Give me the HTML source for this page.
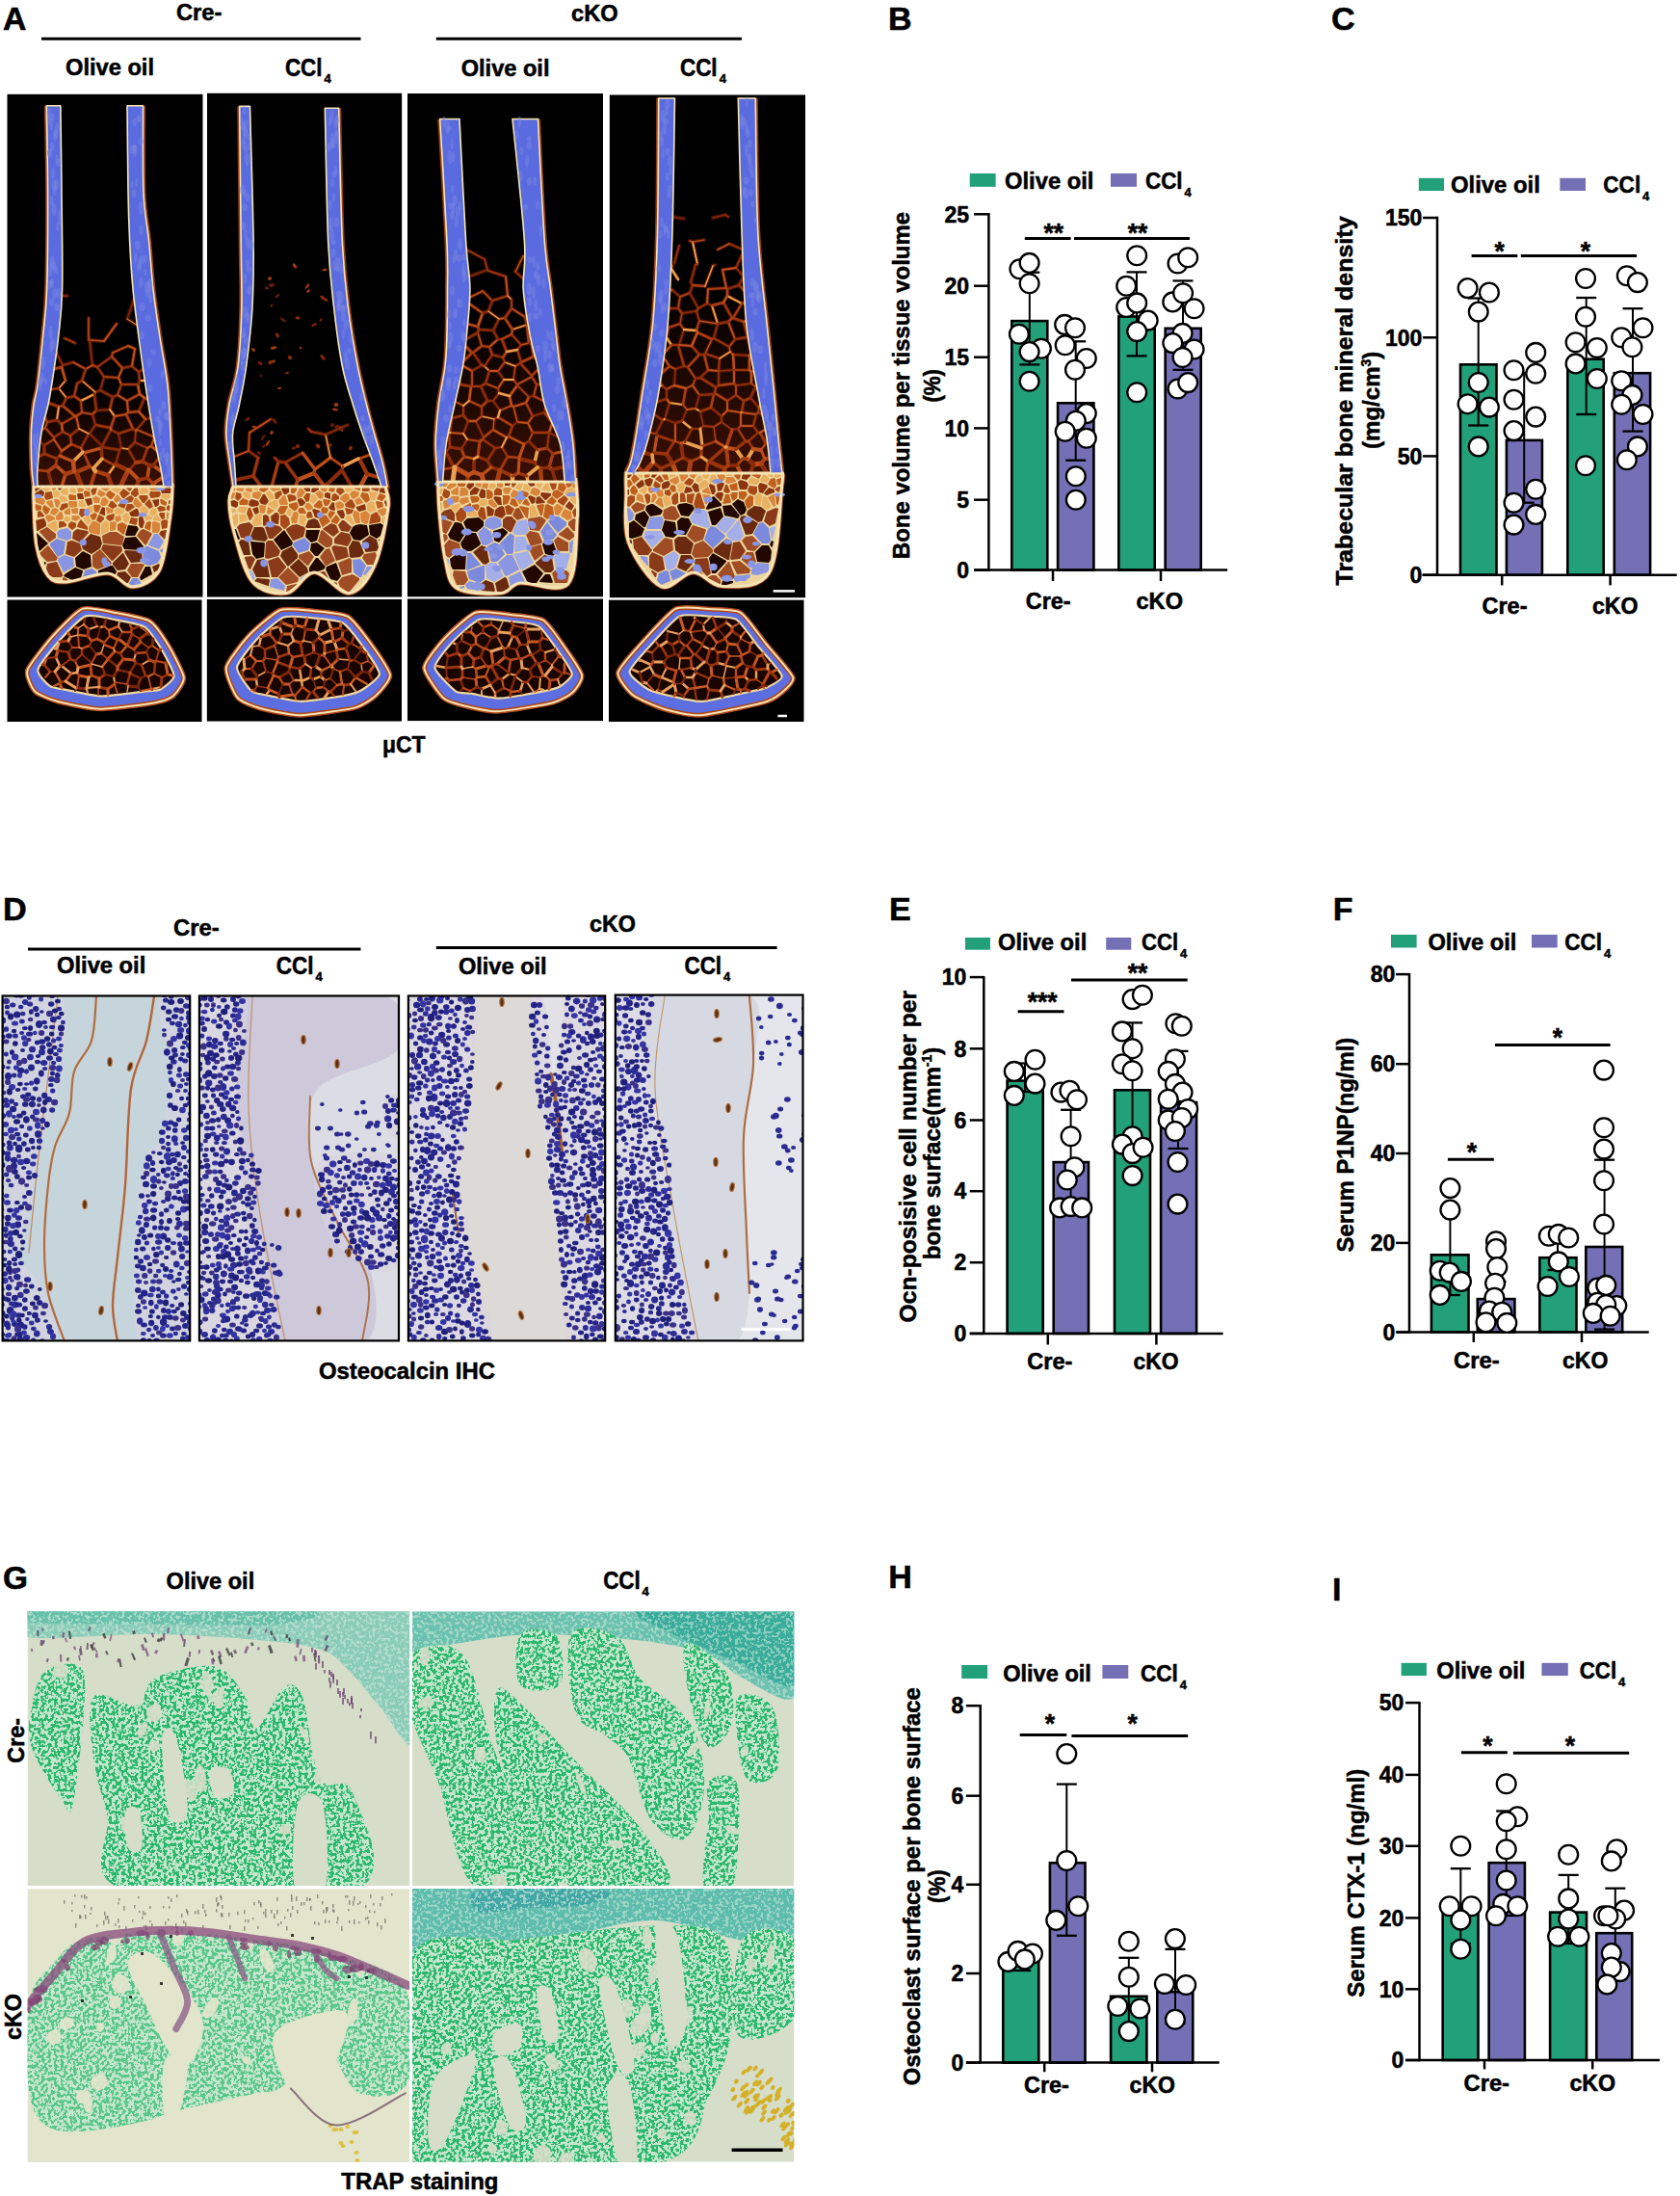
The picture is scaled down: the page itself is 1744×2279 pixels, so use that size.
<!DOCTYPE html><html><head><meta charset="utf-8"><style>html,body{margin:0;padding:0;background:#fff;width:1744px;height:2279px;overflow:hidden;position:relative} text{stroke:#000;stroke-width:0.55px;paint-order:stroke}</style></head><body><svg width="1744" height="2279" viewBox="0 0 1744 2279" style="position:absolute;left:0;top:0;font-family:'Liberation Sans',sans-serif;font-weight:bold">
<rect width="100%" height="100%" fill="#fff"/>
<clipPath id="mclip0"><rect x="7.3" y="97.6" width="203.4" height="522.1"/></clipPath>
<g clip-path="url(#mclip0)">
<rect x="7.3" y="97.6" width="203.4" height="522.1" fill="#000"/>
<path d="M48.3,109.7 C48.5,124.8 49.5,168.3 49.6,200.0 C49.7,231.7 49.5,275.0 48.6,300.0 C47.8,325.0 46.1,333.3 44.5,350.0 C42.9,366.7 40.6,388.3 39.0,400.0 C37.4,411.7 36.1,411.8 35.0,420.0 C33.9,428.2 32.7,438.0 32.4,449.0 C32.1,460.0 32.6,476.7 33.0,486.0 C33.4,495.3 34.7,499.3 35.0,505.0 C35.3,510.7 34.5,509.7 35.0,520.0 C35.5,530.3 35.5,553.8 38.0,566.7 C40.5,579.7 44.8,591.5 50.0,597.7 C55.2,603.9 58.7,604.5 69.0,604.0 C79.3,603.5 100.5,594.2 112.0,595.0 C123.5,595.8 129.1,609.6 138.0,609.0 C146.9,608.4 159.1,603.7 165.5,591.5 C171.9,579.3 174.4,550.2 176.7,535.8 C178.9,521.4 178.6,510.1 179.0,505.0 C179.4,499.9 179.1,508.2 179.0,505.0 C178.9,501.8 178.8,495.3 178.5,486.0 C178.2,476.7 177.8,463.3 177.0,449.0 C176.2,434.7 175.8,416.5 174.0,400.0 C172.2,383.5 168.5,366.7 166.0,350.0 C163.5,333.3 160.9,316.7 159.0,300.0 C157.1,283.3 156.3,266.7 154.6,250.0 C152.9,233.3 150.0,223.4 149.0,200.0 C148.0,176.6 148.6,124.8 148.5,109.7" fill="none" stroke="#b0461a" stroke-width="5" stroke-linejoin="round" opacity="0.85"/>
<linearGradient id="mgb0" x1="0" y1="97.6" x2="0" y2="619.7" gradientUnits="userSpaceOnUse"><stop offset="0" stop-color="#000"/><stop offset="0.579" stop-color="#000"/><stop offset="0.780" stop-color="#3c1004"/><stop offset="1" stop-color="#3c1004"/></linearGradient>
<path d="M62.9,109.7 L64.0,200.0 L64.6,300.0 L60.6,350.0 L53.6,400.0 L50.0,420.0 L43.0,449.0 L39.0,486.0 L39.0,505.0 L170.0,505.0 L166.8,486.0 L159.0,449.0 L151.0,400.0 L144.0,350.0 L138.0,300.0 L134.6,250.0 L133.0,200.0 L132.0,109.7Z" fill="url(#mgb0)"/>
<path d="M39,488L50,489M78,432L65,421M85,428L79,432M119,483L120,482M115,444L119,432M138,445L131,430M87,470L93,484M119,483L106,476M96,430L100,426M160,455L159,453M150,413L153,414M133,428L144,427M132,416L145,409M84,416L77,411M127,382L116,370M56,454L56,456M58,483L59,476M56,383L64,381M54,505L50,489M106,476L105,465M64,307L70,307M92,450L93,450M93,450L106,463M123,450L126,465M100,426L114,425M156,434L151,435M76,376L65,379M58,365L65,379M93,353L96,379M108,391L104,405M99,407L104,405M42,459L46,462M47,434L49,438M50,418L61,422M99,441L115,444M159,453L160,452M133,428L131,430M84,465L74,461M101,381L96,379M114,425L117,412M46,471L59,476M148,479L153,465M159,483L165,475M61,422L59,436M84,416L98,409M119,432L114,425M145,395L150,395M49,438L59,436M59,436L64,440M115,446L106,463M106,464L124,467M92,450L84,465M100,426L98,409M141,447L138,445M82,445L73,452M134,488L141,480M141,480L133,466M140,459L133,466M98,409L99,407M64,468L62,473M59,476L62,473M78,432L64,440M85,428L84,416M157,434L156,434M47,444L56,454M74,461L73,452M80,398L77,411M116,370L117,366M123,392L108,391M46,462L56,456M65,421L61,422M96,430L85,428M49,438L47,444M44,446L47,444M92,330L92,353M142,446L159,453M93,353L108,354M133,359L117,366M76,376L89,383M99,441L93,450M123,450L115,446M120,482L124,467M144,427L150,413M145,395L143,399M122,410L117,412M117,412L104,405M149,383L144,386M127,382L137,380M99,441L96,430M142,446L151,435M141,447L140,459M92,353L93,353M101,381L108,391M140,459L153,465M82,445L79,432M119,432L131,430M160,455L160,455M132,416L133,428M79,432L78,432M121,336L108,354M89,383L96,379M123,392L126,399M132,416L122,410M127,382L123,392M56,456L64,468M157,463L153,465M160,455L157,463M140,362L137,380M133,359L140,362M82,445L92,450M126,465L133,466M99,407L85,395M68,395L61,403M69,413L61,403M115,444L115,446M84,465L86,469M144,427L151,435M141,447L142,446M145,409L150,413M145,409L143,399M64,440L65,448M74,461L64,468M163,468L157,463M64,381L68,395M159,505L159,502M159,502L168,496M64,505L68,492M68,492L58,483M153,496L155,483M167,489L159,483M119,483L112,493M116,505L112,493M133,488L120,482M142,505L144,498M125,505L133,488M106,464L106,463M78,356L67,351M157,435L156,434M73,452L65,448M116,370L101,381M122,410L126,399M144,386L137,380M65,379L64,381M124,467L126,465M123,450L138,445M56,454L65,448M65,421L69,413M69,413L77,411M80,398L85,395M143,399L126,399M85,395L89,383M145,395L144,386M61,403L53,404M112,493L99,489M99,489L94,505M50,489L58,483M141,480L148,479M87,470L105,465M76,479L62,473M93,484L97,486M86,469L87,470M106,464L105,465M79,490L77,489M46,462L46,471M97,486L106,476M86,469L76,479M99,489L97,486M79,490L93,484M68,492L77,489M85,505L79,490M76,479L77,489M133,488L134,488M134,488L144,498M159,502L153,496M144,498L153,496M148,479L155,483M139,311L132,331M143,338L132,331M40,474L46,471M159,483L155,483" stroke="#4a1204" stroke-width="4" fill="none" stroke-linecap="round" stroke-linejoin="round"/>
<path d="M39,488L50,489M78,432L65,421M85,428L79,432M119,483L120,482M115,444L119,432M138,445L131,430M87,470L93,484M119,483L106,476M96,430L100,426M160,455L159,453M150,413L153,414M133,428L144,427M132,416L145,409M84,416L77,411M127,382L116,370M56,454L56,456M58,483L59,476M56,383L64,381" stroke="#a83e14" stroke-width="2.5" fill="none" stroke-linecap="round"/>
<path d="M54,505L50,489M106,476L105,465" stroke="#8a2c0a" stroke-width="3.5" fill="none" stroke-linecap="round"/>
<path d="M64,307L70,307M92,450L93,450M93,450L106,463M123,450L126,465M100,426L114,425M156,434L151,435M76,376L65,379M58,365L65,379M93,353L96,379M108,391L104,405M99,407L104,405M42,459L46,462" stroke="#8a2c0a" stroke-width="1.5" fill="none" stroke-linecap="round"/>
<path d="M47,434L49,438M50,418L61,422M99,441L115,444M159,453L160,452M133,428L131,430M84,465L74,461M101,381L96,379M114,425L117,412M46,471L59,476M148,479L153,465M159,483L165,475" stroke="#9a340c" stroke-width="2.5" fill="none" stroke-linecap="round"/>
<path d="M61,422L59,436M84,416L98,409M119,432L114,425M145,395L150,395" stroke="#e8a050" stroke-width="2.0" fill="none" stroke-linecap="round"/>
<path d="M49,438L59,436M59,436L64,440M115,446L106,463M106,464L124,467M92,450L84,465M100,426L98,409M141,447L138,445M82,445L73,452M134,488L141,480M141,480L133,466M140,459L133,466M98,409L99,407M64,468L62,473M59,476L62,473" stroke="#8a2c0a" stroke-width="2.5" fill="none" stroke-linecap="round"/>
<path d="M78,432L64,440M85,428L84,416M157,434L156,434M47,444L56,454M74,461L73,452M80,398L77,411M116,370L117,366M123,392L108,391M46,462L56,456" stroke="#a83e14" stroke-width="2.0" fill="none" stroke-linecap="round"/>
<path d="M65,421L61,422M96,430L85,428M49,438L47,444M44,446L47,444M92,330L92,353M142,446L159,453M93,353L108,354M133,359L117,366M76,376L89,383" stroke="#bc501c" stroke-width="1.5" fill="none" stroke-linecap="round"/>
<path d="M99,441L93,450M123,450L115,446M120,482L124,467M144,427L150,413M145,395L143,399M122,410L117,412M117,412L104,405M149,383L144,386M127,382L137,380" stroke="#8a2c0a" stroke-width="2.0" fill="none" stroke-linecap="round"/>
<path d="M99,441L96,430M142,446L151,435M141,447L140,459M92,353L93,353M101,381L108,391M140,459L153,465" stroke="#9a340c" stroke-width="1.5" fill="none" stroke-linecap="round"/>
<path d="M82,445L79,432M119,432L131,430M160,455L160,455M132,416L133,428M79,432L78,432M121,336L108,354M89,383L96,379M123,392L126,399M132,416L122,410M127,382L123,392M56,456L64,468M157,463L153,465M160,455L157,463M140,362L137,380M133,359L140,362" stroke="#bc501c" stroke-width="2.0" fill="none" stroke-linecap="round"/>
<path d="M82,445L92,450M126,465L133,466M99,407L85,395M68,395L61,403M69,413L61,403" stroke="#e8a050" stroke-width="1.5" fill="none" stroke-linecap="round"/>
<path d="M115,444L115,446M84,465L86,469M144,427L151,435M141,447L142,446M145,409L150,413M145,409L143,399M64,440L65,448M74,461L64,468M163,468L157,463M64,381L68,395" stroke="#bc501c" stroke-width="2.5" fill="none" stroke-linecap="round"/>
<path d="M159,505L159,502" stroke="#bc501c" stroke-width="5.0" fill="none" stroke-linecap="round"/>
<path d="M159,502L168,496M64,505L68,492M68,492L58,483M153,496L155,483M167,489L159,483" stroke="#bc501c" stroke-width="3.5" fill="none" stroke-linecap="round"/>
<path d="M119,483L112,493" stroke="#e8a050" stroke-width="2.5" fill="none" stroke-linecap="round"/>
<path d="M116,505L112,493M133,488L120,482M142,505L144,498" stroke="#9a340c" stroke-width="4.5" fill="none" stroke-linecap="round"/>
<path d="M125,505L133,488" stroke="#a83e14" stroke-width="5.0" fill="none" stroke-linecap="round"/>
<path d="M106,464L106,463M78,356L67,351M157,435L156,434M73,452L65,448M116,370L101,381M122,410L126,399M144,386L137,380M65,379L64,381" stroke="#a83e14" stroke-width="1.5" fill="none" stroke-linecap="round"/>
<path d="M124,467L126,465M123,450L138,445M56,454L65,448M65,421L69,413M69,413L77,411M80,398L85,395M143,399L126,399M85,395L89,383M145,395L144,386M61,403L53,404" stroke="#9a340c" stroke-width="2.0" fill="none" stroke-linecap="round"/>
<path d="M112,493L99,489M99,489L94,505M50,489L58,483M141,480L148,479" stroke="#a83e14" stroke-width="4.0" fill="none" stroke-linecap="round"/>
<path d="M87,470L105,465M76,479L62,473" stroke="#bc501c" stroke-width="3.0" fill="none" stroke-linecap="round"/>
<path d="M93,484L97,486M86,469L87,470M106,464L105,465M79,490L77,489M46,462L46,471" stroke="#8a2c0a" stroke-width="3.0" fill="none" stroke-linecap="round"/>
<path d="M97,486L106,476M86,469L76,479" stroke="#e8a050" stroke-width="3.5" fill="none" stroke-linecap="round"/>
<path d="M99,489L97,486" stroke="#e8a050" stroke-width="4.5" fill="none" stroke-linecap="round"/>
<path d="M79,490L93,484M68,492L77,489" stroke="#a83e14" stroke-width="4.5" fill="none" stroke-linecap="round"/>
<path d="M85,505L79,490" stroke="#9a340c" stroke-width="5.0" fill="none" stroke-linecap="round"/>
<path d="M76,479L77,489" stroke="#bc501c" stroke-width="4.5" fill="none" stroke-linecap="round"/>
<path d="M133,488L134,488M134,488L144,498" stroke="#bc501c" stroke-width="4.0" fill="none" stroke-linecap="round"/>
<path d="M159,502L153,496" stroke="#a83e14" stroke-width="3.5" fill="none" stroke-linecap="round"/>
<path d="M144,498L153,496M148,479L155,483" stroke="#9a340c" stroke-width="3.5" fill="none" stroke-linecap="round"/>
<path d="M139,311L132,331" stroke="#8a2c0a" stroke-width="1.0" fill="none" stroke-linecap="round"/>
<path d="M143,338L132,331" stroke="#e8a050" stroke-width="1.0" fill="none" stroke-linecap="round"/>
<path d="M40,474L46,471" stroke="#9a340c" stroke-width="3.0" fill="none" stroke-linecap="round"/>
<path d="M159,483L155,483" stroke="#8a2c0a" stroke-width="4.5" fill="none" stroke-linecap="round"/>
<path d="M35.0,505.0 C35.0,507.5 34.5,509.7 35.0,520.0 C35.5,530.3 35.5,553.8 38.0,566.7 C40.5,579.7 44.8,591.5 50.0,597.7 C55.2,603.9 58.7,604.5 69.0,604.0 C79.3,603.5 100.5,594.2 112.0,595.0 C123.5,595.8 129.1,609.6 138.0,609.0 C146.9,608.4 159.1,603.7 165.5,591.5 C171.9,579.3 174.4,550.2 176.7,535.8 C178.9,521.4 178.6,510.1 179.0,505.0 C179.4,499.9 179.0,505.0 179.0,505.0Z" fill="#ecd49c"/>
<path d="M109,525L111,524L113,520L109,516L106,517L104,523L106,525ZM66,536L64,531L62,531L58,536L58,539L60,540L65,539ZM111,533L112,533L117,532L118,529L111,526L110,527ZM160,541L158,542L158,552L159,553L164,553L166,550L166,543ZM73,534L73,528L72,527L66,531L68,534ZM80,521L79,520L72,520L71,521L72,526L74,527L80,526ZM121,542L126,540L125,535L120,536L119,539ZM88,507L93,509L94,506L89,506ZM105,516L109,514L110,512L103,508L101,513ZM79,541L83,538L83,537L81,535L75,535L74,539ZM47,520L45,517L36,517L36,518L36,521L44,524L46,523ZM173,538L174,539L175,539L176,532L173,532ZM106,506L105,507L110,510L114,507L113,506ZM81,510L81,511L86,510L87,508L86,506L80,506ZM81,527L74,528L75,533L81,533ZM155,506L156,509L165,509L166,506L165,506L156,506ZM47,537L50,542L57,539L57,537L51,534L48,535ZM57,518L56,519L58,526L60,527L63,521L60,518ZM99,541L96,541L92,547L92,551L94,553L103,555L104,554L104,544ZM61,529L57,527L54,528L52,533L57,535L61,530ZM114,550L115,551L120,550L121,543L119,541L114,542ZM141,526L144,527L148,524L142,517L140,517L138,522ZM97,516L96,517L98,522L103,522L104,517L100,515ZM118,518L118,519L121,522L126,518L122,513ZM53,527L56,526L54,519L49,520L48,522ZM54,508L55,509L58,508L58,506L54,506Z" fill="#d8843a"/>
<path d="M151,567L148,572L149,584L151,586L156,587L164,584L167,578L165,572L153,567ZM52,564L52,566L60,578L66,575L68,562L59,559ZM100,593L95,590L88,592L86,599L87,600L100,597L101,596ZM134,605L134,606L138,608L145,603L143,600L138,600Z" fill="#7c8ade"/>
<path d="M106,556L106,557L107,564L126,566L127,565L129,557L121,552L114,552ZM136,585L132,592L137,599L143,599L150,586L148,585ZM49,547L41,551L41,552L51,563L58,558L58,554ZM96,588L101,591L115,586L116,584L104,570L96,576ZM149,549L146,550L142,556L151,566L152,565L158,554L157,553ZM49,583L58,582L60,579L50,566L41,574L43,577ZM66,599L65,600L65,602L69,603L70,603L70,601Z" fill="#a04c24"/>
<path d="M115,507L122,512L123,512L126,507L125,506L116,506ZM92,535L90,535L86,538L91,545L95,541ZM105,554L106,555L113,551L113,542L110,540L105,544ZM63,510L64,513L70,514L71,512L70,506L68,506ZM131,543L133,542L135,537L133,533L131,532L127,535L128,540ZM162,528L160,527L156,529L155,533L158,536L163,533L163,532ZM91,526L90,528L91,533L92,534L97,530L96,525ZM73,540L72,536L68,536L66,540L70,542ZM78,512L79,511L78,506L72,506L73,511ZM150,525L148,525L145,528L147,535L148,535L154,532L154,529ZM145,512L146,513L153,512L154,509L153,506L145,506ZM89,525L86,519L82,520L82,526L89,526ZM62,511L59,509L55,510L56,516L60,516L62,514ZM45,506L44,507L47,510L52,508L52,506ZM58,540L50,544L49,546L58,552L60,549L59,542ZM169,513L168,514L167,516L173,519L178,515L177,513ZM164,535L163,534L159,537L159,540L166,541L167,540ZM122,527L119,529L119,532L120,534L126,534L129,531L129,529ZM70,520L69,516L63,514L61,517L64,521ZM154,534L149,536L152,540L158,539L158,537Z" fill="#e8b060"/>
<path d="M78,579L79,588L87,591L95,588L94,576L86,572ZM48,585L47,583L46,583L46,586ZM117,587L115,587L102,592L102,596L103,596L112,594L119,598L121,593ZM86,593L86,592L78,589L67,596L66,598L75,602L84,600ZM130,555L131,556L140,556L144,549L142,546L133,545ZM141,557L130,558L127,566L129,570L147,571L149,567ZM145,599L146,602L147,602L158,596L156,588L151,588ZM50,564L38,553L38,554L39,566L40,571L41,572Z" fill="#220700"/>
<path d="M114,518L116,518L120,513L114,509L111,511L110,514ZM50,533L52,528L46,524L45,525L44,529L47,534ZM98,524L97,525L98,531L102,532L105,525L103,524ZM157,542L156,541L152,542L150,548L156,551ZM168,518L166,518L167,523L172,525L173,523L173,521ZM37,523L36,523L36,529L39,530L43,529L43,525ZM71,515L72,519L79,519L79,514L72,513ZM93,515L94,514L93,510L88,509L87,511L88,516ZM98,532L93,535L96,540L99,539L101,534L100,533ZM127,542L122,544L122,550L128,555L129,554L132,545Z" fill="#c0601e"/>
<path d="M70,562L68,575L77,578L85,571L83,564L75,561ZM59,583L58,583L49,585L48,590L51,597L55,599L63,599L65,598L65,596ZM116,582L117,582L127,572L126,567L107,565L105,570ZM80,549L76,552L75,559L83,563L92,553L91,551ZM167,551L165,554L170,559L171,560L173,550L172,550Z" fill="#8a3a18"/>
<path d="M103,534L102,535L100,540L104,543L108,539L108,537ZM156,519L155,518L150,523L155,528L159,526ZM64,530L71,526L70,522L64,523L62,528L62,529ZM128,519L127,519L122,525L129,528L131,523ZM156,516L157,517L165,516L167,513L166,510L156,510L155,513ZM127,517L129,517L135,512L134,511L128,507L124,512ZM54,511L53,510L47,511L46,516L48,519L55,517ZM148,522L150,522L154,517L153,514L145,514L144,516ZM175,520L175,523L177,523L177,519L176,519ZM171,530L172,529L171,526L166,525L163,527L165,531ZM46,535L42,530L39,531L39,537L46,536ZM82,534L85,537L89,534L88,528L83,528ZM130,529L131,530L133,531L139,527L140,526L137,523L132,523ZM141,545L142,544L143,538L136,537L134,543ZM136,511L136,513L140,516L142,515L144,513L143,506L140,506ZM137,521L139,517L136,514L129,518L132,522ZM94,509L96,514L99,513L101,506L97,506ZM172,539L168,540L167,542L168,549L174,548L175,541ZM132,506L131,507L135,510L137,507L137,506ZM117,528L121,526L121,524L117,520L115,520L112,525ZM85,540L84,539L81,543L80,547L91,550L91,547ZM175,530L177,530L177,525L175,524L173,526L173,529ZM110,538L114,541L118,539L119,534L118,533L111,535ZM166,532L165,534L168,539L171,538L171,532ZM62,541L61,542L61,548L69,546L69,544L66,541ZM71,544L71,547L75,550L79,547L79,543L74,541Z" fill="#a84a18"/>
<path d="M94,554L84,564L86,570L95,575L104,569L106,564L104,557ZM133,605L136,599L130,593L122,594L121,599L131,605ZM128,574L127,574L117,584L117,586L122,592L130,591L134,585ZM130,571L129,573L136,584L148,583L147,572ZM165,585L158,588L160,594L165,591L166,587Z" fill="#6a2a10"/>
<path d="M60,507L62,509L65,506L64,506L61,506ZM95,517L94,517L88,518L91,525L96,523ZM167,509L168,512L177,512L178,511L178,506L177,506L168,506ZM81,512L80,513L81,518L87,518L87,517L86,512ZM143,536L145,534L143,528L141,528L134,532L136,536ZM37,510L43,506L42,506L36,506L36,510ZM46,538L45,538L37,540L38,551L39,551L48,546L48,543ZM109,535L109,527L106,526L103,533L108,535ZM150,542L148,536L146,536L144,537L144,545L146,548L148,548ZM46,511L44,509L43,508L36,512L36,515L45,515ZM165,524L165,518L158,519L161,526L162,526Z" fill="#8a3410"/>
<path d="M167,573L169,573L169,569L166,571ZM61,550L59,553L60,558L69,561L74,559L74,552L70,548ZM61,579L60,582L66,594L77,588L76,579L67,576ZM154,565L154,566L165,570L170,562L164,554L160,554Z" fill="#8a96e2"/>
<ellipse cx="90.1" cy="531.7" rx="3.1" ry="3.8" fill="#8a96e4"/>
<ellipse cx="39.8" cy="514.9" rx="3.9" ry="2.1" fill="#8a96e4"/>
<ellipse cx="110.7" cy="585.5" rx="3.9" ry="3.0" fill="#8a96e4"/>
<ellipse cx="150.3" cy="581.4" rx="5.3" ry="2.8" fill="#8a96e4"/>
<ellipse cx="128.7" cy="520.5" rx="4.8" ry="2.6" fill="#8a96e4"/>
<ellipse cx="108.4" cy="581.9" rx="3.0" ry="3.6" fill="#8a96e4"/>
<ellipse cx="143.0" cy="605.2" rx="3.2" ry="2.6" fill="#8a96e4"/>
<ellipse cx="148.1" cy="534.2" rx="4.2" ry="2.2" fill="#8a96e4"/>
<ellipse cx="146.9" cy="571.1" rx="5.6" ry="3.4" fill="#8a96e4"/>
<ellipse cx="86.3" cy="563.0" rx="3.6" ry="3.2" fill="#8a96e4"/>
<ellipse cx="166.8" cy="507.0" rx="4.9" ry="2.0" fill="#8a96e4"/>
<path d="M35.0,505.0 C35.0,507.5 34.5,509.7 35.0,520.0 C35.5,530.3 35.5,553.8 38.0,566.7 C40.5,579.7 44.8,591.5 50.0,597.7 C55.2,603.9 58.7,604.5 69.0,604.0 C79.3,603.5 100.5,594.2 112.0,595.0 C123.5,595.8 129.1,609.6 138.0,609.0 C146.9,608.4 159.1,603.7 165.5,591.5 C171.9,579.3 174.4,550.2 176.7,535.8 C178.9,521.4 178.6,510.1 179.0,505.0 C179.4,499.9 179.0,505.0 179.0,505.0Z" fill="none" stroke="#f5e4b4" stroke-width="3"/>
<path d="M48.3,109.7 C48.5,124.8 49.5,168.3 49.6,200.0 C49.7,231.7 49.5,275.0 48.6,300.0 C47.8,325.0 46.1,333.3 44.5,350.0 C42.9,366.7 40.6,388.3 39.0,400.0 C37.4,411.7 36.1,411.8 35.0,420.0 C33.9,428.2 32.7,438.0 32.4,449.0 C32.1,460.0 32.6,476.7 33.0,486.0 C33.4,495.3 34.7,501.8 35.0,505.0 L39.0,505.0 C39.0,501.8 38.3,495.3 39.0,486.0 C39.7,476.7 41.2,460.0 43.0,449.0 C44.8,438.0 48.2,428.2 50.0,420.0 C51.8,411.8 51.8,411.7 53.6,400.0 C55.4,388.3 58.8,366.7 60.6,350.0 C62.4,333.3 64.0,325.0 64.6,300.0 C65.2,275.0 64.3,231.7 64.0,200.0 C63.7,168.3 63.1,124.8 62.9,109.7Z" fill="#5a6be0" stroke="#f6e6b0" stroke-width="1.6" stroke-linejoin="round"/>
<path d="M132.0,109.7 C132.2,124.8 132.6,176.6 133.0,200.0 C133.4,223.4 133.8,233.3 134.6,250.0 C135.4,266.7 136.4,283.3 138.0,300.0 C139.6,316.7 141.8,333.3 144.0,350.0 C146.2,366.7 148.5,383.5 151.0,400.0 C153.5,416.5 156.4,434.7 159.0,449.0 C161.6,463.3 165.0,476.7 166.8,486.0 C168.6,495.3 169.5,501.8 170.0,505.0 L179.0,505.0 C178.9,501.8 178.8,495.3 178.5,486.0 C178.2,476.7 177.8,463.3 177.0,449.0 C176.2,434.7 175.8,416.5 174.0,400.0 C172.2,383.5 168.5,366.7 166.0,350.0 C163.5,333.3 160.9,316.7 159.0,300.0 C157.1,283.3 156.3,266.7 154.6,250.0 C152.9,233.3 150.0,223.4 149.0,200.0 C148.0,176.6 148.6,124.8 148.5,109.7Z" fill="#5a6be0" stroke="#f6e6b0" stroke-width="1.6" stroke-linejoin="round"/>
<ellipse cx="37.4" cy="468.3" rx="1.9" ry="5.7" fill="#7c88e0" opacity="0.45"/>
<ellipse cx="41.4" cy="399.4" rx="2.0" ry="6.1" fill="#7c88e0" opacity="0.45"/>
<ellipse cx="51.0" cy="124.5" rx="1.8" ry="4.8" fill="#7c88e0" opacity="0.45"/>
<ellipse cx="52.7" cy="345.4" rx="2.1" ry="6.9" fill="#7c88e0" opacity="0.45"/>
<ellipse cx="56.0" cy="217.6" rx="2.6" ry="6.9" fill="#7c88e0" opacity="0.45"/>
<ellipse cx="59.9" cy="235.4" rx="1.6" ry="4.9" fill="#7c88e0" opacity="0.45"/>
<ellipse cx="37.3" cy="479.5" rx="2.2" ry="5.2" fill="#7c88e0" opacity="0.45"/>
<ellipse cx="61.6" cy="222.9" rx="1.7" ry="4.4" fill="#7c88e0" opacity="0.45"/>
<ellipse cx="59.1" cy="165.3" rx="1.7" ry="5.1" fill="#7c88e0" opacity="0.45"/>
<ellipse cx="35.5" cy="456.6" rx="2.3" ry="6.5" fill="#7c88e0" opacity="0.45"/>
<ellipse cx="57.9" cy="140.1" rx="2.0" ry="3.7" fill="#7c88e0" opacity="0.45"/>
<ellipse cx="54.9" cy="356.8" rx="2.9" ry="5.6" fill="#7c88e0" opacity="0.45"/>
<ellipse cx="56.9" cy="197.7" rx="1.8" ry="5.6" fill="#7c88e0" opacity="0.45"/>
<ellipse cx="38.0" cy="465.7" rx="1.7" ry="5.9" fill="#7c88e0" opacity="0.45"/>
<ellipse cx="55.6" cy="275.4" rx="2.7" ry="4.5" fill="#7c88e0" opacity="0.45"/>
<ellipse cx="54.1" cy="121.2" rx="2.6" ry="3.7" fill="#7c88e0" opacity="0.45"/>
<ellipse cx="57.3" cy="140.4" rx="2.4" ry="6.8" fill="#7c88e0" opacity="0.45"/>
<ellipse cx="54.1" cy="152.2" rx="2.3" ry="4.6" fill="#7c88e0" opacity="0.45"/>
<ellipse cx="60.5" cy="319.2" rx="1.6" ry="4.1" fill="#7c88e0" opacity="0.45"/>
<ellipse cx="51.3" cy="295.8" rx="2.0" ry="4.5" fill="#7c88e0" opacity="0.45"/>
<ellipse cx="59.5" cy="133.0" rx="2.1" ry="5.8" fill="#7c88e0" opacity="0.45"/>
<ellipse cx="47.1" cy="395.2" rx="1.7" ry="3.5" fill="#7c88e0" opacity="0.45"/>
<ellipse cx="51.9" cy="159.0" rx="2.9" ry="4.7" fill="#7c88e0" opacity="0.45"/>
<ellipse cx="53.6" cy="294.2" rx="2.5" ry="5.1" fill="#7c88e0" opacity="0.45"/>
<ellipse cx="51.1" cy="158.2" rx="2.0" ry="3.7" fill="#7c88e0" opacity="0.45"/>
<ellipse cx="56.2" cy="192.5" rx="2.3" ry="6.6" fill="#7c88e0" opacity="0.45"/>
<ellipse cx="60.7" cy="168.9" rx="2.3" ry="4.5" fill="#7c88e0" opacity="0.45"/>
<ellipse cx="51.0" cy="116.7" rx="2.4" ry="4.7" fill="#7c88e0" opacity="0.45"/>
<ellipse cx="53.5" cy="313.2" rx="2.7" ry="4.1" fill="#7c88e0" opacity="0.45"/>
<ellipse cx="52.0" cy="280.1" rx="2.0" ry="6.9" fill="#7c88e0" opacity="0.45"/>
<ellipse cx="61.7" cy="229.3" rx="1.6" ry="4.4" fill="#7c88e0" opacity="0.45"/>
<ellipse cx="53.2" cy="293.5" rx="1.8" ry="3.1" fill="#7c88e0" opacity="0.45"/>
<ellipse cx="43.6" cy="391.4" rx="2.6" ry="5.5" fill="#7c88e0" opacity="0.45"/>
<ellipse cx="41.9" cy="395.5" rx="2.3" ry="4.9" fill="#7c88e0" opacity="0.45"/>
<ellipse cx="56.5" cy="304.5" rx="2.6" ry="5.5" fill="#7c88e0" opacity="0.45"/>
<ellipse cx="44.6" cy="376.9" rx="2.8" ry="6.8" fill="#7c88e0" opacity="0.45"/>
<ellipse cx="60.6" cy="304.8" rx="2.4" ry="5.8" fill="#7c88e0" opacity="0.45"/>
<ellipse cx="54.3" cy="271.8" rx="2.7" ry="6.2" fill="#7c88e0" opacity="0.45"/>
<ellipse cx="57.3" cy="280.3" rx="2.8" ry="4.2" fill="#7c88e0" opacity="0.45"/>
<ellipse cx="53.3" cy="128.6" rx="2.0" ry="7.0" fill="#7c88e0" opacity="0.45"/>
<ellipse cx="59.0" cy="318.7" rx="2.8" ry="4.5" fill="#7c88e0" opacity="0.45"/>
<ellipse cx="53.6" cy="208.1" rx="1.9" ry="5.3" fill="#7c88e0" opacity="0.45"/>
<ellipse cx="55.0" cy="180.2" rx="2.2" ry="6.2" fill="#7c88e0" opacity="0.45"/>
<ellipse cx="39.1" cy="454.6" rx="1.7" ry="6.7" fill="#7c88e0" opacity="0.45"/>
<ellipse cx="53.3" cy="360.0" rx="1.8" ry="5.0" fill="#7c88e0" opacity="0.45"/>
<ellipse cx="58.7" cy="191.7" rx="2.4" ry="5.6" fill="#7c88e0" opacity="0.45"/>
<ellipse cx="173.8" cy="474.1" rx="1.9" ry="5.9" fill="#7c88e0" opacity="0.45"/>
<ellipse cx="141.6" cy="189.2" rx="1.7" ry="3.9" fill="#7c88e0" opacity="0.45"/>
<ellipse cx="156.2" cy="310.4" rx="2.0" ry="3.9" fill="#7c88e0" opacity="0.45"/>
<ellipse cx="147.2" cy="269.7" rx="2.9" ry="4.7" fill="#7c88e0" opacity="0.45"/>
<ellipse cx="155.8" cy="296.5" rx="2.7" ry="6.7" fill="#7c88e0" opacity="0.45"/>
<ellipse cx="147.0" cy="348.0" rx="2.8" ry="4.3" fill="#7c88e0" opacity="0.45"/>
<ellipse cx="166.6" cy="459.1" rx="1.6" ry="4.0" fill="#7c88e0" opacity="0.45"/>
<ellipse cx="139.2" cy="200.8" rx="2.5" ry="4.3" fill="#7c88e0" opacity="0.45"/>
<ellipse cx="171.9" cy="495.1" rx="1.9" ry="3.9" fill="#7c88e0" opacity="0.45"/>
<ellipse cx="155.7" cy="402.6" rx="2.7" ry="4.3" fill="#7c88e0" opacity="0.45"/>
<ellipse cx="159.1" cy="365.6" rx="2.9" ry="3.3" fill="#7c88e0" opacity="0.45"/>
<ellipse cx="153.7" cy="330.1" rx="2.7" ry="3.9" fill="#7c88e0" opacity="0.45"/>
<ellipse cx="150.7" cy="282.4" rx="1.7" ry="3.6" fill="#7c88e0" opacity="0.45"/>
<ellipse cx="137.2" cy="191.5" rx="1.6" ry="3.7" fill="#7c88e0" opacity="0.45"/>
<ellipse cx="172.8" cy="474.4" rx="2.8" ry="4.1" fill="#7c88e0" opacity="0.45"/>
<ellipse cx="175.8" cy="488.7" rx="2.1" ry="6.4" fill="#7c88e0" opacity="0.45"/>
<ellipse cx="153.7" cy="303.9" rx="2.9" ry="4.5" fill="#7c88e0" opacity="0.45"/>
<ellipse cx="163.6" cy="435.0" rx="2.6" ry="3.5" fill="#7c88e0" opacity="0.45"/>
<ellipse cx="154.8" cy="294.7" rx="2.2" ry="4.8" fill="#7c88e0" opacity="0.45"/>
<ellipse cx="146.7" cy="216.2" rx="2.8" ry="6.9" fill="#7c88e0" opacity="0.45"/>
<ellipse cx="173.3" cy="432.1" rx="2.9" ry="4.7" fill="#7c88e0" opacity="0.45"/>
<ellipse cx="146.2" cy="146.4" rx="2.7" ry="4.0" fill="#7c88e0" opacity="0.45"/>
<ellipse cx="144.8" cy="124.0" rx="1.9" ry="3.0" fill="#7c88e0" opacity="0.45"/>
<ellipse cx="175.0" cy="502.4" rx="2.3" ry="3.6" fill="#7c88e0" opacity="0.45"/>
<ellipse cx="139.3" cy="152.9" rx="2.9" ry="3.2" fill="#7c88e0" opacity="0.45"/>
<ellipse cx="166.1" cy="427.5" rx="1.9" ry="4.0" fill="#7c88e0" opacity="0.45"/>
<ellipse cx="168.8" cy="388.5" rx="1.9" ry="4.0" fill="#7c88e0" opacity="0.45"/>
<ellipse cx="170.0" cy="420.7" rx="2.5" ry="4.7" fill="#7c88e0" opacity="0.45"/>
<ellipse cx="145.0" cy="273.6" rx="1.9" ry="5.4" fill="#7c88e0" opacity="0.45"/>
<ellipse cx="147.7" cy="318.8" rx="2.9" ry="4.4" fill="#7c88e0" opacity="0.45"/>
<ellipse cx="140.9" cy="267.7" rx="1.6" ry="6.0" fill="#7c88e0" opacity="0.45"/>
<ellipse cx="146.5" cy="238.6" rx="2.0" ry="5.4" fill="#7c88e0" opacity="0.45"/>
<ellipse cx="137.1" cy="155.1" rx="2.6" ry="4.9" fill="#7c88e0" opacity="0.45"/>
<ellipse cx="144.0" cy="122.8" rx="2.5" ry="3.7" fill="#7c88e0" opacity="0.45"/>
<ellipse cx="154.8" cy="376.5" rx="2.6" ry="5.6" fill="#7c88e0" opacity="0.45"/>
<ellipse cx="140.2" cy="154.7" rx="2.0" ry="4.6" fill="#7c88e0" opacity="0.45"/>
<ellipse cx="152.4" cy="298.2" rx="2.6" ry="6.1" fill="#7c88e0" opacity="0.45"/>
<ellipse cx="146.4" cy="293.2" rx="2.2" ry="6.1" fill="#7c88e0" opacity="0.45"/>
<ellipse cx="165.8" cy="439.9" rx="1.8" ry="4.7" fill="#7c88e0" opacity="0.45"/>
<ellipse cx="165.8" cy="447.9" rx="1.8" ry="4.2" fill="#7c88e0" opacity="0.45"/>
<ellipse cx="139.7" cy="156.9" rx="1.9" ry="6.1" fill="#7c88e0" opacity="0.45"/>
<ellipse cx="169.4" cy="469.8" rx="1.6" ry="5.8" fill="#7c88e0" opacity="0.45"/>
<ellipse cx="173.2" cy="431.5" rx="2.9" ry="4.1" fill="#7c88e0" opacity="0.45"/>
<ellipse cx="166.3" cy="442.2" rx="2.6" ry="6.0" fill="#7c88e0" opacity="0.45"/>
<ellipse cx="142.9" cy="254.5" rx="2.8" ry="5.1" fill="#7c88e0" opacity="0.45"/>
<ellipse cx="151.0" cy="268.9" rx="1.8" ry="4.7" fill="#7c88e0" opacity="0.45"/>
<ellipse cx="139.8" cy="126.9" rx="2.5" ry="4.1" fill="#7c88e0" opacity="0.45"/>
<ellipse cx="173.4" cy="480.2" rx="2.6" ry="3.5" fill="#7c88e0" opacity="0.45"/>
<ellipse cx="144.4" cy="277.5" rx="2.9" ry="3.5" fill="#7c88e0" opacity="0.45"/>
<ellipse cx="166.7" cy="474.7" rx="1.5" ry="5.9" fill="#7c88e0" opacity="0.45"/>
</g>
<clipPath id="mclip1"><rect x="215" y="96.5" width="202.4" height="523.2"/></clipPath>
<g clip-path="url(#mclip1)">
<rect x="215" y="96.5" width="202.4" height="523.2" fill="#000"/>
<path d="M248.7,110.4 C248.9,133.7 249.8,215.1 250.2,250.0 C250.5,284.9 251.3,298.3 250.8,320.0 C250.3,341.7 249.2,363.3 247.1,380.0 C244.9,396.7 239.9,408.3 237.9,420.0 C235.9,431.7 234.7,440.0 234.8,450.0 C234.9,460.0 237.3,470.8 238.5,480.0 C239.7,489.2 242.1,498.3 242.0,505.0 C241.9,511.7 237.9,512.3 238.0,520.0 C238.1,527.7 238.7,537.0 242.7,551.0 C246.7,565.0 252.8,592.9 262.0,603.7 C271.2,614.5 287.1,617.2 297.8,615.6 C308.6,614.0 315.7,594.0 326.5,594.0 C337.3,594.0 352.1,616.8 362.5,615.6 C372.9,614.4 382.1,601.8 388.8,587.0 C395.6,572.2 401.1,540.7 403.0,527.0 C404.9,513.3 400.2,508.7 400.0,505.0 C399.8,501.3 402.5,509.2 402.0,505.0 C401.5,500.8 399.4,489.2 397.1,480.0 C394.9,470.8 391.3,460.0 388.5,450.0 C385.7,440.0 383.4,431.7 380.5,420.0 C377.6,408.3 374.5,396.7 371.3,380.0 C368.1,363.3 364.2,341.7 361.5,320.0 C358.8,298.3 356.9,284.6 355.3,250.0 C353.7,215.4 352.3,135.2 351.7,112.3" fill="none" stroke="#b0461a" stroke-width="5" stroke-linejoin="round" opacity="0.85"/>
<linearGradient id="mgb1" x1="0" y1="96.5" x2="0" y2="619.7" gradientUnits="userSpaceOnUse"><stop offset="0" stop-color="#000"/><stop offset="0.771" stop-color="#000"/><stop offset="0.781" stop-color="#3c1004"/><stop offset="1" stop-color="#3c1004"/></linearGradient>
<path d="M259.5,110.4 L263.1,250.0 L261.9,320.0 L255.7,380.0 L248.4,420.0 L241.6,450.0 L243.4,480.0 L245.0,505.0 L396.0,505.0 L387.3,480.0 L376.2,450.0 L366.4,420.0 L355.3,380.0 L346.7,320.0 L340.6,250.0 L337.3,112.3Z" fill="url(#mgb1)"/>
<path d="M392,495L381,492M307,505L309,498M381,492L374,505M326,491L309,498M384,472L373,476M356,484L343,475M373,476L372,476M285,475L289,479M314,470L296,480M381,492L373,476M365,505L355,488M245,498L263,494M372,476L356,484M355,488L356,484M355,488L337,505M258,468L268,475M258,468L259,449M259,449L281,435M243,474L258,468M263,494L268,475M309,498L296,480M327,487L343,475M327,487L314,470M326,491L327,487M343,475L338,451M338,451L323,448M337,505L326,491M361,441L338,451M320,445L323,448M282,505L289,479M289,479L296,480M263,494L271,505" stroke="#4a1204" stroke-width="4" fill="none" stroke-linecap="round" stroke-linejoin="round"/>
<path d="M392,495L381,492M307,505L309,498" stroke="#a83e14" stroke-width="3.5" fill="none" stroke-linecap="round"/>
<path d="M381,492L374,505M326,491L309,498" stroke="#bc501c" stroke-width="4.5" fill="none" stroke-linecap="round"/>
<path d="M384,472L373,476M356,484L343,475" stroke="#bc501c" stroke-width="2.0" fill="none" stroke-linecap="round"/>
<path d="M373,476L372,476M285,475L289,479M314,470L296,480" stroke="#9a340c" stroke-width="2.0" fill="none" stroke-linecap="round"/>
<path d="M381,492L373,476" stroke="#9a340c" stroke-width="4.0" fill="none" stroke-linecap="round"/>
<path d="M365,505L355,488M245,498L263,494" stroke="#8a2c0a" stroke-width="3.5" fill="none" stroke-linecap="round"/>
<path d="M372,476L356,484" stroke="#e8a050" stroke-width="3.5" fill="none" stroke-linecap="round"/>
<path d="M355,488L356,484" stroke="#a83e14" stroke-width="2.5" fill="none" stroke-linecap="round"/>
<path d="M355,488L337,505" stroke="#8a2c0a" stroke-width="4.0" fill="none" stroke-linecap="round"/>
<path d="M258,468L268,475" stroke="#8a2c0a" stroke-width="2.0" fill="none" stroke-linecap="round"/>
<path d="M258,468L259,449" stroke="#a83e14" stroke-width="2.0" fill="none" stroke-linecap="round"/>
<path d="M259,449L281,435M243,474L258,468" stroke="#bc501c" stroke-width="1.5" fill="none" stroke-linecap="round"/>
<path d="M263,494L268,475M309,498L296,480" stroke="#9a340c" stroke-width="3.0" fill="none" stroke-linecap="round"/>
<path d="M327,487L343,475M327,487L314,470M326,491L327,487" stroke="#bc501c" stroke-width="3.0" fill="none" stroke-linecap="round"/>
<path d="M343,475L338,451" stroke="#e8a050" stroke-width="1.5" fill="none" stroke-linecap="round"/>
<path d="M338,451L323,448" stroke="#9a340c" stroke-width="1.5" fill="none" stroke-linecap="round"/>
<path d="M337,505L326,491" stroke="#a83e14" stroke-width="4.0" fill="none" stroke-linecap="round"/>
<path d="M361,441L338,451" stroke="#a83e14" stroke-width="1.0" fill="none" stroke-linecap="round"/>
<path d="M320,445L323,448" stroke="#a83e14" stroke-width="1.5" fill="none" stroke-linecap="round"/>
<path d="M282,505L289,479" stroke="#a83e14" stroke-width="3.0" fill="none" stroke-linecap="round"/>
<path d="M289,479L296,480" stroke="#8a2c0a" stroke-width="3.0" fill="none" stroke-linecap="round"/>
<path d="M263,494L271,505" stroke="#9a340c" stroke-width="3.5" fill="none" stroke-linecap="round"/>
<ellipse cx="294" cy="332" rx="3.5" ry="1.2" transform="rotate(35 294 332)" fill="#6a1c04"/>
<ellipse cx="285" cy="437" rx="3.3" ry="1.7" transform="rotate(58 285 437)" fill="#6a1c04"/>
<ellipse cx="288" cy="348" rx="2.6" ry="1.7" transform="rotate(56 288 348)" fill="#8a2a08"/>
<ellipse cx="350" cy="443" rx="2.8" ry="2.0" transform="rotate(7 350 443)" fill="#6a1c04"/>
<ellipse cx="335" cy="309" rx="3.1" ry="1.6" transform="rotate(41 335 309)" fill="#8a2a08"/>
<ellipse cx="354" cy="445" rx="3.3" ry="1.5" transform="rotate(59 354 445)" fill="#8a2a08"/>
<ellipse cx="271" cy="390" rx="1.8" ry="1.0" transform="rotate(53 271 390)" fill="#6a1c04"/>
<ellipse cx="298" cy="387" rx="2.1" ry="1.1" transform="rotate(-13 298 387)" fill="#8a2a08"/>
<ellipse cx="364" cy="465" rx="2.4" ry="1.8" transform="rotate(-39 364 465)" fill="#8a2a08"/>
<ellipse cx="301" cy="371" rx="2.4" ry="2.0" transform="rotate(45 301 371)" fill="#8a2a08"/>
<ellipse cx="345" cy="441" rx="2.1" ry="1.9" transform="rotate(-38 345 441)" fill="#6a1c04"/>
<ellipse cx="284" cy="375" rx="1.9" ry="1.5" transform="rotate(-42 284 375)" fill="#a03a10"/>
<ellipse cx="270" cy="377" rx="2.6" ry="1.9" transform="rotate(33 270 377)" fill="#6a1c04"/>
<ellipse cx="335" cy="371" rx="3.5" ry="1.4" transform="rotate(49 335 371)" fill="#8a2a08"/>
<ellipse cx="282" cy="449" rx="1.7" ry="2.0" transform="rotate(34 282 449)" fill="#a03a10"/>
<ellipse cx="269" cy="470" rx="2.3" ry="1.5" transform="rotate(30 269 470)" fill="#6a1c04"/>
<ellipse cx="290" cy="403" rx="2.2" ry="1.1" transform="rotate(-9 290 403)" fill="#a03a10"/>
<ellipse cx="343" cy="462" rx="1.5" ry="1.7" transform="rotate(-44 343 462)" fill="#8a2a08"/>
<ellipse cx="309" cy="330" rx="2.7" ry="1.5" transform="rotate(10 309 330)" fill="#8a2a08"/>
<ellipse cx="326" cy="337" rx="3.1" ry="1.2" transform="rotate(-30 326 337)" fill="#8a2a08"/>
<ellipse cx="337" cy="280" rx="2.6" ry="1.3" transform="rotate(-2 337 280)" fill="#a03a10"/>
<ellipse cx="330" cy="463" rx="2.6" ry="2.0" transform="rotate(51 330 463)" fill="#8a2a08"/>
<ellipse cx="319" cy="297" rx="3.4" ry="1.2" transform="rotate(-53 319 297)" fill="#a03a10"/>
<ellipse cx="264" cy="443" rx="2.5" ry="1.3" transform="rotate(20 264 443)" fill="#a03a10"/>
<ellipse cx="333" cy="332" rx="2.3" ry="1.1" transform="rotate(-55 333 332)" fill="#6a1c04"/>
<ellipse cx="282" cy="296" rx="3.2" ry="1.8" transform="rotate(-11 282 296)" fill="#6a1c04"/>
<ellipse cx="349" cy="420" rx="2.3" ry="2.0" transform="rotate(-7 349 420)" fill="#a03a10"/>
<ellipse cx="306" cy="276" rx="3.0" ry="1.5" transform="rotate(54 306 276)" fill="#a03a10"/>
<ellipse cx="348" cy="425" rx="3.0" ry="1.4" transform="rotate(12 348 425)" fill="#a03a10"/>
<ellipse cx="280" cy="289" rx="2.1" ry="1.8" transform="rotate(-47 280 289)" fill="#a03a10"/>
<ellipse cx="281" cy="376" rx="2.9" ry="1.8" transform="rotate(-24 281 376)" fill="#8a2a08"/>
<ellipse cx="338" cy="311" rx="2.4" ry="1.4" transform="rotate(35 338 311)" fill="#8a2a08"/>
<ellipse cx="282" cy="317" rx="1.9" ry="1.3" transform="rotate(-57 282 317)" fill="#6a1c04"/>
<ellipse cx="320" cy="302" rx="2.2" ry="1.2" transform="rotate(-41 320 302)" fill="#a03a10"/>
<ellipse cx="274" cy="463" rx="2.2" ry="1.2" transform="rotate(-49 274 463)" fill="#6a1c04"/>
<ellipse cx="305" cy="465" rx="2.5" ry="1.5" transform="rotate(-9 305 465)" fill="#6a1c04"/>
<ellipse cx="284" cy="361" rx="3.3" ry="1.5" transform="rotate(-11 284 361)" fill="#a03a10"/>
<ellipse cx="273" cy="454" rx="3.4" ry="1.1" transform="rotate(-55 273 454)" fill="#6a1c04"/>
<ellipse cx="309" cy="463" rx="2.0" ry="2.0" transform="rotate(38 309 463)" fill="#8a2a08"/>
<ellipse cx="312" cy="361" rx="1.9" ry="1.2" transform="rotate(40 312 361)" fill="#8a2a08"/>
<ellipse cx="277" cy="299" rx="2.1" ry="1.5" transform="rotate(0 277 299)" fill="#6a1c04"/>
<ellipse cx="257" cy="435" rx="3.1" ry="1.4" transform="rotate(-33 257 435)" fill="#6a1c04"/>
<ellipse cx="278" cy="460" rx="3.4" ry="1.2" transform="rotate(-58 278 460)" fill="#a03a10"/>
<ellipse cx="263" cy="363" rx="2.4" ry="1.3" transform="rotate(42 263 363)" fill="#a03a10"/>
<ellipse cx="288" cy="307" rx="2.8" ry="1.3" transform="rotate(-36 288 307)" fill="#6a1c04"/>
<path d="M242.0,505.0 C241.3,507.5 237.9,512.3 238.0,520.0 C238.1,527.7 238.7,537.0 242.7,551.0 C246.7,565.0 252.8,592.9 262.0,603.7 C271.2,614.5 287.1,617.2 297.8,615.6 C308.6,614.0 315.7,594.0 326.5,594.0 C337.3,594.0 352.1,616.8 362.5,615.6 C372.9,614.4 382.1,601.8 388.8,587.0 C395.6,572.2 401.1,540.7 403.0,527.0 C404.9,513.3 400.2,508.7 400.0,505.0 C399.8,501.3 401.7,505.0 402.0,505.0Z" fill="#ecd49c"/>
<path d="M315,527L311,527L309,530L311,533L317,533L318,532ZM334,534L331,539L334,546L335,547L343,541L339,535ZM288,530L291,534L295,533L299,526L298,525L291,525ZM376,511L375,512L374,515L379,521L380,522L384,519L382,512ZM400,516L400,514L394,512L391,518L397,520ZM307,530L310,526L308,521L300,523L300,526L305,530ZM334,520L331,519L326,524L326,526L332,528L335,525ZM258,520L257,519L252,517L248,521L249,524L257,524ZM279,507L278,506L270,506L269,509L274,511ZM343,530L340,534L343,539L348,532L347,531ZM341,509L345,511L347,510L348,506L347,506L342,506ZM340,527L335,526L333,529L334,533L339,533L341,530ZM343,521L343,519L336,518L335,519L337,525L340,525ZM302,511L302,512L306,512L309,506L302,506ZM391,520L390,521L392,528L398,526L397,521ZM367,507L373,509L374,509L374,506L368,506ZM344,540L344,542L350,544L353,539L349,534Z" fill="#c0601e"/>
<path d="M379,572L380,573L391,572L393,568L391,560L384,556L376,562ZM330,540L326,538L320,540L317,547L319,548L332,548L333,547ZM301,588L301,589L311,599L320,594L319,589L310,580ZM277,582L274,580L267,581L262,591L266,599L280,599ZM280,602L279,601L267,600L264,603L278,608L279,608ZM259,559L260,560L275,562L278,559L274,548L272,547L264,547ZM298,587L299,588L309,579L309,575L303,567L293,572L291,577ZM362,568L363,578L365,579L374,578L378,574L373,562L366,561ZM260,576L260,575L258,561L250,560L248,563L253,576Z" fill="#6a2a10"/>
<path d="M297,589L297,588L289,578L278,582L282,599L288,599ZM357,540L355,540L351,545L354,551L362,552L365,547ZM249,544L246,547L250,558L258,559L263,546L259,542ZM344,568L349,582L362,578L360,568L347,566ZM354,552L347,559L347,564L361,567L365,560L363,554ZM304,561L305,561L315,557L317,549L316,547L308,544L303,545L297,549L297,550ZM260,591L265,580L261,577L254,578L254,579L258,590ZM289,577L291,572L283,561L278,561L276,563L275,579L278,580ZM290,546L281,544L275,547L279,559L283,559L293,550L293,549ZM336,548L335,549L346,557L352,552L349,545L344,543ZM330,596L340,601L341,600L337,593L330,594Z" fill="#8a3a18"/>
<path d="M343,601L350,603L354,598L349,584L339,588L338,591ZM295,550L284,560L292,571L303,566L304,563ZM383,545L383,546L384,555L391,559L395,556L398,545L395,543ZM393,560L393,561L394,561L394,560ZM245,549L243,549L243,551L247,560L248,560L249,559ZM275,564L274,563L261,562L260,562L262,575L266,580L274,578ZM366,547L363,553L367,560L374,561L383,555L381,545L374,544L369,545ZM321,593L324,595L336,591L338,588L330,579L328,579L321,589ZM319,550L318,550L317,557L323,563L329,561L332,550ZM330,577L337,569L329,563L323,564L322,571L327,577Z" fill="#220700"/>
<path d="M299,523L296,514L294,514L289,520L291,524L298,524ZM272,533L275,532L276,526L276,525L271,524L269,525L270,532ZM380,544L382,543L384,534L380,530L375,532L374,533L375,542ZM242,511L241,511L239,517L240,518L243,517L244,512ZM291,507L290,506L281,506L280,507L284,510L291,508ZM313,506L311,506L308,513L309,517L313,516L317,511ZM302,538L303,543L308,543L310,534L308,531L305,531ZM267,518L269,518L272,512L269,510L263,511L262,512L262,516ZM260,511L262,510L261,506L255,506L255,509ZM336,513L332,509L327,512L331,517L333,518L335,517ZM393,529L392,531L397,536L401,533L402,529L399,527ZM243,510L244,509L244,506L243,506L242,508ZM363,518L362,513L359,512L354,515L353,518L358,522ZM353,520L348,522L350,529L356,527L357,526L357,523ZM377,522L377,521L373,516L368,519L370,524ZM372,515L373,511L367,509L363,512L365,517L367,518ZM370,530L368,530L366,534L369,543L370,543L373,543L374,542L373,532ZM324,525L321,522L318,522L316,526L320,530L323,529L325,527ZM332,507L336,511L340,509L339,506L333,506ZM245,508L246,509L251,510L253,509L253,506L252,506L246,506ZM279,534L285,530L278,526L277,532Z" fill="#d8843a"/>
<path d="M335,550L333,551L330,562L338,568L342,568L345,565L345,559ZM319,587L320,587L326,578L321,572L310,576L310,579ZM297,607L309,604L310,600L299,589L289,599ZM350,605L347,604L347,605L350,607ZM308,607L308,606L307,606L298,608L297,614L298,615ZM373,602L373,600L366,596L355,599L351,604L353,609L362,615ZM338,587L339,587L348,582L342,569L338,570L332,578ZM363,579L351,584L355,597L365,594L365,581ZM390,574L389,573L378,575L376,579L381,586L388,586L391,577Z" fill="#a04c24"/>
<path d="M367,594L373,599L375,599L380,587L374,580L366,581ZM320,571L322,564L316,558L305,563L304,566L310,574Z" fill="#7c8ade"/>
<path d="M347,520L352,518L352,515L348,512L345,513L344,518L345,520ZM322,513L322,512L318,512L315,516L318,521L321,520ZM367,528L368,527L369,525L366,519L364,518L358,523L359,526ZM394,542L395,541L395,537L391,531L385,534L383,544ZM307,519L308,517L306,514L301,513L298,514L300,521ZM384,509L383,506L377,506L376,506L376,510L382,510ZM292,510L291,509L285,512L286,518L288,518L293,513ZM256,533L259,540L260,540L263,535L260,527L258,527ZM365,533L367,530L367,529L358,527L360,534ZM394,507L393,506L386,506L385,507L386,508L392,510ZM301,544L300,538L296,534L291,535L291,545L295,549L296,549ZM349,510L353,514L358,510L355,506L350,506ZM320,531L318,534L319,538L325,537L323,531ZM244,517L247,520L248,519L251,516L250,512L245,511Z" fill="#a84a18"/>
<path d="M245,527L247,525L247,521L243,519L239,520L240,525ZM323,510L324,511L326,511L331,508L331,506L324,506ZM275,513L273,513L269,520L271,523L276,524L279,520ZM350,530L350,532L354,538L357,538L358,534L356,529ZM288,532L286,532L281,536L282,543L288,544L289,544L290,535ZM258,524L261,526L268,525L269,523L268,520L261,518L259,520ZM292,508L295,513L297,513L300,511L300,506L293,506ZM318,510L322,510L322,506L316,506L315,507ZM314,525L317,522L317,521L313,517L309,518L309,520L311,525ZM373,531L380,529L379,523L370,526L370,528ZM268,527L267,526L262,528L265,534L269,532ZM332,530L326,528L324,529L327,537L331,538L333,534ZM401,526L402,525L401,520L400,519L399,521ZM273,545L274,546L280,543L279,536L276,534L273,535ZM394,509L394,511L399,512L400,512L399,506L395,506ZM343,518L343,512L340,511L337,512L337,516ZM347,530L348,529L347,522L345,521L341,527L343,529Z" fill="#8a3410"/>
<path d="M359,510L362,511L366,508L366,506L358,506L358,507ZM257,527L256,526L249,526L247,528L247,531L254,533ZM245,531L245,529L240,528L241,533ZM390,530L390,529L388,521L385,520L381,523L381,529L384,532ZM368,543L364,535L360,535L358,538L366,545ZM326,513L323,513L322,521L325,523L330,518ZM278,523L279,525L286,529L289,524L288,520L285,519L280,521ZM255,534L248,534L249,542L257,540ZM397,543L399,542L400,537L399,536L397,538L396,542ZM260,517L260,512L254,510L252,511L253,516L258,518ZM283,512L279,509L276,512L280,519L284,518L285,517ZM301,528L299,528L297,533L301,536L304,531ZM392,512L392,511L384,510L383,511L385,519L389,519ZM247,534L245,533L241,536L242,545L244,546L247,543ZM265,535L262,542L264,546L271,545L272,534L269,533ZM263,508L264,509L268,509L268,506L263,506ZM312,534L311,535L310,543L316,546L318,539L317,535Z" fill="#e8b060"/>
<path d="M312,600L311,604L312,604L322,597L322,596L320,595ZM262,602L263,602L265,599L261,592L259,592L259,593Z" fill="#a4aee8"/>
<path d="M282,601L281,601L280,609L295,613L296,608L288,600ZM377,596L378,597L379,597L386,589L386,588L381,588Z" fill="#8a96e2"/>
<ellipse cx="274.0" cy="584.6" rx="3.8" ry="3.8" fill="#8a96e4"/>
<ellipse cx="280.6" cy="544.3" rx="4.3" ry="3.2" fill="#8a96e4"/>
<ellipse cx="379.3" cy="565.9" rx="4.0" ry="3.7" fill="#8a96e4"/>
<ellipse cx="332.4" cy="534.5" rx="3.5" ry="3.0" fill="#8a96e4"/>
<ellipse cx="258.0" cy="559.3" rx="4.1" ry="3.3" fill="#8a96e4"/>
<path d="M242.0,505.0 C241.3,507.5 237.9,512.3 238.0,520.0 C238.1,527.7 238.7,537.0 242.7,551.0 C246.7,565.0 252.8,592.9 262.0,603.7 C271.2,614.5 287.1,617.2 297.8,615.6 C308.6,614.0 315.7,594.0 326.5,594.0 C337.3,594.0 352.1,616.8 362.5,615.6 C372.9,614.4 382.1,601.8 388.8,587.0 C395.6,572.2 401.1,540.7 403.0,527.0 C404.9,513.3 400.2,508.7 400.0,505.0 C399.8,501.3 401.7,505.0 402.0,505.0Z" fill="none" stroke="#f5e4b4" stroke-width="3"/>
<path d="M248.7,110.4 C248.9,133.7 249.8,215.1 250.2,250.0 C250.5,284.9 251.3,298.3 250.8,320.0 C250.3,341.7 249.2,363.3 247.1,380.0 C244.9,396.7 239.9,408.3 237.9,420.0 C235.9,431.7 234.7,440.0 234.8,450.0 C234.9,460.0 237.3,470.8 238.5,480.0 C239.7,489.2 241.4,500.8 242.0,505.0 L245.0,505.0 C244.7,500.8 244.0,489.2 243.4,480.0 C242.8,470.8 240.8,460.0 241.6,450.0 C242.4,440.0 246.1,431.7 248.4,420.0 C250.8,408.3 253.4,396.7 255.7,380.0 C257.9,363.3 260.7,341.7 261.9,320.0 C263.1,298.3 263.5,284.9 263.1,250.0 C262.7,215.1 260.1,133.7 259.5,110.4Z" fill="#5a6be0" stroke="#f6e6b0" stroke-width="1.6" stroke-linejoin="round"/>
<path d="M337.3,112.3 C337.9,135.2 339.0,215.4 340.6,250.0 C342.2,284.6 344.2,298.3 346.7,320.0 C349.1,341.7 352.0,363.3 355.3,380.0 C358.6,396.7 362.9,408.3 366.4,420.0 C369.9,431.7 372.7,440.0 376.2,450.0 C379.7,460.0 384.0,470.8 387.3,480.0 C390.6,489.2 394.6,500.8 396.0,505.0 L402.0,505.0 C401.2,500.8 399.4,489.2 397.1,480.0 C394.9,470.8 391.3,460.0 388.5,450.0 C385.7,440.0 383.4,431.7 380.5,420.0 C377.6,408.3 374.5,396.7 371.3,380.0 C368.1,363.3 364.2,341.7 361.5,320.0 C358.8,298.3 356.9,284.6 355.3,250.0 C353.7,215.4 352.3,135.2 351.7,112.3Z" fill="#5a6be0" stroke="#f6e6b0" stroke-width="1.6" stroke-linejoin="round"/>
<ellipse cx="255.6" cy="354.1" rx="2.8" ry="3.5" fill="#7c88e0" opacity="0.45"/>
<ellipse cx="252.1" cy="380.0" rx="2.6" ry="4.7" fill="#7c88e0" opacity="0.45"/>
<ellipse cx="255.0" cy="155.3" rx="2.0" ry="3.8" fill="#7c88e0" opacity="0.45"/>
<ellipse cx="256.9" cy="273.3" rx="2.4" ry="4.1" fill="#7c88e0" opacity="0.45"/>
<ellipse cx="253.5" cy="367.0" rx="1.8" ry="6.1" fill="#7c88e0" opacity="0.45"/>
<ellipse cx="252.9" cy="149.0" rx="2.6" ry="5.7" fill="#7c88e0" opacity="0.45"/>
<ellipse cx="244.9" cy="403.9" rx="2.6" ry="4.3" fill="#7c88e0" opacity="0.45"/>
<ellipse cx="261.0" cy="254.7" rx="2.9" ry="5.5" fill="#7c88e0" opacity="0.45"/>
<ellipse cx="252.5" cy="131.1" rx="2.1" ry="4.6" fill="#7c88e0" opacity="0.45"/>
<ellipse cx="254.5" cy="324.1" rx="2.6" ry="6.0" fill="#7c88e0" opacity="0.45"/>
<ellipse cx="255.0" cy="243.7" rx="1.5" ry="5.5" fill="#7c88e0" opacity="0.45"/>
<ellipse cx="257.0" cy="204.7" rx="2.6" ry="3.9" fill="#7c88e0" opacity="0.45"/>
<ellipse cx="254.1" cy="137.6" rx="2.6" ry="6.9" fill="#7c88e0" opacity="0.45"/>
<ellipse cx="241.9" cy="432.1" rx="1.8" ry="4.7" fill="#7c88e0" opacity="0.45"/>
<ellipse cx="251.2" cy="374.6" rx="1.9" ry="4.1" fill="#7c88e0" opacity="0.45"/>
<ellipse cx="259.8" cy="300.5" rx="2.1" ry="4.8" fill="#7c88e0" opacity="0.45"/>
<ellipse cx="251.2" cy="367.2" rx="1.5" ry="4.1" fill="#7c88e0" opacity="0.45"/>
<ellipse cx="252.9" cy="132.8" rx="2.1" ry="3.2" fill="#7c88e0" opacity="0.45"/>
<ellipse cx="253.8" cy="114.8" rx="2.1" ry="4.6" fill="#7c88e0" opacity="0.45"/>
<ellipse cx="255.2" cy="127.6" rx="2.4" ry="3.7" fill="#7c88e0" opacity="0.45"/>
<ellipse cx="258.3" cy="151.9" rx="1.9" ry="4.3" fill="#7c88e0" opacity="0.45"/>
<ellipse cx="253.6" cy="200.4" rx="1.7" ry="4.4" fill="#7c88e0" opacity="0.45"/>
<ellipse cx="257.6" cy="142.2" rx="1.6" ry="3.8" fill="#7c88e0" opacity="0.45"/>
<ellipse cx="253.0" cy="234.9" rx="2.2" ry="4.9" fill="#7c88e0" opacity="0.45"/>
<ellipse cx="251.0" cy="127.4" rx="1.5" ry="6.3" fill="#7c88e0" opacity="0.45"/>
<ellipse cx="255.2" cy="136.2" rx="1.8" ry="5.6" fill="#7c88e0" opacity="0.45"/>
<ellipse cx="252.9" cy="344.8" rx="2.0" ry="5.4" fill="#7c88e0" opacity="0.45"/>
<ellipse cx="256.3" cy="164.6" rx="2.7" ry="6.0" fill="#7c88e0" opacity="0.45"/>
<ellipse cx="256.8" cy="169.7" rx="1.5" ry="3.2" fill="#7c88e0" opacity="0.45"/>
<ellipse cx="254.3" cy="289.5" rx="1.7" ry="6.1" fill="#7c88e0" opacity="0.45"/>
<ellipse cx="253.9" cy="215.4" rx="2.9" ry="3.8" fill="#7c88e0" opacity="0.45"/>
<ellipse cx="243.2" cy="409.3" rx="2.6" ry="4.0" fill="#7c88e0" opacity="0.45"/>
<ellipse cx="258.2" cy="301.9" rx="2.1" ry="4.3" fill="#7c88e0" opacity="0.45"/>
<ellipse cx="257.1" cy="252.1" rx="2.3" ry="6.2" fill="#7c88e0" opacity="0.45"/>
<ellipse cx="252.8" cy="348.2" rx="2.9" ry="3.2" fill="#7c88e0" opacity="0.45"/>
<ellipse cx="245.8" cy="394.7" rx="2.2" ry="6.1" fill="#7c88e0" opacity="0.45"/>
<ellipse cx="252.8" cy="366.1" rx="1.8" ry="6.6" fill="#7c88e0" opacity="0.45"/>
<ellipse cx="242.3" cy="415.0" rx="2.9" ry="3.2" fill="#7c88e0" opacity="0.45"/>
<ellipse cx="244.7" cy="402.0" rx="2.6" ry="5.3" fill="#7c88e0" opacity="0.45"/>
<ellipse cx="239.1" cy="461.9" rx="2.5" ry="4.6" fill="#7c88e0" opacity="0.45"/>
<ellipse cx="240.7" cy="436.8" rx="2.0" ry="5.2" fill="#7c88e0" opacity="0.45"/>
<ellipse cx="251.7" cy="196.9" rx="2.8" ry="5.4" fill="#7c88e0" opacity="0.45"/>
<ellipse cx="258.1" cy="279.6" rx="2.9" ry="3.1" fill="#7c88e0" opacity="0.45"/>
<ellipse cx="256.5" cy="328.6" rx="2.8" ry="3.9" fill="#7c88e0" opacity="0.45"/>
<ellipse cx="257.2" cy="330.3" rx="1.9" ry="6.2" fill="#7c88e0" opacity="0.45"/>
<ellipse cx="254.7" cy="364.8" rx="2.2" ry="3.9" fill="#7c88e0" opacity="0.45"/>
<ellipse cx="340.7" cy="153.2" rx="2.3" ry="4.5" fill="#7c88e0" opacity="0.45"/>
<ellipse cx="352.0" cy="318.9" rx="2.4" ry="3.8" fill="#7c88e0" opacity="0.45"/>
<ellipse cx="356.0" cy="321.7" rx="2.5" ry="5.1" fill="#7c88e0" opacity="0.45"/>
<ellipse cx="375.7" cy="411.8" rx="2.8" ry="3.9" fill="#7c88e0" opacity="0.45"/>
<ellipse cx="380.5" cy="454.6" rx="2.5" ry="3.1" fill="#7c88e0" opacity="0.45"/>
<ellipse cx="350.9" cy="271.2" rx="2.7" ry="4.5" fill="#7c88e0" opacity="0.45"/>
<ellipse cx="347.1" cy="276.2" rx="1.9" ry="6.0" fill="#7c88e0" opacity="0.45"/>
<ellipse cx="346.9" cy="180.8" rx="2.3" ry="3.5" fill="#7c88e0" opacity="0.45"/>
<ellipse cx="351.8" cy="313.8" rx="1.8" ry="5.6" fill="#7c88e0" opacity="0.45"/>
<ellipse cx="343.4" cy="151.0" rx="3.0" ry="4.0" fill="#7c88e0" opacity="0.45"/>
<ellipse cx="364.5" cy="351.7" rx="1.5" ry="5.2" fill="#7c88e0" opacity="0.45"/>
<ellipse cx="383.8" cy="441.1" rx="1.5" ry="4.0" fill="#7c88e0" opacity="0.45"/>
<ellipse cx="356.5" cy="329.4" rx="2.8" ry="4.4" fill="#7c88e0" opacity="0.45"/>
<ellipse cx="356.4" cy="346.5" rx="1.5" ry="5.4" fill="#7c88e0" opacity="0.45"/>
<ellipse cx="350.5" cy="278.7" rx="2.1" ry="3.2" fill="#7c88e0" opacity="0.45"/>
<ellipse cx="349.8" cy="139.1" rx="2.0" ry="4.0" fill="#7c88e0" opacity="0.45"/>
<ellipse cx="356.9" cy="319.5" rx="2.8" ry="3.1" fill="#7c88e0" opacity="0.45"/>
<ellipse cx="383.0" cy="445.1" rx="2.8" ry="4.1" fill="#7c88e0" opacity="0.45"/>
<ellipse cx="349.7" cy="230.4" rx="3.0" ry="4.8" fill="#7c88e0" opacity="0.45"/>
<ellipse cx="349.8" cy="124.3" rx="2.4" ry="4.5" fill="#7c88e0" opacity="0.45"/>
<ellipse cx="378.6" cy="446.9" rx="2.1" ry="6.6" fill="#7c88e0" opacity="0.45"/>
<ellipse cx="348.5" cy="128.4" rx="2.0" ry="5.2" fill="#7c88e0" opacity="0.45"/>
<ellipse cx="353.9" cy="308.4" rx="2.9" ry="6.5" fill="#7c88e0" opacity="0.45"/>
<ellipse cx="354.3" cy="278.6" rx="1.8" ry="5.3" fill="#7c88e0" opacity="0.45"/>
<ellipse cx="346.0" cy="251.3" rx="2.5" ry="3.0" fill="#7c88e0" opacity="0.45"/>
<ellipse cx="392.4" cy="488.2" rx="1.7" ry="6.7" fill="#7c88e0" opacity="0.45"/>
<ellipse cx="376.5" cy="434.2" rx="2.1" ry="3.3" fill="#7c88e0" opacity="0.45"/>
<ellipse cx="349.0" cy="142.7" rx="2.2" ry="6.8" fill="#7c88e0" opacity="0.45"/>
<ellipse cx="348.8" cy="177.6" rx="1.6" ry="5.0" fill="#7c88e0" opacity="0.45"/>
<ellipse cx="362.4" cy="364.4" rx="2.4" ry="3.2" fill="#7c88e0" opacity="0.45"/>
<ellipse cx="359.2" cy="337.1" rx="2.6" ry="5.8" fill="#7c88e0" opacity="0.45"/>
<ellipse cx="385.9" cy="455.9" rx="2.3" ry="5.7" fill="#7c88e0" opacity="0.45"/>
<ellipse cx="342.5" cy="236.4" rx="1.8" ry="3.3" fill="#7c88e0" opacity="0.45"/>
<ellipse cx="396.7" cy="493.5" rx="1.5" ry="6.1" fill="#7c88e0" opacity="0.45"/>
<ellipse cx="345.0" cy="144.6" rx="2.2" ry="6.7" fill="#7c88e0" opacity="0.45"/>
<ellipse cx="351.8" cy="316.0" rx="2.6" ry="6.8" fill="#7c88e0" opacity="0.45"/>
<ellipse cx="346.1" cy="148.2" rx="2.5" ry="6.1" fill="#7c88e0" opacity="0.45"/>
<ellipse cx="358.8" cy="370.6" rx="1.9" ry="5.9" fill="#7c88e0" opacity="0.45"/>
<ellipse cx="344.9" cy="190.0" rx="1.9" ry="4.6" fill="#7c88e0" opacity="0.45"/>
<ellipse cx="394.7" cy="484.8" rx="1.7" ry="7.0" fill="#7c88e0" opacity="0.45"/>
<ellipse cx="360.7" cy="378.0" rx="2.9" ry="6.4" fill="#7c88e0" opacity="0.45"/>
<ellipse cx="346.4" cy="204.9" rx="1.8" ry="4.6" fill="#7c88e0" opacity="0.45"/>
<ellipse cx="342.6" cy="212.2" rx="2.0" ry="4.6" fill="#7c88e0" opacity="0.45"/>
<ellipse cx="350.3" cy="277.5" rx="1.8" ry="4.5" fill="#7c88e0" opacity="0.45"/>
<ellipse cx="351.5" cy="305.6" rx="2.6" ry="4.0" fill="#7c88e0" opacity="0.45"/>
<ellipse cx="344.3" cy="120.0" rx="2.2" ry="6.5" fill="#7c88e0" opacity="0.45"/>
<ellipse cx="346.0" cy="262.3" rx="2.7" ry="4.5" fill="#7c88e0" opacity="0.45"/>
<ellipse cx="344.6" cy="243.3" rx="2.6" ry="5.5" fill="#7c88e0" opacity="0.45"/>
<ellipse cx="342.7" cy="126.0" rx="1.8" ry="4.8" fill="#7c88e0" opacity="0.45"/>
<ellipse cx="343.3" cy="232.4" rx="2.6" ry="6.8" fill="#7c88e0" opacity="0.45"/>
</g>
<clipPath id="mclip2"><rect x="423" y="97" width="203.0" height="522.6"/></clipPath>
<g clip-path="url(#mclip2)">
<rect x="423" y="97" width="203.0" height="522.6" fill="#000"/>
<path d="M456.7,123.5 C457.9,144.6 462.6,220.6 463.9,250.0 C465.2,279.4 464.5,283.3 464.5,300.0 C464.5,316.7 464.3,336.7 463.9,350.0 C463.5,363.3 463.4,368.3 462.0,380.0 C460.6,391.7 456.9,406.7 455.3,420.0 C453.7,433.3 452.3,446.7 452.2,460.0 C452.1,473.3 454.1,488.3 454.7,500.0 C455.3,511.7 454.8,516.7 456.0,530.0 C457.2,543.3 458.9,566.5 462.0,580.0 C465.1,593.5 465.0,604.9 474.7,610.8 C484.4,616.7 509.1,616.6 520.0,615.6 C530.9,614.6 528.4,606.6 540.0,605.0 C551.6,603.4 579.7,617.0 589.6,606.0 C599.5,595.0 597.8,556.7 599.2,539.0 C600.6,521.3 598.3,506.5 598.0,500.0 C597.7,493.5 597.8,506.7 597.3,500.0 C596.8,493.3 596.2,473.3 594.8,460.0 C593.4,446.7 591.0,433.3 588.7,420.0 C586.5,406.7 583.1,391.7 581.3,380.0 C579.4,368.3 579.2,363.3 577.6,350.0 C576.0,336.7 573.5,316.7 571.5,300.0 C569.5,283.3 567.5,279.4 565.3,250.0 C563.1,220.6 559.6,144.6 558.5,123.5" fill="none" stroke="#b0461a" stroke-width="5" stroke-linejoin="round" opacity="0.85"/>
<linearGradient id="mgb2" x1="0" y1="97" x2="0" y2="619.6" gradientUnits="userSpaceOnUse"><stop offset="0" stop-color="#000"/><stop offset="0.446" stop-color="#000"/><stop offset="0.771" stop-color="#3c1004"/><stop offset="1" stop-color="#3c1004"/></linearGradient>
<path d="M477.0,123.5 L483.6,250.0 L487.9,300.0 L484.2,350.0 L480.5,380.0 L471.9,420.0 L463.3,460.0 L459.6,500.0 L586.2,500.0 L581.3,460.0 L565.3,420.0 L558.0,380.0 L550.6,350.0 L543.2,300.0 L544.4,250.0 L532.0,123.5Z" fill="url(#mgb2)"/>
<path d="M484,259L503,269M487,287L506,280M503,269L506,280M535,282L543,289M517,352L521,352M511,368L522,371M511,368L503,380M535,380L540,377M522,371L524,376M518,408L512,416M512,416L506,416M481,450L486,437M494,437L502,454M479,466L485,456M527,307L525,287M496,339L485,336M501,325L487,315M518,331L524,330M517,352L508,360M546,418L533,422M533,422L531,421M553,432L548,439M537,438L548,439M548,439L553,449M532,342L531,347M523,394L517,403M517,385L508,385M554,370L552,358M467,449L481,450M500,432L494,437M527,307L511,312M525,287L507,281M544,266L543,266M506,280L507,281M537,400L549,412M531,347L541,358M533,394L535,380M490,401L489,401M481,431L481,421M501,302L511,312M543,266L535,282M501,302L487,309M496,345L500,359M549,458L553,449M531,421L519,426M533,422L537,438M531,320L545,329M537,399L552,391M481,421L473,417M517,403L504,398M541,358L549,356M557,399L554,411M513,435L512,446M496,339L501,325M574,471L582,469M537,400L529,411M546,418L549,412M529,411L531,421M570,449L573,440M490,385L481,380M544,461L528,453M487,416L489,401M469,434L469,434M547,337L547,337M526,454L512,446M472,485L482,474M482,474L492,476M498,458L501,456M486,437L494,437M507,323L501,325M511,312L507,323M570,449L570,449M512,343L517,352M512,343L497,342M518,331L512,343M500,379L491,366M545,329L547,326M500,379L490,385M554,370L556,372M523,394L517,385M549,337L547,337M517,433L513,435M573,487L570,485M573,487L584,485M577,500L573,487M463,469L471,485M519,488L510,485M510,485L506,478M492,490L492,476M506,478L496,474M570,485L574,471M568,465L558,467M479,466L482,474M496,474L498,458M570,485L561,486M558,485L555,480M514,465L506,478M479,466L467,464M562,500L561,486M527,307L531,311M507,323L518,331M535,380L524,376M532,342L547,337M503,380L508,385M500,432L513,435M501,456L502,454M461,487L471,485M496,339L497,342M483,359L490,366M491,366L500,359M526,365L522,371M517,433L532,442M572,437L565,428M490,366L481,375M524,330L532,342M554,370L541,376M527,474L539,475M500,422L506,416M547,337L549,356M554,411L564,416M512,446L502,454M463,469L463,469M531,320L524,330M574,471L568,465M521,352L526,365M570,449L553,449M545,329L547,337M540,377L552,390M532,442L528,453M478,399L489,401M467,464L466,449M537,399L537,400M499,401L504,398M481,431L486,437M531,311L531,320M568,465L570,449M540,377L541,376M541,376L537,363M537,363L541,358M552,391L552,390M527,474L521,464M528,453L526,454M549,458L544,461M499,401L490,401M481,431L469,434M514,465L521,464M463,469L467,464M508,385L504,398M518,408L517,403M500,422L500,432M514,465L501,456M548,500L547,494M555,480L558,467M561,486L558,485M532,494L519,488M485,500L486,493M547,494L558,485M570,449L578,453M537,438L532,442M553,432L565,428M519,426L512,416M552,358L552,358M552,358L549,356M549,412L554,411M565,428L566,423M497,342L496,345M484,352L496,345M558,467L549,458M539,476L539,475M476,400L478,399M499,401L506,416M477,396L478,399M561,399L557,399M500,359L508,360M491,366L490,366M508,360L511,368M500,379L503,380M553,432L546,418M521,352L531,347M559,383L552,390M537,399L533,394M500,422L487,416M490,385L490,401M466,449L466,449M469,434L467,449M524,376L517,385M552,391L557,399M485,456L498,458M537,363L526,365M517,433L519,426M529,411L518,408M466,449L467,449M532,500L532,494M547,494L538,491M519,488L527,474M471,485L472,485M532,494L538,491M555,480L539,476M538,491L539,476M519,488L519,488M539,475L544,461M510,485L500,493M516,500L519,488M521,464L526,454M487,416L481,421M533,394L523,394M485,456L481,450M502,500L500,493M486,493L472,485M486,493L492,490M500,493L492,490M472,485L472,485M496,474L492,476M470,500L472,485" stroke="#4a1204" stroke-width="4" fill="none" stroke-linecap="round" stroke-linejoin="round"/>
<path d="M484,259L503,269" stroke="#bc501c" stroke-width="1.0" fill="none" stroke-linecap="round"/>
<path d="M487,287L506,280" stroke="#9a340c" stroke-width="1.0" fill="none" stroke-linecap="round"/>
<path d="M503,269L506,280M535,282L543,289M517,352L521,352M511,368L522,371M511,368L503,380M535,380L540,377M522,371L524,376M518,408L512,416M512,416L506,416M481,450L486,437M494,437L502,454M479,466L485,456" stroke="#9a340c" stroke-width="1.5" fill="none" stroke-linecap="round"/>
<path d="M527,307L525,287M496,339L485,336M501,325L487,315M518,331L524,330M517,352L508,360M546,418L533,422M533,422L531,421M553,432L548,439M537,438L548,439M548,439L553,449M532,342L531,347M523,394L517,403M517,385L508,385M554,370L552,358M467,449L481,450M500,432L494,437" stroke="#bc501c" stroke-width="2.0" fill="none" stroke-linecap="round"/>
<path d="M527,307L511,312M525,287L507,281M544,266L543,266M506,280L507,281M537,400L549,412M531,347L541,358M533,394L535,380M490,401L489,401M481,431L481,421" stroke="#a83e14" stroke-width="1.5" fill="none" stroke-linecap="round"/>
<path d="M501,302L511,312M543,266L535,282M501,302L487,309M496,345L500,359M549,458L553,449M531,421L519,426M533,422L537,438M531,320L545,329M537,399L552,391M481,421L473,417M517,403L504,398M541,358L549,356M557,399L554,411M513,435L512,446" stroke="#bc501c" stroke-width="1.5" fill="none" stroke-linecap="round"/>
<path d="M496,339L501,325M574,471L582,469M537,400L529,411M546,418L549,412M529,411L531,421M570,449L573,440M490,385L481,380M544,461L528,453M487,416L489,401M469,434L469,434M547,337L547,337M526,454L512,446M472,485L482,474M482,474L492,476M498,458L501,456M486,437L494,437" stroke="#bc501c" stroke-width="2.5" fill="none" stroke-linecap="round"/>
<path d="M507,323L501,325M511,312L507,323M570,449L570,449M512,343L517,352M512,343L497,342M518,331L512,343M500,379L491,366M545,329L547,326M500,379L490,385M554,370L556,372M523,394L517,385M549,337L547,337M517,433L513,435" stroke="#8a2c0a" stroke-width="2.0" fill="none" stroke-linecap="round"/>
<path d="M573,487L570,485" stroke="#bc501c" stroke-width="4.0" fill="none" stroke-linecap="round"/>
<path d="M573,487L584,485M577,500L573,487M463,469L471,485M519,488L510,485M510,485L506,478M492,490L492,476M506,478L496,474" stroke="#8a2c0a" stroke-width="3.5" fill="none" stroke-linecap="round"/>
<path d="M570,485L574,471M568,465L558,467M479,466L482,474M496,474L498,458" stroke="#a83e14" stroke-width="3.0" fill="none" stroke-linecap="round"/>
<path d="M570,485L561,486M558,485L555,480M514,465L506,478M479,466L467,464" stroke="#8a2c0a" stroke-width="3.0" fill="none" stroke-linecap="round"/>
<path d="M562,500L561,486" stroke="#a83e14" stroke-width="4.5" fill="none" stroke-linecap="round"/>
<path d="M527,307L531,311M507,323L518,331M535,380L524,376M532,342L547,337M503,380L508,385M500,432L513,435M501,456L502,454" stroke="#e8a050" stroke-width="1.5" fill="none" stroke-linecap="round"/>
<path d="M461,487L471,485M496,339L497,342M483,359L490,366M491,366L500,359M526,365L522,371M517,433L532,442M572,437L565,428M490,366L481,375M524,330L532,342M554,370L541,376M527,474L539,475M500,422L506,416M547,337L549,356M554,411L564,416M512,446L502,454" stroke="#a83e14" stroke-width="2.5" fill="none" stroke-linecap="round"/>
<path d="M463,469L463,469M531,320L524,330M574,471L568,465M521,352L526,365M570,449L553,449M545,329L547,337M540,377L552,390M532,442L528,453M478,399L489,401M467,464L466,449M537,399L537,400M499,401L504,398M481,431L486,437" stroke="#9a340c" stroke-width="2.5" fill="none" stroke-linecap="round"/>
<path d="M531,311L531,320M568,465L570,449M540,377L541,376M541,376L537,363M537,363L541,358M552,391L552,390M527,474L521,464M528,453L526,454M549,458L544,461M499,401L490,401M481,431L469,434M514,465L521,464M463,469L467,464M508,385L504,398M518,408L517,403M500,422L500,432M514,465L501,456" stroke="#9a340c" stroke-width="2.0" fill="none" stroke-linecap="round"/>
<path d="M548,500L547,494M555,480L558,467" stroke="#e8a050" stroke-width="3.5" fill="none" stroke-linecap="round"/>
<path d="M561,486L558,485M532,494L519,488M485,500L486,493" stroke="#9a340c" stroke-width="4.0" fill="none" stroke-linecap="round"/>
<path d="M547,494L558,485" stroke="#e8a050" stroke-width="4.0" fill="none" stroke-linecap="round"/>
<path d="M570,449L578,453M537,438L532,442M553,432L565,428M519,426L512,416M552,358L552,358M552,358L549,356M549,412L554,411M565,428L566,423" stroke="#8a2c0a" stroke-width="1.5" fill="none" stroke-linecap="round"/>
<path d="M497,342L496,345M484,352L496,345M558,467L549,458M539,476L539,475M476,400L478,399M499,401L506,416M477,396L478,399M561,399L557,399" stroke="#8a2c0a" stroke-width="2.5" fill="none" stroke-linecap="round"/>
<path d="M500,359L508,360M491,366L490,366M508,360L511,368M500,379L503,380M553,432L546,418M521,352L531,347M559,383L552,390M537,399L533,394M500,422L487,416M490,385L490,401M466,449L466,449M469,434L467,449M524,376L517,385M552,391L557,399M485,456L498,458" stroke="#a83e14" stroke-width="2.0" fill="none" stroke-linecap="round"/>
<path d="M537,363L526,365M517,433L519,426M529,411L518,408M466,449L467,449" stroke="#e8a050" stroke-width="2.5" fill="none" stroke-linecap="round"/>
<path d="M532,500L532,494" stroke="#e8a050" stroke-width="4.5" fill="none" stroke-linecap="round"/>
<path d="M547,494L538,491M519,488L527,474M471,485L472,485" stroke="#9a340c" stroke-width="3.0" fill="none" stroke-linecap="round"/>
<path d="M532,494L538,491" stroke="#a83e14" stroke-width="3.5" fill="none" stroke-linecap="round"/>
<path d="M555,480L539,476" stroke="#8a2c0a" stroke-width="4.0" fill="none" stroke-linecap="round"/>
<path d="M538,491L539,476M519,488L519,488M539,475L544,461M510,485L500,493" stroke="#bc501c" stroke-width="3.0" fill="none" stroke-linecap="round"/>
<path d="M516,500L519,488" stroke="#a83e14" stroke-width="5.0" fill="none" stroke-linecap="round"/>
<path d="M521,464L526,454M487,416L481,421M533,394L523,394M485,456L481,450" stroke="#e8a050" stroke-width="2.0" fill="none" stroke-linecap="round"/>
<path d="M502,500L500,493M486,493L472,485" stroke="#bc501c" stroke-width="5.0" fill="none" stroke-linecap="round"/>
<path d="M486,493L492,490M500,493L492,490" stroke="#bc501c" stroke-width="4.5" fill="none" stroke-linecap="round"/>
<path d="M472,485L472,485M496,474L492,476" stroke="#e8a050" stroke-width="3.0" fill="none" stroke-linecap="round"/>
<path d="M470,500L472,485" stroke="#e8a050" stroke-width="5.0" fill="none" stroke-linecap="round"/>
<path d="M454.7,500.0 C454.9,505.0 454.8,516.7 456.0,530.0 C457.2,543.3 458.9,566.5 462.0,580.0 C465.1,593.5 465.0,604.9 474.7,610.8 C484.4,616.7 509.1,616.6 520.0,615.6 C530.9,614.6 528.4,606.6 540.0,605.0 C551.6,603.4 579.7,617.0 589.6,606.0 C599.5,595.0 597.8,556.7 599.2,539.0 C600.6,521.3 598.3,506.5 598.0,500.0 C597.7,493.5 597.4,500.0 597.3,500.0Z" fill="#ecd49c"/>
<path d="M511,517L512,514L511,510L507,508L505,508L505,517L507,518ZM568,520L568,522L574,524L577,521L578,520L573,515ZM489,515L488,516L490,522L496,521L498,518L496,515ZM562,535L563,535L565,524L564,523L558,524L557,525L561,535ZM574,510L573,514L578,518L585,513L585,512L578,508ZM580,501L579,508L585,511L588,506L585,501L581,501ZM482,505L484,502L483,501L475,501L475,504L477,505ZM538,525L538,524L535,518L531,517L529,523L535,526ZM540,525L539,526L546,537L548,538L549,527ZM489,527L489,523L488,522L481,526L484,531ZM594,502L593,501L588,501L587,502L589,506L593,505ZM496,523L490,524L490,527L495,530L496,530L498,525ZM522,514L522,524L523,524L527,523L530,516L528,514ZM568,523L566,524L564,536L568,539L575,534L574,526ZM549,513L548,511L542,509L540,511L540,513L545,516L547,516ZM545,518L542,523L549,525L550,523L547,518ZM459,515L456,515L457,520L459,520L460,518Z" fill="#c0601e"/>
<path d="M465,517L467,514L467,510L461,507L459,514L462,517ZM528,524L525,525L524,526L526,534L531,534L534,528ZM573,508L574,509L577,507L578,501L570,501ZM579,519L579,521L585,525L590,518L586,514ZM458,505L459,505L459,501L456,501L456,505ZM516,506L513,509L513,514L521,514L521,513L521,508ZM480,527L478,527L473,533L474,540L479,542L484,537L484,532ZM598,528L597,527L594,531L596,537L598,536ZM531,504L533,506L536,502L536,501L531,501ZM505,538L503,527L499,526L496,532L497,536L502,540Z" fill="#a84a18"/>
<path d="M540,591L541,592L554,584L548,572L533,575ZM575,578L577,591L588,590L592,575L590,574L579,574ZM546,539L537,541L532,552L535,555L545,555L549,551L547,540ZM505,600L513,604L523,598L515,584L509,584L504,587ZM466,581L463,579L463,580L464,584L465,585L466,584ZM534,572L535,573L548,570L549,567L545,557L535,557Z" fill="#a4aee8"/>
<path d="M501,585L504,586L508,583L505,568L500,566L491,573ZM556,584L556,585L566,594L572,594L575,591L573,578L565,576ZM499,612L500,613L513,614L514,613L512,605L504,602L499,606ZM526,600L524,599L514,605L516,614L520,615L529,610Z" fill="#6a2a10"/>
<path d="M550,605L557,605L564,595L555,586L542,593L547,603ZM497,537L485,538L481,542L485,551L495,552L502,546L502,541ZM498,566L499,564L494,553L485,553L478,564L480,569L485,572L489,572ZM472,542L465,555L467,559L477,563L484,552L479,543L474,542ZM484,574L479,571L467,580L468,587L470,591L483,591ZM574,604L571,596L566,596L560,603L560,604L573,605ZM574,562L573,561L564,563L563,565L566,575L574,577L578,573ZM513,561L518,563L527,553L527,552L522,548L512,551Z" fill="#220700"/>
<path d="M561,552L565,561L574,560L578,555L568,542ZM531,554L529,554L519,564L526,575L532,575L533,573L534,556ZM570,540L569,541L579,553L588,545L588,542L580,536L576,536ZM487,601L498,605L503,601L503,587L501,587L485,593ZM518,565L513,563L506,567L510,583L516,583L524,575ZM478,609L477,609L478,611L482,610L482,608ZM484,591L485,592L499,586L489,574L485,574Z" fill="#7c8ade"/>
<path d="M461,530L457,534L458,536L471,541L472,541L472,533L468,528ZM536,541L531,536L526,536L522,539L522,547L529,552L531,552Z" fill="#8a3a18"/>
<path d="M477,523L469,524L468,527L472,531L473,531L478,525ZM592,517L592,519L596,523L598,523L598,515L596,515ZM594,506L589,507L586,512L587,513L591,516L598,512L598,510ZM555,525L552,524L550,526L550,537L559,535ZM570,510L571,509L569,501L567,501L562,508ZM543,502L542,501L539,501L535,506L535,507L540,509L541,508ZM460,508L459,507L456,507L456,513L458,513ZM459,530L459,522L457,521L456,522L457,530L458,531ZM545,502L544,502L543,508L549,510L551,506ZM556,504L561,507L564,501L557,501ZM506,520L504,518L499,518L497,522L499,525L503,525L506,523ZM507,506L508,507L512,508L515,505L514,501L509,501ZM485,535L486,536L495,536L496,535L495,532L490,528L485,532Z" fill="#e8b060"/>
<path d="M546,555L551,567L562,564L563,562L559,553L550,551ZM539,527L538,527L535,528L532,535L537,540L544,537ZM580,554L580,555L591,561L596,557L596,554L589,547ZM573,595L576,605L589,605L591,595L588,592L576,592ZM477,564L466,560L461,566L462,576L466,579L478,569ZM589,572L590,572L590,563L579,557L575,561L579,572ZM463,554L464,553L470,542L458,538L458,539L459,552ZM482,607L486,602L483,593L471,592L470,597L474,607ZM550,550L551,550L560,551L567,540L563,537L561,536L549,538L548,539ZM590,545L595,551L597,551L598,539L595,538L590,542ZM562,566L561,565L551,568L549,570L555,582L564,575ZM464,555L461,554L460,555L461,563L465,559Z" fill="#a04c24"/>
<path d="M483,607L485,611L497,613L498,612L497,606L487,603ZM513,536L506,538L503,542L503,546L511,550L521,546L520,539ZM526,576L517,584L524,597L526,598L539,591L532,576ZM502,547L496,553L500,565L505,566L512,562L510,552L503,547ZM592,574L594,573L595,561L595,560L591,563L591,573ZM530,608L531,609L540,604L545,604L540,593L528,599Z" fill="#8a96e2"/>
<path d="M522,507L523,512L528,513L531,507L530,506L524,506ZM477,514L478,515L486,514L486,509L483,506L478,506ZM585,527L584,526L579,523L578,523L575,526L576,534L580,535ZM594,538L593,531L586,528L582,535L589,540ZM464,505L464,507L467,508L474,504L473,501L468,501ZM539,523L540,523L544,518L540,514L536,518ZM561,510L560,508L555,506L552,507L550,512L557,515L560,513ZM467,517L469,522L470,522L476,521L477,516L476,515L469,515ZM475,514L476,513L476,506L475,505L468,510L469,513ZM522,502L521,501L516,501L516,505L521,506L522,505ZM486,516L478,517L477,521L479,524L487,521ZM516,526L516,524L511,518L507,519L507,523L513,527ZM507,502L507,501L501,501L500,506L504,507L506,507ZM530,513L531,516L535,517L539,513L539,511L533,508ZM460,521L461,528L467,526L468,523L465,519L462,519ZM594,505L596,507L597,506L597,501L595,501ZM494,504L499,506L500,501L494,501L493,502ZM460,505L463,505L465,502L465,501L460,501Z" fill="#d8843a"/>
<path d="M514,515L512,517L517,524L521,524L520,516ZM500,507L499,508L497,514L499,517L503,517L504,516L504,509ZM556,517L555,516L550,514L548,516L552,523L555,522ZM518,526L514,529L513,535L521,538L525,534L523,526L521,525ZM495,513L498,508L497,507L493,505L488,510L488,514ZM587,525L587,526L593,530L596,525L591,520ZM556,521L557,523L565,522L566,521L560,515L557,516ZM513,529L507,525L505,526L506,536L512,535ZM572,512L562,511L561,514L566,519L567,519L572,514ZM551,505L555,504L555,501L548,501L548,502ZM492,501L486,501L484,505L487,508L488,508L492,504ZM524,504L529,504L530,501L524,501Z" fill="#8a3410"/>
<ellipse cx="455.8" cy="502.3" rx="4.6" ry="2.8" fill="#8a96e4"/>
<ellipse cx="566.7" cy="580.3" rx="4.2" ry="2.7" fill="#8a96e4"/>
<ellipse cx="569.0" cy="562.8" rx="5.1" ry="2.9" fill="#8a96e4"/>
<ellipse cx="515.5" cy="555.3" rx="4.7" ry="3.2" fill="#8a96e4"/>
<ellipse cx="515.3" cy="589.4" rx="4.0" ry="2.6" fill="#8a96e4"/>
<ellipse cx="459.4" cy="537.2" rx="4.6" ry="2.4" fill="#8a96e4"/>
<ellipse cx="571.0" cy="578.2" rx="3.7" ry="2.1" fill="#8a96e4"/>
<ellipse cx="507.0" cy="570.1" rx="4.7" ry="2.1" fill="#8a96e4"/>
<ellipse cx="570.4" cy="552.5" rx="4.4" ry="3.0" fill="#8a96e4"/>
<ellipse cx="551.2" cy="543.6" rx="3.4" ry="3.2" fill="#8a96e4"/>
<ellipse cx="495.5" cy="606.6" rx="3.8" ry="2.8" fill="#8a96e4"/>
<ellipse cx="480.8" cy="573.7" rx="4.2" ry="3.7" fill="#8a96e4"/>
<ellipse cx="474.3" cy="572.9" rx="5.8" ry="3.8" fill="#8a96e4"/>
<ellipse cx="583.1" cy="598.4" rx="4.7" ry="3.3" fill="#8a96e4"/>
<ellipse cx="581.7" cy="592.6" rx="4.7" ry="3.9" fill="#8a96e4"/>
<ellipse cx="516.4" cy="590.0" rx="3.4" ry="3.3" fill="#8a96e4"/>
<ellipse cx="553.3" cy="545.4" rx="3.2" ry="3.7" fill="#8a96e4"/>
<ellipse cx="549.3" cy="568.6" rx="3.1" ry="3.3" fill="#8a96e4"/>
<ellipse cx="519.8" cy="567.8" rx="4.4" ry="2.8" fill="#8a96e4"/>
<ellipse cx="512.9" cy="577.0" rx="4.0" ry="2.7" fill="#8a96e4"/>
<ellipse cx="540.5" cy="512.4" rx="3.2" ry="2.8" fill="#8a96e4"/>
<ellipse cx="486.6" cy="528.2" rx="5.8" ry="3.3" fill="#8a96e4"/>
<ellipse cx="577.5" cy="572.9" rx="3.9" ry="2.5" fill="#8a96e4"/>
<ellipse cx="540.1" cy="516.5" rx="5.9" ry="2.5" fill="#8a96e4"/>
<ellipse cx="573.1" cy="537.0" rx="3.3" ry="3.1" fill="#8a96e4"/>
<ellipse cx="593.1" cy="513.2" rx="5.0" ry="2.2" fill="#8a96e4"/>
<ellipse cx="467.4" cy="520.5" rx="3.7" ry="3.6" fill="#8a96e4"/>
<ellipse cx="499.9" cy="609.0" rx="3.8" ry="3.4" fill="#8a96e4"/>
<ellipse cx="484.4" cy="552.1" rx="5.8" ry="3.5" fill="#8a96e4"/>
<path d="M454.7,500.0 C454.9,505.0 454.8,516.7 456.0,530.0 C457.2,543.3 458.9,566.5 462.0,580.0 C465.1,593.5 465.0,604.9 474.7,610.8 C484.4,616.7 509.1,616.6 520.0,615.6 C530.9,614.6 528.4,606.6 540.0,605.0 C551.6,603.4 579.7,617.0 589.6,606.0 C599.5,595.0 597.8,556.7 599.2,539.0 C600.6,521.3 598.3,506.5 598.0,500.0 C597.7,493.5 597.4,500.0 597.3,500.0Z" fill="none" stroke="#f5e4b4" stroke-width="3"/>
<path d="M456.7,123.5 C457.9,144.6 462.6,220.6 463.9,250.0 C465.2,279.4 464.5,283.3 464.5,300.0 C464.5,316.7 464.3,336.7 463.9,350.0 C463.5,363.3 463.4,368.3 462.0,380.0 C460.6,391.7 456.9,406.7 455.3,420.0 C453.7,433.3 452.3,446.7 452.2,460.0 C452.1,473.3 454.3,493.3 454.7,500.0 L459.6,500.0 C460.2,493.3 461.2,473.3 463.3,460.0 C465.4,446.7 469.0,433.3 471.9,420.0 C474.8,406.7 478.4,391.7 480.5,380.0 C482.6,368.3 483.0,363.3 484.2,350.0 C485.4,336.7 488.0,316.7 487.9,300.0 C487.8,283.3 485.4,279.4 483.6,250.0 C481.8,220.6 478.1,144.6 477.0,123.5Z" fill="#5a6be0" stroke="#f6e6b0" stroke-width="1.6" stroke-linejoin="round"/>
<path d="M532.0,123.5 C534.1,144.6 542.5,220.6 544.4,250.0 C546.3,279.4 542.2,283.3 543.2,300.0 C544.2,316.7 548.1,336.7 550.6,350.0 C553.1,363.3 555.5,368.3 558.0,380.0 C560.5,391.7 561.4,406.7 565.3,420.0 C569.2,433.3 577.8,446.7 581.3,460.0 C584.8,473.3 585.4,493.3 586.2,500.0 L597.3,500.0 C596.9,493.3 596.2,473.3 594.8,460.0 C593.4,446.7 591.0,433.3 588.7,420.0 C586.5,406.7 583.1,391.7 581.3,380.0 C579.4,368.3 579.2,363.3 577.6,350.0 C576.0,336.7 573.5,316.7 571.5,300.0 C569.5,283.3 567.5,279.4 565.3,250.0 C563.1,220.6 559.6,144.6 558.5,123.5Z" fill="#5a6be0" stroke="#f6e6b0" stroke-width="1.6" stroke-linejoin="round"/>
<ellipse cx="482.0" cy="335.0" rx="1.7" ry="4.8" fill="#7c88e0" opacity="0.45"/>
<ellipse cx="467.7" cy="350.9" rx="2.6" ry="6.7" fill="#7c88e0" opacity="0.45"/>
<ellipse cx="475.3" cy="219.3" rx="2.8" ry="5.5" fill="#7c88e0" opacity="0.45"/>
<ellipse cx="482.1" cy="286.8" rx="2.7" ry="6.2" fill="#7c88e0" opacity="0.45"/>
<ellipse cx="458.5" cy="478.8" rx="2.7" ry="6.2" fill="#7c88e0" opacity="0.45"/>
<ellipse cx="469.4" cy="223.3" rx="2.4" ry="4.9" fill="#7c88e0" opacity="0.45"/>
<ellipse cx="467.1" cy="338.0" rx="1.9" ry="4.4" fill="#7c88e0" opacity="0.45"/>
<ellipse cx="467.1" cy="163.1" rx="2.8" ry="7.0" fill="#7c88e0" opacity="0.45"/>
<ellipse cx="482.0" cy="351.3" rx="2.5" ry="4.9" fill="#7c88e0" opacity="0.45"/>
<ellipse cx="469.2" cy="149.6" rx="1.6" ry="6.0" fill="#7c88e0" opacity="0.45"/>
<ellipse cx="466.9" cy="382.3" rx="2.7" ry="4.3" fill="#7c88e0" opacity="0.45"/>
<ellipse cx="470.6" cy="162.6" rx="1.8" ry="5.3" fill="#7c88e0" opacity="0.45"/>
<ellipse cx="476.6" cy="268.0" rx="2.8" ry="3.7" fill="#7c88e0" opacity="0.45"/>
<ellipse cx="471.6" cy="399.7" rx="2.1" ry="4.3" fill="#7c88e0" opacity="0.45"/>
<ellipse cx="456.2" cy="471.4" rx="2.8" ry="5.8" fill="#7c88e0" opacity="0.45"/>
<ellipse cx="467.7" cy="424.8" rx="2.6" ry="3.7" fill="#7c88e0" opacity="0.45"/>
<ellipse cx="466.4" cy="358.6" rx="1.9" ry="3.5" fill="#7c88e0" opacity="0.45"/>
<ellipse cx="478.0" cy="314.9" rx="2.1" ry="4.3" fill="#7c88e0" opacity="0.45"/>
<ellipse cx="473.1" cy="264.4" rx="2.1" ry="6.4" fill="#7c88e0" opacity="0.45"/>
<ellipse cx="476.5" cy="361.2" rx="3.0" ry="3.5" fill="#7c88e0" opacity="0.45"/>
<ellipse cx="473.5" cy="383.9" rx="2.7" ry="3.4" fill="#7c88e0" opacity="0.45"/>
<ellipse cx="469.9" cy="195.8" rx="1.6" ry="4.1" fill="#7c88e0" opacity="0.45"/>
<ellipse cx="464.5" cy="132.0" rx="2.5" ry="7.0" fill="#7c88e0" opacity="0.45"/>
<ellipse cx="477.4" cy="253.6" rx="2.6" ry="5.5" fill="#7c88e0" opacity="0.45"/>
<ellipse cx="471.1" cy="269.4" rx="1.7" ry="4.2" fill="#7c88e0" opacity="0.45"/>
<ellipse cx="459.6" cy="410.6" rx="2.9" ry="6.7" fill="#7c88e0" opacity="0.45"/>
<ellipse cx="461.0" cy="126.7" rx="2.0" ry="6.0" fill="#7c88e0" opacity="0.45"/>
<ellipse cx="481.7" cy="266.9" rx="2.5" ry="3.8" fill="#7c88e0" opacity="0.45"/>
<ellipse cx="467.6" cy="213.7" rx="2.3" ry="3.4" fill="#7c88e0" opacity="0.45"/>
<ellipse cx="466.4" cy="133.3" rx="2.5" ry="3.0" fill="#7c88e0" opacity="0.45"/>
<ellipse cx="472.5" cy="325.2" rx="2.8" ry="5.1" fill="#7c88e0" opacity="0.45"/>
<ellipse cx="465.8" cy="395.9" rx="2.6" ry="5.5" fill="#7c88e0" opacity="0.45"/>
<ellipse cx="460.2" cy="457.2" rx="2.8" ry="4.8" fill="#7c88e0" opacity="0.45"/>
<ellipse cx="465.3" cy="399.7" rx="2.8" ry="6.4" fill="#7c88e0" opacity="0.45"/>
<ellipse cx="457.2" cy="480.7" rx="2.7" ry="5.8" fill="#7c88e0" opacity="0.45"/>
<ellipse cx="455.5" cy="472.4" rx="1.7" ry="4.8" fill="#7c88e0" opacity="0.45"/>
<ellipse cx="458.9" cy="484.9" rx="1.5" ry="6.4" fill="#7c88e0" opacity="0.45"/>
<ellipse cx="472.2" cy="208.3" rx="2.8" ry="6.0" fill="#7c88e0" opacity="0.45"/>
<ellipse cx="458.9" cy="465.8" rx="2.9" ry="5.6" fill="#7c88e0" opacity="0.45"/>
<ellipse cx="473.8" cy="230.1" rx="2.0" ry="6.6" fill="#7c88e0" opacity="0.45"/>
<ellipse cx="457.4" cy="483.8" rx="2.0" ry="5.3" fill="#7c88e0" opacity="0.45"/>
<ellipse cx="473.7" cy="393.9" rx="2.0" ry="3.4" fill="#7c88e0" opacity="0.45"/>
<ellipse cx="477.6" cy="213.9" rx="1.8" ry="4.6" fill="#7c88e0" opacity="0.45"/>
<ellipse cx="469.7" cy="301.6" rx="2.7" ry="5.3" fill="#7c88e0" opacity="0.45"/>
<ellipse cx="475.7" cy="314.4" rx="1.7" ry="5.1" fill="#7c88e0" opacity="0.45"/>
<ellipse cx="466.3" cy="326.2" rx="2.2" ry="4.8" fill="#7c88e0" opacity="0.45"/>
<ellipse cx="480.6" cy="348.2" rx="2.6" ry="4.2" fill="#7c88e0" opacity="0.45"/>
<ellipse cx="470.1" cy="215.9" rx="1.9" ry="5.7" fill="#7c88e0" opacity="0.45"/>
<ellipse cx="463.0" cy="434.1" rx="2.9" ry="4.0" fill="#7c88e0" opacity="0.45"/>
<ellipse cx="481.4" cy="279.8" rx="2.1" ry="6.8" fill="#7c88e0" opacity="0.45"/>
<ellipse cx="558.3" cy="361.5" rx="2.3" ry="3.7" fill="#7c88e0" opacity="0.45"/>
<ellipse cx="558.3" cy="213.1" rx="2.2" ry="4.8" fill="#7c88e0" opacity="0.45"/>
<ellipse cx="585.7" cy="418.0" rx="2.5" ry="6.2" fill="#7c88e0" opacity="0.45"/>
<ellipse cx="573.3" cy="381.7" rx="2.7" ry="4.2" fill="#7c88e0" opacity="0.45"/>
<ellipse cx="554.0" cy="303.4" rx="2.2" ry="6.4" fill="#7c88e0" opacity="0.45"/>
<ellipse cx="550.4" cy="269.6" rx="2.8" ry="3.2" fill="#7c88e0" opacity="0.45"/>
<ellipse cx="570.6" cy="368.0" rx="2.7" ry="3.7" fill="#7c88e0" opacity="0.45"/>
<ellipse cx="590.3" cy="471.3" rx="1.9" ry="4.9" fill="#7c88e0" opacity="0.45"/>
<ellipse cx="568.4" cy="347.3" rx="1.6" ry="5.6" fill="#7c88e0" opacity="0.45"/>
<ellipse cx="580.4" cy="431.2" rx="2.6" ry="5.8" fill="#7c88e0" opacity="0.45"/>
<ellipse cx="556.3" cy="328.2" rx="2.9" ry="3.3" fill="#7c88e0" opacity="0.45"/>
<ellipse cx="560.8" cy="323.4" rx="2.1" ry="3.9" fill="#7c88e0" opacity="0.45"/>
<ellipse cx="549.8" cy="329.2" rx="1.9" ry="5.0" fill="#7c88e0" opacity="0.45"/>
<ellipse cx="572.3" cy="348.5" rx="2.7" ry="5.0" fill="#7c88e0" opacity="0.45"/>
<ellipse cx="555.3" cy="188.3" rx="2.1" ry="4.7" fill="#7c88e0" opacity="0.45"/>
<ellipse cx="566.2" cy="360.1" rx="2.8" ry="6.6" fill="#7c88e0" opacity="0.45"/>
<ellipse cx="573.7" cy="356.8" rx="1.5" ry="6.2" fill="#7c88e0" opacity="0.45"/>
<ellipse cx="561.4" cy="239.7" rx="1.7" ry="6.4" fill="#7c88e0" opacity="0.45"/>
<ellipse cx="570.8" cy="381.5" rx="3.0" ry="5.2" fill="#7c88e0" opacity="0.45"/>
<ellipse cx="591.8" cy="482.0" rx="2.7" ry="5.5" fill="#7c88e0" opacity="0.45"/>
<ellipse cx="550.1" cy="313.0" rx="2.2" ry="4.2" fill="#7c88e0" opacity="0.45"/>
<ellipse cx="575.1" cy="423.6" rx="2.2" ry="4.3" fill="#7c88e0" opacity="0.45"/>
<ellipse cx="583.6" cy="431.2" rx="2.1" ry="5.5" fill="#7c88e0" opacity="0.45"/>
<ellipse cx="541.2" cy="156.6" rx="2.2" ry="4.2" fill="#7c88e0" opacity="0.45"/>
<ellipse cx="579.7" cy="395.6" rx="2.6" ry="4.4" fill="#7c88e0" opacity="0.45"/>
<ellipse cx="556.6" cy="285.5" rx="2.6" ry="4.6" fill="#7c88e0" opacity="0.45"/>
<ellipse cx="539.3" cy="126.2" rx="1.8" ry="5.5" fill="#7c88e0" opacity="0.45"/>
<ellipse cx="588.7" cy="475.6" rx="2.9" ry="3.1" fill="#7c88e0" opacity="0.45"/>
<ellipse cx="594.5" cy="497.8" rx="3.0" ry="5.2" fill="#7c88e0" opacity="0.45"/>
<ellipse cx="540.6" cy="182.6" rx="2.1" ry="5.3" fill="#7c88e0" opacity="0.45"/>
<ellipse cx="549.2" cy="144.1" rx="2.5" ry="3.1" fill="#7c88e0" opacity="0.45"/>
<ellipse cx="556.3" cy="316.9" rx="2.0" ry="6.5" fill="#7c88e0" opacity="0.45"/>
<ellipse cx="565.9" cy="370.0" rx="2.0" ry="6.0" fill="#7c88e0" opacity="0.45"/>
<ellipse cx="588.0" cy="485.1" rx="1.8" ry="6.4" fill="#7c88e0" opacity="0.45"/>
<ellipse cx="547.2" cy="167.2" rx="2.0" ry="6.8" fill="#7c88e0" opacity="0.45"/>
<ellipse cx="549.5" cy="188.3" rx="2.5" ry="4.2" fill="#7c88e0" opacity="0.45"/>
<ellipse cx="574.8" cy="360.8" rx="1.6" ry="4.7" fill="#7c88e0" opacity="0.45"/>
<ellipse cx="545.0" cy="215.2" rx="2.9" ry="3.5" fill="#7c88e0" opacity="0.45"/>
<ellipse cx="564.5" cy="294.3" rx="2.1" ry="5.1" fill="#7c88e0" opacity="0.45"/>
<ellipse cx="578.4" cy="404.0" rx="2.8" ry="4.7" fill="#7c88e0" opacity="0.45"/>
<ellipse cx="549.5" cy="151.2" rx="2.8" ry="4.3" fill="#7c88e0" opacity="0.45"/>
<ellipse cx="590.0" cy="481.6" rx="2.2" ry="3.6" fill="#7c88e0" opacity="0.45"/>
<ellipse cx="584.5" cy="463.6" rx="1.8" ry="6.2" fill="#7c88e0" opacity="0.45"/>
<ellipse cx="549.4" cy="300.0" rx="2.8" ry="6.7" fill="#7c88e0" opacity="0.45"/>
<ellipse cx="573.0" cy="382.4" rx="2.0" ry="3.6" fill="#7c88e0" opacity="0.45"/>
<ellipse cx="559.4" cy="290.6" rx="2.5" ry="6.2" fill="#7c88e0" opacity="0.45"/>
<ellipse cx="554.3" cy="271.5" rx="1.6" ry="6.3" fill="#7c88e0" opacity="0.45"/>
<ellipse cx="578.3" cy="444.3" rx="2.3" ry="3.2" fill="#7c88e0" opacity="0.45"/>
<ellipse cx="558.1" cy="276.9" rx="2.3" ry="3.7" fill="#7c88e0" opacity="0.45"/>
<ellipse cx="536.1" cy="139.8" rx="2.3" ry="4.5" fill="#7c88e0" opacity="0.45"/>
</g>
<clipPath id="mclip3"><rect x="632.6" y="98.3" width="203.4" height="522.1"/></clipPath>
<g clip-path="url(#mclip3)">
<rect x="632.6" y="98.3" width="203.4" height="522.1" fill="#000"/>
<path d="M683.7,102.0 C683.5,125.0 683.5,200.8 682.5,239.7 C681.5,278.6 680.3,307.6 677.7,335.5 C675.1,363.4 670.0,387.5 667.0,407.4 C664.0,427.3 661.7,443.1 659.7,455.0 C657.7,466.9 656.6,473.0 655.0,479.0 C653.4,485.0 650.8,485.8 650.0,491.0 C649.2,496.2 649.6,498.0 650.0,510.0 C650.4,522.0 646.6,546.6 652.6,563.0 C658.6,579.4 674.8,603.4 686.0,608.6 C697.2,613.8 708.8,594.0 719.6,594.0 C730.4,594.0 737.6,608.6 750.8,608.6 C764.0,608.6 788.5,611.6 798.7,594.0 C808.9,576.4 809.6,520.2 811.8,503.0 C814.0,485.8 812.4,499.0 811.8,491.0 C811.2,483.0 809.4,468.9 808.0,455.0 C806.6,441.1 805.5,427.3 803.5,407.4 C801.5,387.5 798.8,363.4 796.0,335.5 C793.2,307.6 788.7,278.6 786.7,239.7 C784.8,200.8 784.7,125.0 784.3,102.0" fill="none" stroke="#b0461a" stroke-width="5" stroke-linejoin="round" opacity="0.85"/>
<linearGradient id="mgb3" x1="0" y1="98.3" x2="0" y2="620.4" gradientUnits="userSpaceOnUse"><stop offset="0" stop-color="#000"/><stop offset="0.386" stop-color="#000"/><stop offset="0.752" stop-color="#3c1004"/><stop offset="1" stop-color="#3c1004"/></linearGradient>
<path d="M700.5,102.0 L698.0,239.7 L693.3,335.5 L683.7,407.4 L673.0,455.0 L665.0,479.0 L658.0,491.0 L800.0,491.0 L796.0,455.0 L786.7,407.4 L774.7,335.5 L770.0,239.7 L766.3,102.0Z" fill="url(#mgb3)"/>
<path d="M696,280L697,279M753,223L756,225M772,287L764,278M717,293L719,296M698,301L706,308M716,304L725,320M723,323L708,325M730,442L727,427M722,424L726,410M734,315L739,317M786,403L784,402M710,342L705,358M713,425L708,437M710,380L701,383M701,439L690,435M762,384L746,385M701,383L700,400M696,275L698,276M716,304L706,308M774,458L766,445M769,442L766,445M706,308L704,320M725,320L723,323M788,423L787,428M741,443L749,438M729,463L743,458M754,299L735,300M770,315L761,330M757,360L763,352M707,460L701,458M701,458L700,458M694,340L706,336M777,349L776,350M726,333L723,343M706,336L710,342M704,358L705,358M681,450L674,449M772,416L764,410M764,410L764,400M780,366L778,369M758,365L761,368M695,380L701,383M742,408L743,402M697,279L698,276M731,249L719,251M741,443L743,458M749,438L760,446M755,300L754,299M706,336L708,325M747,372L732,367M796,491L790,481M686,491L686,486M698,481L692,471M779,491L782,482M709,475L717,479M707,460L709,475M669,470L677,472M782,482L790,481M702,491L698,481M798,476L794,476M790,481L794,476M754,465L756,483M669,470L669,468M700,273L705,255M771,259L757,253M771,263L764,278M722,275L717,293M719,296L716,304M767,296L755,300M772,287L767,296M727,445L718,445M749,432L738,423M766,445L760,446M740,276L742,275M745,336L745,336M741,351L745,336M788,423L779,413M776,350L776,350M776,350L779,362M778,369L761,368M727,392L735,384M741,351L739,352M681,450L688,436M746,385L746,400M743,402L746,400M690,435L695,418M692,414L682,417M772,287L772,287M719,251L724,274M770,315L755,307M722,424L727,427M739,317L745,336M741,409L742,408M780,386L778,384M688,436L690,435M695,418L709,420M753,223L740,226M698,225L710,227M697,279L704,290M691,349L697,358M710,342L723,343M718,445L708,437M797,460L795,460M695,301L698,301M782,466L777,458M789,449L787,449M668,471L669,470M704,320L708,325M738,423L727,427M751,314L760,330M692,471L700,458M700,458L682,452M770,428L772,416M772,416L779,413M761,330L772,334M704,358L710,380M727,392L743,402M718,359L726,368M746,385L746,385M685,396L687,400M794,476L790,467M735,479L736,479M707,460L711,459M743,458L753,464M679,470L682,452M795,460L790,467M782,442L769,442M787,428L785,430M769,428L769,442M785,430L770,428M769,428L755,426M755,426L749,432M754,299L750,280M764,278L750,280M734,315L735,300M763,352L756,334M692,349L694,340M697,358L689,367M722,424L713,425M701,458L701,439M784,402L784,401M755,426L755,416M689,371L695,380M726,410L719,400M705,358L718,359M746,385L735,384M762,384L762,398M782,482L776,476M776,476L782,466M764,466L771,476M790,467L782,466M764,466L754,465M769,491L765,483M716,250L719,251M757,253L745,259M726,333L745,336M784,401L780,398M784,401L786,401M758,365L757,360M719,400L722,393M739,352L732,367M714,381L722,393M713,425L709,420M719,400L712,403M722,275L724,274M777,458L787,449M782,442L787,449M767,296L773,302M770,315L773,314M791,430L787,428M782,442L785,430M730,442L741,443M730,442L727,445M741,351L757,360M695,320L694,319M776,350L772,334M697,358L704,358M755,416L764,410M778,384L762,384M747,372L746,385M688,436L679,430M687,400L692,404M752,486L736,479M662,484L668,491M752,486L752,491M733,491L735,479M771,476L765,483M777,458L774,458M728,474L728,465M728,474L717,479M709,475L698,481M755,300L755,307M773,314L774,312M754,465L754,464M738,423L741,409M719,296L732,297M751,314L739,317M760,330L756,334M761,330L760,330M780,386L783,385M755,416L742,408M739,352L724,345M714,381L726,368M735,384L731,368M762,398L746,400M764,400L762,398M695,380L686,388M709,420L712,403M700,400L692,404M715,491L717,479M668,491L678,480M728,474L735,479M727,445L729,463M668,491L668,491M698,481L698,481M678,480L686,486M765,483L756,483M686,486L698,481M774,458L764,466M729,463L728,465M736,479L753,464M692,471L679,470M795,460L789,449M677,472L679,470M794,446L789,449M789,421L788,423M755,307L751,314M773,314L774,314M772,334L775,333M780,398L780,386M778,369L778,384M761,368L762,384M718,359L724,345M723,343L724,345M700,400L712,403M695,418L692,414M776,476L771,476M752,486L756,483M760,446L754,464M711,459L728,465M678,480L677,472M754,464L753,464M711,459L718,445M749,432L749,438M741,409L726,410M756,334L745,336M694,323L695,320M694,340L693,339M784,402L779,413M776,350L763,352M701,439L708,437M727,392L722,393M732,367L731,368M762,384L762,384M769,428L770,428M732,297L740,276M758,365L747,372M685,401L687,400M725,320L734,315M726,333L723,323M704,320L695,320M780,398L764,400M726,368L731,368M714,381L710,380M692,414L692,404M681,450L682,452" stroke="#4a1204" stroke-width="4" fill="none" stroke-linecap="round" stroke-linejoin="round"/>
<path d="M696,280L697,279M753,223L756,225M772,287L764,278M717,293L719,296M698,301L706,308M716,304L725,320M723,323L708,325M730,442L727,427M722,424L726,410M734,315L739,317M786,403L784,402M710,342L705,358M713,425L708,437M710,380L701,383M701,439L690,435M762,384L746,385M701,383L700,400" stroke="#8a2c0a" stroke-width="1.5" fill="none" stroke-linecap="round"/>
<path d="M696,275L698,276M716,304L706,308M774,458L766,445M769,442L766,445M706,308L704,320M725,320L723,323M788,423L787,428M741,443L749,438M729,463L743,458M754,299L735,300M770,315L761,330M757,360L763,352M707,460L701,458M701,458L700,458M694,340L706,336M777,349L776,350M726,333L723,343M706,336L710,342M704,358L705,358M681,450L674,449M772,416L764,410M764,410L764,400M780,366L778,369M758,365L761,368M695,380L701,383M742,408L743,402" stroke="#a83e14" stroke-width="2.0" fill="none" stroke-linecap="round"/>
<path d="M697,279L698,276M731,249L719,251M741,443L743,458M749,438L760,446M755,300L754,299M706,336L708,325M747,372L732,367" stroke="#a83e14" stroke-width="1.5" fill="none" stroke-linecap="round"/>
<path d="M796,491L790,481M686,491L686,486M698,481L692,471" stroke="#8a2c0a" stroke-width="4.5" fill="none" stroke-linecap="round"/>
<path d="M779,491L782,482M709,475L717,479M707,460L709,475M669,470L677,472" stroke="#8a2c0a" stroke-width="4.0" fill="none" stroke-linecap="round"/>
<path d="M782,482L790,481M702,491L698,481" stroke="#bc501c" stroke-width="5.0" fill="none" stroke-linecap="round"/>
<path d="M798,476L794,476" stroke="#9a340c" stroke-width="4.0" fill="none" stroke-linecap="round"/>
<path d="M790,481L794,476M754,465L756,483M669,470L669,468" stroke="#a83e14" stroke-width="4.0" fill="none" stroke-linecap="round"/>
<path d="M700,273L705,255M771,259L757,253M771,263L764,278M722,275L717,293M719,296L716,304M767,296L755,300M772,287L767,296M727,445L718,445M749,432L738,423M766,445L760,446M740,276L742,275M745,336L745,336M741,351L745,336M788,423L779,413M776,350L776,350M776,350L779,362M778,369L761,368M727,392L735,384M741,351L739,352M681,450L688,436M746,385L746,400M743,402L746,400M690,435L695,418M692,414L682,417" stroke="#8a2c0a" stroke-width="2.0" fill="none" stroke-linecap="round"/>
<path d="M772,287L772,287M719,251L724,274M770,315L755,307M722,424L727,427M739,317L745,336M741,409L742,408M780,386L778,384M688,436L690,435M695,418L709,420" stroke="#e8a050" stroke-width="2.0" fill="none" stroke-linecap="round"/>
<path d="M753,223L740,226" stroke="#9a340c" stroke-width="1.0" fill="none" stroke-linecap="round"/>
<path d="M698,225L710,227" stroke="#8a2c0a" stroke-width="1.0" fill="none" stroke-linecap="round"/>
<path d="M697,279L704,290M691,349L697,358M710,342L723,343M718,445L708,437" stroke="#e8a050" stroke-width="2.5" fill="none" stroke-linecap="round"/>
<path d="M797,460L795,460M695,301L698,301M782,466L777,458M789,449L787,449M668,471L669,470M704,320L708,325M738,423L727,427M751,314L760,330M692,471L700,458M700,458L682,452M770,428L772,416M772,416L779,413M761,330L772,334M704,358L710,380M727,392L743,402M718,359L726,368M746,385L746,385M685,396L687,400" stroke="#9a340c" stroke-width="2.5" fill="none" stroke-linecap="round"/>
<path d="M794,476L790,467M735,479L736,479M707,460L711,459M743,458L753,464M679,470L682,452" stroke="#bc501c" stroke-width="3.0" fill="none" stroke-linecap="round"/>
<path d="M795,460L790,467M782,442L769,442M787,428L785,430M769,428L769,442M785,430L770,428M769,428L755,426M755,426L749,432M754,299L750,280M764,278L750,280M734,315L735,300M763,352L756,334M692,349L694,340M697,358L689,367M722,424L713,425M701,458L701,439M784,402L784,401M755,426L755,416M689,371L695,380M726,410L719,400M705,358L718,359M746,385L735,384M762,384L762,398" stroke="#bc501c" stroke-width="2.0" fill="none" stroke-linecap="round"/>
<path d="M782,482L776,476" stroke="#8a2c0a" stroke-width="5.0" fill="none" stroke-linecap="round"/>
<path d="M776,476L782,466M764,466L771,476" stroke="#e8a050" stroke-width="4.0" fill="none" stroke-linecap="round"/>
<path d="M790,467L782,466M764,466L754,465M769,491L765,483" stroke="#bc501c" stroke-width="4.0" fill="none" stroke-linecap="round"/>
<path d="M716,250L719,251M757,253L745,259M726,333L745,336M784,401L780,398M784,401L786,401M758,365L757,360M719,400L722,393M739,352L732,367M714,381L722,393M713,425L709,420M719,400L712,403" stroke="#bc501c" stroke-width="1.5" fill="none" stroke-linecap="round"/>
<path d="M722,275L724,274M777,458L787,449M782,442L787,449M767,296L773,302M770,315L773,314M791,430L787,428M782,442L785,430M730,442L741,443M730,442L727,445M741,351L757,360M695,320L694,319M776,350L772,334M697,358L704,358M755,416L764,410M778,384L762,384M747,372L746,385M688,436L679,430M687,400L692,404" stroke="#9a340c" stroke-width="2.0" fill="none" stroke-linecap="round"/>
<path d="M752,486L736,479M662,484L668,491" stroke="#9a340c" stroke-width="4.5" fill="none" stroke-linecap="round"/>
<path d="M752,486L752,491" stroke="#9a340c" stroke-width="5.5" fill="none" stroke-linecap="round"/>
<path d="M733,491L735,479M771,476L765,483M777,458L774,458M728,474L728,465" stroke="#a83e14" stroke-width="3.0" fill="none" stroke-linecap="round"/>
<path d="M728,474L717,479M709,475L698,481M755,300L755,307M773,314L774,312M754,465L754,464M738,423L741,409M719,296L732,297M751,314L739,317M760,330L756,334M761,330L760,330M780,386L783,385M755,416L742,408M739,352L724,345M714,381L726,368M735,384L731,368M762,398L746,400M764,400L762,398M695,380L686,388M709,420L712,403M700,400L692,404" stroke="#a83e14" stroke-width="2.5" fill="none" stroke-linecap="round"/>
<path d="M715,491L717,479M668,491L678,480" stroke="#a83e14" stroke-width="5.0" fill="none" stroke-linecap="round"/>
<path d="M728,474L735,479M727,445L729,463" stroke="#e8a050" stroke-width="3.0" fill="none" stroke-linecap="round"/>
<path d="M668,491L668,491M698,481L698,481" stroke="#a83e14" stroke-width="4.5" fill="none" stroke-linecap="round"/>
<path d="M678,480L686,486M765,483L756,483" stroke="#8a2c0a" stroke-width="3.5" fill="none" stroke-linecap="round"/>
<path d="M686,486L698,481M774,458L764,466M729,463L728,465M736,479L753,464M692,471L679,470" stroke="#9a340c" stroke-width="3.5" fill="none" stroke-linecap="round"/>
<path d="M795,460L789,449M677,472L679,470" stroke="#9a340c" stroke-width="3.0" fill="none" stroke-linecap="round"/>
<path d="M794,446L789,449M789,421L788,423M755,307L751,314M773,314L774,314M772,334L775,333M780,398L780,386M778,369L778,384M761,368L762,384M718,359L724,345M723,343L724,345M700,400L712,403M695,418L692,414" stroke="#bc501c" stroke-width="2.5" fill="none" stroke-linecap="round"/>
<path d="M776,476L771,476M752,486L756,483M760,446L754,464" stroke="#a83e14" stroke-width="3.5" fill="none" stroke-linecap="round"/>
<path d="M711,459L728,465M678,480L677,472M754,464L753,464" stroke="#e8a050" stroke-width="3.5" fill="none" stroke-linecap="round"/>
<path d="M711,459L718,445M749,432L749,438M741,409L726,410M756,334L745,336M694,323L695,320M694,340L693,339M784,402L779,413M776,350L763,352M701,439L708,437M727,392L722,393M732,367L731,368M762,384L762,384" stroke="#8a2c0a" stroke-width="2.5" fill="none" stroke-linecap="round"/>
<path d="M769,428L770,428M732,297L740,276M758,365L747,372M685,401L687,400" stroke="#e8a050" stroke-width="1.5" fill="none" stroke-linecap="round"/>
<path d="M725,320L734,315M726,333L723,323M704,320L695,320M780,398L764,400M726,368L731,368M714,381L710,380M692,414L692,404" stroke="#9a340c" stroke-width="1.5" fill="none" stroke-linecap="round"/>
<path d="M681,450L682,452" stroke="#8a2c0a" stroke-width="3.0" fill="none" stroke-linecap="round"/>
<path d="M650.0,491.0 C650.0,494.2 649.6,498.0 650.0,510.0 C650.4,522.0 646.6,546.6 652.6,563.0 C658.6,579.4 674.8,603.4 686.0,608.6 C697.2,613.8 708.8,594.0 719.6,594.0 C730.4,594.0 737.6,608.6 750.8,608.6 C764.0,608.6 788.5,611.6 798.7,594.0 C808.9,576.4 809.6,520.2 811.8,503.0 C814.0,485.8 811.8,493.0 811.8,491.0Z" fill="#ecd49c"/>
<path d="M735,580L734,579L722,580L721,581L721,585L734,598L738,595ZM758,580L759,581L768,580L774,572L768,562L761,563ZM690,591L690,590L688,578L677,573L674,577L674,589L683,594ZM806,527L803,528L796,531L793,541L799,546L805,543L808,528ZM658,569L663,576L673,576L677,571L666,557L657,560ZM677,592L676,592L676,593L680,599L681,599L682,595Z" fill="#8a3a18"/>
<path d="M659,492L658,492L655,497L658,502L664,497ZM659,504L657,504L654,508L655,512L659,514L662,511L662,509ZM768,510L767,510L767,517L772,519L776,513L774,510ZM695,507L698,511L702,510L701,504L697,503ZM669,495L670,496L674,495L675,492L669,492ZM762,494L766,498L768,497L769,492L768,492L763,492ZM760,511L758,513L760,519L761,520L765,517L766,511L765,511ZM652,498L651,499L651,505L653,506L657,502L654,498ZM688,492L687,493L690,498L694,498L693,492ZM807,497L806,498L807,503L811,503L811,496ZM807,512L805,513L806,523L807,524L808,523L810,513ZM780,493L788,497L790,493L789,492L781,492ZM758,503L757,504L759,509L766,509L765,501ZM782,524L782,515L778,514L773,520L775,527L777,528ZM804,507L806,504L805,497L803,496L800,497L797,502L799,504ZM758,522L759,521L757,513L753,513L750,523Z" fill="#c0601e"/>
<path d="M678,504L682,508L685,506L686,503L680,499ZM701,524L704,522L704,513L703,511L699,513L697,516L698,523ZM752,511L756,512L758,510L755,503L753,503L751,509ZM720,500L720,498L715,496L710,501L712,503L717,504ZM653,526L659,520L659,515L655,514L651,516L651,525ZM778,512L783,514L786,511L786,505L778,504L776,509ZM727,512L726,511L723,513L720,523L722,528L731,528L732,527ZM721,512L713,513L713,521L718,523L719,522L721,513ZM808,505L805,507L805,509L809,511L811,505L810,505ZM711,521L712,520L711,513L709,511L706,512L706,521ZM671,522L672,523L675,521L675,514L672,512L669,514ZM695,515L697,512L695,508L690,509L690,513ZM680,497L681,498L686,501L689,499L685,493Z" fill="#a84a18"/>
<path d="M740,570L730,561L721,565L718,575L721,579L735,578L740,573ZM721,587L720,587L713,594L713,595L714,596L720,593L730,598L730,596ZM735,599L735,600L747,606L748,606L748,602L743,597L739,597ZM668,529L670,524L661,521L655,526L659,532ZM770,580L770,581L779,589L785,583L782,573L775,573ZM757,583L756,583L745,596L749,601L761,601L763,598ZM733,550L732,549L719,545L713,556L721,563L730,560ZM678,570L678,572L689,577L699,571L698,560L690,558ZM779,591L768,582L759,583L765,596L778,595ZM701,540L706,536L701,526L697,525L689,529L688,535L690,539ZM781,556L774,557L770,561L776,571L783,572L790,565Z" fill="#a04c24"/>
<path d="M791,541L795,530L790,526L783,525L776,530L775,534L787,542ZM701,571L706,575L717,575L720,564L712,557L704,557L700,560ZM755,581L757,581L760,563L754,559L741,570L741,573ZM774,555L775,555L781,554L787,543L773,535L769,536L768,539ZM719,585L720,580L717,576L707,576L703,589L712,593ZM656,561L654,560L653,561L653,563L655,564L656,564Z" fill="#6a2a10"/>
<path d="M735,504L736,502L734,499L731,498L726,502L727,508L728,508ZM736,498L737,501L743,502L746,500L742,492L739,492ZM729,492L728,493L732,497L734,497L737,493L736,492ZM690,525L691,526L697,523L695,516L690,514L688,517ZM786,503L788,500L788,498L780,495L777,499L778,502ZM701,494L702,492L701,492L695,492L696,496ZM811,494L811,493L810,492L805,492L804,492L804,495L805,496ZM789,525L790,524L791,514L788,512L783,515L784,523ZM664,510L669,513L671,511L672,506L669,505L664,509ZM796,516L793,515L792,515L791,525L796,529L801,526ZM789,498L790,500L796,501L799,497L794,492L793,492ZM703,503L704,510L705,511L709,510L711,504L709,501L707,501ZM800,495L802,495L802,492L797,492L797,493ZM722,498L722,499L726,501L730,497L726,493ZM760,494L761,493L760,492L754,492L754,494ZM666,496L667,496L667,492L662,492L662,493Z" fill="#e8b060"/>
<path d="M717,506L712,505L710,511L712,512L719,510L719,509ZM769,498L766,500L768,508L775,508L777,503L775,500ZM797,505L796,503L789,501L787,504L788,511L792,512ZM749,509L752,502L751,501L747,501L744,503L745,509L745,510ZM668,499L666,498L660,503L663,507L669,504ZM793,512L794,513L796,514L804,511L804,508L798,506ZM688,508L694,506L696,502L694,499L690,500L687,502L687,506ZM682,493L682,492L677,492L676,495L679,496ZM770,496L770,497L775,498L779,494L779,492L771,492ZM739,513L741,513L743,510L742,504L737,502L736,504ZM676,504L678,498L675,496L669,498L670,503L673,505ZM725,503L721,501L718,505L721,510L722,511L726,510ZM748,520L749,520L751,513L750,511L745,511L742,514ZM653,496L656,493L656,492L651,492L651,496ZM653,513L653,508L651,508L651,513L652,514Z" fill="#8a3410"/>
<path d="M761,522L760,523L769,535L773,533L775,529L772,521L766,518ZM803,562L801,561L799,565L801,568L802,567ZM686,534L688,530L687,529L678,523L676,523L671,525L670,529L675,536ZM798,566L791,566L784,573L786,583L798,584L800,581L801,572ZM687,550L691,557L699,558L703,555L701,542L690,540ZM653,543L653,558L656,559L666,556L669,549L658,540ZM741,515L739,516L733,527L733,528L734,529L749,525L749,523ZM751,536L748,527L735,531L739,545L743,545ZM715,536L721,528L719,524L712,522L705,523L703,525L703,526L707,535ZM754,583L754,582L740,574L736,579L739,595L743,595ZM668,547L670,547L674,537L669,530L660,534L659,539ZM704,554L705,555L712,555L718,544L715,538L707,537L703,541ZM766,538L768,535L759,524L750,525L752,535ZM761,603L750,602L749,607L751,608L761,605Z" fill="#220700"/>
<path d="M665,579L672,587L673,587L672,578L665,577ZM779,597L778,596L765,598L762,602L763,603L764,604L778,600ZM780,596L786,597L796,594L798,592L798,585L786,584L780,591ZM657,539L658,533L653,527L652,527L651,528L652,540L653,541ZM671,548L672,549L686,549L689,540L687,536L675,537Z" fill="#8a96e2"/>
<path d="M734,531L731,529L722,529L716,537L719,543L734,548L737,546ZM752,553L754,553L764,540L764,539L752,536L744,545L744,547ZM705,577L700,572L689,578L692,591L695,592L701,589ZM754,554L755,557L761,561L768,561L772,556L767,540L766,540ZM686,551L670,551L668,557L677,569L678,568L689,557ZM802,560L805,547L804,546L799,548L801,559Z" fill="#a4aee8"/>
<path d="M683,515L687,516L689,514L688,509L686,508L682,510L681,511ZM716,494L720,497L724,492L723,492L716,492ZM709,500L714,495L714,492L705,492L707,499ZM753,501L756,502L764,500L764,499L761,495L754,495ZM747,499L751,499L753,495L752,492L744,492ZM661,514L661,519L669,522L667,514L663,512ZM729,509L729,511L737,513L738,512L735,505ZM673,510L676,512L680,510L680,509L676,505L673,506ZM677,513L676,521L678,522L682,516L680,512ZM738,516L737,514L729,513L732,523L734,523ZM804,513L803,513L797,516L803,526L805,525ZM697,501L702,503L705,500L704,494L695,498L695,499ZM684,516L680,522L688,527L689,526L687,517Z" fill="#d8843a"/>
<path d="M798,548L792,542L788,543L782,554L791,564L798,564L800,561ZM694,593L691,592L684,595L682,602L686,607L696,603ZM738,546L735,549L731,560L740,569L753,557L752,555L743,547ZM712,595L702,590L695,593L698,602L699,602L711,597Z" fill="#7c8ade"/>
<ellipse cx="716.2" cy="582.4" rx="5.7" ry="2.5" fill="#8a96e4"/>
<ellipse cx="754.5" cy="600.3" rx="5.7" ry="3.5" fill="#8a96e4"/>
<ellipse cx="724.5" cy="530.2" rx="3.7" ry="2.9" fill="#8a96e4"/>
<ellipse cx="766.5" cy="599.9" rx="4.7" ry="3.0" fill="#8a96e4"/>
<ellipse cx="680.2" cy="508.2" rx="4.7" ry="2.2" fill="#8a96e4"/>
<ellipse cx="740.5" cy="588.5" rx="4.1" ry="3.7" fill="#8a96e4"/>
<ellipse cx="755.7" cy="562.2" rx="4.4" ry="2.7" fill="#8a96e4"/>
<ellipse cx="784.8" cy="564.3" rx="3.8" ry="2.2" fill="#8a96e4"/>
<ellipse cx="735.3" cy="518.5" rx="4.5" ry="2.9" fill="#8a96e4"/>
<ellipse cx="780.1" cy="585.3" rx="4.0" ry="3.9" fill="#8a96e4"/>
<ellipse cx="775.0" cy="578.1" rx="4.9" ry="2.4" fill="#8a96e4"/>
<ellipse cx="775.9" cy="539.5" rx="4.7" ry="3.6" fill="#8a96e4"/>
<ellipse cx="809.4" cy="513.5" rx="5.7" ry="2.1" fill="#8a96e4"/>
<ellipse cx="723.4" cy="589.3" rx="4.0" ry="3.7" fill="#8a96e4"/>
<ellipse cx="772.0" cy="600.8" rx="3.5" ry="2.4" fill="#8a96e4"/>
<ellipse cx="744.7" cy="499.5" rx="5.4" ry="2.4" fill="#8a96e4"/>
<ellipse cx="675.0" cy="557.3" rx="4.7" ry="2.1" fill="#8a96e4"/>
<ellipse cx="705.1" cy="552.5" rx="5.8" ry="2.6" fill="#8a96e4"/>
<ellipse cx="725.0" cy="591.3" rx="3.9" ry="3.0" fill="#8a96e4"/>
<path d="M650.0,491.0 C650.0,494.2 649.6,498.0 650.0,510.0 C650.4,522.0 646.6,546.6 652.6,563.0 C658.6,579.4 674.8,603.4 686.0,608.6 C697.2,613.8 708.8,594.0 719.6,594.0 C730.4,594.0 737.6,608.6 750.8,608.6 C764.0,608.6 788.5,611.6 798.7,594.0 C808.9,576.4 809.6,520.2 811.8,503.0 C814.0,485.8 811.8,493.0 811.8,491.0Z" fill="none" stroke="#f5e4b4" stroke-width="3"/>
<path d="M683.7,102.0 C683.5,125.0 683.5,200.8 682.5,239.7 C681.5,278.6 680.3,307.6 677.7,335.5 C675.1,363.4 670.0,387.5 667.0,407.4 C664.0,427.3 661.7,443.1 659.7,455.0 C657.7,466.9 656.6,473.0 655.0,479.0 C653.4,485.0 650.8,489.0 650.0,491.0 L658.0,491.0 C659.2,489.0 662.5,485.0 665.0,479.0 C667.5,473.0 669.9,466.9 673.0,455.0 C676.1,443.1 680.3,427.3 683.7,407.4 C687.1,387.5 690.9,363.4 693.3,335.5 C695.7,307.6 696.8,278.6 698.0,239.7 C699.2,200.8 700.1,125.0 700.5,102.0Z" fill="#5a6be0" stroke="#f6e6b0" stroke-width="1.6" stroke-linejoin="round"/>
<path d="M766.3,102.0 C766.9,125.0 768.6,200.8 770.0,239.7 C771.4,278.6 771.9,307.6 774.7,335.5 C777.5,363.4 783.2,387.5 786.7,407.4 C790.2,427.3 793.8,441.1 796.0,455.0 C798.2,468.9 799.3,485.0 800.0,491.0 L811.8,491.0 C811.2,485.0 809.4,468.9 808.0,455.0 C806.6,441.1 805.5,427.3 803.5,407.4 C801.5,387.5 798.8,363.4 796.0,335.5 C793.2,307.6 788.7,278.6 786.7,239.7 C784.8,200.8 784.7,125.0 784.3,102.0Z" fill="#5a6be0" stroke="#f6e6b0" stroke-width="1.6" stroke-linejoin="round"/>
<ellipse cx="693.8" cy="243.3" rx="1.8" ry="4.5" fill="#7c88e0" opacity="0.45"/>
<ellipse cx="672.6" cy="415.0" rx="2.1" ry="4.6" fill="#7c88e0" opacity="0.45"/>
<ellipse cx="688.3" cy="120.9" rx="2.7" ry="6.6" fill="#7c88e0" opacity="0.45"/>
<ellipse cx="683.7" cy="360.3" rx="2.6" ry="6.2" fill="#7c88e0" opacity="0.45"/>
<ellipse cx="691.9" cy="115.0" rx="2.2" ry="4.9" fill="#7c88e0" opacity="0.45"/>
<ellipse cx="666.0" cy="436.5" rx="3.0" ry="5.6" fill="#7c88e0" opacity="0.45"/>
<ellipse cx="663.1" cy="473.4" rx="1.6" ry="6.5" fill="#7c88e0" opacity="0.45"/>
<ellipse cx="683.5" cy="278.8" rx="2.9" ry="3.4" fill="#7c88e0" opacity="0.45"/>
<ellipse cx="695.5" cy="167.2" rx="2.6" ry="6.1" fill="#7c88e0" opacity="0.45"/>
<ellipse cx="693.0" cy="183.2" rx="2.3" ry="4.5" fill="#7c88e0" opacity="0.45"/>
<ellipse cx="691.7" cy="238.0" rx="2.7" ry="3.4" fill="#7c88e0" opacity="0.45"/>
<ellipse cx="671.1" cy="428.8" rx="2.2" ry="6.8" fill="#7c88e0" opacity="0.45"/>
<ellipse cx="660.2" cy="473.5" rx="2.4" ry="6.3" fill="#7c88e0" opacity="0.45"/>
<ellipse cx="680.9" cy="360.6" rx="1.8" ry="6.7" fill="#7c88e0" opacity="0.45"/>
<ellipse cx="661.1" cy="474.2" rx="1.6" ry="4.7" fill="#7c88e0" opacity="0.45"/>
<ellipse cx="690.5" cy="318.9" rx="3.0" ry="4.3" fill="#7c88e0" opacity="0.45"/>
<ellipse cx="687.2" cy="346.0" rx="2.6" ry="4.1" fill="#7c88e0" opacity="0.45"/>
<ellipse cx="685.4" cy="372.7" rx="2.4" ry="6.9" fill="#7c88e0" opacity="0.45"/>
<ellipse cx="686.9" cy="230.5" rx="1.7" ry="5.7" fill="#7c88e0" opacity="0.45"/>
<ellipse cx="686.1" cy="141.7" rx="1.7" ry="5.4" fill="#7c88e0" opacity="0.45"/>
<ellipse cx="657.6" cy="487.4" rx="1.6" ry="5.2" fill="#7c88e0" opacity="0.45"/>
<ellipse cx="673.5" cy="434.5" rx="2.1" ry="6.8" fill="#7c88e0" opacity="0.45"/>
<ellipse cx="691.7" cy="125.9" rx="3.0" ry="3.3" fill="#7c88e0" opacity="0.45"/>
<ellipse cx="663.0" cy="462.9" rx="2.6" ry="4.1" fill="#7c88e0" opacity="0.45"/>
<ellipse cx="690.2" cy="237.8" rx="1.8" ry="6.6" fill="#7c88e0" opacity="0.45"/>
<ellipse cx="693.2" cy="107.9" rx="2.5" ry="4.9" fill="#7c88e0" opacity="0.45"/>
<ellipse cx="691.7" cy="293.3" rx="2.4" ry="3.7" fill="#7c88e0" opacity="0.45"/>
<ellipse cx="671.9" cy="399.3" rx="1.7" ry="5.3" fill="#7c88e0" opacity="0.45"/>
<ellipse cx="673.3" cy="431.4" rx="1.9" ry="3.5" fill="#7c88e0" opacity="0.45"/>
<ellipse cx="685.1" cy="243.6" rx="2.5" ry="4.0" fill="#7c88e0" opacity="0.45"/>
<ellipse cx="689.7" cy="133.1" rx="2.3" ry="6.8" fill="#7c88e0" opacity="0.45"/>
<ellipse cx="686.4" cy="146.9" rx="2.7" ry="6.1" fill="#7c88e0" opacity="0.45"/>
<ellipse cx="691.4" cy="301.4" rx="1.8" ry="4.7" fill="#7c88e0" opacity="0.45"/>
<ellipse cx="677.2" cy="357.0" rx="2.6" ry="5.8" fill="#7c88e0" opacity="0.45"/>
<ellipse cx="693.2" cy="157.4" rx="2.3" ry="4.1" fill="#7c88e0" opacity="0.45"/>
<ellipse cx="665.2" cy="442.3" rx="2.8" ry="4.2" fill="#7c88e0" opacity="0.45"/>
<ellipse cx="686.1" cy="312.0" rx="2.1" ry="4.5" fill="#7c88e0" opacity="0.45"/>
<ellipse cx="679.7" cy="376.8" rx="2.7" ry="4.4" fill="#7c88e0" opacity="0.45"/>
<ellipse cx="688.3" cy="159.1" rx="1.5" ry="6.7" fill="#7c88e0" opacity="0.45"/>
<ellipse cx="694.7" cy="202.3" rx="2.4" ry="3.4" fill="#7c88e0" opacity="0.45"/>
<ellipse cx="670.8" cy="451.8" rx="2.3" ry="5.5" fill="#7c88e0" opacity="0.45"/>
<ellipse cx="685.1" cy="308.8" rx="2.3" ry="5.9" fill="#7c88e0" opacity="0.45"/>
<ellipse cx="686.8" cy="304.5" rx="1.9" ry="4.6" fill="#7c88e0" opacity="0.45"/>
<ellipse cx="657.9" cy="487.2" rx="2.2" ry="5.0" fill="#7c88e0" opacity="0.45"/>
<ellipse cx="695.5" cy="196.0" rx="2.7" ry="3.9" fill="#7c88e0" opacity="0.45"/>
<ellipse cx="684.7" cy="367.1" rx="2.0" ry="4.3" fill="#7c88e0" opacity="0.45"/>
<ellipse cx="675.1" cy="407.5" rx="1.6" ry="3.8" fill="#7c88e0" opacity="0.45"/>
<ellipse cx="679.9" cy="339.4" rx="1.6" ry="3.9" fill="#7c88e0" opacity="0.45"/>
<ellipse cx="687.6" cy="320.7" rx="1.8" ry="4.5" fill="#7c88e0" opacity="0.45"/>
<ellipse cx="696.2" cy="177.0" rx="1.5" ry="5.1" fill="#7c88e0" opacity="0.45"/>
<ellipse cx="772.5" cy="197.8" rx="1.5" ry="4.2" fill="#7c88e0" opacity="0.45"/>
<ellipse cx="774.9" cy="105.9" rx="1.7" ry="5.6" fill="#7c88e0" opacity="0.45"/>
<ellipse cx="789.1" cy="362.6" rx="2.7" ry="4.6" fill="#7c88e0" opacity="0.45"/>
<ellipse cx="780.8" cy="181.4" rx="2.3" ry="3.4" fill="#7c88e0" opacity="0.45"/>
<ellipse cx="793.0" cy="408.1" rx="1.7" ry="5.9" fill="#7c88e0" opacity="0.45"/>
<ellipse cx="769.5" cy="122.3" rx="2.4" ry="3.5" fill="#7c88e0" opacity="0.45"/>
<ellipse cx="778.3" cy="165.9" rx="2.5" ry="5.9" fill="#7c88e0" opacity="0.45"/>
<ellipse cx="801.8" cy="480.2" rx="2.7" ry="4.9" fill="#7c88e0" opacity="0.45"/>
<ellipse cx="803.9" cy="447.9" rx="2.9" ry="5.4" fill="#7c88e0" opacity="0.45"/>
<ellipse cx="799.2" cy="454.3" rx="2.1" ry="6.8" fill="#7c88e0" opacity="0.45"/>
<ellipse cx="801.6" cy="486.7" rx="1.8" ry="3.6" fill="#7c88e0" opacity="0.45"/>
<ellipse cx="775.0" cy="156.4" rx="2.0" ry="6.8" fill="#7c88e0" opacity="0.45"/>
<ellipse cx="772.2" cy="126.2" rx="2.9" ry="5.1" fill="#7c88e0" opacity="0.45"/>
<ellipse cx="807.9" cy="480.3" rx="2.7" ry="5.5" fill="#7c88e0" opacity="0.45"/>
<ellipse cx="776.4" cy="138.4" rx="2.1" ry="4.6" fill="#7c88e0" opacity="0.45"/>
<ellipse cx="795.0" cy="394.4" rx="1.9" ry="5.2" fill="#7c88e0" opacity="0.45"/>
<ellipse cx="786.8" cy="308.7" rx="2.1" ry="3.5" fill="#7c88e0" opacity="0.45"/>
<ellipse cx="781.3" cy="211.7" rx="2.0" ry="3.0" fill="#7c88e0" opacity="0.45"/>
<ellipse cx="794.6" cy="381.9" rx="1.6" ry="6.6" fill="#7c88e0" opacity="0.45"/>
<ellipse cx="795.3" cy="390.0" rx="1.7" ry="4.9" fill="#7c88e0" opacity="0.45"/>
<ellipse cx="781.3" cy="292.5" rx="2.7" ry="4.5" fill="#7c88e0" opacity="0.45"/>
<ellipse cx="802.6" cy="433.7" rx="2.0" ry="4.1" fill="#7c88e0" opacity="0.45"/>
<ellipse cx="779.6" cy="174.7" rx="2.3" ry="5.4" fill="#7c88e0" opacity="0.45"/>
<ellipse cx="780.6" cy="347.0" rx="2.2" ry="7.0" fill="#7c88e0" opacity="0.45"/>
<ellipse cx="785.0" cy="299.4" rx="2.7" ry="5.0" fill="#7c88e0" opacity="0.45"/>
<ellipse cx="783.8" cy="360.0" rx="2.7" ry="6.0" fill="#7c88e0" opacity="0.45"/>
<ellipse cx="782.0" cy="306.5" rx="2.4" ry="3.3" fill="#7c88e0" opacity="0.45"/>
<ellipse cx="784.2" cy="228.5" rx="1.7" ry="3.1" fill="#7c88e0" opacity="0.45"/>
<ellipse cx="784.7" cy="296.4" rx="2.7" ry="5.0" fill="#7c88e0" opacity="0.45"/>
<ellipse cx="781.1" cy="314.6" rx="1.5" ry="4.8" fill="#7c88e0" opacity="0.45"/>
<ellipse cx="787.8" cy="307.9" rx="2.8" ry="6.5" fill="#7c88e0" opacity="0.45"/>
<ellipse cx="784.2" cy="323.5" rx="2.8" ry="4.1" fill="#7c88e0" opacity="0.45"/>
<ellipse cx="778.2" cy="149.0" rx="2.7" ry="4.3" fill="#7c88e0" opacity="0.45"/>
<ellipse cx="779.4" cy="199.8" rx="2.4" ry="3.7" fill="#7c88e0" opacity="0.45"/>
<ellipse cx="793.1" cy="424.3" rx="2.9" ry="4.4" fill="#7c88e0" opacity="0.45"/>
<ellipse cx="797.6" cy="441.2" rx="2.0" ry="5.8" fill="#7c88e0" opacity="0.45"/>
<ellipse cx="774.7" cy="187.5" rx="2.9" ry="4.1" fill="#7c88e0" opacity="0.45"/>
<ellipse cx="775.4" cy="134.0" rx="1.8" ry="5.5" fill="#7c88e0" opacity="0.45"/>
<ellipse cx="803.0" cy="432.7" rx="1.6" ry="3.1" fill="#7c88e0" opacity="0.45"/>
<ellipse cx="801.3" cy="468.2" rx="2.2" ry="6.0" fill="#7c88e0" opacity="0.45"/>
<ellipse cx="773.9" cy="200.2" rx="2.9" ry="6.6" fill="#7c88e0" opacity="0.45"/>
<ellipse cx="796.1" cy="433.9" rx="2.2" ry="3.7" fill="#7c88e0" opacity="0.45"/>
<ellipse cx="795.7" cy="430.2" rx="2.2" ry="4.5" fill="#7c88e0" opacity="0.45"/>
<ellipse cx="779.6" cy="306.5" rx="2.4" ry="3.3" fill="#7c88e0" opacity="0.45"/>
<ellipse cx="799.5" cy="442.7" rx="2.8" ry="5.6" fill="#7c88e0" opacity="0.45"/>
<ellipse cx="777.7" cy="164.3" rx="1.6" ry="5.8" fill="#7c88e0" opacity="0.45"/>
<ellipse cx="804.9" cy="448.6" rx="2.2" ry="3.0" fill="#7c88e0" opacity="0.45"/>
<ellipse cx="787.7" cy="307.5" rx="2.6" ry="3.5" fill="#7c88e0" opacity="0.45"/>
<ellipse cx="807.2" cy="466.9" rx="2.0" ry="4.2" fill="#7c88e0" opacity="0.45"/>
<ellipse cx="770.6" cy="127.8" rx="2.5" ry="6.3" fill="#7c88e0" opacity="0.45"/>
</g>
<clipPath id="cclip0"><rect x="7.3" y="622.3" width="202.4" height="126.7"/></clipPath>
<g clip-path="url(#cclip0)">
<rect x="7.3" y="622.3" width="202.4" height="126.7" fill="#000"/>
<path d="M85.6,631.9 C92.1,629.5 113.0,634.7 120.0,636.0 C127.0,637.3 150.2,641.4 155.7,644.8 C161.2,648.2 171.5,664.2 175.0,670.0 C178.5,675.8 190.3,698.0 190.8,703.2 C191.3,708.4 183.0,719.4 180.0,722.0 C177.0,724.6 168.6,727.8 161.0,729.2 C153.4,730.6 113.9,735.8 103.8,735.7 C93.7,735.6 66.8,729.8 60.0,728.0 C53.2,726.2 39.4,720.8 36.3,717.5 C33.1,714.2 26.6,701.2 28.5,695.5 C30.4,689.8 49.3,666.4 55.0,660.0 C60.7,653.6 79.1,634.3 85.6,631.9Z" fill="#5c6ee0" stroke="#b0461a" stroke-width="5"/>
<path d="M85.6,631.9 C92.1,629.5 113.0,634.7 120.0,636.0 C127.0,637.3 150.2,641.4 155.7,644.8 C161.2,648.2 171.5,664.2 175.0,670.0 C178.5,675.8 190.3,698.0 190.8,703.2 C191.3,708.4 183.0,719.4 180.0,722.0 C177.0,724.6 168.6,727.8 161.0,729.2 C153.4,730.6 113.9,735.8 103.8,735.7 C93.7,735.6 66.8,729.8 60.0,728.0 C53.2,726.2 39.4,720.8 36.3,717.5 C33.1,714.2 26.6,701.2 28.5,695.5 C30.4,689.8 49.3,666.4 55.0,660.0 C60.7,653.6 79.1,634.3 85.6,631.9Z" fill="none" stroke="#f4e2b0" stroke-width="2"/>
<path d="M89.1,639.4 C94.8,637.3 112.9,641.8 119.0,643.0 C125.1,644.1 145.3,647.7 150.1,650.6 C154.9,653.6 163.8,667.5 166.9,672.5 C169.9,677.6 180.7,697.1 180.6,701.4 C180.6,705.7 169.5,713.9 166.5,715.5 C163.6,717.1 157.4,716.6 151.3,717.3 C145.2,718.0 113.6,722.6 105.6,722.5 C97.5,722.4 75.9,717.4 70.5,716.3 C65.1,715.2 54.7,714.1 51.6,711.9 C48.5,709.7 38.3,699.5 39.4,694.7 C40.5,689.9 57.5,669.4 62.5,663.8 C67.5,658.3 83.5,641.5 89.1,639.4Z" fill="#1a0400" stroke="#f0d8a0" stroke-width="2.2"/>
<path d="M104,651L108,650M167,713L167,713M81,659L81,659M74,699L64,691M74,699L80,698M62,691L58,682" stroke="#e8a060" stroke-width="2.5" fill="none" stroke-linecap="round"/>
<path d="M104,651L101,650M104,651L101,663M57,697L52,697" stroke="#7a2608" stroke-width="1.5" fill="none" stroke-linecap="round"/>
<path d="M101,650L97,641M88,642L87,648M95,665L93,670M106,692L109,700M153,657L155,659M122,692L112,684M141,688L135,698M135,698L122,695M135,699L146,704M151,701L154,702" stroke="#7a2608" stroke-width="2.5" fill="none" stroke-linecap="round"/>
<path d="M108,650L110,643M80,714L90,715M159,663L158,670M59,673L60,675M118,702L122,695M146,704L143,713M143,713L133,712" stroke="#7a2608" stroke-width="3.0" fill="none" stroke-linecap="round"/>
<path d="M101,650L92,653M158,715L167,713M146,717L146,717M102,713L90,714M95,701L92,703M91,719L90,715M124,645L123,650M95,689L95,688M141,678L139,685M155,685L147,690M119,710L119,708M118,702L119,708M162,686L161,687" stroke="#e8a060" stroke-width="2.0" fill="none" stroke-linecap="round"/>
<path d="M87,648L92,653M95,665L91,660M91,660L81,659M63,708L57,697M68,707L74,699M123,650L113,654M46,690L48,684M106,692L112,684M146,666L145,663M132,670L125,678M123,663L122,664M154,702L160,699" stroke="#c85a24" stroke-width="2.5" fill="none" stroke-linecap="round"/>
<path d="M101,663L95,665M95,701L103,704M135,648L137,653M137,653L136,656M136,656L127,656M93,670L85,673M152,677L141,678M141,688L139,685M133,712L132,710M139,674L132,670M108,669L118,673" stroke="#b8481a" stroke-width="2.5" fill="none" stroke-linecap="round"/>
<path d="M91,660L92,653M158,715L157,715M103,713L112,715M71,665L62,666M95,689L94,690M103,704L109,700M167,674L165,675M71,677L73,684M132,670L137,658M153,657L145,663M167,713L168,703" stroke="#9a340e" stroke-width="3.0" fill="none" stroke-linecap="round"/>
<path d="M56,712L62,709M146,717L157,715M81,652L81,659M79,714L80,714M108,650L113,654M113,654L114,660M165,675L158,670M153,656L146,651M81,693L78,686" stroke="#c85a24" stroke-width="2.0" fill="none" stroke-linecap="round"/>
<path d="M62,709L64,714M112,715L112,721M92,703L82,701M103,713L103,704M81,693L94,690M105,678L100,679M60,675L58,682M122,695L122,692M139,685L128,684M132,670L123,663M172,688L174,700M179,701L174,700" stroke="#c85a24" stroke-width="3.0" fill="none" stroke-linecap="round"/>
<path d="M78,717L79,714M100,679L93,670M153,656L153,656M71,677L75,672M71,665L75,672M95,688L85,679M141,688L147,690M109,700L118,702M151,701L146,704M146,717L143,713M152,677L154,672M141,678L139,674M127,656L123,663M173,688L172,688" stroke="#7a2608" stroke-width="2.0" fill="none" stroke-linecap="round"/>
<path d="M63,708L62,709M102,721L102,713M80,698L82,701M137,653L144,650M78,686L85,679M64,691L73,684M58,682L49,683M71,677L60,675M152,677L155,685M105,678L112,684M137,658L145,663M154,672L158,670M132,670L132,670M174,700L168,703M165,675L162,686" stroke="#9a340e" stroke-width="2.0" fill="none" stroke-linecap="round"/>
<path d="M63,708L68,707M52,697L46,690M46,690L44,690M78,686L73,684M85,679L85,673M112,684L112,684M147,690L151,701M135,699L132,710M125,678L119,676M128,684L125,678M161,687L160,699" stroke="#9a340e" stroke-width="2.5" fill="none" stroke-linecap="round"/>
<path d="M68,707L79,714M103,713L102,713M71,665L73,661M57,697L62,691M92,703L90,714M90,715L90,714M80,698L81,693M59,673L57,673M61,668L59,673" stroke="#e8a060" stroke-width="3.0" fill="none" stroke-linecap="round"/>
<path d="M158,716L158,715M47,703L52,697M82,701L80,714M108,667L114,660M75,672L82,672M81,659L82,672M100,679L95,688M122,664L118,673M162,686L172,688" stroke="#b8481a" stroke-width="2.0" fill="none" stroke-linecap="round"/>
<path d="M78,651L81,652M71,657L73,661M95,701L94,690M101,663L108,667M122,692L128,684M135,698L135,699M112,715L119,710M139,674L146,666M114,660L122,664M112,684L119,676M155,685L161,687" stroke="#b8481a" stroke-width="3.0" fill="none" stroke-linecap="round"/>
<path d="M73,661L81,659M87,648L81,652M105,678L108,669M95,689L106,692M123,650L127,656M82,672L85,673M132,718L133,712M118,673L119,676" stroke="#e8a060" stroke-width="1.5" fill="none" stroke-linecap="round"/>
<path d="M64,691L62,691M108,669L108,667" stroke="#9a340e" stroke-width="1.5" fill="none" stroke-linecap="round"/>
<path d="M153,657L153,656M157,715L154,702M122,720L119,710" stroke="#c85a24" stroke-width="1.5" fill="none" stroke-linecap="round"/>
<path d="M132,710L119,708M154,672L146,666M136,656L137,658M160,699L168,703" stroke="#b8481a" stroke-width="1.5" fill="none" stroke-linecap="round"/>
</g>
<clipPath id="cclip1"><rect x="214.6" y="621.8" width="202.4" height="126.9"/></clipPath>
<g clip-path="url(#cclip1)">
<rect x="214.6" y="621.8" width="202.4" height="126.9" fill="#000"/>
<path d="M290.7,633.2 C297.4,630.6 318.0,633.4 325.0,634.0 C332.0,634.6 354.8,636.3 360.8,639.7 C366.8,643.1 380.6,661.9 385.0,668.0 C389.4,674.1 404.4,695.2 404.9,700.6 C405.4,706.0 393.6,718.6 390.0,722.0 C386.4,725.4 376.4,732.4 368.5,734.4 C360.6,736.4 321.2,742.1 311.4,742.2 C301.5,742.3 276.5,736.8 270.0,735.0 C263.5,733.2 250.1,728.2 246.6,724.0 C243.1,719.8 233.8,699.3 234.9,692.9 C236.0,686.5 252.4,666.0 258.0,660.0 C263.6,654.0 284.0,635.8 290.7,633.2Z" fill="#5c6ee0" stroke="#b0461a" stroke-width="5"/>
<path d="M290.7,633.2 C297.4,630.6 318.0,633.4 325.0,634.0 C332.0,634.6 354.8,636.3 360.8,639.7 C366.8,643.1 380.6,661.9 385.0,668.0 C389.4,674.1 404.4,695.2 404.9,700.6 C405.4,706.0 393.6,718.6 390.0,722.0 C386.4,725.4 376.4,732.4 368.5,734.4 C360.6,736.4 321.2,742.1 311.4,742.2 C301.5,742.3 276.5,736.8 270.0,735.0 C263.5,733.2 250.1,728.2 246.6,724.0 C243.1,719.8 233.8,699.3 234.9,692.9 C236.0,686.5 252.4,666.0 258.0,660.0 C263.6,654.0 284.0,635.8 290.7,633.2Z" fill="none" stroke="#f4e2b0" stroke-width="2"/>
<path d="M294.6,640.6 C300.4,638.4 318.3,640.8 324.4,641.3 C330.5,641.9 350.3,643.3 355.6,646.3 C360.8,649.3 372.8,665.6 376.6,670.9 C380.4,676.2 394.0,694.8 393.9,699.3 C393.9,703.8 379.6,713.5 376.1,715.7 C372.6,717.9 365.2,720.4 358.9,721.6 C352.6,722.8 321.1,727.8 313.2,727.9 C305.3,727.9 285.3,723.2 280.1,722.1 C274.9,721.0 264.8,720.3 261.4,717.3 C258.0,714.3 245.6,697.9 246.0,692.6 C246.5,687.3 261.3,669.2 266.1,664.0 C271.0,658.8 288.7,642.9 294.6,640.6Z" fill="#1a0400" stroke="#f0d8a0" stroke-width="2.2"/>
<path d="M261,716L264,716M350,674L349,675M363,686L367,685M266,686L273,686M254,694L261,694M307,726L306,722" stroke="#c85a24" stroke-width="2.0" fill="none" stroke-linecap="round"/>
<path d="M264,717L264,716M375,671L374,673M312,667L305,665M266,705L255,705M355,662L347,666M337,678L337,667M280,658L271,661M275,683L273,686M313,707L313,706" stroke="#b8481a" stroke-width="3.0" fill="none" stroke-linecap="round"/>
<path d="M277,720L280,716M328,654L332,659M302,658L305,665M267,712L266,705M281,653L290,650M293,658L290,650M271,661L269,670M325,705L333,702M305,706L313,706M313,706L311,694M322,703L313,707M313,707L314,713M304,721L306,722" stroke="#e8a060" stroke-width="2.5" fill="none" stroke-linecap="round"/>
<path d="M264,716L267,712M326,677L316,681M337,678L349,675M260,680L254,684M269,670L275,674M287,667L285,670M273,686L276,697M361,694L353,697M347,722L343,718M381,681L382,686M382,686L387,690M325,705L322,703M305,706L300,697" stroke="#9a340e" stroke-width="2.0" fill="none" stroke-linecap="round"/>
<path d="M267,712L278,714M363,686L361,694M350,711L343,704" stroke="#9a340e" stroke-width="1.5" fill="none" stroke-linecap="round"/>
<path d="M278,714L280,716M317,653L315,665M374,673L365,668M300,678L304,682M300,710L304,721M292,644L292,646M266,686L261,694M266,705L267,702M356,721L357,711M337,706L343,704M336,713L341,718M328,714L325,718M344,691L336,680M322,719L318,726" stroke="#b8481a" stroke-width="2.0" fill="none" stroke-linecap="round"/>
<path d="M319,642L316,651M306,642L307,649M316,651L307,649M325,667L326,677M315,665L312,667M280,716L289,720M293,658L302,658M356,655L355,662M346,665L344,653M354,647L353,652M290,723L304,721M294,710L300,710M305,651L292,646M288,687L288,685M351,684L344,691M383,698L388,691M344,691L344,691M304,682L301,692" stroke="#c85a24" stroke-width="3.0" fill="none" stroke-linecap="round"/>
<path d="M325,667L315,665M305,651L302,658M351,684L363,685M269,670L262,671M276,697L267,702M375,689L376,697" stroke="#e8a060" stroke-width="1.5" fill="none" stroke-linecap="round"/>
<path d="M312,667L314,680M317,653L328,654M289,720L290,723M362,668L355,662M349,675L351,684M287,667L289,667M289,682L288,685M284,701L283,699M364,710L357,711M369,703L369,703M330,724L325,718M375,675L380,678M317,689L316,681" stroke="#9a340e" stroke-width="3.0" fill="none" stroke-linecap="round"/>
<path d="M316,681L314,680M316,651L317,653M331,662L325,667M290,723L290,723M289,667L293,658M292,646L290,650M267,702L261,694M386,705L383,698M376,697L369,703M332,680L328,692M300,697L301,692M290,703L300,697" stroke="#7a2608" stroke-width="3.0" fill="none" stroke-linecap="round"/>
<path d="M331,643L328,654M341,645L344,653M350,674L347,666M337,667L346,665M332,659L344,653M251,697L254,694M254,694L253,684M344,691L346,694M333,702L337,706M337,724L341,718M328,692L334,696M337,678L336,680" stroke="#e8a060" stroke-width="3.0" fill="none" stroke-linecap="round"/>
<path d="M331,662L332,659M275,683L288,685M346,694L353,697" stroke="#b8481a" stroke-width="1.5" fill="none" stroke-linecap="round"/>
<path d="M367,661L365,668M253,703L251,697M347,666L346,665M359,673L363,685M363,686L363,685M275,674L275,683M275,674L285,670M300,678L289,682M350,711L343,718M333,702L334,696M323,693L322,703M311,694L301,692M317,689L311,694M288,687L301,692" stroke="#9a340e" stroke-width="2.5" fill="none" stroke-linecap="round"/>
<path d="M290,703L284,701M290,703L294,710M314,680L304,682M353,652L344,653M287,667L280,658M341,718L343,718M332,680L336,680M322,719L314,713M314,713L306,722" stroke="#b8481a" stroke-width="2.5" fill="none" stroke-linecap="round"/>
<path d="M278,714L284,701M300,678L299,670M359,673L350,674M331,662L337,667M280,658L281,653M260,680L266,686M288,687L283,699M364,710L369,703M357,711L355,710M355,710L353,697M381,710L369,703M355,710L350,711M328,714L336,713M344,691L334,696M301,692L301,692" stroke="#c85a24" stroke-width="2.5" fill="none" stroke-linecap="round"/>
<path d="M294,710L289,720M344,653L344,653M325,705L328,714M323,693L328,692M325,718L322,719" stroke="#7a2608" stroke-width="1.5" fill="none" stroke-linecap="round"/>
<path d="M289,667L299,670M299,670L305,665M262,672L260,680M369,717L364,710M317,689L323,693" stroke="#e8a060" stroke-width="2.0" fill="none" stroke-linecap="round"/>
<path d="M307,649L305,651M362,668L365,668M362,668L359,673M271,661L271,661M369,703L361,694M367,685L375,689M326,677L332,680" stroke="#7a2608" stroke-width="2.5" fill="none" stroke-linecap="round"/>
<path d="M250,697L251,697M353,652L356,655M361,654L356,655M374,673L375,675M367,685L375,675M283,699L276,697M383,698L376,697M337,706L336,713M346,694L343,704" stroke="#7a2608" stroke-width="2.0" fill="none" stroke-linecap="round"/>
<path d="M285,670L289,682M375,689L382,686M300,710L305,706" stroke="#c85a24" stroke-width="1.5" fill="none" stroke-linecap="round"/>
</g>
<clipPath id="cclip2"><rect x="423" y="621.3" width="203.0" height="127.0"/></clipPath>
<g clip-path="url(#cclip2)">
<rect x="423" y="621.3" width="203.0" height="127.0" fill="#000"/>
<path d="M493.6,635.8 C500.4,633.4 523.0,637.2 530.0,638.0 C537.0,638.8 558.2,640.3 563.7,643.5 C569.2,646.7 581.0,664.3 585.0,670.0 C589.0,675.7 603.0,695.8 604.0,700.6 C605.0,705.4 598.0,715.1 595.0,718.0 C592.0,720.9 581.8,727.2 574.0,729.2 C566.2,731.2 526.4,738.0 517.0,738.3 C507.6,738.6 485.7,733.4 480.0,732.0 C474.3,730.6 463.9,727.9 459.9,724.0 C455.9,720.1 440.2,699.1 440.4,692.9 C440.6,686.7 456.7,667.7 462.0,662.0 C467.3,656.3 486.8,638.2 493.6,635.8Z" fill="#5c6ee0" stroke="#b0461a" stroke-width="5"/>
<path d="M493.6,635.8 C500.4,633.4 523.0,637.2 530.0,638.0 C537.0,638.8 558.2,640.3 563.7,643.5 C569.2,646.7 581.0,664.3 585.0,670.0 C589.0,675.7 603.0,695.8 604.0,700.6 C605.0,705.4 598.0,715.1 595.0,718.0 C592.0,720.9 581.8,727.2 574.0,729.2 C566.2,731.2 526.4,738.0 517.0,738.3 C507.6,738.6 485.7,733.4 480.0,732.0 C474.3,730.6 463.9,727.9 459.9,724.0 C455.9,720.1 440.2,699.1 440.4,692.9 C440.6,686.7 456.7,667.7 462.0,662.0 C467.3,656.3 486.8,638.2 493.6,635.8Z" fill="none" stroke="#f4e2b0" stroke-width="2"/>
<path d="M497.7,642.9 C503.6,640.8 523.3,644.1 529.4,644.8 C535.5,645.5 553.9,646.8 558.7,649.6 C563.5,652.4 573.7,667.7 577.2,672.6 C580.8,677.6 593.4,695.3 593.8,699.3 C594.2,703.3 584.0,710.7 581.1,712.5 C578.1,714.3 570.5,716.2 564.3,717.4 C558.0,718.7 526.2,724.5 518.7,724.7 C511.2,724.9 493.6,720.4 489.1,719.7 C484.5,718.9 476.8,720.0 473.0,717.3 C469.2,714.6 451.7,697.7 451.4,692.6 C451.2,687.4 465.6,670.7 470.2,665.7 C474.9,660.7 491.8,645.0 497.7,642.9Z" fill="#1a0400" stroke="#f0d8a0" stroke-width="2.2"/>
<path d="M555,718L560,715M496,645L502,651M523,673L527,672M516,660L522,672M516,660L518,656M510,648L518,654M523,714L521,705M504,702L508,692M508,692L505,691M501,656L494,661M501,656L510,662M510,676L504,673M571,706L566,701M480,659L479,665M573,690L580,681M495,703L494,705" stroke="#c85a24" stroke-width="2.0" fill="none" stroke-linecap="round"/>
<path d="M564,716L560,715M527,672L532,661M547,669L551,679M543,708L540,717M529,699L521,705M453,691L463,693M470,667L474,669M586,698L584,699M514,719L514,723" stroke="#e8a060" stroke-width="2.5" fill="none" stroke-linecap="round"/>
<path d="M483,656L489,656M524,682L530,685M529,657L533,649M518,654L518,656M531,646L533,649M532,661L529,657M563,662L560,666M546,653L549,666M530,717L530,718M517,704L510,691M566,701L564,701M509,710L509,711M465,681L463,678M530,718L530,722M479,681L479,692M492,684L491,692M463,693L479,692M499,682L492,684M480,703L480,694" stroke="#9a340e" stroke-width="3.0" fill="none" stroke-linecap="round"/>
<path d="M490,651L489,656M592,700L586,698" stroke="#c85a24" stroke-width="1.5" fill="none" stroke-linecap="round"/>
<path d="M510,645L510,648M545,652L533,649M494,705L480,703" stroke="#b8481a" stroke-width="1.5" fill="none" stroke-linecap="round"/>
<path d="M510,648L502,651M530,685L539,683M536,674L539,683M530,685L528,698M545,652L546,648M541,684L551,679M509,710L504,702M494,694L495,703M494,668L502,673M571,706L579,705M552,680L557,688M566,677L566,685M576,673L576,674M466,706L464,704M466,706L478,705M494,668L490,670" stroke="#b8481a" stroke-width="2.5" fill="none" stroke-linecap="round"/>
<path d="M536,661L532,661M549,666L547,669M540,717L530,718M504,702L495,703M494,661L494,668M490,670L486,678" stroke="#c85a24" stroke-width="2.5" fill="none" stroke-linecap="round"/>
<path d="M527,672L536,674M540,669L536,674M510,691L512,690M510,662L504,673M561,674L566,677M464,704L463,693M465,681L463,693M478,717L481,714M488,717L488,718" stroke="#7a2608" stroke-width="2.0" fill="none" stroke-linecap="round"/>
<path d="M536,661L540,669M524,682L516,689M545,652L546,653M560,666L549,666M512,690L510,676M505,691L494,694M489,656L494,661M564,701L559,689M494,705L495,713M475,678L479,681" stroke="#c85a24" stroke-width="3.0" fill="none" stroke-linecap="round"/>
<path d="M524,682L523,673M516,689L528,698M563,662L562,655M540,669L547,669M535,701L535,702M505,691L499,682M547,708L552,702M559,689L566,685M490,670L479,665M579,705L584,699M566,685L573,690" stroke="#9a340e" stroke-width="2.0" fill="none" stroke-linecap="round"/>
<path d="M542,693L535,701M517,704L509,710M502,651L501,656M516,660L510,662M499,682L502,673M552,702L550,695M523,714L514,719M474,669L475,678M573,692L584,699" stroke="#7a2608" stroke-width="3.0" fill="none" stroke-linecap="round"/>
<path d="M535,701L529,699M535,702L543,708M554,718L547,708M581,711L579,705M560,715L561,703M542,693L550,695M566,677L576,674M514,719L509,711M573,692L573,690M500,715L500,721" stroke="#e8a060" stroke-width="2.0" fill="none" stroke-linecap="round"/>
<path d="M542,693L541,684M546,653L560,653M529,657L518,656M522,672L510,676M566,701L573,692M509,711L500,715M479,692L480,694" stroke="#e8a060" stroke-width="3.0" fill="none" stroke-linecap="round"/>
<path d="M541,684L539,683M547,708L543,708M516,689L512,690M521,705L517,704M557,688L559,689M463,693L463,693M465,681L475,678M495,713L488,717M479,681L486,678" stroke="#9a340e" stroke-width="2.5" fill="none" stroke-linecap="round"/>
<path d="M528,698L529,699M546,653L546,653M560,666L561,674M561,674L552,680M535,702L530,717M550,695L557,688M481,714L478,705M576,674L580,681M500,715L495,713" stroke="#7a2608" stroke-width="2.5" fill="none" stroke-linecap="round"/>
<path d="M569,664L563,662M523,673L522,672M523,714L530,717M561,703L564,701M481,714L488,717M494,694L491,692" stroke="#b8481a" stroke-width="2.0" fill="none" stroke-linecap="round"/>
<path d="M518,654L522,645M480,694L491,692" stroke="#e8a060" stroke-width="1.5" fill="none" stroke-linecap="round"/>
<path d="M536,661L546,653M542,720L540,717M479,665L474,669" stroke="#7a2608" stroke-width="1.5" fill="none" stroke-linecap="round"/>
<path d="M552,680L551,679M508,692L510,691M502,673L504,673M570,715L571,706M463,704L464,704M586,698L586,689M582,682L580,681M478,705L480,703M486,678L492,684" stroke="#b8481a" stroke-width="3.0" fill="none" stroke-linecap="round"/>
<path d="M552,702L561,703M466,708L466,706" stroke="#9a340e" stroke-width="1.5" fill="none" stroke-linecap="round"/>
</g>
<clipPath id="cclip3"><rect x="631.8" y="622.4" width="202.9" height="126.6"/></clipPath>
<g clip-path="url(#cclip3)">
<rect x="631.8" y="622.4" width="202.9" height="126.6" fill="#000"/>
<path d="M701.3,631.9 C708.0,628.6 728.2,631.6 735.0,632.0 C741.8,632.4 762.8,632.2 768.8,635.8 C774.8,639.4 789.5,661.3 795.0,668.0 C800.5,674.7 821.8,698.0 823.3,703.2 C824.8,708.4 813.1,717.4 810.0,720.0 C806.9,722.6 800.3,727.0 792.0,729.2 C783.7,731.4 737.4,741.5 727.2,742.2 C717.0,742.9 697.0,738.1 690.0,736.0 C683.0,733.9 662.0,725.2 657.2,721.4 C652.4,717.6 640.5,703.6 641.6,698.0 C642.7,692.4 662.0,671.6 668.0,665.0 C674.0,658.4 694.6,635.2 701.3,631.9Z" fill="#5c6ee0" stroke="#b0461a" stroke-width="5"/>
<path d="M701.3,631.9 C708.0,628.6 728.2,631.6 735.0,632.0 C741.8,632.4 762.8,632.2 768.8,635.8 C774.8,639.4 789.5,661.3 795.0,668.0 C800.5,674.7 821.8,698.0 823.3,703.2 C824.8,708.4 813.1,717.4 810.0,720.0 C806.9,722.6 800.3,727.0 792.0,729.2 C783.7,731.4 737.4,741.5 727.2,742.2 C717.0,742.9 697.0,738.1 690.0,736.0 C683.0,733.9 662.0,725.2 657.2,721.4 C652.4,717.6 640.5,703.6 641.6,698.0 C642.7,692.4 662.0,671.6 668.0,665.0 C674.0,658.4 694.6,635.2 701.3,631.9Z" fill="none" stroke="#f4e2b0" stroke-width="2"/>
<path d="M705.6,639.5 C711.4,636.6 729.0,639.2 734.9,639.6 C740.8,639.9 759.1,639.7 764.3,642.9 C769.5,646.0 782.3,665.0 787.1,670.9 C791.8,676.8 810.9,697.2 811.7,701.5 C812.5,705.8 798.0,712.5 794.8,714.0 C791.7,715.6 787.0,716.0 780.4,717.4 C773.8,718.8 736.7,727.3 728.6,727.8 C720.4,728.3 704.4,724.1 698.8,722.8 C693.2,721.6 677.1,717.8 672.6,715.2 C668.1,712.6 653.2,701.7 653.6,697.0 C654.0,692.3 671.4,674.0 676.6,668.3 C681.8,662.5 699.7,642.4 705.6,639.5Z" fill="#1a0400" stroke="#f0d8a0" stroke-width="2.2"/>
<path d="M753,662L745,652M787,681L778,676M676,690L675,692M683,716L686,703M690,719L688,718M708,709L700,710" stroke="#7a2608" stroke-width="1.5" fill="none" stroke-linecap="round"/>
<path d="M753,662L760,655M744,652L737,657M765,669L756,668M791,680L787,681M806,695L801,698M782,692L787,681M679,700L686,703M773,702L776,692M764,693L771,688M766,715L764,703M710,654L706,641M739,701L738,691" stroke="#c85a24" stroke-width="3.0" fill="none" stroke-linecap="round"/>
<path d="M745,652L754,646M745,652L744,652M760,655L769,661M773,715L777,706M692,693L689,687M764,703L764,703M782,692L776,692M769,681L770,680M698,669L692,666M711,670L704,680M686,670L684,670M745,688L745,677M745,677L741,673" stroke="#7a2608" stroke-width="3.0" fill="none" stroke-linecap="round"/>
<path d="M754,646L760,651M657,695L664,698M711,703L719,703M785,705L785,695M679,700L675,692M665,685L676,690M682,717L683,716M687,703L699,708M777,706L773,702M708,709L715,715M722,643L721,641M737,674L741,673M731,687L733,687M729,670L737,674M753,690L745,688" stroke="#e8a060" stroke-width="2.5" fill="none" stroke-linecap="round"/>
<path d="M760,655L760,651M792,678L792,678M667,708L667,708M792,710L799,697M702,696L699,708M764,703L773,702M705,665L698,669M700,722L702,719" stroke="#b8481a" stroke-width="3.0" fill="none" stroke-linecap="round"/>
<path d="M754,646L754,643M671,709L679,700" stroke="#9a340e" stroke-width="1.5" fill="none" stroke-linecap="round"/>
<path d="M760,651L767,647M769,719L769,716M764,716L752,711M719,663L717,656M671,709L678,716M756,668L754,676M710,722L710,724M705,665L711,670M707,695L705,694M699,708L700,710" stroke="#c85a24" stroke-width="2.0" fill="none" stroke-linecap="round"/>
<path d="M740,641L744,652M777,706L785,705M769,716L773,715M744,667L753,663M719,703L722,714M791,680L797,690M687,703L686,703M751,704L751,704M754,691L753,690M686,670L693,682M738,691L745,688" stroke="#9a340e" stroke-width="2.5" fill="none" stroke-linecap="round"/>
<path d="M769,661L773,656M769,716L766,715M665,685L665,685M735,657L731,654M719,663L729,668M793,714L792,711M737,657L744,667M753,662L753,663M722,714L734,712M711,703L707,695M716,655L722,643M792,678L791,680M778,676L770,680M799,697L797,694M752,711L751,704M736,716L734,712M717,683L706,683M754,676L745,677" stroke="#c85a24" stroke-width="2.5" fill="none" stroke-linecap="round"/>
<path d="M766,715L764,716M731,654L717,656M722,698L736,704M718,693L707,695M800,688L797,690M721,714L723,726M736,716L734,726M693,655L693,654M713,670L711,670M722,679L729,670M719,663L713,670M684,670L677,677M683,716L688,718M733,687L738,691" stroke="#9a340e" stroke-width="2.0" fill="none" stroke-linecap="round"/>
<path d="M764,716L761,720M735,657L729,668M787,715L792,711M769,663L765,669M771,688L776,692M751,704L764,703M693,655L692,666M722,679L720,679M701,679L704,680M702,696L705,694M678,687L677,677" stroke="#7a2608" stroke-width="2.0" fill="none" stroke-linecap="round"/>
<path d="M750,723L748,717M773,715L778,717M792,710L792,711M801,698L799,697M806,704L801,698M785,695L797,694M785,695L782,692M757,681L754,676M748,717L736,716M706,683L704,680M729,670L729,668M731,687L722,679M733,687L737,674" stroke="#9a340e" stroke-width="3.0" fill="none" stroke-linecap="round"/>
<path d="M752,711L748,717M737,657L735,657M782,666L779,668M722,698L719,703M722,695L718,693M797,694L797,690M667,708L671,709M689,687L678,687M686,670L692,666M731,687L722,695M688,718L700,710M702,719L700,710" stroke="#e8a060" stroke-width="3.0" fill="none" stroke-linecap="round"/>
<path d="M664,686L665,685M737,641L730,648M730,648L731,654M769,661L769,663M717,656L716,655M664,698L675,692M692,693L687,703M764,693L754,691M705,658L693,655" stroke="#e8a060" stroke-width="2.0" fill="none" stroke-linecap="round"/>
<path d="M792,711L792,711M753,663L756,668M779,668L778,676M765,669L770,680M678,687L676,690M702,696L692,693M764,703L764,693M769,681L771,688M757,681L753,690M715,715L710,722M715,715L721,714M713,670L720,679M718,693L717,683M684,670L681,666M677,677L672,676M700,710L700,710" stroke="#b8481a" stroke-width="2.5" fill="none" stroke-linecap="round"/>
<path d="M792,710L785,705M792,678L792,678M779,668L769,663M739,701L751,704" stroke="#b8481a" stroke-width="1.5" fill="none" stroke-linecap="round"/>
<path d="M796,712L792,711M664,698L667,708M722,695L722,698M730,648L722,643M708,709L711,703M698,669L701,679M693,682L701,679M705,658L705,665M689,687L693,682M710,722L702,719" stroke="#7a2608" stroke-width="2.5" fill="none" stroke-linecap="round"/>
<path d="M736,704L734,712M769,681L757,681M722,714L721,714M744,667L741,673" stroke="#c85a24" stroke-width="1.5" fill="none" stroke-linecap="round"/>
<path d="M736,704L739,701M710,654L716,655M720,679L717,683" stroke="#b8481a" stroke-width="2.0" fill="none" stroke-linecap="round"/>
<path d="M751,704L754,691M705,658L710,654M705,694L706,683" stroke="#e8a060" stroke-width="1.5" fill="none" stroke-linecap="round"/>
</g>
<line x1="802.6" y1="613.4" x2="825" y2="613.4" stroke="#fff" stroke-width="2.5"/>
<line x1="807.4" y1="743" x2="817" y2="743" stroke="#fff" stroke-width="2.5"/>
<clipPath id="iclip0"><rect x="2.6" y="1033.5" width="194.6" height="357.9"/></clipPath>
<g clip-path="url(#iclip0)">
<rect x="2.6" y="1033.5" width="194.6" height="357.9" fill="#c6d4dc"/>
<path d="M0.0,1030.0 C9.7,969.7 46.7,1025.0 58.0,1030.0 C69.3,1035.0 67.0,1047.5 68.0,1060.0 C69.0,1072.5 66.0,1090.0 64.0,1105.0 C62.0,1120.0 59.7,1136.7 56.0,1150.0 C52.3,1163.3 45.5,1171.7 42.0,1185.0 C38.5,1198.3 37.7,1214.2 35.0,1230.0 C32.3,1245.8 28.5,1263.3 26.0,1280.0 C23.5,1296.7 20.3,1311.3 20.0,1330.0 C19.7,1348.7 27.3,1381.7 24.0,1392.0 C20.7,1402.3 4.0,1452.3 0.0,1392.0 C-4.0,1331.7 -9.7,1090.3 0.0,1030.0Z" fill="#d8d4e0" opacity="0.6"/>
<path d="M10.0,1315.0 C15.8,1304.7 32.0,1317.2 40.0,1330.0 C48.0,1342.8 63.8,1381.7 58.0,1392.0 C52.2,1402.3 13.0,1404.8 5.0,1392.0 C-3.0,1379.2 4.2,1325.3 10.0,1315.0Z" fill="#d8d4e0" opacity="0.6"/>
<path d="M170.0,1030.0 C175.7,1025.8 195.0,969.7 200.0,1030.0 C205.0,1090.3 209.2,1331.7 200.0,1392.0 C190.8,1452.3 155.0,1406.5 145.0,1392.0 C135.0,1377.5 139.2,1336.2 140.0,1305.0 C140.8,1273.8 145.3,1226.2 150.0,1205.0 C154.7,1183.8 163.7,1194.7 168.0,1178.0 C172.3,1161.3 176.3,1125.5 176.0,1105.0 C175.7,1084.5 167.0,1067.5 166.0,1055.0 C165.0,1042.5 164.3,1034.2 170.0,1030.0Z" fill="#d8d4e0" opacity="0.6"/>
<path d="M100.0,1034.0 C99.2,1041.7 98.8,1067.0 95.0,1080.0 C91.2,1093.0 80.8,1099.5 77.0,1112.0 C73.2,1124.5 75.3,1142.0 72.0,1155.0 C68.7,1168.0 60.7,1177.5 57.0,1190.0 C53.3,1202.5 51.8,1213.0 50.0,1230.0 C48.2,1247.0 46.0,1273.3 46.0,1292.0 C46.0,1310.7 46.5,1325.3 50.0,1342.0 C53.5,1358.7 64.2,1383.7 67.0,1392.0" fill="none" stroke="#b0602c" stroke-width="2.2" stroke-linecap="round" opacity="0.9"/>
<path d="M160.0,1034.0 C158.7,1041.7 156.0,1064.0 152.0,1080.0 C148.0,1096.0 139.7,1105.0 136.0,1130.0 C132.3,1155.0 132.3,1200.8 130.0,1230.0 C127.7,1259.2 124.2,1284.2 122.0,1305.0 C119.8,1325.8 117.0,1340.5 117.0,1355.0 C117.0,1369.5 121.2,1385.8 122.0,1392.0" fill="none" stroke="#b05a28" stroke-width="2.4" stroke-linecap="round" opacity="0.9"/>
<path d="M60.0,1034.0 C58.7,1045.0 55.3,1072.3 52.0,1100.0 C48.7,1127.7 43.7,1166.7 40.0,1200.0 C36.3,1233.3 31.7,1283.3 30.0,1300.0" fill="none" stroke="#c08050" stroke-width="1.2" stroke-linecap="round" opacity="0.9"/>
<path d="M8,1280a3.0,2.9 0 1,0 6.0,0a3.0,2.9 0 1,0 -6.0,0M10,1043a3.2,2.5 0 1,0 6.4,0a3.2,2.5 0 1,0 -6.4,0M5,1202a3.2,3.2 0 1,0 6.3,0a3.2,3.2 0 1,0 -6.3,0M23,1040a3.2,2.5 0 1,0 6.3,0a3.2,2.5 0 1,0 -6.3,0M38,1141a2.7,2.4 0 1,0 5.3,0a2.7,2.4 0 1,0 -5.3,0M23,1277a2.3,1.8 0 1,0 4.6,0a2.3,1.8 0 1,0 -4.6,0M17,1182a2.8,2.5 0 1,0 5.6,0a2.8,2.5 0 1,0 -5.6,0M38,1184a3.1,2.4 0 1,0 6.1,0a3.1,2.4 0 1,0 -6.1,0M-1,1245a2.9,2.2 0 1,0 5.8,0a2.9,2.2 0 1,0 -5.8,0M19,1045a2.6,2.3 0 1,0 5.3,0a2.6,2.3 0 1,0 -5.3,0M25,1112a2.5,2.2 0 1,0 4.9,0a2.5,2.2 0 1,0 -4.9,0M63,1061a2.4,2.3 0 1,0 4.9,0a2.4,2.3 0 1,0 -4.9,0M3,1142a3.0,2.9 0 1,0 6.0,0a3.0,2.9 0 1,0 -6.0,0M51,1152a3.1,2.8 0 1,0 6.2,0a3.1,2.8 0 1,0 -6.2,0M30,1089a3.5,3.3 0 1,0 7.1,0a3.5,3.3 0 1,0 -7.1,0M44,1109a2.7,2.1 0 1,0 5.4,0a2.7,2.1 0 1,0 -5.4,0M11,1391a2.9,2.8 0 1,0 5.7,0a2.9,2.8 0 1,0 -5.7,0M41,1163a3.1,2.9 0 1,0 6.2,0a3.1,2.9 0 1,0 -6.2,0M20,1072a2.6,1.9 0 1,0 5.2,0a2.6,1.9 0 1,0 -5.2,0M16,1318a2.6,2.4 0 1,0 5.2,0a2.6,2.4 0 1,0 -5.2,0M58,1099a3.1,2.6 0 1,0 6.1,0a3.1,2.6 0 1,0 -6.1,0M0,1299a3.2,2.3 0 1,0 6.4,0a3.2,2.3 0 1,0 -6.4,0M4,1094a2.4,2.1 0 1,0 4.7,0a2.4,2.1 0 1,0 -4.7,0M4,1147a3.2,2.8 0 1,0 6.4,0a3.2,2.8 0 1,0 -6.4,0M4,1219a2.7,2.0 0 1,0 5.3,0a2.7,2.0 0 1,0 -5.3,0M52,1132a2.7,2.6 0 1,0 5.4,0a2.7,2.6 0 1,0 -5.4,0M53,1103a2.6,2.2 0 1,0 5.2,0a2.6,2.2 0 1,0 -5.2,0M7,1191a3.4,3.4 0 1,0 6.9,0a3.4,3.4 0 1,0 -6.9,0M28,1097a3.4,3.3 0 1,0 6.9,0a3.4,3.3 0 1,0 -6.9,0M4,1068a2.6,2.4 0 1,0 5.1,0a2.6,2.4 0 1,0 -5.1,0M8,1291a3.5,2.7 0 1,0 6.9,0a3.5,2.7 0 1,0 -6.9,0M18,1033a3.6,2.7 0 1,0 7.3,0a3.6,2.7 0 1,0 -7.3,0M28,1042a3.1,2.6 0 1,0 6.2,0a3.1,2.6 0 1,0 -6.2,0M2,1322a3.0,2.7 0 1,0 6.1,0a3.0,2.7 0 1,0 -6.1,0M42,1103a3.7,2.6 0 1,0 7.3,0a3.7,2.6 0 1,0 -7.3,0M4,1197a3.6,2.5 0 1,0 7.2,0a3.6,2.5 0 1,0 -7.2,0M16,1264a3.5,2.8 0 1,0 7.0,0a3.5,2.8 0 1,0 -7.0,0M45,1066a2.4,2.0 0 1,0 4.9,0a2.4,2.0 0 1,0 -4.9,0M21,1052a2.7,2.3 0 1,0 5.4,0a2.7,2.3 0 1,0 -5.4,0M12,1354a3.5,3.4 0 1,0 7.0,0a3.5,3.4 0 1,0 -7.0,0M3,1276a2.8,2.7 0 1,0 5.5,0a2.8,2.7 0 1,0 -5.5,0M13,1075a2.9,2.5 0 1,0 5.9,0a2.9,2.5 0 1,0 -5.9,0M12,1116a2.7,2.0 0 1,0 5.3,0a2.7,2.0 0 1,0 -5.3,0M8,1286a2.9,2.7 0 1,0 5.7,0a2.9,2.7 0 1,0 -5.7,0M13,1347a2.7,2.0 0 1,0 5.4,0a2.7,2.0 0 1,0 -5.4,0M-2,1346a3.6,2.8 0 1,0 7.2,0a3.6,2.8 0 1,0 -7.2,0M5,1051a2.5,2.4 0 1,0 5.0,0a2.5,2.4 0 1,0 -5.0,0M40,1092a3.5,3.2 0 1,0 7.0,0a3.5,3.2 0 1,0 -7.0,0M19,1311a2.9,2.2 0 1,0 5.8,0a2.9,2.2 0 1,0 -5.8,0M20,1060a2.9,2.1 0 1,0 5.7,0a2.9,2.1 0 1,0 -5.7,0M9,1143a3.0,2.7 0 1,0 6.1,0a3.0,2.7 0 1,0 -6.1,0M-2,1065a3.1,2.4 0 1,0 6.1,0a3.1,2.4 0 1,0 -6.1,0M50,1120a3.3,2.9 0 1,0 6.7,0a3.3,2.9 0 1,0 -6.7,0M9,1230a2.6,1.8 0 1,0 5.1,0a2.6,1.8 0 1,0 -5.1,0M59,1047a2.5,1.9 0 1,0 4.9,0a2.5,1.9 0 1,0 -4.9,0M9,1353a3.2,2.5 0 1,0 6.4,0a3.2,2.5 0 1,0 -6.4,0M35,1384a3.3,3.0 0 1,0 6.5,0a3.3,3.0 0 1,0 -6.5,0M24,1388a3.6,3.0 0 1,0 7.2,0a3.6,3.0 0 1,0 -7.2,0M32,1379a2.8,2.1 0 1,0 5.7,0a2.8,2.1 0 1,0 -5.7,0M5,1391a2.7,1.9 0 1,0 5.4,0a2.7,1.9 0 1,0 -5.4,0M26,1369a2.3,2.0 0 1,0 4.6,0a2.3,2.0 0 1,0 -4.6,0M18,1344a3.3,2.7 0 1,0 6.5,0a3.3,2.7 0 1,0 -6.5,0M32,1391a2.7,2.6 0 1,0 5.4,0a2.7,2.6 0 1,0 -5.4,0M48,1377a3.1,2.6 0 1,0 6.1,0a3.1,2.6 0 1,0 -6.1,0M4,1373a3.0,2.5 0 1,0 6.1,0a3.0,2.5 0 1,0 -6.1,0M49,1382a3.5,2.5 0 1,0 6.9,0a3.5,2.5 0 1,0 -6.9,0M192,1388a2.9,2.7 0 1,0 5.8,0a2.9,2.7 0 1,0 -5.8,0M148,1257a3.2,2.7 0 1,0 6.3,0a3.2,2.7 0 1,0 -6.3,0M179,1095a3.0,2.4 0 1,0 6.0,0a3.0,2.4 0 1,0 -6.0,0M174,1113a2.4,2.3 0 1,0 4.8,0a2.4,2.3 0 1,0 -4.8,0M183,1338a2.4,2.0 0 1,0 4.8,0a2.4,2.0 0 1,0 -4.8,0M142,1371a3.2,3.1 0 1,0 6.3,0a3.2,3.1 0 1,0 -6.3,0M155,1338a3.4,2.7 0 1,0 6.7,0a3.4,2.7 0 1,0 -6.7,0M196,1284a2.6,2.2 0 1,0 5.2,0a2.6,2.2 0 1,0 -5.2,0M158,1249a3.0,2.3 0 1,0 6.1,0a3.0,2.3 0 1,0 -6.1,0M180,1312a3.3,3.0 0 1,0 6.5,0a3.3,3.0 0 1,0 -6.5,0M165,1184a3.1,2.7 0 1,0 6.1,0a3.1,2.7 0 1,0 -6.1,0M193,1070a3.6,3.6 0 1,0 7.3,0a3.6,3.6 0 1,0 -7.3,0M178,1182a3.4,3.3 0 1,0 6.7,0a3.4,3.3 0 1,0 -6.7,0M172,1361a3.0,3.0 0 1,0 6.0,0a3.0,3.0 0 1,0 -6.0,0M180,1384a2.4,1.8 0 1,0 4.7,0a2.4,1.8 0 1,0 -4.7,0M190,1044a3.3,2.7 0 1,0 6.7,0a3.3,2.7 0 1,0 -6.7,0M194,1205a2.9,2.0 0 1,0 5.8,0a2.9,2.0 0 1,0 -5.8,0M163,1351a3.2,2.8 0 1,0 6.4,0a3.2,2.8 0 1,0 -6.4,0M190,1181a3.2,3.2 0 1,0 6.4,0a3.2,3.2 0 1,0 -6.4,0M180,1347a2.4,2.1 0 1,0 4.8,0a2.4,2.1 0 1,0 -4.8,0M177,1290a3.0,2.1 0 1,0 6.0,0a3.0,2.1 0 1,0 -6.0,0M183,1214a3.5,2.5 0 1,0 7.0,0a3.5,2.5 0 1,0 -7.0,0M177,1102a3.3,2.7 0 1,0 6.7,0a3.3,2.7 0 1,0 -6.7,0M170,1345a2.7,2.6 0 1,0 5.4,0a2.7,2.6 0 1,0 -5.4,0M190,1064a2.4,2.2 0 1,0 4.8,0a2.4,2.2 0 1,0 -4.8,0M167,1247a2.6,1.9 0 1,0 5.2,0a2.6,1.9 0 1,0 -5.2,0M196,1305a2.3,2.2 0 1,0 4.7,0a2.3,2.2 0 1,0 -4.7,0M175,1319a2.6,2.0 0 1,0 5.3,0a2.6,2.0 0 1,0 -5.3,0M139,1297a2.4,2.2 0 1,0 4.8,0a2.4,2.2 0 1,0 -4.8,0M177,1340a2.8,2.5 0 1,0 5.7,0a2.8,2.5 0 1,0 -5.7,0M161,1289a3.7,2.8 0 1,0 7.4,0a3.7,2.8 0 1,0 -7.4,0M194,1061a2.7,2.5 0 1,0 5.5,0a2.7,2.5 0 1,0 -5.5,0M195,1353a2.8,2.4 0 1,0 5.7,0a2.8,2.4 0 1,0 -5.7,0M173,1325a3.7,2.7 0 1,0 7.3,0a3.7,2.7 0 1,0 -7.3,0M177,1218a2.4,2.2 0 1,0 4.7,0a2.4,2.2 0 1,0 -4.7,0M159,1378a2.9,2.5 0 1,0 5.7,0a2.9,2.5 0 1,0 -5.7,0M194,1145a3.5,2.8 0 1,0 7.1,0a3.5,2.8 0 1,0 -7.1,0M141,1330a3.1,2.4 0 1,0 6.2,0a3.1,2.4 0 1,0 -6.2,0M189,1101a3.1,2.4 0 1,0 6.3,0a3.1,2.4 0 1,0 -6.3,0M159,1392a3.6,3.0 0 1,0 7.1,0a3.6,3.0 0 1,0 -7.1,0M170,1220a3.3,2.4 0 1,0 6.7,0a3.3,2.4 0 1,0 -6.7,0M183,1270a3.4,3.3 0 1,0 6.9,0a3.4,3.3 0 1,0 -6.9,0M196,1233a2.8,2.1 0 1,0 5.5,0a2.8,2.1 0 1,0 -5.5,0M150,1290a2.5,2.0 0 1,0 4.9,0a2.5,2.0 0 1,0 -4.9,0M157,1196a2.3,1.8 0 1,0 4.6,0a2.3,1.8 0 1,0 -4.6,0M190,1115a3.3,2.7 0 1,0 6.6,0a3.3,2.7 0 1,0 -6.6,0M143,1263a2.6,2.3 0 1,0 5.2,0a2.6,2.3 0 1,0 -5.2,0M182,1063a3.6,3.3 0 1,0 7.2,0a3.6,3.3 0 1,0 -7.2,0M190,1132a2.5,1.9 0 1,0 5.0,0a2.5,1.9 0 1,0 -5.0,0M166,1341a3.0,2.5 0 1,0 6.0,0a3.0,2.5 0 1,0 -6.0,0M176,1198a2.7,2.3 0 1,0 5.5,0a2.7,2.3 0 1,0 -5.5,0M152,1380a2.6,2.3 0 1,0 5.2,0a2.6,2.3 0 1,0 -5.2,0M162,1219a2.3,1.9 0 1,0 4.6,0a2.3,1.9 0 1,0 -4.6,0M193,1095a3.0,3.0 0 1,0 6.1,0a3.0,3.0 0 1,0 -6.1,0M194,1220a3.6,2.8 0 1,0 7.2,0a3.6,2.8 0 1,0 -7.2,0M188,1191a3.0,2.9 0 1,0 6.0,0a3.0,2.9 0 1,0 -6.0,0" fill="#2c2c96"/>
<path d="M29,1108a3.5,3.4 0 1,0 7.0,0a3.5,3.4 0 1,0 -7.0,0M-1,1391a3.5,2.7 0 1,0 6.9,0a3.5,2.7 0 1,0 -6.9,0M13,1312a2.6,2.0 0 1,0 5.2,0a2.6,2.0 0 1,0 -5.2,0M34,1130a2.8,2.5 0 1,0 5.6,0a2.8,2.5 0 1,0 -5.6,0M34,1047a3.2,3.0 0 1,0 6.4,0a3.2,3.0 0 1,0 -6.4,0M2,1307a2.7,2.0 0 1,0 5.4,0a2.7,2.0 0 1,0 -5.4,0M48,1098a3.5,2.8 0 1,0 7.0,0a3.5,2.8 0 1,0 -7.0,0M21,1138a2.9,2.4 0 1,0 5.9,0a2.9,2.4 0 1,0 -5.9,0M41,1087a3.2,2.8 0 1,0 6.4,0a3.2,2.8 0 1,0 -6.4,0M11,1210a3.5,3.5 0 1,0 7.0,0a3.5,3.5 0 1,0 -7.0,0M38,1191a2.5,1.9 0 1,0 4.9,0a2.5,1.9 0 1,0 -4.9,0M50,1042a3.2,2.7 0 1,0 6.4,0a3.2,2.7 0 1,0 -6.4,0M42,1171a2.4,1.8 0 1,0 4.8,0a2.4,1.8 0 1,0 -4.8,0M14,1146a2.5,2.1 0 1,0 5.1,0a2.5,2.1 0 1,0 -5.1,0M0,1059a3.1,2.9 0 1,0 6.1,0a3.1,2.9 0 1,0 -6.1,0M43,1061a2.9,2.1 0 1,0 5.9,0a2.9,2.1 0 1,0 -5.9,0M30,1146a3.4,3.1 0 1,0 6.9,0a3.4,3.1 0 1,0 -6.9,0M36,1177a3.7,3.3 0 1,0 7.3,0a3.7,3.3 0 1,0 -7.3,0M27,1073a3.6,2.6 0 1,0 7.2,0a3.6,2.6 0 1,0 -7.2,0M22,1187a2.8,2.6 0 1,0 5.7,0a2.8,2.6 0 1,0 -5.7,0M6,1108a2.4,1.8 0 1,0 4.8,0a2.4,1.8 0 1,0 -4.8,0M52,1058a3.4,2.8 0 1,0 6.7,0a3.4,2.8 0 1,0 -6.7,0M16,1365a3.5,2.8 0 1,0 7.1,0a3.5,2.8 0 1,0 -7.1,0M20,1169a2.6,2.2 0 1,0 5.2,0a2.6,2.2 0 1,0 -5.2,0M12,1159a2.4,2.1 0 1,0 4.8,0a2.4,2.1 0 1,0 -4.8,0M3,1348a2.9,2.1 0 1,0 5.7,0a2.9,2.1 0 1,0 -5.7,0M31,1159a2.7,2.4 0 1,0 5.5,0a2.7,2.4 0 1,0 -5.5,0M23,1067a2.9,2.1 0 1,0 5.8,0a2.9,2.1 0 1,0 -5.8,0M42,1152a3.3,2.9 0 1,0 6.5,0a3.3,2.9 0 1,0 -6.5,0M-3,1112a3.4,3.3 0 1,0 6.8,0a3.4,3.3 0 1,0 -6.8,0M51,1066a3.1,2.2 0 1,0 6.2,0a3.1,2.2 0 1,0 -6.2,0M1,1188a2.3,2.2 0 1,0 4.6,0a2.3,2.2 0 1,0 -4.6,0M30,1184a3.1,2.7 0 1,0 6.1,0a3.1,2.7 0 1,0 -6.1,0M15,1177a3.1,2.3 0 1,0 6.2,0a3.1,2.3 0 1,0 -6.2,0M57,1116a2.8,2.5 0 1,0 5.5,0a2.8,2.5 0 1,0 -5.5,0M24,1205a3.7,2.8 0 1,0 7.3,0a3.7,2.8 0 1,0 -7.3,0M-1,1255a2.6,2.0 0 1,0 5.1,0a2.6,2.0 0 1,0 -5.1,0M4,1282a2.4,2.3 0 1,0 4.7,0a2.4,2.3 0 1,0 -4.7,0M40,1081a3.6,2.7 0 1,0 7.3,0a3.6,2.7 0 1,0 -7.3,0M5,1045a2.5,1.8 0 1,0 4.9,0a2.5,1.8 0 1,0 -4.9,0M15,1385a3.3,2.5 0 1,0 6.6,0a3.3,2.5 0 1,0 -6.6,0M47,1141a3.4,2.9 0 1,0 6.9,0a3.4,2.9 0 1,0 -6.9,0M41,1031a3.3,3.2 0 1,0 6.6,0a3.3,3.2 0 1,0 -6.6,0M11,1204a3.7,2.8 0 1,0 7.3,0a3.7,2.8 0 1,0 -7.3,0M33,1220a3.1,2.5 0 1,0 6.1,0a3.1,2.5 0 1,0 -6.1,0M36,1102a3.0,2.3 0 1,0 6.0,0a3.0,2.3 0 1,0 -6.0,0M6,1075a3.4,2.8 0 1,0 6.8,0a3.4,2.8 0 1,0 -6.8,0M6,1378a2.5,2.4 0 1,0 5.1,0a2.5,2.4 0 1,0 -5.1,0M24,1340a3.4,2.7 0 1,0 6.8,0a3.4,2.7 0 1,0 -6.8,0M14,1325a3.7,3.1 0 1,0 7.4,0a3.7,3.1 0 1,0 -7.4,0M25,1328a3.6,2.8 0 1,0 7.3,0a3.6,2.8 0 1,0 -7.3,0M17,1385a3.3,3.1 0 1,0 6.7,0a3.3,3.1 0 1,0 -6.7,0M6,1336a3.3,2.9 0 1,0 6.5,0a3.3,2.9 0 1,0 -6.5,0M15,1337a2.6,2.2 0 1,0 5.2,0a2.6,2.2 0 1,0 -5.2,0M38,1352a3.2,2.5 0 1,0 6.3,0a3.2,2.5 0 1,0 -6.3,0M8,1321a2.4,1.9 0 1,0 4.9,0a2.4,1.9 0 1,0 -4.9,0M187,1389a2.6,2.4 0 1,0 5.3,0a2.6,2.4 0 1,0 -5.3,0M145,1316a3.4,3.2 0 1,0 6.8,0a3.4,3.2 0 1,0 -6.8,0M176,1355a2.7,2.0 0 1,0 5.4,0a2.7,2.0 0 1,0 -5.4,0M189,1226a3.3,3.0 0 1,0 6.6,0a3.3,3.0 0 1,0 -6.6,0M195,1361a2.6,2.4 0 1,0 5.2,0a2.6,2.4 0 1,0 -5.2,0M179,1173a2.8,2.3 0 1,0 5.5,0a2.8,2.3 0 1,0 -5.5,0M187,1087a2.8,2.1 0 1,0 5.6,0a2.8,2.1 0 1,0 -5.6,0M182,1328a3.2,2.2 0 1,0 6.4,0a3.2,2.2 0 1,0 -6.4,0M193,1056a3.3,3.1 0 1,0 6.5,0a3.3,3.1 0 1,0 -6.5,0M156,1207a2.6,2.5 0 1,0 5.1,0a2.6,2.5 0 1,0 -5.1,0M162,1345a2.7,2.0 0 1,0 5.3,0a2.7,2.0 0 1,0 -5.3,0M144,1241a3.0,2.4 0 1,0 5.9,0a3.0,2.4 0 1,0 -5.9,0M140,1339a3.2,2.9 0 1,0 6.5,0a3.2,2.9 0 1,0 -6.5,0M166,1386a3.4,2.5 0 1,0 6.9,0a3.4,2.5 0 1,0 -6.9,0M151,1202a3.6,3.2 0 1,0 7.1,0a3.6,3.2 0 1,0 -7.1,0M166,1313a2.6,2.1 0 1,0 5.3,0a2.6,2.1 0 1,0 -5.3,0M162,1338a2.4,2.4 0 1,0 4.9,0a2.4,2.4 0 1,0 -4.9,0M170,1256a2.8,2.1 0 1,0 5.5,0a2.8,2.1 0 1,0 -5.5,0M194,1372a3.1,2.7 0 1,0 6.2,0a3.1,2.7 0 1,0 -6.2,0M173,1137a3.1,2.8 0 1,0 6.1,0a3.1,2.8 0 1,0 -6.1,0M185,1296a3.4,3.3 0 1,0 6.9,0a3.4,3.3 0 1,0 -6.9,0M168,1367a3.3,2.8 0 1,0 6.6,0a3.3,2.8 0 1,0 -6.6,0M188,1335a3.0,2.8 0 1,0 6.1,0a3.0,2.8 0 1,0 -6.1,0M180,1048a3.1,2.4 0 1,0 6.1,0a3.1,2.4 0 1,0 -6.1,0M170,1275a3.1,2.4 0 1,0 6.2,0a3.1,2.4 0 1,0 -6.2,0M193,1247a3.4,2.8 0 1,0 6.9,0a3.4,2.8 0 1,0 -6.9,0M143,1346a2.8,2.6 0 1,0 5.7,0a2.8,2.6 0 1,0 -5.7,0M190,1290a3.6,2.8 0 1,0 7.2,0a3.6,2.8 0 1,0 -7.2,0M156,1386a2.5,2.0 0 1,0 5.0,0a2.5,2.0 0 1,0 -5.0,0M140,1361a3.6,2.8 0 1,0 7.2,0a3.6,2.8 0 1,0 -7.2,0M146,1375a3.5,2.5 0 1,0 7.0,0a3.5,2.5 0 1,0 -7.0,0M172,1206a3.5,3.1 0 1,0 7.1,0a3.5,3.1 0 1,0 -7.1,0M140,1314a3.2,2.4 0 1,0 6.5,0a3.2,2.4 0 1,0 -6.5,0M169,1038a3.0,2.6 0 1,0 6.0,0a3.0,2.6 0 1,0 -6.0,0M158,1274a2.7,2.6 0 1,0 5.4,0a2.7,2.6 0 1,0 -5.4,0M189,1376a3.4,3.0 0 1,0 6.8,0a3.4,3.0 0 1,0 -6.8,0M191,1125a2.4,2.0 0 1,0 4.8,0a2.4,2.0 0 1,0 -4.8,0M142,1282a2.3,1.7 0 1,0 4.6,0a2.3,1.7 0 1,0 -4.6,0M178,1090a3.1,2.9 0 1,0 6.2,0a3.1,2.9 0 1,0 -6.2,0M166,1283a3.6,3.5 0 1,0 7.3,0a3.6,3.5 0 1,0 -7.3,0M176,1062a2.9,2.1 0 1,0 5.9,0a2.9,2.1 0 1,0 -5.9,0M193,1051a3.0,2.6 0 1,0 6.0,0a3.0,2.6 0 1,0 -6.0,0M157,1296a2.4,2.2 0 1,0 4.8,0a2.4,2.2 0 1,0 -4.8,0M193,1120a2.7,2.3 0 1,0 5.4,0a2.7,2.3 0 1,0 -5.4,0M186,1304a3.1,2.9 0 1,0 6.3,0a3.1,2.9 0 1,0 -6.3,0M167,1046a2.7,2.4 0 1,0 5.4,0a2.7,2.4 0 1,0 -5.4,0M165,1260a2.6,2.3 0 1,0 5.1,0a2.6,2.3 0 1,0 -5.1,0M152,1247a2.9,2.4 0 1,0 5.8,0a2.9,2.4 0 1,0 -5.8,0M194,1338a3.2,2.6 0 1,0 6.3,0a3.2,2.6 0 1,0 -6.3,0M174,1165a3.2,2.5 0 1,0 6.4,0a3.2,2.5 0 1,0 -6.4,0M171,1244a3.2,3.1 0 1,0 6.4,0a3.2,3.1 0 1,0 -6.4,0M196,1385a3.4,2.9 0 1,0 6.7,0a3.4,2.9 0 1,0 -6.7,0M146,1222a3.0,2.1 0 1,0 6.1,0a3.0,2.1 0 1,0 -6.1,0M177,1204a3.4,3.1 0 1,0 6.8,0a3.4,3.1 0 1,0 -6.8,0M178,1330a2.3,1.8 0 1,0 4.6,0a2.3,1.8 0 1,0 -4.6,0M188,1384a2.8,2.0 0 1,0 5.7,0a2.8,2.0 0 1,0 -5.7,0M141,1355a2.5,2.3 0 1,0 5.1,0a2.5,2.3 0 1,0 -5.1,0M146,1391a3.0,2.4 0 1,0 5.9,0a3.0,2.4 0 1,0 -5.9,0M191,1367a3.5,3.0 0 1,0 7.0,0a3.5,3.0 0 1,0 -7.0,0M172,1187a2.6,2.2 0 1,0 5.2,0a2.6,2.2 0 1,0 -5.2,0M143,1309a3.0,2.8 0 1,0 6.0,0a3.0,2.8 0 1,0 -6.0,0M184,1228a3.0,2.9 0 1,0 6.0,0a3.0,2.9 0 1,0 -6.0,0M176,1379a3.0,2.4 0 1,0 6.0,0a3.0,2.4 0 1,0 -6.0,0" fill="#26268a"/>
<path d="M23,1242a2.5,2.0 0 1,0 5.1,0a2.5,2.0 0 1,0 -5.1,0M52,1114a2.5,2.1 0 1,0 4.9,0a2.5,2.1 0 1,0 -4.9,0M4,1375a3.6,2.7 0 1,0 7.2,0a3.6,2.7 0 1,0 -7.2,0M8,1326a2.4,1.9 0 1,0 4.8,0a2.4,1.9 0 1,0 -4.8,0M-2,1278a2.6,2.5 0 1,0 5.2,0a2.6,2.5 0 1,0 -5.2,0M18,1390a3.3,2.8 0 1,0 6.5,0a3.3,2.8 0 1,0 -6.5,0M10,1151a3.6,3.2 0 1,0 7.2,0a3.6,3.2 0 1,0 -7.2,0M14,1033a2.8,2.4 0 1,0 5.6,0a2.8,2.4 0 1,0 -5.6,0M58,1056a2.8,2.1 0 1,0 5.6,0a2.8,2.1 0 1,0 -5.6,0M-1,1158a3.5,3.0 0 1,0 7.1,0a3.5,3.0 0 1,0 -7.1,0M5,1117a3.6,3.4 0 1,0 7.1,0a3.6,3.4 0 1,0 -7.1,0M13,1296a2.6,2.4 0 1,0 5.3,0a2.6,2.4 0 1,0 -5.3,0M30,1050a2.4,2.3 0 1,0 4.7,0a2.4,2.3 0 1,0 -4.7,0M43,1137a3.1,3.1 0 1,0 6.3,0a3.1,3.1 0 1,0 -6.3,0M7,1256a3.5,2.5 0 1,0 7.0,0a3.5,2.5 0 1,0 -7.0,0M37,1096a2.7,2.1 0 1,0 5.4,0a2.7,2.1 0 1,0 -5.4,0M48,1084a2.9,2.7 0 1,0 5.8,0a2.9,2.7 0 1,0 -5.8,0M5,1270a3.0,2.4 0 1,0 5.9,0a3.0,2.4 0 1,0 -5.9,0M7,1031a2.5,2.1 0 1,0 5.1,0a2.5,2.1 0 1,0 -5.1,0M21,1090a2.5,2.1 0 1,0 5.0,0a2.5,2.1 0 1,0 -5.0,0M27,1238a3.3,2.9 0 1,0 6.6,0a3.3,2.9 0 1,0 -6.6,0M41,1050a2.3,1.8 0 1,0 4.6,0a2.3,1.8 0 1,0 -4.6,0M16,1192a3.7,3.6 0 1,0 7.3,0a3.7,3.6 0 1,0 -7.3,0M36,1082a2.7,2.0 0 1,0 5.3,0a2.7,2.0 0 1,0 -5.3,0M15,1271a3.5,3.4 0 1,0 7.1,0a3.5,3.4 0 1,0 -7.1,0M-3,1040a3.0,2.9 0 1,0 6.1,0a3.0,2.9 0 1,0 -6.1,0M37,1063a3.6,3.4 0 1,0 7.1,0a3.6,3.4 0 1,0 -7.1,0M40,1114a2.9,2.9 0 1,0 5.7,0a2.9,2.9 0 1,0 -5.7,0M-2,1196a3.6,3.1 0 1,0 7.2,0a3.6,3.1 0 1,0 -7.2,0M-2,1127a3.2,2.8 0 1,0 6.3,0a3.2,2.8 0 1,0 -6.3,0M12,1307a3.0,2.2 0 1,0 5.9,0a3.0,2.2 0 1,0 -5.9,0M22,1212a2.6,2.0 0 1,0 5.2,0a2.6,2.0 0 1,0 -5.2,0M15,1326a3.1,2.6 0 1,0 6.2,0a3.1,2.6 0 1,0 -6.2,0M18,1111a3.7,2.8 0 1,0 7.3,0a3.7,2.8 0 1,0 -7.3,0M50,1126a2.8,2.0 0 1,0 5.6,0a2.8,2.0 0 1,0 -5.6,0M14,1053a3.6,3.5 0 1,0 7.3,0a3.6,3.5 0 1,0 -7.3,0M-2,1269a2.3,2.1 0 1,0 4.6,0a2.3,2.1 0 1,0 -4.6,0M23,1146a3.3,2.4 0 1,0 6.5,0a3.3,2.4 0 1,0 -6.5,0M24,1178a2.9,2.2 0 1,0 5.7,0a2.9,2.2 0 1,0 -5.7,0M-3,1222a3.7,3.1 0 1,0 7.4,0a3.7,3.1 0 1,0 -7.4,0M-0,1338a2.4,2.0 0 1,0 4.8,0a2.4,2.0 0 1,0 -4.8,0M18,1375a3.5,3.5 0 1,0 7.0,0a3.5,3.5 0 1,0 -7.0,0M-1,1076a3.3,2.7 0 1,0 6.7,0a3.3,2.7 0 1,0 -6.7,0M-2,1083a3.0,2.6 0 1,0 6.1,0a3.0,2.6 0 1,0 -6.1,0M7,1186a2.7,2.7 0 1,0 5.4,0a2.7,2.7 0 1,0 -5.4,0M0,1031a2.8,2.7 0 1,0 5.6,0a2.8,2.7 0 1,0 -5.6,0M-2,1239a3.0,2.5 0 1,0 6.0,0a3.0,2.5 0 1,0 -6.0,0M26,1136a3.2,2.5 0 1,0 6.4,0a3.2,2.5 0 1,0 -6.4,0M35,1122a3.3,3.2 0 1,0 6.5,0a3.3,3.2 0 1,0 -6.5,0M-2,1286a2.6,1.9 0 1,0 5.1,0a2.6,1.9 0 1,0 -5.1,0M12,1216a3.4,2.5 0 1,0 6.7,0a3.4,2.5 0 1,0 -6.7,0M17,1158a3.4,2.6 0 1,0 6.8,0a3.4,2.6 0 1,0 -6.8,0M36,1053a2.6,2.0 0 1,0 5.1,0a2.6,2.0 0 1,0 -5.1,0M25,1125a2.6,1.8 0 1,0 5.2,0a2.6,1.8 0 1,0 -5.2,0M55,1094a2.9,2.1 0 1,0 5.8,0a2.9,2.1 0 1,0 -5.8,0M7,1311a2.7,2.5 0 1,0 5.3,0a2.7,2.5 0 1,0 -5.3,0M23,1377a2.8,2.4 0 1,0 5.5,0a2.8,2.4 0 1,0 -5.5,0M10,1368a2.6,2.2 0 1,0 5.2,0a2.6,2.2 0 1,0 -5.2,0M23,1358a3.0,2.4 0 1,0 5.9,0a3.0,2.4 0 1,0 -5.9,0M36,1370a2.9,2.7 0 1,0 5.8,0a2.9,2.7 0 1,0 -5.8,0M23,1349a2.8,2.7 0 1,0 5.6,0a2.8,2.7 0 1,0 -5.6,0M33,1365a3.4,3.2 0 1,0 6.9,0a3.4,3.2 0 1,0 -6.9,0M45,1371a2.5,1.8 0 1,0 5.0,0a2.5,1.8 0 1,0 -5.0,0M7,1385a2.7,2.1 0 1,0 5.4,0a2.7,2.1 0 1,0 -5.4,0M7,1360a3.7,3.5 0 1,0 7.3,0a3.7,3.5 0 1,0 -7.3,0M16,1354a3.6,2.6 0 1,0 7.2,0a3.6,2.6 0 1,0 -7.2,0M12,1347a3.4,3.2 0 1,0 6.8,0a3.4,3.2 0 1,0 -6.8,0M28,1363a2.4,1.7 0 1,0 4.7,0a2.4,1.7 0 1,0 -4.7,0M18,1375a3.4,2.8 0 1,0 6.7,0a3.4,2.8 0 1,0 -6.7,0M12,1374a3.1,2.9 0 1,0 6.2,0a3.1,2.9 0 1,0 -6.2,0M30,1335a2.8,2.4 0 1,0 5.6,0a2.8,2.4 0 1,0 -5.6,0M183,1237a2.4,1.8 0 1,0 4.7,0a2.4,1.8 0 1,0 -4.7,0M197,1270a2.3,2.0 0 1,0 4.7,0a2.3,2.0 0 1,0 -4.7,0M172,1171a2.8,2.5 0 1,0 5.6,0a2.8,2.5 0 1,0 -5.6,0M144,1277a3.4,3.2 0 1,0 6.7,0a3.4,3.2 0 1,0 -6.7,0M190,1147a2.6,1.9 0 1,0 5.1,0a2.6,1.9 0 1,0 -5.1,0M181,1198a3.4,3.2 0 1,0 6.8,0a3.4,3.2 0 1,0 -6.8,0M154,1373a3.1,3.1 0 1,0 6.3,0a3.1,3.1 0 1,0 -6.3,0M184,1110a2.4,2.4 0 1,0 4.7,0a2.4,2.4 0 1,0 -4.7,0M146,1342a3.7,3.6 0 1,0 7.4,0a3.7,3.6 0 1,0 -7.4,0M183,1075a3.6,3.4 0 1,0 7.3,0a3.6,3.4 0 1,0 -7.3,0M179,1167a3.0,2.3 0 1,0 5.9,0a3.0,2.3 0 1,0 -5.9,0M167,1360a2.9,2.9 0 1,0 5.8,0a2.9,2.9 0 1,0 -5.8,0M196,1080a3.3,2.4 0 1,0 6.7,0a3.3,2.4 0 1,0 -6.7,0M172,1193a2.7,2.7 0 1,0 5.5,0a2.7,2.7 0 1,0 -5.5,0M162,1367a2.3,2.1 0 1,0 4.7,0a2.3,2.1 0 1,0 -4.7,0M149,1271a3.0,2.6 0 1,0 5.9,0a3.0,2.6 0 1,0 -5.9,0M140,1289a3.2,3.2 0 1,0 6.5,0a3.2,3.2 0 1,0 -6.5,0M191,1343a2.4,1.8 0 1,0 4.8,0a2.4,1.8 0 1,0 -4.8,0M178,1243a3.2,2.5 0 1,0 6.4,0a3.2,2.5 0 1,0 -6.4,0M194,1320a2.5,2.1 0 1,0 5.0,0a2.5,2.1 0 1,0 -5.0,0M171,1295a3.2,3.0 0 1,0 6.4,0a3.2,3.0 0 1,0 -6.4,0M145,1296a3.2,2.6 0 1,0 6.4,0a3.2,2.6 0 1,0 -6.4,0M174,1147a2.8,2.8 0 1,0 5.7,0a2.8,2.8 0 1,0 -5.7,0M165,1175a3.4,2.4 0 1,0 6.7,0a3.4,2.4 0 1,0 -6.7,0M163,1197a2.8,2.1 0 1,0 5.6,0a2.8,2.1 0 1,0 -5.6,0M170,1092a3.4,3.2 0 1,0 6.7,0a3.4,3.2 0 1,0 -6.7,0M189,1082a2.8,2.1 0 1,0 5.7,0a2.8,2.1 0 1,0 -5.7,0M195,1135a3.4,2.8 0 1,0 6.9,0a3.4,2.8 0 1,0 -6.9,0M190,1218a2.5,2.0 0 1,0 5.1,0a2.5,2.0 0 1,0 -5.1,0M178,1055a3.5,2.8 0 1,0 7.0,0a3.5,2.8 0 1,0 -7.0,0M196,1199a3.6,3.1 0 1,0 7.1,0a3.6,3.1 0 1,0 -7.1,0M173,1367a3.3,2.8 0 1,0 6.7,0a3.3,2.8 0 1,0 -6.7,0M187,1094a2.4,2.0 0 1,0 4.8,0a2.4,2.0 0 1,0 -4.8,0M165,1268a2.6,2.5 0 1,0 5.1,0a2.6,2.5 0 1,0 -5.1,0M147,1284a2.9,2.9 0 1,0 5.9,0a2.9,2.9 0 1,0 -5.9,0M178,1361a2.9,2.2 0 1,0 5.8,0a2.9,2.2 0 1,0 -5.8,0M197,1187a2.9,2.8 0 1,0 5.8,0a2.9,2.8 0 1,0 -5.8,0M164,1274a2.9,2.8 0 1,0 5.9,0a2.9,2.8 0 1,0 -5.9,0M168,1069a2.4,1.7 0 1,0 4.8,0a2.4,1.7 0 1,0 -4.8,0M148,1229a3.5,3.3 0 1,0 7.0,0a3.5,3.3 0 1,0 -7.0,0M184,1291a2.8,2.6 0 1,0 5.7,0a2.8,2.6 0 1,0 -5.7,0M188,1201a2.7,2.0 0 1,0 5.5,0a2.7,2.0 0 1,0 -5.5,0M156,1256a3.6,2.8 0 1,0 7.2,0a3.6,2.8 0 1,0 -7.2,0M152,1392a3.0,2.9 0 1,0 6.0,0a3.0,2.9 0 1,0 -6.0,0M166,1372a3.7,3.4 0 1,0 7.3,0a3.7,3.4 0 1,0 -7.3,0M185,1099a2.7,2.5 0 1,0 5.4,0a2.7,2.5 0 1,0 -5.4,0M186,1140a2.5,2.2 0 1,0 5.1,0a2.5,2.2 0 1,0 -5.1,0M184,1322a2.4,2.2 0 1,0 4.8,0a2.4,2.2 0 1,0 -4.8,0M196,1099a2.4,1.9 0 1,0 4.7,0a2.4,1.9 0 1,0 -4.7,0M154,1352a2.8,2.7 0 1,0 5.5,0a2.8,2.7 0 1,0 -5.5,0M196,1175a2.9,2.1 0 1,0 5.9,0a2.9,2.1 0 1,0 -5.9,0M154,1366a2.4,1.7 0 1,0 4.7,0a2.4,1.7 0 1,0 -4.7,0M196,1031a3.4,2.4 0 1,0 6.8,0a3.4,2.4 0 1,0 -6.8,0M197,1277a2.8,2.4 0 1,0 5.7,0a2.8,2.4 0 1,0 -5.7,0" fill="#242488"/>
<path d="M-0,1149a2.4,1.8 0 1,0 4.8,0a2.4,1.8 0 1,0 -4.8,0M34,1154a3.5,3.2 0 1,0 7.1,0a3.5,3.2 0 1,0 -7.1,0M10,1364a3.7,3.3 0 1,0 7.3,0a3.7,3.3 0 1,0 -7.3,0M31,1208a3.2,2.4 0 1,0 6.4,0a3.2,2.4 0 1,0 -6.4,0M58,1078a3.1,2.5 0 1,0 6.2,0a3.1,2.5 0 1,0 -6.2,0M40,1037a2.5,2.4 0 1,0 5.1,0a2.5,2.4 0 1,0 -5.1,0M27,1217a2.9,2.4 0 1,0 5.9,0a2.9,2.4 0 1,0 -5.9,0M-3,1143a3.7,3.0 0 1,0 7.4,0a3.7,3.0 0 1,0 -7.4,0M23,1083a3.2,3.1 0 1,0 6.4,0a3.2,3.1 0 1,0 -6.4,0M9,1128a3.6,3.1 0 1,0 7.2,0a3.6,3.1 0 1,0 -7.2,0M2,1329a3.3,2.9 0 1,0 6.5,0a3.3,2.9 0 1,0 -6.5,0M3,1177a2.9,2.2 0 1,0 5.8,0a2.9,2.2 0 1,0 -5.8,0M22,1077a2.9,2.8 0 1,0 5.9,0a2.9,2.8 0 1,0 -5.9,0M24,1031a2.5,2.4 0 1,0 4.9,0a2.5,2.4 0 1,0 -4.9,0M28,1171a2.9,2.8 0 1,0 5.8,0a2.9,2.8 0 1,0 -5.8,0M8,1173a3.5,3.0 0 1,0 6.9,0a3.5,3.0 0 1,0 -6.9,0M14,1256a3.2,3.1 0 1,0 6.4,0a3.2,3.1 0 1,0 -6.4,0M14,1108a2.9,2.8 0 1,0 5.8,0a2.9,2.8 0 1,0 -5.8,0M59,1090a3.0,2.2 0 1,0 5.9,0a3.0,2.2 0 1,0 -5.9,0M34,1072a2.3,2.2 0 1,0 4.6,0a2.3,2.2 0 1,0 -4.6,0M12,1097a3.7,3.0 0 1,0 7.3,0a3.7,3.0 0 1,0 -7.3,0M4,1241a2.8,2.3 0 1,0 5.6,0a2.8,2.3 0 1,0 -5.6,0M30,1124a2.6,2.6 0 1,0 5.2,0a2.6,2.6 0 1,0 -5.2,0M11,1371a2.6,1.9 0 1,0 5.3,0a2.6,1.9 0 1,0 -5.3,0M6,1156a3.4,3.2 0 1,0 6.7,0a3.4,3.2 0 1,0 -6.7,0M-1,1119a2.4,2.3 0 1,0 4.9,0a2.4,2.3 0 1,0 -4.9,0M2,1167a3.6,2.9 0 1,0 7.2,0a3.6,2.9 0 1,0 -7.2,0M23,1130a2.7,2.0 0 1,0 5.4,0a2.7,2.0 0 1,0 -5.4,0M32,1200a3.3,2.8 0 1,0 6.7,0a3.3,2.8 0 1,0 -6.7,0M5,1386a3.3,2.5 0 1,0 6.7,0a3.3,2.5 0 1,0 -6.7,0M4,1248a3.5,2.8 0 1,0 7.0,0a3.5,2.8 0 1,0 -7.0,0M12,1062a3.5,2.6 0 1,0 7.0,0a3.5,2.6 0 1,0 -7.0,0M23,1249a2.9,2.2 0 1,0 5.8,0a2.9,2.2 0 1,0 -5.8,0M18,1206a3.5,3.2 0 1,0 7.1,0a3.5,3.2 0 1,0 -7.1,0M36,1168a3.2,3.1 0 1,0 6.3,0a3.2,3.1 0 1,0 -6.3,0M61,1085a2.4,1.7 0 1,0 4.7,0a2.4,1.7 0 1,0 -4.7,0M15,1380a3.0,2.5 0 1,0 6.1,0a3.0,2.5 0 1,0 -6.1,0M58,1109a3.4,3.4 0 1,0 6.8,0a3.4,3.4 0 1,0 -6.8,0M10,1272a3.4,3.1 0 1,0 6.8,0a3.4,3.1 0 1,0 -6.8,0M8,1299a2.4,1.8 0 1,0 4.7,0a2.4,1.8 0 1,0 -4.7,0M-3,1182a3.4,2.6 0 1,0 6.8,0a3.4,2.6 0 1,0 -6.8,0M-3,1091a3.6,3.5 0 1,0 7.2,0a3.6,3.5 0 1,0 -7.2,0M53,1080a2.6,2.5 0 1,0 5.2,0a2.6,2.5 0 1,0 -5.2,0M-2,1098a2.4,2.0 0 1,0 4.8,0a2.4,2.0 0 1,0 -4.8,0M28,1035a2.4,2.3 0 1,0 4.7,0a2.4,2.3 0 1,0 -4.7,0M14,1172a2.5,1.9 0 1,0 5.0,0a2.5,1.9 0 1,0 -5.0,0M12,1261a2.9,2.8 0 1,0 5.8,0a2.9,2.8 0 1,0 -5.8,0M18,1116a2.6,2.3 0 1,0 5.1,0a2.6,2.3 0 1,0 -5.1,0M52,1387a3.1,3.0 0 1,0 6.1,0a3.1,3.0 0 1,0 -6.1,0M22,1383a2.9,2.5 0 1,0 5.9,0a2.9,2.5 0 1,0 -5.9,0M30,1373a2.8,2.4 0 1,0 5.6,0a2.8,2.4 0 1,0 -5.6,0M188,1173a3.3,2.7 0 1,0 6.6,0a3.3,2.7 0 1,0 -6.6,0M186,1152a3.4,3.3 0 1,0 6.8,0a3.4,3.3 0 1,0 -6.8,0M165,1300a2.5,2.0 0 1,0 4.9,0a2.5,2.0 0 1,0 -4.9,0M149,1305a3.5,2.6 0 1,0 6.9,0a3.5,2.6 0 1,0 -6.9,0M166,1379a2.9,2.9 0 1,0 5.8,0a2.9,2.9 0 1,0 -5.8,0M193,1195a2.5,2.3 0 1,0 5.0,0a2.5,2.3 0 1,0 -5.0,0M195,1215a2.8,2.1 0 1,0 5.6,0a2.8,2.1 0 1,0 -5.6,0M187,1255a3.7,3.1 0 1,0 7.3,0a3.7,3.1 0 1,0 -7.3,0M192,1299a2.3,1.7 0 1,0 4.7,0a2.3,1.7 0 1,0 -4.7,0M175,1121a2.6,2.6 0 1,0 5.1,0a2.6,2.6 0 1,0 -5.1,0M169,1324a2.4,1.9 0 1,0 4.8,0a2.4,1.9 0 1,0 -4.8,0M183,1282a3.0,2.5 0 1,0 6.0,0a3.0,2.5 0 1,0 -6.0,0M147,1251a3.2,3.0 0 1,0 6.5,0a3.2,3.0 0 1,0 -6.5,0M189,1285a3.2,2.9 0 1,0 6.4,0a3.2,2.9 0 1,0 -6.4,0M156,1224a3.6,3.5 0 1,0 7.1,0a3.6,3.5 0 1,0 -7.1,0M170,1200a3.6,3.5 0 1,0 7.1,0a3.6,3.5 0 1,0 -7.1,0M183,1116a2.9,2.4 0 1,0 5.9,0a2.9,2.4 0 1,0 -5.9,0M149,1210a3.4,3.1 0 1,0 6.7,0a3.4,3.1 0 1,0 -6.7,0M160,1356a2.4,2.3 0 1,0 4.7,0a2.4,2.3 0 1,0 -4.7,0M173,1386a3.3,2.7 0 1,0 6.7,0a3.3,2.7 0 1,0 -6.7,0M171,1376a2.5,2.0 0 1,0 5.1,0a2.5,2.0 0 1,0 -5.1,0M139,1324a2.9,2.4 0 1,0 5.9,0a2.9,2.4 0 1,0 -5.9,0M148,1357a2.5,1.8 0 1,0 5.1,0a2.5,1.8 0 1,0 -5.1,0M146,1384a2.8,2.1 0 1,0 5.6,0a2.8,2.1 0 1,0 -5.6,0M195,1156a3.2,2.8 0 1,0 6.4,0a3.2,2.8 0 1,0 -6.4,0M153,1344a3.3,2.3 0 1,0 6.6,0a3.3,2.3 0 1,0 -6.6,0M177,1223a2.4,1.7 0 1,0 4.7,0a2.4,1.7 0 1,0 -4.7,0M162,1319a2.7,2.3 0 1,0 5.5,0a2.7,2.3 0 1,0 -5.5,0M180,1187a2.7,2.0 0 1,0 5.4,0a2.7,2.0 0 1,0 -5.4,0M162,1295a2.4,2.0 0 1,0 4.9,0a2.4,2.0 0 1,0 -4.9,0M161,1283a3.3,2.9 0 1,0 6.6,0a3.3,2.9 0 1,0 -6.6,0M177,1078a3.5,3.1 0 1,0 7.0,0a3.5,3.1 0 1,0 -7.0,0M175,1252a2.9,2.6 0 1,0 5.8,0a2.9,2.6 0 1,0 -5.8,0M186,1057a2.4,2.2 0 1,0 4.8,0a2.4,2.2 0 1,0 -4.8,0M186,1316a2.8,2.2 0 1,0 5.6,0a2.8,2.2 0 1,0 -5.6,0M168,1166a3.4,3.3 0 1,0 6.9,0a3.4,3.3 0 1,0 -6.9,0M156,1330a3.0,2.4 0 1,0 6.1,0a3.0,2.4 0 1,0 -6.1,0M195,1226a3.1,2.6 0 1,0 6.2,0a3.1,2.6 0 1,0 -6.2,0M184,1127a3.0,2.5 0 1,0 6.1,0a3.0,2.5 0 1,0 -6.1,0M184,1069a3.6,3.0 0 1,0 7.2,0a3.6,3.0 0 1,0 -7.2,0M192,1326a2.4,2.1 0 1,0 4.8,0a2.4,2.1 0 1,0 -4.8,0M189,1236a3.0,2.8 0 1,0 6.1,0a3.0,2.8 0 1,0 -6.1,0M193,1085a3.0,2.6 0 1,0 6.1,0a3.0,2.6 0 1,0 -6.1,0M141,1269a2.9,2.3 0 1,0 5.7,0a2.9,2.3 0 1,0 -5.7,0M172,1213a2.8,2.2 0 1,0 5.6,0a2.8,2.2 0 1,0 -5.6,0" fill="#3434a4"/>
<path d="M24,1162a3.4,3.1 0 1,0 6.7,0a3.4,3.1 0 1,0 -6.7,0M10,1092a2.5,2.3 0 1,0 4.9,0a2.5,2.3 0 1,0 -4.9,0M8,1055a3.1,2.9 0 1,0 6.1,0a3.1,2.9 0 1,0 -6.1,0M54,1049a3.1,2.2 0 1,0 6.1,0a3.1,2.2 0 1,0 -6.1,0M-2,1107a3.7,2.8 0 1,0 7.4,0a3.7,2.8 0 1,0 -7.4,0M18,1283a2.9,2.2 0 1,0 5.8,0a2.9,2.2 0 1,0 -5.8,0M6,1317a3.3,3.3 0 1,0 6.7,0a3.3,3.3 0 1,0 -6.7,0M-0,1209a2.7,2.6 0 1,0 5.3,0a2.7,2.6 0 1,0 -5.3,0M22,1155a2.7,2.1 0 1,0 5.3,0a2.7,2.1 0 1,0 -5.3,0M-2,1263a3.3,2.5 0 1,0 6.6,0a3.3,2.5 0 1,0 -6.6,0M12,1070a2.6,2.3 0 1,0 5.2,0a2.6,2.3 0 1,0 -5.2,0M31,1140a3.0,2.6 0 1,0 6.1,0a3.0,2.6 0 1,0 -6.1,0M4,1366a2.9,2.4 0 1,0 5.8,0a2.9,2.4 0 1,0 -5.8,0M18,1125a2.8,2.1 0 1,0 5.7,0a2.8,2.1 0 1,0 -5.7,0M44,1144a2.7,2.5 0 1,0 5.3,0a2.7,2.5 0 1,0 -5.3,0M46,1078a3.1,2.8 0 1,0 6.3,0a3.1,2.8 0 1,0 -6.3,0M15,1221a2.8,2.8 0 1,0 5.7,0a2.8,2.8 0 1,0 -5.7,0M49,1091a3.3,3.3 0 1,0 6.7,0a3.3,3.3 0 1,0 -6.7,0M-1,1232a2.6,2.5 0 1,0 5.2,0a2.6,2.5 0 1,0 -5.2,0M29,1067a2.6,2.5 0 1,0 5.1,0a2.6,2.5 0 1,0 -5.1,0M51,1073a2.7,2.2 0 1,0 5.3,0a2.7,2.2 0 1,0 -5.3,0M-1,1354a2.8,2.8 0 1,0 5.7,0a2.8,2.8 0 1,0 -5.7,0M61,1052a2.7,2.3 0 1,0 5.5,0a2.7,2.3 0 1,0 -5.5,0M60,1067a3.5,3.4 0 1,0 7.1,0a3.5,3.4 0 1,0 -7.1,0M26,1193a2.9,2.1 0 1,0 5.7,0a2.9,2.1 0 1,0 -5.7,0M16,1302a3.6,3.5 0 1,0 7.1,0a3.6,3.5 0 1,0 -7.1,0M54,1087a2.7,1.9 0 1,0 5.3,0a2.7,1.9 0 1,0 -5.3,0M27,1222a3.0,2.3 0 1,0 6.1,0a3.0,2.3 0 1,0 -6.1,0M21,1296a2.3,1.7 0 1,0 4.7,0a2.3,1.7 0 1,0 -4.7,0M13,1083a2.8,2.7 0 1,0 5.7,0a2.8,2.7 0 1,0 -5.7,0M13,1187a2.5,2.3 0 1,0 5.0,0a2.5,2.3 0 1,0 -5.0,0M5,1264a3.3,3.2 0 1,0 6.6,0a3.3,3.2 0 1,0 -6.6,0M21,1289a2.6,2.4 0 1,0 5.2,0a2.6,2.4 0 1,0 -5.2,0M13,1279a3.5,2.8 0 1,0 6.9,0a3.5,2.8 0 1,0 -6.9,0M-1,1370a3.0,3.0 0 1,0 6.0,0a3.0,3.0 0 1,0 -6.0,0M14,1164a3.5,2.7 0 1,0 7.1,0a3.5,2.7 0 1,0 -7.1,0M7,1133a3.0,2.9 0 1,0 5.9,0a3.0,2.9 0 1,0 -5.9,0M-1,1363a3.2,3.0 0 1,0 6.5,0a3.2,3.0 0 1,0 -6.5,0M2,1313a2.6,2.2 0 1,0 5.3,0a2.6,2.2 0 1,0 -5.3,0M19,1253a3.0,2.8 0 1,0 6.0,0a3.0,2.8 0 1,0 -6.0,0M57,1039a2.9,2.3 0 1,0 5.9,0a2.9,2.3 0 1,0 -5.9,0M16,1131a2.7,2.1 0 1,0 5.4,0a2.7,2.1 0 1,0 -5.4,0M-2,1385a3.5,2.7 0 1,0 7.0,0a3.5,2.7 0 1,0 -7.0,0M15,1248a2.8,2.1 0 1,0 5.6,0a2.8,2.1 0 1,0 -5.6,0M46,1167a2.9,2.8 0 1,0 5.7,0a2.9,2.8 0 1,0 -5.7,0M-2,1215a2.8,2.2 0 1,0 5.6,0a2.8,2.2 0 1,0 -5.6,0M32,1191a2.4,2.0 0 1,0 4.8,0a2.4,2.0 0 1,0 -4.8,0M31,1353a2.9,2.4 0 1,0 5.8,0a2.9,2.4 0 1,0 -5.8,0M35,1347a3.3,2.5 0 1,0 6.5,0a3.3,2.5 0 1,0 -6.5,0M39,1338a2.3,2.0 0 1,0 4.6,0a2.3,2.0 0 1,0 -4.6,0M17,1370a2.8,2.6 0 1,0 5.6,0a2.8,2.6 0 1,0 -5.6,0M21,1365a2.4,2.2 0 1,0 4.8,0a2.4,2.2 0 1,0 -4.8,0M6,1349a2.6,2.4 0 1,0 5.2,0a2.6,2.4 0 1,0 -5.2,0M195,1045a3.4,3.0 0 1,0 6.8,0a3.4,3.0 0 1,0 -6.8,0M172,1050a3.2,2.7 0 1,0 6.5,0a3.2,2.7 0 1,0 -6.5,0M188,1247a3.2,2.5 0 1,0 6.4,0a3.2,2.5 0 1,0 -6.4,0M167,1215a2.8,2.7 0 1,0 5.5,0a2.8,2.7 0 1,0 -5.5,0M155,1214a3.3,2.3 0 1,0 6.7,0a3.3,2.3 0 1,0 -6.7,0M168,1227a2.4,1.7 0 1,0 4.8,0a2.4,1.7 0 1,0 -4.8,0M156,1239a3.1,3.0 0 1,0 6.3,0a3.1,3.0 0 1,0 -6.3,0M190,1211a2.5,2.4 0 1,0 5.0,0a2.5,2.4 0 1,0 -5.0,0M184,1039a3.4,3.0 0 1,0 6.9,0a3.4,3.0 0 1,0 -6.9,0M155,1361a2.9,2.6 0 1,0 5.8,0a2.9,2.6 0 1,0 -5.8,0M195,1088a3.4,3.4 0 1,0 6.8,0a3.4,3.4 0 1,0 -6.8,0M182,1219a2.4,2.2 0 1,0 4.8,0a2.4,2.2 0 1,0 -4.8,0M151,1241a2.5,1.8 0 1,0 5.0,0a2.5,1.8 0 1,0 -5.0,0M193,1331a2.5,2.3 0 1,0 5.1,0a2.5,2.3 0 1,0 -5.1,0M178,1150a3.5,3.1 0 1,0 7.0,0a3.5,3.1 0 1,0 -7.0,0M187,1363a3.3,3.0 0 1,0 6.6,0a3.3,3.0 0 1,0 -6.6,0M185,1354a3.0,2.6 0 1,0 6.1,0a3.0,2.6 0 1,0 -6.1,0M165,1206a2.7,1.9 0 1,0 5.3,0a2.7,1.9 0 1,0 -5.3,0M174,1040a3.7,2.6 0 1,0 7.3,0a3.7,2.6 0 1,0 -7.3,0M180,1212a2.7,2.1 0 1,0 5.4,0a2.7,2.1 0 1,0 -5.4,0M159,1302a3.3,3.1 0 1,0 6.6,0a3.3,3.1 0 1,0 -6.6,0M193,1140a2.5,1.9 0 1,0 4.9,0a2.5,1.9 0 1,0 -4.9,0M173,1267a2.9,2.9 0 1,0 5.9,0a2.9,2.9 0 1,0 -5.9,0M156,1264a3.2,2.9 0 1,0 6.3,0a3.2,2.9 0 1,0 -6.3,0M172,1180a2.5,2.1 0 1,0 5.0,0a2.5,2.1 0 1,0 -5.0,0M183,1162a2.7,2.2 0 1,0 5.3,0a2.7,2.2 0 1,0 -5.3,0M139,1305a2.5,1.8 0 1,0 4.9,0a2.5,1.8 0 1,0 -4.9,0M182,1259a3.1,2.7 0 1,0 6.2,0a3.1,2.7 0 1,0 -6.2,0M170,1305a2.6,1.9 0 1,0 5.3,0a2.6,1.9 0 1,0 -5.3,0M193,1170a3.4,3.0 0 1,0 6.9,0a3.4,3.0 0 1,0 -6.9,0M153,1282a3.1,2.6 0 1,0 6.2,0a3.1,2.6 0 1,0 -6.2,0M153,1312a2.6,2.3 0 1,0 5.2,0a2.6,2.3 0 1,0 -5.2,0M169,1352a3.1,2.9 0 1,0 6.1,0a3.1,2.9 0 1,0 -6.1,0M182,1358a2.5,2.1 0 1,0 5.0,0a2.5,2.1 0 1,0 -5.0,0M187,1186a2.5,1.8 0 1,0 5.1,0a2.5,1.8 0 1,0 -5.1,0M167,1032a3.6,2.6 0 1,0 7.1,0a3.6,2.6 0 1,0 -7.1,0M173,1107a3.3,2.7 0 1,0 6.5,0a3.3,2.7 0 1,0 -6.5,0M189,1031a2.7,1.9 0 1,0 5.3,0a2.7,1.9 0 1,0 -5.3,0M172,1058a3.0,2.3 0 1,0 6.0,0a3.0,2.3 0 1,0 -6.0,0M177,1125a2.9,2.6 0 1,0 5.7,0a2.9,2.6 0 1,0 -5.7,0M184,1244a3.0,2.2 0 1,0 5.9,0a3.0,2.2 0 1,0 -5.9,0M156,1231a3.5,2.7 0 1,0 7.0,0a3.5,2.7 0 1,0 -7.0,0M182,1265a2.7,2.1 0 1,0 5.4,0a2.7,2.1 0 1,0 -5.4,0M175,1098a3.2,2.4 0 1,0 6.4,0a3.2,2.4 0 1,0 -6.4,0M192,1077a3.4,2.6 0 1,0 6.7,0a3.4,2.6 0 1,0 -6.7,0M192,1254a3.4,2.4 0 1,0 6.8,0a3.4,2.4 0 1,0 -6.8,0M171,1287a3.2,2.8 0 1,0 6.4,0a3.2,2.8 0 1,0 -6.4,0M169,1317a3.1,2.5 0 1,0 6.1,0a3.1,2.5 0 1,0 -6.1,0" fill="#20207a"/>
<path d="M3,1039a3.5,2.7 0 1,0 6.9,0a3.5,2.7 0 1,0 -6.9,0M6,1225a2.7,2.1 0 1,0 5.4,0a2.7,2.1 0 1,0 -5.4,0M51,1033a3.1,3.1 0 1,0 6.2,0a3.1,3.1 0 1,0 -6.2,0M26,1253a3.6,3.6 0 1,0 7.2,0a3.6,3.6 0 1,0 -7.2,0M25,1230a2.6,1.9 0 1,0 5.3,0a2.6,1.9 0 1,0 -5.3,0M1,1134a2.7,2.2 0 1,0 5.4,0a2.7,2.2 0 1,0 -5.4,0M34,1162a3.5,2.5 0 1,0 7.0,0a3.5,2.5 0 1,0 -7.0,0M3,1289a2.9,2.3 0 1,0 5.9,0a2.9,2.3 0 1,0 -5.9,0M40,1072a3.1,3.0 0 1,0 6.2,0a3.1,3.0 0 1,0 -6.2,0M22,1101a3.2,2.8 0 1,0 6.3,0a3.2,2.8 0 1,0 -6.3,0M24,1268a2.7,2.2 0 1,0 5.5,0a2.7,2.2 0 1,0 -5.5,0M29,1058a2.7,1.9 0 1,0 5.3,0a2.7,1.9 0 1,0 -5.3,0M27,1079a2.7,2.2 0 1,0 5.4,0a2.7,2.2 0 1,0 -5.4,0M-2,1378a2.5,2.4 0 1,0 5.1,0a2.5,2.4 0 1,0 -5.1,0M9,1180a3.6,3.1 0 1,0 7.2,0a3.6,3.1 0 1,0 -7.2,0M61,1073a2.6,2.0 0 1,0 5.1,0a2.6,2.0 0 1,0 -5.1,0M17,1200a2.5,2.2 0 1,0 5.0,0a2.5,2.2 0 1,0 -5.0,0M3,1081a3.3,2.4 0 1,0 6.6,0a3.3,2.4 0 1,0 -6.6,0M53,1144a3.6,3.2 0 1,0 7.2,0a3.6,3.2 0 1,0 -7.2,0M51,1108a3.6,3.1 0 1,0 7.2,0a3.6,3.1 0 1,0 -7.2,0M6,1213a3.6,3.4 0 1,0 7.1,0a3.6,3.4 0 1,0 -7.1,0M56,1121a3.2,2.8 0 1,0 6.3,0a3.2,2.8 0 1,0 -6.3,0M38,1147a2.4,1.9 0 1,0 4.8,0a2.4,1.9 0 1,0 -4.8,0M32,1032a2.7,2.6 0 1,0 5.4,0a2.7,2.6 0 1,0 -5.4,0M5,1123a3.1,2.9 0 1,0 6.2,0a3.1,2.9 0 1,0 -6.2,0M24,1141a3.6,2.7 0 1,0 7.2,0a3.6,2.7 0 1,0 -7.2,0M7,1102a2.5,2.4 0 1,0 5.0,0a2.5,2.4 0 1,0 -5.0,0M-3,1204a3.4,3.4 0 1,0 6.9,0a3.4,3.4 0 1,0 -6.9,0M19,1226a3.6,3.2 0 1,0 7.1,0a3.6,3.2 0 1,0 -7.1,0M18,1344a2.8,2.1 0 1,0 5.6,0a2.8,2.1 0 1,0 -5.6,0M48,1052a3.5,3.2 0 1,0 7.1,0a3.5,3.2 0 1,0 -7.1,0M17,1333a3.5,3.2 0 1,0 7.0,0a3.5,3.2 0 1,0 -7.0,0M17,1103a3.0,2.8 0 1,0 5.9,0a3.0,2.8 0 1,0 -5.9,0M-1,1070a2.9,2.5 0 1,0 5.8,0a2.9,2.5 0 1,0 -5.8,0M42,1363a2.9,2.2 0 1,0 5.8,0a2.9,2.2 0 1,0 -5.8,0M10,1329a2.4,1.8 0 1,0 4.8,0a2.4,1.8 0 1,0 -4.8,0M34,1357a2.9,2.5 0 1,0 5.9,0a2.9,2.5 0 1,0 -5.9,0M19,1391a3.1,2.3 0 1,0 6.2,0a3.1,2.3 0 1,0 -6.2,0M19,1332a2.4,2.0 0 1,0 4.8,0a2.4,2.0 0 1,0 -4.8,0M12,1319a3.5,2.5 0 1,0 6.9,0a3.5,2.5 0 1,0 -6.9,0M6,1343a3.0,2.3 0 1,0 6.0,0a3.0,2.3 0 1,0 -6.0,0M41,1392a3.0,2.8 0 1,0 6.0,0a3.0,2.8 0 1,0 -6.0,0M43,1355a3.5,3.2 0 1,0 7.0,0a3.5,3.2 0 1,0 -7.0,0M15,1379a3.6,3.5 0 1,0 7.3,0a3.6,3.5 0 1,0 -7.3,0M24,1334a2.5,2.2 0 1,0 5.1,0a2.5,2.2 0 1,0 -5.1,0M12,1389a2.8,2.7 0 1,0 5.6,0a2.8,2.7 0 1,0 -5.6,0M158,1309a3.5,2.8 0 1,0 7.0,0a3.5,2.8 0 1,0 -7.0,0M181,1378a3.6,3.0 0 1,0 7.3,0a3.6,3.0 0 1,0 -7.3,0M179,1368a3.3,2.7 0 1,0 6.6,0a3.3,2.7 0 1,0 -6.6,0M181,1274a2.9,2.5 0 1,0 5.8,0a2.9,2.5 0 1,0 -5.8,0M195,1379a2.6,2.6 0 1,0 5.1,0a2.6,2.6 0 1,0 -5.1,0M149,1331a2.5,1.9 0 1,0 5.0,0a2.5,1.9 0 1,0 -5.0,0M153,1319a2.7,2.4 0 1,0 5.3,0a2.7,2.4 0 1,0 -5.3,0M192,1035a3.6,3.1 0 1,0 7.2,0a3.6,3.1 0 1,0 -7.2,0M162,1226a2.7,2.5 0 1,0 5.5,0a2.7,2.5 0 1,0 -5.5,0M171,1239a3.5,3.5 0 1,0 7.1,0a3.5,3.5 0 1,0 -7.1,0M173,1083a3.5,3.4 0 1,0 7.1,0a3.5,3.4 0 1,0 -7.1,0M191,1311a3.2,2.7 0 1,0 6.3,0a3.2,2.7 0 1,0 -6.3,0M146,1351a3.0,2.7 0 1,0 6.0,0a3.0,2.7 0 1,0 -6.0,0M179,1231a3.5,2.9 0 1,0 7.0,0a3.5,2.9 0 1,0 -7.0,0M190,1242a3.4,3.4 0 1,0 6.9,0a3.4,3.4 0 1,0 -6.9,0M168,1074a2.5,2.3 0 1,0 5.0,0a2.5,2.3 0 1,0 -5.0,0M149,1218a3.1,2.9 0 1,0 6.2,0a3.1,2.9 0 1,0 -6.2,0M162,1330a3.3,2.7 0 1,0 6.6,0a3.3,2.7 0 1,0 -6.6,0M180,1032a3.1,2.6 0 1,0 6.2,0a3.1,2.6 0 1,0 -6.2,0M165,1233a2.4,2.1 0 1,0 4.8,0a2.4,2.1 0 1,0 -4.8,0M190,1275a3.3,2.6 0 1,0 6.6,0a3.3,2.6 0 1,0 -6.6,0M185,1049a3.1,2.9 0 1,0 6.3,0a3.1,2.9 0 1,0 -6.3,0M147,1324a3.2,3.0 0 1,0 6.4,0a3.2,3.0 0 1,0 -6.4,0M182,1132a2.7,2.1 0 1,0 5.4,0a2.7,2.1 0 1,0 -5.4,0M167,1191a2.6,2.2 0 1,0 5.2,0a2.6,2.2 0 1,0 -5.2,0M159,1324a2.6,2.3 0 1,0 5.3,0a2.6,2.3 0 1,0 -5.3,0M194,1162a2.6,2.1 0 1,0 5.1,0a2.6,2.1 0 1,0 -5.1,0M149,1265a3.6,2.6 0 1,0 7.2,0a3.6,2.6 0 1,0 -7.2,0M187,1370a2.9,2.4 0 1,0 5.9,0a2.9,2.4 0 1,0 -5.9,0M177,1300a3.1,2.3 0 1,0 6.1,0a3.1,2.3 0 1,0 -6.1,0M196,1294a3.5,3.5 0 1,0 7.0,0a3.5,3.5 0 1,0 -7.0,0M190,1270a3.5,3.2 0 1,0 7.0,0a3.5,3.2 0 1,0 -7.0,0M175,1034a2.8,2.4 0 1,0 5.5,0a2.8,2.4 0 1,0 -5.5,0M175,1231a2.7,2.5 0 1,0 5.3,0a2.7,2.5 0 1,0 -5.3,0M187,1121a2.5,1.9 0 1,0 5.0,0a2.5,1.9 0 1,0 -5.0,0M184,1208a2.5,2.1 0 1,0 4.9,0a2.5,2.1 0 1,0 -4.9,0M162,1383a3.2,2.5 0 1,0 6.5,0a3.2,2.5 0 1,0 -6.5,0" fill="#3a3088"/>
<ellipse cx="135" cy="1107" rx="2.2" ry="4.5" transform="rotate(20 135 1107)" fill="#5a3010" stroke="#b07040" stroke-width="1.2"/>
<ellipse cx="114" cy="1102" rx="2.2" ry="4.5" transform="rotate(0 114 1102)" fill="#5a3010" stroke="#b07040" stroke-width="1.2"/>
<ellipse cx="88" cy="1250" rx="2.2" ry="4.5" transform="rotate(0 88 1250)" fill="#5a3010" stroke="#b07040" stroke-width="1.2"/>
<ellipse cx="52" cy="1335" rx="2.2" ry="4.5" transform="rotate(0 52 1335)" fill="#5a3010" stroke="#b07040" stroke-width="1.2"/>
<ellipse cx="105" cy="1360" rx="2.2" ry="4.5" transform="rotate(10 105 1360)" fill="#5a3010" stroke="#b07040" stroke-width="1.2"/>
</g>
<rect x="2.6" y="1033.5" width="194.6" height="357.9" fill="none" stroke="#000" stroke-width="2.2"/>
<clipPath id="iclip1"><rect x="206.9" y="1033.5" width="207.1" height="357.9"/></clipPath>
<g clip-path="url(#iclip1)">
<rect x="206.9" y="1033.5" width="207.1" height="357.9" fill="#dcdce4"/>
<path d="M255.0,1034.0 C280.8,1023.0 373.8,1024.7 400.0,1034.0 C426.2,1043.3 423.7,1074.0 412.0,1090.0 C400.3,1106.0 345.0,1111.7 330.0,1130.0 C315.0,1148.3 319.5,1177.5 322.0,1200.0 C324.5,1222.5 334.5,1245.0 345.0,1265.0 C355.5,1285.0 379.2,1298.8 385.0,1320.0 C390.8,1341.2 395.8,1380.0 380.0,1392.0 C364.2,1404.0 309.7,1407.3 290.0,1392.0 C270.3,1376.7 268.7,1332.0 262.0,1300.0 C255.3,1268.0 252.8,1233.3 250.0,1200.0 C247.2,1166.7 244.2,1127.7 245.0,1100.0 C245.8,1072.3 229.2,1045.0 255.0,1034.0Z" fill="#cdc9da"/>
<path d="M205.0,1030.0 C212.8,969.7 243.8,1021.7 252.0,1030.0 C260.2,1038.3 255.0,1063.3 254.0,1080.0 C253.0,1096.7 246.3,1113.3 246.0,1130.0 C245.7,1146.7 248.0,1165.5 252.0,1180.0 C256.0,1194.5 268.3,1204.5 270.0,1217.0 C271.7,1229.5 261.2,1240.3 262.0,1255.0 C262.8,1269.7 270.7,1282.2 275.0,1305.0 C279.3,1327.8 299.7,1377.5 288.0,1392.0 C276.3,1406.5 218.8,1452.3 205.0,1392.0 C191.2,1331.7 197.2,1090.3 205.0,1030.0Z" fill="#d8d4e0" opacity="0.6"/>
<path d="M332.0,1205.0 C346.0,1196.7 402.0,1188.3 416.0,1205.0 C430.0,1221.7 420.7,1286.2 416.0,1305.0 C411.3,1323.8 399.0,1320.2 388.0,1318.0 C377.0,1315.8 359.3,1302.5 350.0,1292.0 C340.7,1281.5 335.0,1269.5 332.0,1255.0 C329.0,1240.5 318.0,1213.3 332.0,1205.0Z" fill="#d8d4e0" opacity="0.6"/>
<path d="M400.0,1140.0 C402.7,1135.0 413.3,1133.3 416.0,1140.0 C418.7,1146.7 418.7,1175.0 416.0,1180.0 C413.3,1185.0 402.7,1176.7 400.0,1170.0 C397.3,1163.3 397.3,1145.0 400.0,1140.0Z" fill="#d8d4e0" opacity="0.6"/>
<path d="M322.0,1138.0 C322.2,1149.2 318.3,1183.3 323.0,1205.0 C327.7,1226.7 340.2,1247.2 350.0,1268.0 C359.8,1288.8 377.7,1309.3 382.0,1330.0 C386.3,1350.7 377.0,1381.7 376.0,1392.0" fill="none" stroke="#a86a40" stroke-width="2.0" stroke-linecap="round" opacity="0.9"/>
<path d="M262.0,1034.0 C261.3,1053.3 256.7,1112.3 258.0,1150.0 C259.3,1187.7 263.7,1219.7 270.0,1260.0 C276.3,1300.3 291.7,1370.0 296.0,1392.0" fill="none" stroke="#c09070" stroke-width="1.4" stroke-linecap="round" opacity="0.9"/>
<path d="M204,1392a2.6,2.5 0 1,0 5.3,0a2.6,2.5 0 1,0 -5.3,0M218,1048a2.4,2.2 0 1,0 4.8,0a2.4,2.2 0 1,0 -4.8,0M229,1159a3.4,2.8 0 1,0 6.7,0a3.4,2.8 0 1,0 -6.7,0M232,1314a2.4,2.2 0 1,0 4.7,0a2.4,2.2 0 1,0 -4.7,0M243,1260a3.5,2.5 0 1,0 7.1,0a3.5,2.5 0 1,0 -7.1,0M216,1281a3.0,2.4 0 1,0 5.9,0a3.0,2.4 0 1,0 -5.9,0M219,1155a2.9,2.5 0 1,0 5.8,0a2.9,2.5 0 1,0 -5.8,0M206,1167a2.6,2.1 0 1,0 5.1,0a2.6,2.1 0 1,0 -5.1,0M258,1288a3.1,3.1 0 1,0 6.2,0a3.1,3.1 0 1,0 -6.2,0M207,1075a2.6,2.5 0 1,0 5.3,0a2.6,2.5 0 1,0 -5.3,0M230,1186a2.9,2.1 0 1,0 5.8,0a2.9,2.1 0 1,0 -5.8,0M219,1086a3.7,2.9 0 1,0 7.4,0a3.7,2.9 0 1,0 -7.4,0M248,1212a2.8,2.7 0 1,0 5.6,0a2.8,2.7 0 1,0 -5.6,0M222,1186a2.7,1.9 0 1,0 5.5,0a2.7,1.9 0 1,0 -5.5,0M248,1278a2.6,1.9 0 1,0 5.1,0a2.6,1.9 0 1,0 -5.1,0M206,1062a3.4,2.5 0 1,0 6.8,0a3.4,2.5 0 1,0 -6.8,0M228,1355a2.3,2.0 0 1,0 4.6,0a2.3,2.0 0 1,0 -4.6,0M209,1279a3.6,3.3 0 1,0 7.2,0a3.6,3.3 0 1,0 -7.2,0M243,1222a3.6,2.8 0 1,0 7.3,0a3.6,2.8 0 1,0 -7.3,0M217,1360a3.2,3.0 0 1,0 6.4,0a3.2,3.0 0 1,0 -6.4,0M228,1386a2.6,2.3 0 1,0 5.3,0a2.6,2.3 0 1,0 -5.3,0M260,1234a2.9,2.2 0 1,0 5.7,0a2.9,2.2 0 1,0 -5.7,0M221,1325a3.2,3.1 0 1,0 6.5,0a3.2,3.1 0 1,0 -6.5,0M232,1270a3.1,2.9 0 1,0 6.1,0a3.1,2.9 0 1,0 -6.1,0M239,1296a2.3,2.0 0 1,0 4.7,0a2.3,2.0 0 1,0 -4.7,0M263,1343a3.6,3.0 0 1,0 7.3,0a3.6,3.0 0 1,0 -7.3,0M268,1334a3.5,3.0 0 1,0 7.0,0a3.5,3.0 0 1,0 -7.0,0M253,1325a3.2,2.4 0 1,0 6.3,0a3.2,2.4 0 1,0 -6.3,0M234,1354a2.8,2.1 0 1,0 5.5,0a2.8,2.1 0 1,0 -5.5,0M225,1169a2.3,1.7 0 1,0 4.6,0a2.3,1.7 0 1,0 -4.6,0M278,1382a3.6,2.9 0 1,0 7.2,0a3.6,2.9 0 1,0 -7.2,0M205,1109a2.7,2.3 0 1,0 5.3,0a2.7,2.3 0 1,0 -5.3,0M272,1354a3.2,3.1 0 1,0 6.5,0a3.2,3.1 0 1,0 -6.5,0M213,1103a2.9,2.4 0 1,0 5.8,0a2.9,2.4 0 1,0 -5.8,0M203,1121a3.5,3.5 0 1,0 7.1,0a3.5,3.5 0 1,0 -7.1,0M228,1128a3.6,3.5 0 1,0 7.1,0a3.6,3.5 0 1,0 -7.1,0M232,1195a3.5,3.4 0 1,0 7.0,0a3.5,3.4 0 1,0 -7.0,0M213,1124a3.7,3.4 0 1,0 7.4,0a3.7,3.4 0 1,0 -7.4,0M210,1221a3.4,2.7 0 1,0 6.8,0a3.4,2.7 0 1,0 -6.8,0M232,1032a2.6,2.5 0 1,0 5.2,0a2.6,2.5 0 1,0 -5.2,0M222,1265a2.3,2.3 0 1,0 4.6,0a2.3,2.3 0 1,0 -4.6,0M203,1382a3.6,3.5 0 1,0 7.2,0a3.6,3.5 0 1,0 -7.2,0M241,1228a3.4,2.8 0 1,0 6.8,0a3.4,2.8 0 1,0 -6.8,0M207,1300a2.5,1.9 0 1,0 5.1,0a2.5,1.9 0 1,0 -5.1,0M218,1388a3.2,2.9 0 1,0 6.3,0a3.2,2.9 0 1,0 -6.3,0M226,1257a2.3,1.7 0 1,0 4.7,0a2.3,1.7 0 1,0 -4.7,0M238,1130a2.8,2.5 0 1,0 5.6,0a2.8,2.5 0 1,0 -5.6,0M233,1225a2.3,2.2 0 1,0 4.7,0a2.3,2.2 0 1,0 -4.7,0M246,1193a2.9,2.7 0 1,0 5.8,0a2.9,2.7 0 1,0 -5.8,0M212,1171a3.1,2.2 0 1,0 6.1,0a3.1,2.2 0 1,0 -6.1,0M249,1082a3.4,3.0 0 1,0 6.7,0a3.4,3.0 0 1,0 -6.7,0M209,1385a3.5,2.9 0 1,0 7.0,0a3.5,2.9 0 1,0 -7.0,0M252,1217a2.7,2.4 0 1,0 5.4,0a2.7,2.4 0 1,0 -5.4,0M235,1382a3.5,3.3 0 1,0 7.0,0a3.5,3.3 0 1,0 -7.0,0M244,1103a3.0,2.5 0 1,0 5.9,0a3.0,2.5 0 1,0 -5.9,0M274,1360a3.5,3.0 0 1,0 7.0,0a3.5,3.0 0 1,0 -7.0,0M233,1284a3.3,3.1 0 1,0 6.5,0a3.3,3.1 0 1,0 -6.5,0M240,1088a2.5,2.1 0 1,0 5.0,0a2.5,2.1 0 1,0 -5.0,0M231,1139a3.0,2.4 0 1,0 6.0,0a3.0,2.4 0 1,0 -6.0,0M239,1313a3.7,2.8 0 1,0 7.3,0a3.7,2.8 0 1,0 -7.3,0M241,1059a2.8,2.1 0 1,0 5.6,0a2.8,2.1 0 1,0 -5.6,0M411,1260a2.8,2.1 0 1,0 5.6,0a2.8,2.1 0 1,0 -5.6,0M364,1228a3.3,2.9 0 1,0 6.6,0a3.3,2.9 0 1,0 -6.6,0M403,1237a3.5,3.5 0 1,0 7.0,0a3.5,3.5 0 1,0 -7.0,0M329,1239a3.1,3.0 0 1,0 6.1,0a3.1,3.0 0 1,0 -6.1,0M350,1214a2.6,2.0 0 1,0 5.2,0a2.6,2.0 0 1,0 -5.2,0M401,1218a2.8,2.2 0 1,0 5.5,0a2.8,2.2 0 1,0 -5.5,0M409,1224a2.5,1.9 0 1,0 5.1,0a2.5,1.9 0 1,0 -5.1,0M411,1295a2.5,1.9 0 1,0 4.9,0a2.5,1.9 0 1,0 -4.9,0M371,1214a2.4,2.2 0 1,0 4.8,0a2.4,2.2 0 1,0 -4.8,0M400,1228a3.6,3.5 0 1,0 7.2,0a3.6,3.5 0 1,0 -7.2,0M408,1247a3.2,2.7 0 1,0 6.3,0a3.2,2.7 0 1,0 -6.3,0M360,1248a3.0,2.1 0 1,0 5.9,0a3.0,2.1 0 1,0 -5.9,0M353,1260a2.8,2.3 0 1,0 5.5,0a2.8,2.3 0 1,0 -5.5,0M373,1273a2.8,2.2 0 1,0 5.7,0a2.8,2.2 0 1,0 -5.7,0M390,1264a3.5,3.5 0 1,0 7.0,0a3.5,3.5 0 1,0 -7.0,0M386,1214a2.7,2.6 0 1,0 5.3,0a2.7,2.6 0 1,0 -5.3,0M399,1283a3.5,2.8 0 1,0 7.0,0a3.5,2.8 0 1,0 -7.0,0M378,1228a2.7,2.0 0 1,0 5.4,0a2.7,2.0 0 1,0 -5.4,0M413,1209a2.5,2.0 0 1,0 5.1,0a2.5,2.0 0 1,0 -5.1,0M363,1217a3.1,2.8 0 1,0 6.2,0a3.1,2.8 0 1,0 -6.2,0M358,1299a2.5,2.1 0 1,0 4.9,0a2.5,2.1 0 1,0 -4.9,0M402,1245a2.4,2.2 0 1,0 4.8,0a2.4,2.2 0 1,0 -4.8,0M406,1308a2.7,1.9 0 1,0 5.3,0a2.7,1.9 0 1,0 -5.3,0M410,1284a3.6,2.9 0 1,0 7.2,0a3.6,2.9 0 1,0 -7.2,0M405,1232a3.6,3.5 0 1,0 7.2,0a3.6,3.5 0 1,0 -7.2,0M354,1222a2.5,2.0 0 1,0 5.0,0a2.5,2.0 0 1,0 -5.0,0M399,1161a3.6,3.5 0 1,0 7.3,0a3.6,3.5 0 1,0 -7.3,0M405,1152a3.4,2.6 0 1,0 6.8,0a3.4,2.6 0 1,0 -6.8,0" fill="#2c2c96"/>
<path d="M212,1266a2.6,2.3 0 1,0 5.2,0a2.6,2.3 0 1,0 -5.2,0M228,1099a2.9,2.5 0 1,0 5.8,0a2.9,2.5 0 1,0 -5.8,0M245,1242a3.6,3.2 0 1,0 7.1,0a3.6,3.2 0 1,0 -7.1,0M240,1120a3.6,2.9 0 1,0 7.2,0a3.6,2.9 0 1,0 -7.2,0M221,1224a3.0,3.0 0 1,0 6.1,0a3.0,3.0 0 1,0 -6.1,0M217,1321a2.9,2.4 0 1,0 5.8,0a2.9,2.4 0 1,0 -5.8,0M208,1095a2.6,2.3 0 1,0 5.2,0a2.6,2.3 0 1,0 -5.2,0M225,1116a3.3,2.7 0 1,0 6.6,0a3.3,2.7 0 1,0 -6.6,0M245,1109a2.6,2.3 0 1,0 5.2,0a2.6,2.3 0 1,0 -5.2,0M211,1204a3.3,2.3 0 1,0 6.6,0a3.3,2.3 0 1,0 -6.6,0M208,1086a3.4,3.0 0 1,0 6.7,0a3.4,3.0 0 1,0 -6.7,0M213,1165a2.5,2.1 0 1,0 5.0,0a2.5,2.1 0 1,0 -5.0,0M224,1033a2.7,2.3 0 1,0 5.3,0a2.7,2.3 0 1,0 -5.3,0M251,1070a2.4,2.0 0 1,0 4.9,0a2.4,2.0 0 1,0 -4.9,0M213,1216a3.6,2.8 0 1,0 7.3,0a3.6,2.8 0 1,0 -7.3,0M213,1246a2.8,2.0 0 1,0 5.7,0a2.8,2.0 0 1,0 -5.7,0M245,1077a2.8,2.6 0 1,0 5.5,0a2.8,2.6 0 1,0 -5.5,0M264,1222a2.8,2.4 0 1,0 5.7,0a2.8,2.4 0 1,0 -5.7,0M242,1267a2.8,2.2 0 1,0 5.6,0a2.8,2.2 0 1,0 -5.6,0M217,1270a3.7,2.7 0 1,0 7.4,0a3.7,2.7 0 1,0 -7.4,0M211,1184a2.4,1.9 0 1,0 4.7,0a2.4,1.9 0 1,0 -4.7,0M227,1192a3.1,2.5 0 1,0 6.3,0a3.1,2.5 0 1,0 -6.3,0M215,1339a2.5,2.1 0 1,0 5.0,0a2.5,2.1 0 1,0 -5.0,0M202,1276a3.4,2.6 0 1,0 6.8,0a3.4,2.6 0 1,0 -6.8,0M204,1283a2.9,2.5 0 1,0 5.8,0a2.9,2.5 0 1,0 -5.8,0M220,1286a3.7,2.8 0 1,0 7.4,0a3.7,2.8 0 1,0 -7.4,0M212,1043a2.8,2.0 0 1,0 5.5,0a2.8,2.0 0 1,0 -5.5,0M217,1149a2.5,2.0 0 1,0 4.9,0a2.5,2.0 0 1,0 -4.9,0M232,1078a2.8,2.7 0 1,0 5.6,0a2.8,2.7 0 1,0 -5.6,0M206,1129a3.4,2.5 0 1,0 6.9,0a3.4,2.5 0 1,0 -6.9,0M284,1388a3.0,2.7 0 1,0 5.9,0a3.0,2.7 0 1,0 -5.9,0M238,1375a3.4,2.5 0 1,0 6.9,0a3.4,2.5 0 1,0 -6.9,0M223,1129a3.4,3.4 0 1,0 6.9,0a3.4,3.4 0 1,0 -6.9,0M214,1304a2.6,1.9 0 1,0 5.2,0a2.6,1.9 0 1,0 -5.2,0M242,1069a2.4,2.3 0 1,0 4.9,0a2.4,2.3 0 1,0 -4.9,0M215,1234a2.4,2.4 0 1,0 4.8,0a2.4,2.4 0 1,0 -4.8,0M243,1168a2.6,2.5 0 1,0 5.1,0a2.6,2.5 0 1,0 -5.1,0M221,1331a3.5,2.9 0 1,0 7.0,0a3.5,2.9 0 1,0 -7.0,0M265,1228a2.8,2.6 0 1,0 5.7,0a2.8,2.6 0 1,0 -5.7,0M210,1369a3.1,2.4 0 1,0 6.2,0a3.1,2.4 0 1,0 -6.2,0M239,1253a3.3,2.5 0 1,0 6.7,0a3.3,2.5 0 1,0 -6.7,0M206,1335a2.7,2.0 0 1,0 5.4,0a2.7,2.0 0 1,0 -5.4,0M222,1102a3.1,2.3 0 1,0 6.3,0a3.1,2.3 0 1,0 -6.3,0M203,1070a2.5,2.1 0 1,0 5.0,0a2.5,2.1 0 1,0 -5.0,0M251,1357a2.7,2.0 0 1,0 5.4,0a2.7,2.0 0 1,0 -5.4,0M242,1185a2.4,2.0 0 1,0 4.7,0a2.4,2.0 0 1,0 -4.7,0M234,1247a3.5,2.9 0 1,0 7.0,0a3.5,2.9 0 1,0 -7.0,0M254,1232a3.5,3.0 0 1,0 7.0,0a3.5,3.0 0 1,0 -7.0,0M244,1033a3.5,3.0 0 1,0 6.9,0a3.5,3.0 0 1,0 -6.9,0M245,1063a3.4,3.4 0 1,0 6.9,0a3.4,3.4 0 1,0 -6.9,0M274,1330a2.9,2.8 0 1,0 5.8,0a2.9,2.8 0 1,0 -5.8,0M241,1245a3.0,2.8 0 1,0 6.0,0a3.0,2.8 0 1,0 -6.0,0M252,1311a3.3,3.1 0 1,0 6.7,0a3.3,3.1 0 1,0 -6.7,0M212,1193a2.4,1.7 0 1,0 4.7,0a2.4,1.7 0 1,0 -4.7,0M249,1197a3.5,2.5 0 1,0 7.0,0a3.5,2.5 0 1,0 -7.0,0M219,1043a2.5,2.3 0 1,0 4.9,0a2.5,2.3 0 1,0 -4.9,0M230,1174a3.3,2.4 0 1,0 6.6,0a3.3,2.4 0 1,0 -6.6,0M224,1350a2.9,2.8 0 1,0 5.7,0a2.9,2.8 0 1,0 -5.7,0M229,1221a3.1,2.4 0 1,0 6.1,0a3.1,2.4 0 1,0 -6.1,0M202,1079a3.2,3.0 0 1,0 6.4,0a3.2,3.0 0 1,0 -6.4,0M237,1274a3.2,2.7 0 1,0 6.4,0a3.2,2.7 0 1,0 -6.4,0M234,1339a3.4,2.5 0 1,0 6.9,0a3.4,2.5 0 1,0 -6.9,0M204,1292a2.4,1.7 0 1,0 4.8,0a2.4,1.7 0 1,0 -4.8,0M268,1368a2.9,2.3 0 1,0 5.8,0a2.9,2.3 0 1,0 -5.8,0M239,1262a2.7,2.5 0 1,0 5.3,0a2.7,2.5 0 1,0 -5.3,0M256,1262a3.2,3.2 0 1,0 6.5,0a3.2,3.2 0 1,0 -6.5,0M233,1277a3.5,2.5 0 1,0 7.0,0a3.5,2.5 0 1,0 -7.0,0M257,1238a3.1,2.7 0 1,0 6.2,0a3.1,2.7 0 1,0 -6.2,0M248,1092a3.2,3.0 0 1,0 6.4,0a3.2,3.0 0 1,0 -6.4,0M227,1058a2.5,2.3 0 1,0 5.1,0a2.5,2.3 0 1,0 -5.1,0M209,1321a2.6,2.3 0 1,0 5.2,0a2.6,2.3 0 1,0 -5.2,0M239,1351a2.5,2.4 0 1,0 4.9,0a2.5,2.4 0 1,0 -4.9,0M279,1354a2.8,2.0 0 1,0 5.6,0a2.8,2.0 0 1,0 -5.6,0M352,1235a3.5,2.7 0 1,0 7.1,0a3.5,2.7 0 1,0 -7.1,0M412,1290a3.7,3.3 0 1,0 7.3,0a3.7,3.3 0 1,0 -7.3,0M362,1282a3.1,3.0 0 1,0 6.2,0a3.1,3.0 0 1,0 -6.2,0M356,1230a2.5,2.2 0 1,0 4.9,0a2.5,2.2 0 1,0 -4.9,0M378,1310a3.5,3.4 0 1,0 7.0,0a3.5,3.4 0 1,0 -7.0,0M350,1271a2.6,2.5 0 1,0 5.1,0a2.6,2.5 0 1,0 -5.1,0M345,1235a3.6,3.3 0 1,0 7.2,0a3.6,3.3 0 1,0 -7.2,0M395,1255a2.3,2.3 0 1,0 4.6,0a2.3,2.3 0 1,0 -4.6,0M387,1229a3.7,3.2 0 1,0 7.4,0a3.7,3.2 0 1,0 -7.4,0M354,1242a2.6,2.3 0 1,0 5.1,0a2.6,2.3 0 1,0 -5.1,0M382,1208a3.2,2.9 0 1,0 6.4,0a3.2,2.9 0 1,0 -6.4,0M384,1279a3.1,3.0 0 1,0 6.3,0a3.1,3.0 0 1,0 -6.3,0M338,1226a2.8,2.3 0 1,0 5.6,0a2.8,2.3 0 1,0 -5.6,0M355,1266a3.0,2.9 0 1,0 6.0,0a3.0,2.9 0 1,0 -6.0,0M371,1207a3.2,2.5 0 1,0 6.5,0a3.2,2.5 0 1,0 -6.5,0M408,1269a3.7,3.4 0 1,0 7.3,0a3.7,3.4 0 1,0 -7.3,0M388,1315a2.8,2.0 0 1,0 5.6,0a2.8,2.0 0 1,0 -5.6,0M373,1240a2.6,2.0 0 1,0 5.2,0a2.6,2.0 0 1,0 -5.2,0M398,1273a2.7,2.3 0 1,0 5.5,0a2.7,2.3 0 1,0 -5.5,0M366,1299a2.6,2.6 0 1,0 5.3,0a2.6,2.6 0 1,0 -5.3,0M336,1214a3.5,3.3 0 1,0 7.0,0a3.5,3.3 0 1,0 -7.0,0M359,1205a2.8,2.1 0 1,0 5.6,0a2.8,2.1 0 1,0 -5.6,0M378,1214a3.7,3.0 0 1,0 7.3,0a3.7,3.0 0 1,0 -7.3,0M384,1310a3.3,2.7 0 1,0 6.7,0a3.3,2.7 0 1,0 -6.7,0M366,1273a3.5,2.8 0 1,0 7.0,0a3.5,2.8 0 1,0 -7.0,0M397,1148a3.0,2.9 0 1,0 6.0,0a3.0,2.9 0 1,0 -6.0,0" fill="#3a3088"/>
<path d="M252,1367a2.8,2.5 0 1,0 5.5,0a2.8,2.5 0 1,0 -5.5,0M266,1376a3.5,2.8 0 1,0 7.0,0a3.5,2.8 0 1,0 -7.0,0M258,1221a3.0,2.4 0 1,0 6.0,0a3.0,2.4 0 1,0 -6.0,0M231,1073a3.6,3.3 0 1,0 7.2,0a3.6,3.3 0 1,0 -7.2,0M205,1104a2.6,2.2 0 1,0 5.3,0a2.6,2.2 0 1,0 -5.3,0M215,1352a2.8,2.0 0 1,0 5.6,0a2.8,2.0 0 1,0 -5.6,0M207,1211a2.6,2.3 0 1,0 5.3,0a2.6,2.3 0 1,0 -5.3,0M218,1131a2.9,2.4 0 1,0 5.8,0a2.9,2.4 0 1,0 -5.8,0M204,1373a2.9,2.5 0 1,0 5.8,0a2.9,2.5 0 1,0 -5.8,0M269,1329a3.0,2.5 0 1,0 6.1,0a3.0,2.5 0 1,0 -6.1,0M254,1298a3.1,3.0 0 1,0 6.1,0a3.1,3.0 0 1,0 -6.1,0M238,1150a3.7,2.7 0 1,0 7.3,0a3.7,2.7 0 1,0 -7.3,0M233,1045a2.9,2.3 0 1,0 5.7,0a2.9,2.3 0 1,0 -5.7,0M250,1248a2.4,2.0 0 1,0 4.8,0a2.4,2.0 0 1,0 -4.8,0M242,1094a2.8,2.6 0 1,0 5.6,0a2.8,2.6 0 1,0 -5.6,0M206,1154a2.6,2.3 0 1,0 5.2,0a2.6,2.3 0 1,0 -5.2,0M245,1357a2.6,2.3 0 1,0 5.2,0a2.6,2.3 0 1,0 -5.2,0M205,1326a3.2,2.4 0 1,0 6.5,0a3.2,2.4 0 1,0 -6.5,0M261,1278a3.6,3.0 0 1,0 7.2,0a3.6,3.0 0 1,0 -7.2,0M243,1198a2.9,2.1 0 1,0 5.8,0a2.9,2.1 0 1,0 -5.8,0M259,1214a3.3,2.5 0 1,0 6.6,0a3.3,2.5 0 1,0 -6.6,0M210,1137a2.9,2.4 0 1,0 5.8,0a2.9,2.4 0 1,0 -5.8,0M262,1305a2.9,2.7 0 1,0 5.8,0a2.9,2.7 0 1,0 -5.8,0M241,1048a2.9,2.4 0 1,0 5.7,0a2.9,2.4 0 1,0 -5.7,0M220,1108a2.8,2.0 0 1,0 5.5,0a2.8,2.0 0 1,0 -5.5,0M238,1107a3.7,2.7 0 1,0 7.3,0a3.7,2.7 0 1,0 -7.3,0M212,1257a3.2,2.9 0 1,0 6.4,0a3.2,2.9 0 1,0 -6.4,0M219,1259a2.6,2.4 0 1,0 5.2,0a2.6,2.4 0 1,0 -5.2,0M227,1267a2.9,2.1 0 1,0 5.9,0a2.9,2.1 0 1,0 -5.9,0M228,1330a3.0,2.4 0 1,0 6.1,0a3.0,2.4 0 1,0 -6.1,0M248,1329a2.5,1.8 0 1,0 4.9,0a2.5,1.8 0 1,0 -4.9,0M239,1158a2.4,2.3 0 1,0 4.8,0a2.4,2.3 0 1,0 -4.8,0M262,1266a2.3,2.2 0 1,0 4.6,0a2.3,2.2 0 1,0 -4.6,0M216,1252a3.3,2.7 0 1,0 6.7,0a3.3,2.7 0 1,0 -6.7,0M257,1365a3.3,2.6 0 1,0 6.5,0a3.3,2.6 0 1,0 -6.5,0M232,1294a2.8,2.5 0 1,0 5.6,0a2.8,2.5 0 1,0 -5.6,0M223,1391a3.5,3.5 0 1,0 7.1,0a3.5,3.5 0 1,0 -7.1,0M253,1375a2.6,1.9 0 1,0 5.2,0a2.6,1.9 0 1,0 -5.2,0M239,1037a3.0,3.0 0 1,0 6.0,0a3.0,3.0 0 1,0 -6.0,0M205,1310a2.5,1.9 0 1,0 5.0,0a2.5,1.9 0 1,0 -5.0,0M234,1255a2.5,1.7 0 1,0 5.0,0a2.5,1.7 0 1,0 -5.0,0M221,1198a3.2,2.5 0 1,0 6.5,0a3.2,2.5 0 1,0 -6.5,0M245,1342a3.2,2.4 0 1,0 6.4,0a3.2,2.4 0 1,0 -6.4,0M270,1363a3.0,2.2 0 1,0 6.0,0a3.0,2.2 0 1,0 -6.0,0M262,1242a2.4,2.3 0 1,0 4.9,0a2.4,2.3 0 1,0 -4.9,0M220,1381a2.9,2.8 0 1,0 5.8,0a2.9,2.8 0 1,0 -5.8,0M242,1042a3.2,2.3 0 1,0 6.3,0a3.2,2.3 0 1,0 -6.3,0M244,1154a2.3,2.0 0 1,0 4.6,0a2.3,2.0 0 1,0 -4.6,0M213,1143a2.4,1.8 0 1,0 4.8,0a2.4,1.8 0 1,0 -4.8,0M236,1091a2.4,1.7 0 1,0 4.8,0a2.4,1.7 0 1,0 -4.8,0M212,1391a3.1,2.6 0 1,0 6.1,0a3.1,2.6 0 1,0 -6.1,0M230,1380a2.7,2.3 0 1,0 5.4,0a2.7,2.3 0 1,0 -5.4,0M213,1129a2.5,2.5 0 1,0 5.1,0a2.5,2.5 0 1,0 -5.1,0M240,1238a3.4,3.4 0 1,0 6.8,0a3.4,3.4 0 1,0 -6.8,0M202,1089a3.2,2.5 0 1,0 6.5,0a3.2,2.5 0 1,0 -6.5,0M211,1158a3.4,3.2 0 1,0 6.8,0a3.4,3.2 0 1,0 -6.8,0M219,1117a3.4,3.0 0 1,0 6.8,0a3.4,3.0 0 1,0 -6.8,0M227,1136a3.1,2.5 0 1,0 6.2,0a3.1,2.5 0 1,0 -6.2,0M217,1163a3.6,2.8 0 1,0 7.2,0a3.6,2.8 0 1,0 -7.2,0M226,1123a2.7,1.9 0 1,0 5.5,0a2.7,1.9 0 1,0 -5.5,0M243,1296a3.4,2.9 0 1,0 6.7,0a3.4,2.9 0 1,0 -6.7,0M228,1237a3.4,2.4 0 1,0 6.8,0a3.4,2.4 0 1,0 -6.8,0M210,1117a2.8,2.8 0 1,0 5.6,0a2.8,2.8 0 1,0 -5.6,0M228,1151a3.3,2.6 0 1,0 6.5,0a3.3,2.6 0 1,0 -6.5,0M220,1080a3.3,3.1 0 1,0 6.6,0a3.3,3.1 0 1,0 -6.6,0M203,1031a2.8,2.3 0 1,0 5.6,0a2.8,2.3 0 1,0 -5.6,0M217,1241a2.7,2.6 0 1,0 5.5,0a2.7,2.6 0 1,0 -5.5,0M203,1305a2.4,2.4 0 1,0 4.9,0a2.4,2.4 0 1,0 -4.9,0M258,1309a3.2,2.5 0 1,0 6.4,0a3.2,2.5 0 1,0 -6.4,0M222,1181a3.4,2.7 0 1,0 6.7,0a3.4,2.7 0 1,0 -6.7,0M218,1099a3.1,2.8 0 1,0 6.2,0a3.1,2.8 0 1,0 -6.2,0M203,1206a3.4,2.4 0 1,0 6.8,0a3.4,2.4 0 1,0 -6.8,0M237,1324a3.4,3.4 0 1,0 6.9,0a3.4,3.4 0 1,0 -6.9,0M259,1385a3.1,2.9 0 1,0 6.2,0a3.1,2.9 0 1,0 -6.2,0M212,1210a3.2,3.1 0 1,0 6.4,0a3.2,3.1 0 1,0 -6.4,0M230,1230a3.1,2.6 0 1,0 6.2,0a3.1,2.6 0 1,0 -6.2,0M239,1054a3.0,2.6 0 1,0 6.0,0a3.0,2.6 0 1,0 -6.0,0M238,1079a3.1,2.2 0 1,0 6.2,0a3.1,2.2 0 1,0 -6.2,0M345,1281a3.6,3.2 0 1,0 7.3,0a3.6,3.2 0 1,0 -7.3,0M402,1270a3.4,3.1 0 1,0 6.8,0a3.4,3.1 0 1,0 -6.8,0M375,1222a3.2,3.1 0 1,0 6.5,0a3.2,3.1 0 1,0 -6.5,0M367,1240a3.1,2.8 0 1,0 6.2,0a3.1,2.8 0 1,0 -6.2,0M350,1227a2.7,2.3 0 1,0 5.4,0a2.7,2.3 0 1,0 -5.4,0M394,1293a3.2,2.7 0 1,0 6.5,0a3.2,2.7 0 1,0 -6.5,0M382,1304a3.0,2.5 0 1,0 6.1,0a3.0,2.5 0 1,0 -6.1,0M405,1285a3.3,3.1 0 1,0 6.5,0a3.3,3.1 0 1,0 -6.5,0M364,1268a3.1,2.1 0 1,0 6.1,0a3.1,2.1 0 1,0 -6.1,0M357,1212a3.4,3.2 0 1,0 6.8,0a3.4,3.2 0 1,0 -6.8,0M348,1246a3.4,3.3 0 1,0 6.8,0a3.4,3.3 0 1,0 -6.8,0M410,1303a2.9,2.6 0 1,0 5.7,0a2.9,2.6 0 1,0 -5.7,0M380,1233a2.4,1.8 0 1,0 4.8,0a2.4,1.8 0 1,0 -4.8,0M369,1306a3.3,2.6 0 1,0 6.5,0a3.3,2.6 0 1,0 -6.5,0M340,1238a2.8,2.4 0 1,0 5.6,0a2.8,2.4 0 1,0 -5.6,0M358,1260a3.5,2.5 0 1,0 6.9,0a3.5,2.5 0 1,0 -6.9,0M387,1259a3.6,3.3 0 1,0 7.1,0a3.6,3.3 0 1,0 -7.1,0M405,1205a3.4,2.6 0 1,0 6.9,0a3.4,2.6 0 1,0 -6.9,0M347,1288a2.9,2.4 0 1,0 5.9,0a2.9,2.4 0 1,0 -5.9,0M372,1299a3.0,2.4 0 1,0 5.9,0a3.0,2.4 0 1,0 -5.9,0M361,1295a2.5,2.4 0 1,0 4.9,0a2.5,2.4 0 1,0 -4.9,0M406,1241a3.0,2.3 0 1,0 6.1,0a3.0,2.3 0 1,0 -6.1,0M409,1279a2.4,2.3 0 1,0 4.7,0a2.4,2.3 0 1,0 -4.7,0M392,1312a3.1,2.7 0 1,0 6.2,0a3.1,2.7 0 1,0 -6.2,0M411,1155a2.5,1.8 0 1,0 5.0,0a2.5,1.8 0 1,0 -5.0,0M400,1153a3.0,2.5 0 1,0 5.9,0a3.0,2.5 0 1,0 -5.9,0M409,1147a3.4,2.9 0 1,0 6.8,0a3.4,2.9 0 1,0 -6.8,0M409,1164a3.0,2.9 0 1,0 5.9,0a3.0,2.9 0 1,0 -5.9,0M411,1142a2.4,2.2 0 1,0 4.7,0a2.4,2.2 0 1,0 -4.7,0" fill="#26268a"/>
<path d="M206,1349a3.3,2.9 0 1,0 6.5,0a3.3,2.9 0 1,0 -6.5,0M238,1176a3.3,2.6 0 1,0 6.6,0a3.3,2.6 0 1,0 -6.6,0M236,1330a3.0,2.1 0 1,0 6.1,0a3.0,2.1 0 1,0 -6.1,0M240,1336a3.5,3.1 0 1,0 7.1,0a3.5,3.1 0 1,0 -7.1,0M223,1344a3.3,3.2 0 1,0 6.6,0a3.3,3.2 0 1,0 -6.6,0M231,1343a2.5,2.4 0 1,0 5.0,0a2.5,2.4 0 1,0 -5.0,0M260,1326a2.6,2.2 0 1,0 5.2,0a2.6,2.2 0 1,0 -5.2,0M240,1282a2.8,2.1 0 1,0 5.6,0a2.8,2.1 0 1,0 -5.6,0M216,1037a3.0,2.9 0 1,0 6.0,0a3.0,2.9 0 1,0 -6.0,0M217,1171a3.2,2.4 0 1,0 6.4,0a3.2,2.4 0 1,0 -6.4,0M272,1342a3.1,2.6 0 1,0 6.1,0a3.1,2.6 0 1,0 -6.1,0M224,1162a2.6,2.6 0 1,0 5.3,0a2.6,2.6 0 1,0 -5.3,0M232,1205a2.7,2.5 0 1,0 5.4,0a2.7,2.5 0 1,0 -5.4,0M204,1269a2.5,2.1 0 1,0 5.0,0a2.5,2.1 0 1,0 -5.0,0M263,1381a3.1,2.3 0 1,0 6.2,0a3.1,2.3 0 1,0 -6.2,0M213,1058a2.5,1.9 0 1,0 4.9,0a2.5,1.9 0 1,0 -4.9,0M274,1386a2.6,2.4 0 1,0 5.3,0a2.6,2.4 0 1,0 -5.3,0M244,1301a2.9,2.6 0 1,0 5.9,0a2.9,2.6 0 1,0 -5.9,0M246,1320a2.9,2.3 0 1,0 5.8,0a2.9,2.3 0 1,0 -5.8,0M254,1331a2.9,2.3 0 1,0 5.9,0a2.9,2.3 0 1,0 -5.9,0M226,1216a2.7,2.3 0 1,0 5.4,0a2.7,2.3 0 1,0 -5.4,0M269,1310a2.4,1.8 0 1,0 4.7,0a2.4,1.8 0 1,0 -4.7,0M237,1206a3.4,3.1 0 1,0 6.9,0a3.4,3.1 0 1,0 -6.9,0M232,1369a3.6,3.0 0 1,0 7.1,0a3.6,3.0 0 1,0 -7.1,0M237,1141a3.0,2.2 0 1,0 6.0,0a3.0,2.2 0 1,0 -6.0,0M226,1083a2.8,2.2 0 1,0 5.7,0a2.8,2.2 0 1,0 -5.7,0M207,1240a2.8,2.0 0 1,0 5.6,0a2.8,2.0 0 1,0 -5.6,0M243,1366a2.8,2.6 0 1,0 5.6,0a2.8,2.6 0 1,0 -5.6,0M215,1093a3.5,3.2 0 1,0 7.0,0a3.5,3.2 0 1,0 -7.0,0M204,1344a2.7,2.4 0 1,0 5.3,0a2.7,2.4 0 1,0 -5.3,0M214,1084a3.2,3.1 0 1,0 6.5,0a3.2,3.1 0 1,0 -6.5,0M243,1138a3.5,2.6 0 1,0 7.0,0a3.5,2.6 0 1,0 -7.0,0M227,1090a3.1,2.4 0 1,0 6.1,0a3.1,2.4 0 1,0 -6.1,0M227,1338a2.3,2.2 0 1,0 4.7,0a2.3,2.2 0 1,0 -4.7,0M252,1345a3.5,2.8 0 1,0 7.1,0a3.5,2.8 0 1,0 -7.1,0M237,1098a3.1,2.5 0 1,0 6.1,0a3.1,2.5 0 1,0 -6.1,0M253,1278a2.3,2.2 0 1,0 4.6,0a2.3,2.2 0 1,0 -4.6,0M246,1287a2.5,2.4 0 1,0 5.1,0a2.5,2.4 0 1,0 -5.1,0M244,1379a3.6,2.8 0 1,0 7.2,0a3.6,2.8 0 1,0 -7.2,0M225,1146a3.7,3.0 0 1,0 7.4,0a3.7,3.0 0 1,0 -7.4,0M209,1068a3.0,2.9 0 1,0 6.0,0a3.0,2.9 0 1,0 -6.0,0M249,1236a3.4,3.2 0 1,0 6.8,0a3.4,3.2 0 1,0 -6.8,0M248,1205a3.5,2.8 0 1,0 6.9,0a3.5,2.8 0 1,0 -6.9,0M232,1061a3.0,2.8 0 1,0 6.0,0a3.0,2.8 0 1,0 -6.0,0M210,1288a3.6,2.9 0 1,0 7.2,0a3.6,2.9 0 1,0 -7.2,0M207,1149a3.5,3.2 0 1,0 7.0,0a3.5,3.2 0 1,0 -7.0,0M217,1030a3.1,3.1 0 1,0 6.2,0a3.1,3.1 0 1,0 -6.2,0M234,1146a3.2,3.2 0 1,0 6.4,0a3.2,3.2 0 1,0 -6.4,0M219,1137a2.5,2.4 0 1,0 5.1,0a2.5,2.4 0 1,0 -5.1,0M231,1391a3.3,2.5 0 1,0 6.6,0a3.3,2.5 0 1,0 -6.6,0M233,1163a3.5,3.1 0 1,0 7.1,0a3.5,3.1 0 1,0 -7.1,0M226,1208a3.6,3.3 0 1,0 7.2,0a3.6,3.3 0 1,0 -7.2,0M224,1228a3.4,2.9 0 1,0 6.9,0a3.4,2.9 0 1,0 -6.9,0M233,1107a3.2,2.6 0 1,0 6.4,0a3.2,2.6 0 1,0 -6.4,0M263,1333a3.6,3.3 0 1,0 7.3,0a3.6,3.3 0 1,0 -7.3,0M272,1316a3.4,2.4 0 1,0 6.8,0a3.4,2.4 0 1,0 -6.8,0M250,1259a2.7,2.3 0 1,0 5.5,0a2.7,2.3 0 1,0 -5.5,0M210,1199a2.9,2.2 0 1,0 5.9,0a2.9,2.2 0 1,0 -5.9,0M243,1083a2.6,1.9 0 1,0 5.2,0a2.6,1.9 0 1,0 -5.2,0M250,1381a3.1,2.5 0 1,0 6.2,0a3.1,2.5 0 1,0 -6.2,0M219,1348a2.8,2.0 0 1,0 5.6,0a2.8,2.0 0 1,0 -5.6,0M254,1250a3.4,2.6 0 1,0 6.8,0a3.4,2.6 0 1,0 -6.8,0M394,1209a3.6,3.0 0 1,0 7.2,0a3.6,3.0 0 1,0 -7.2,0M389,1245a2.9,2.4 0 1,0 5.9,0a2.9,2.4 0 1,0 -5.9,0M409,1253a2.4,2.3 0 1,0 4.8,0a2.4,2.3 0 1,0 -4.8,0M360,1221a2.7,2.2 0 1,0 5.3,0a2.7,2.2 0 1,0 -5.3,0M330,1219a3.6,2.7 0 1,0 7.2,0a3.6,2.7 0 1,0 -7.2,0M383,1223a2.4,1.9 0 1,0 4.9,0a2.4,1.9 0 1,0 -4.9,0M392,1302a3.6,2.7 0 1,0 7.3,0a3.6,2.7 0 1,0 -7.3,0M332,1235a3.1,2.7 0 1,0 6.1,0a3.1,2.7 0 1,0 -6.1,0M340,1257a2.9,2.2 0 1,0 5.8,0a2.9,2.2 0 1,0 -5.8,0M331,1224a3.1,3.1 0 1,0 6.3,0a3.1,3.1 0 1,0 -6.3,0M384,1255a2.9,2.7 0 1,0 5.7,0a2.9,2.7 0 1,0 -5.7,0M401,1262a2.7,2.5 0 1,0 5.3,0a2.7,2.5 0 1,0 -5.3,0M371,1264a3.6,2.7 0 1,0 7.2,0a3.6,2.7 0 1,0 -7.2,0M393,1238a3.0,2.9 0 1,0 5.9,0a3.0,2.9 0 1,0 -5.9,0M412,1230a3.6,3.4 0 1,0 7.1,0a3.6,3.4 0 1,0 -7.1,0M386,1237a2.8,2.8 0 1,0 5.7,0a2.8,2.8 0 1,0 -5.7,0M398,1311a2.5,2.1 0 1,0 5.0,0a2.5,2.1 0 1,0 -5.0,0M356,1254a2.5,2.0 0 1,0 4.9,0a2.5,2.0 0 1,0 -4.9,0M403,1256a3.0,2.5 0 1,0 6.0,0a3.0,2.5 0 1,0 -6.0,0M389,1298a2.4,2.2 0 1,0 4.9,0a2.4,2.2 0 1,0 -4.9,0M406,1265a2.5,1.9 0 1,0 5.1,0a2.5,1.9 0 1,0 -5.1,0M345,1243a2.7,2.4 0 1,0 5.5,0a2.7,2.4 0 1,0 -5.5,0M397,1223a3.5,3.3 0 1,0 7.0,0a3.5,3.3 0 1,0 -7.0,0M338,1232a3.4,2.7 0 1,0 6.9,0a3.4,2.7 0 1,0 -6.9,0M403,1142a3.1,2.8 0 1,0 6.2,0a3.1,2.8 0 1,0 -6.2,0" fill="#242488"/>
<path d="M224,1376a2.5,1.9 0 1,0 5.1,0a2.5,1.9 0 1,0 -5.1,0M235,1065a3.0,2.9 0 1,0 5.9,0a3.0,2.9 0 1,0 -5.9,0M206,1224a2.3,1.9 0 1,0 4.6,0a2.3,1.9 0 1,0 -4.6,0M225,1045a2.3,2.0 0 1,0 4.6,0a2.3,2.0 0 1,0 -4.6,0M218,1177a3.2,2.4 0 1,0 6.5,0a3.2,2.4 0 1,0 -6.5,0M280,1359a3.2,2.6 0 1,0 6.4,0a3.2,2.6 0 1,0 -6.4,0M263,1356a2.4,1.8 0 1,0 4.7,0a2.4,1.8 0 1,0 -4.7,0M244,1055a3.3,3.1 0 1,0 6.5,0a3.3,3.1 0 1,0 -6.5,0M234,1361a2.5,2.1 0 1,0 5.1,0a2.5,2.1 0 1,0 -5.1,0M232,1134a3.2,2.7 0 1,0 6.4,0a3.2,2.7 0 1,0 -6.4,0M231,1180a3.3,3.3 0 1,0 6.7,0a3.3,3.3 0 1,0 -6.7,0M221,1296a3.4,3.1 0 1,0 6.8,0a3.4,3.1 0 1,0 -6.8,0M226,1274a3.6,3.4 0 1,0 7.2,0a3.6,3.4 0 1,0 -7.2,0M260,1297a2.9,2.0 0 1,0 5.7,0a2.9,2.0 0 1,0 -5.7,0M266,1284a3.0,2.7 0 1,0 6.0,0a3.0,2.7 0 1,0 -6.0,0M220,1207a3.2,2.5 0 1,0 6.4,0a3.2,2.5 0 1,0 -6.4,0M214,1078a3.0,2.4 0 1,0 6.0,0a3.0,2.4 0 1,0 -6.0,0M202,1050a3.3,2.8 0 1,0 6.7,0a3.3,2.8 0 1,0 -6.7,0M260,1391a2.9,2.7 0 1,0 5.8,0a2.9,2.7 0 1,0 -5.8,0M255,1318a3.5,2.9 0 1,0 6.9,0a3.5,2.9 0 1,0 -6.9,0M267,1349a2.9,2.6 0 1,0 5.7,0a2.9,2.6 0 1,0 -5.7,0M205,1233a2.6,2.2 0 1,0 5.1,0a2.6,2.2 0 1,0 -5.1,0M273,1371a2.7,2.6 0 1,0 5.3,0a2.7,2.6 0 1,0 -5.3,0M278,1345a2.5,2.4 0 1,0 5.0,0a2.5,2.4 0 1,0 -5.0,0M235,1168a3.7,3.1 0 1,0 7.3,0a3.7,3.1 0 1,0 -7.3,0M228,1282a3.0,2.9 0 1,0 5.9,0a3.0,2.9 0 1,0 -5.9,0M210,1355a2.7,2.6 0 1,0 5.3,0a2.7,2.6 0 1,0 -5.3,0M270,1320a2.9,2.5 0 1,0 5.8,0a2.9,2.5 0 1,0 -5.8,0M248,1039a3.5,3.0 0 1,0 7.0,0a3.5,3.0 0 1,0 -7.0,0M229,1109a2.5,2.2 0 1,0 4.9,0a2.5,2.2 0 1,0 -4.9,0M272,1381a2.5,2.3 0 1,0 5.0,0a2.5,2.3 0 1,0 -5.0,0M236,1317a3.7,2.6 0 1,0 7.4,0a3.7,2.6 0 1,0 -7.4,0M228,1200a2.7,2.6 0 1,0 5.4,0a2.7,2.6 0 1,0 -5.4,0M226,1291a2.9,2.1 0 1,0 5.8,0a2.9,2.1 0 1,0 -5.8,0M265,1295a3.1,2.2 0 1,0 6.3,0a3.1,2.2 0 1,0 -6.3,0M209,1050a3.2,2.3 0 1,0 6.4,0a3.2,2.3 0 1,0 -6.4,0M232,1264a3.7,2.9 0 1,0 7.3,0a3.7,2.9 0 1,0 -7.3,0M224,1312a3.0,3.0 0 1,0 6.0,0a3.0,3.0 0 1,0 -6.0,0M222,1235a3.6,3.2 0 1,0 7.2,0a3.6,3.2 0 1,0 -7.2,0M204,1037a3.1,2.4 0 1,0 6.2,0a3.1,2.4 0 1,0 -6.2,0M277,1367a2.4,2.4 0 1,0 4.9,0a2.4,2.4 0 1,0 -4.9,0M240,1385a3.0,2.7 0 1,0 5.9,0a3.0,2.7 0 1,0 -5.9,0M228,1365a3.4,2.4 0 1,0 6.8,0a3.4,2.4 0 1,0 -6.8,0M266,1390a3.2,2.8 0 1,0 6.3,0a3.2,2.8 0 1,0 -6.3,0M236,1084a3.1,2.9 0 1,0 6.2,0a3.1,2.9 0 1,0 -6.2,0M219,1060a3.2,2.5 0 1,0 6.4,0a3.2,2.5 0 1,0 -6.4,0M211,1361a3.2,2.7 0 1,0 6.3,0a3.2,2.7 0 1,0 -6.3,0M253,1305a2.4,2.2 0 1,0 4.8,0a2.4,2.2 0 1,0 -4.8,0M267,1301a2.6,1.9 0 1,0 5.1,0a2.6,1.9 0 1,0 -5.1,0M242,1144a2.7,1.9 0 1,0 5.3,0a2.7,1.9 0 1,0 -5.3,0M223,1281a3.0,2.8 0 1,0 6.1,0a3.0,2.8 0 1,0 -6.1,0M205,1245a2.8,2.5 0 1,0 5.6,0a2.8,2.5 0 1,0 -5.6,0M258,1199a2.8,2.4 0 1,0 5.6,0a2.8,2.4 0 1,0 -5.6,0M277,1392a3.5,3.3 0 1,0 7.0,0a3.5,3.3 0 1,0 -7.0,0M204,1188a3.4,2.5 0 1,0 6.9,0a3.4,2.5 0 1,0 -6.9,0M236,1114a3.5,2.7 0 1,0 7.0,0a3.5,2.7 0 1,0 -7.0,0M218,1313a2.8,2.0 0 1,0 5.5,0a2.8,2.0 0 1,0 -5.5,0M220,1216a3.0,2.5 0 1,0 6.0,0a3.0,2.5 0 1,0 -6.0,0M245,1161a2.5,2.4 0 1,0 5.1,0a2.5,2.4 0 1,0 -5.1,0M208,1251a3.3,2.5 0 1,0 6.6,0a3.3,2.5 0 1,0 -6.6,0M265,1362a2.7,2.0 0 1,0 5.4,0a2.7,2.0 0 1,0 -5.4,0M260,1283a3.1,2.5 0 1,0 6.2,0a3.1,2.5 0 1,0 -6.2,0M260,1248a3.1,2.5 0 1,0 6.2,0a3.1,2.5 0 1,0 -6.2,0M275,1337a3.3,2.4 0 1,0 6.7,0a3.3,2.4 0 1,0 -6.7,0M246,1049a3.3,2.4 0 1,0 6.5,0a3.3,2.4 0 1,0 -6.5,0M206,1193a2.5,2.2 0 1,0 5.0,0a2.5,2.2 0 1,0 -5.0,0M210,1343a3.3,2.3 0 1,0 6.5,0a3.3,2.3 0 1,0 -6.5,0M243,1389a2.9,2.6 0 1,0 5.8,0a2.9,2.6 0 1,0 -5.8,0M229,1299a3.2,3.2 0 1,0 6.4,0a3.2,3.2 0 1,0 -6.4,0M227,1178a2.5,2.1 0 1,0 5.0,0a2.5,2.1 0 1,0 -5.0,0M243,1128a3.2,2.5 0 1,0 6.4,0a3.2,2.5 0 1,0 -6.4,0M238,1358a3.2,2.8 0 1,0 6.3,0a3.2,2.8 0 1,0 -6.3,0M207,1057a2.9,2.4 0 1,0 5.8,0a2.9,2.4 0 1,0 -5.8,0M342,1208a3.7,3.0 0 1,0 7.3,0a3.7,3.0 0 1,0 -7.3,0M372,1287a2.5,2.4 0 1,0 4.9,0a2.5,2.4 0 1,0 -4.9,0M365,1259a2.6,2.3 0 1,0 5.1,0a2.6,2.3 0 1,0 -5.1,0M335,1251a3.6,3.1 0 1,0 7.2,0a3.6,3.1 0 1,0 -7.2,0M395,1215a2.5,2.3 0 1,0 4.9,0a2.5,2.3 0 1,0 -4.9,0M373,1257a2.5,2.5 0 1,0 4.9,0a2.5,2.5 0 1,0 -4.9,0M391,1222a2.3,1.9 0 1,0 4.7,0a2.3,1.9 0 1,0 -4.7,0M392,1285a3.0,2.9 0 1,0 6.0,0a3.0,2.9 0 1,0 -6.0,0M407,1215a2.5,1.9 0 1,0 5.1,0a2.5,1.9 0 1,0 -5.1,0M394,1230a3.3,2.8 0 1,0 6.5,0a3.3,2.8 0 1,0 -6.5,0M340,1217a3.4,2.7 0 1,0 6.7,0a3.4,2.7 0 1,0 -6.7,0M384,1273a2.7,2.3 0 1,0 5.5,0a2.7,2.3 0 1,0 -5.5,0M372,1250a3.4,2.8 0 1,0 6.7,0a3.4,2.8 0 1,0 -6.7,0M343,1265a3.2,2.5 0 1,0 6.4,0a3.2,2.5 0 1,0 -6.4,0M400,1210a3.5,2.7 0 1,0 7.0,0a3.5,2.7 0 1,0 -7.0,0M392,1278a2.7,2.4 0 1,0 5.3,0a2.7,2.4 0 1,0 -5.3,0M371,1279a3.6,2.8 0 1,0 7.2,0a3.6,2.8 0 1,0 -7.2,0M347,1252a2.5,2.2 0 1,0 5.1,0a2.5,2.2 0 1,0 -5.1,0M342,1248a3.0,2.9 0 1,0 6.1,0a3.0,2.9 0 1,0 -6.1,0M367,1246a3.2,2.6 0 1,0 6.4,0a3.2,2.6 0 1,0 -6.4,0M347,1220a3.0,2.3 0 1,0 5.9,0a3.0,2.3 0 1,0 -5.9,0M375,1291a3.7,3.2 0 1,0 7.3,0a3.7,3.2 0 1,0 -7.3,0M377,1205a3.6,3.0 0 1,0 7.3,0a3.6,3.0 0 1,0 -7.3,0M329,1249a3.6,2.6 0 1,0 7.1,0a3.6,2.6 0 1,0 -7.1,0M372,1228a2.4,2.0 0 1,0 4.7,0a2.4,2.0 0 1,0 -4.7,0M383,1266a3.3,3.0 0 1,0 6.6,0a3.3,3.0 0 1,0 -6.6,0M368,1221a3.6,3.5 0 1,0 7.2,0a3.6,3.5 0 1,0 -7.2,0M382,1315a3.4,2.8 0 1,0 6.9,0a3.4,2.8 0 1,0 -6.9,0M403,1279a2.3,2.1 0 1,0 4.7,0a2.3,2.1 0 1,0 -4.7,0" fill="#3434a4"/>
<path d="M213,1329a3.6,2.8 0 1,0 7.2,0a3.6,2.8 0 1,0 -7.2,0M224,1065a3.5,2.8 0 1,0 7.0,0a3.5,2.8 0 1,0 -7.0,0M233,1302a3.6,3.2 0 1,0 7.1,0a3.6,3.2 0 1,0 -7.1,0M225,1054a2.5,2.3 0 1,0 5.0,0a2.5,2.3 0 1,0 -5.0,0M255,1387a2.6,2.0 0 1,0 5.1,0a2.6,2.0 0 1,0 -5.1,0M222,1142a3.2,3.1 0 1,0 6.4,0a3.2,3.1 0 1,0 -6.4,0M234,1232a3.7,3.1 0 1,0 7.3,0a3.7,3.1 0 1,0 -7.3,0M221,1095a3.4,2.7 0 1,0 6.8,0a3.4,2.7 0 1,0 -6.8,0M225,1252a3.7,3.4 0 1,0 7.4,0a3.7,3.4 0 1,0 -7.4,0M224,1304a2.7,2.6 0 1,0 5.3,0a2.7,2.6 0 1,0 -5.3,0M202,1356a3.5,2.7 0 1,0 6.9,0a3.5,2.7 0 1,0 -6.9,0M237,1307a3.6,2.8 0 1,0 7.2,0a3.6,2.8 0 1,0 -7.2,0M245,1312a3.5,2.7 0 1,0 7.0,0a3.5,2.7 0 1,0 -7.0,0M218,1193a2.8,2.4 0 1,0 5.5,0a2.8,2.4 0 1,0 -5.5,0M206,1259a2.4,2.4 0 1,0 4.7,0a2.4,2.4 0 1,0 -4.7,0M229,1322a3.3,3.0 0 1,0 6.5,0a3.3,3.0 0 1,0 -6.5,0M211,1315a3.3,2.7 0 1,0 6.6,0a3.3,2.7 0 1,0 -6.6,0M241,1326a3.5,3.4 0 1,0 7.1,0a3.5,3.4 0 1,0 -7.1,0M227,1242a2.6,2.4 0 1,0 5.2,0a2.6,2.4 0 1,0 -5.2,0M255,1204a2.3,2.2 0 1,0 4.7,0a2.3,2.2 0 1,0 -4.7,0M229,1038a3.2,2.2 0 1,0 6.3,0a3.2,2.2 0 1,0 -6.3,0M251,1265a2.8,2.7 0 1,0 5.6,0a2.8,2.7 0 1,0 -5.6,0M259,1254a2.4,2.0 0 1,0 4.8,0a2.4,2.0 0 1,0 -4.8,0M254,1244a3.3,2.7 0 1,0 6.6,0a3.3,2.7 0 1,0 -6.6,0M244,1098a3.7,3.5 0 1,0 7.4,0a3.7,3.5 0 1,0 -7.4,0M213,1114a3.7,3.2 0 1,0 7.3,0a3.7,3.2 0 1,0 -7.3,0M231,1119a3.1,2.8 0 1,0 6.3,0a3.1,2.8 0 1,0 -6.3,0M202,1316a3.2,3.0 0 1,0 6.3,0a3.2,3.0 0 1,0 -6.3,0M237,1392a3.4,2.6 0 1,0 6.8,0a3.4,2.6 0 1,0 -6.8,0M251,1292a2.8,2.2 0 1,0 5.6,0a2.8,2.2 0 1,0 -5.6,0M228,1304a3.5,3.1 0 1,0 7.0,0a3.5,3.1 0 1,0 -7.0,0M229,1050a3.6,3.2 0 1,0 7.3,0a3.6,3.2 0 1,0 -7.3,0M265,1319a3.1,2.9 0 1,0 6.1,0a3.1,2.9 0 1,0 -6.1,0M212,1296a3.4,2.4 0 1,0 6.9,0a3.4,2.4 0 1,0 -6.9,0M264,1290a2.5,2.4 0 1,0 4.9,0a2.5,2.4 0 1,0 -4.9,0M237,1290a2.5,2.1 0 1,0 5.0,0a2.5,2.1 0 1,0 -5.0,0M247,1306a3.2,2.6 0 1,0 6.4,0a3.2,2.6 0 1,0 -6.4,0M270,1297a2.7,2.2 0 1,0 5.4,0a2.7,2.2 0 1,0 -5.4,0M209,1273a3.6,3.2 0 1,0 7.2,0a3.6,3.2 0 1,0 -7.2,0M259,1208a3.0,2.6 0 1,0 6.0,0a3.0,2.6 0 1,0 -6.0,0M259,1272a2.8,2.8 0 1,0 5.7,0a2.8,2.8 0 1,0 -5.7,0M248,1171a2.4,2.4 0 1,0 4.8,0a2.4,2.4 0 1,0 -4.8,0M209,1036a3.3,2.7 0 1,0 6.6,0a3.3,2.7 0 1,0 -6.6,0M265,1215a3.4,2.5 0 1,0 6.7,0a3.4,2.5 0 1,0 -6.7,0M212,1179a3.5,3.1 0 1,0 7.1,0a3.5,3.1 0 1,0 -7.1,0M203,1136a2.4,2.1 0 1,0 4.8,0a2.4,2.1 0 1,0 -4.8,0M222,1318a2.9,2.4 0 1,0 5.8,0a2.9,2.4 0 1,0 -5.8,0M203,1043a3.3,2.4 0 1,0 6.5,0a3.3,2.4 0 1,0 -6.5,0M246,1184a3.6,3.6 0 1,0 7.3,0a3.6,3.6 0 1,0 -7.3,0M261,1347a2.7,2.5 0 1,0 5.3,0a2.7,2.5 0 1,0 -5.3,0M253,1285a2.5,2.3 0 1,0 5.1,0a2.5,2.3 0 1,0 -5.1,0M212,1098a3.2,3.1 0 1,0 6.3,0a3.2,3.1 0 1,0 -6.3,0M381,1294a3.4,3.0 0 1,0 6.8,0a3.4,3.0 0 1,0 -6.8,0M364,1254a3.3,2.9 0 1,0 6.6,0a3.3,2.9 0 1,0 -6.6,0M341,1273a3.5,2.7 0 1,0 7.0,0a3.5,2.7 0 1,0 -7.0,0M398,1249a3.3,2.8 0 1,0 6.6,0a3.3,2.8 0 1,0 -6.6,0M382,1240a2.5,2.1 0 1,0 5.0,0a2.5,2.1 0 1,0 -5.0,0M378,1264a3.6,3.4 0 1,0 7.2,0a3.6,3.4 0 1,0 -7.2,0M368,1294a3.5,2.9 0 1,0 6.9,0a3.5,2.9 0 1,0 -6.9,0M360,1275a3.6,3.3 0 1,0 7.2,0a3.6,3.3 0 1,0 -7.2,0M412,1278a3.6,3.5 0 1,0 7.2,0a3.6,3.5 0 1,0 -7.2,0M334,1244a2.7,2.3 0 1,0 5.4,0a2.7,2.3 0 1,0 -5.4,0M333,1257a3.3,2.9 0 1,0 6.7,0a3.3,2.9 0 1,0 -6.7,0M407,1274a2.9,2.8 0 1,0 5.8,0a2.9,2.8 0 1,0 -5.8,0M376,1259a3.7,2.8 0 1,0 7.3,0a3.7,2.8 0 1,0 -7.3,0M411,1238a2.4,1.9 0 1,0 4.8,0a2.4,1.9 0 1,0 -4.8,0M366,1209a2.4,2.3 0 1,0 4.7,0a2.4,2.3 0 1,0 -4.7,0M350,1206a2.9,2.1 0 1,0 5.8,0a2.9,2.1 0 1,0 -5.8,0M378,1284a2.7,2.0 0 1,0 5.4,0a2.7,2.0 0 1,0 -5.4,0M349,1277a3.3,3.1 0 1,0 6.5,0a3.3,3.1 0 1,0 -6.5,0M380,1276a2.4,2.0 0 1,0 4.9,0a2.4,2.0 0 1,0 -4.9,0M401,1291a2.8,2.6 0 1,0 5.7,0a2.8,2.6 0 1,0 -5.7,0M360,1234a2.8,2.8 0 1,0 5.6,0a2.8,2.8 0 1,0 -5.6,0M388,1208a3.3,3.2 0 1,0 6.5,0a3.3,3.2 0 1,0 -6.5,0M400,1306a3.6,3.0 0 1,0 7.3,0a3.6,3.0 0 1,0 -7.3,0M404,1223a2.7,2.3 0 1,0 5.4,0a2.7,2.3 0 1,0 -5.4,0M363,1288a3.6,3.2 0 1,0 7.3,0a3.6,3.2 0 1,0 -7.3,0M397,1235a3.4,3.3 0 1,0 6.8,0a3.4,3.3 0 1,0 -6.8,0M396,1266a2.9,2.0 0 1,0 5.8,0a2.9,2.0 0 1,0 -5.8,0M362,1240a2.7,2.1 0 1,0 5.3,0a2.7,2.1 0 1,0 -5.3,0M413,1218a2.9,2.6 0 1,0 5.9,0a2.9,2.6 0 1,0 -5.9,0M390,1251a2.6,2.1 0 1,0 5.2,0a2.6,2.1 0 1,0 -5.2,0M401,1168a3.1,2.8 0 1,0 6.1,0a3.1,2.8 0 1,0 -6.1,0" fill="#20207a"/>
<path d="M352,1193a3.1,2.5 0 1,0 6.2,0a3.1,2.5 0 1,0 -6.2,0M374,1144a2.8,2.2 0 1,0 5.6,0a2.8,2.2 0 1,0 -5.6,0M400,1188a2.3,1.8 0 1,0 4.6,0a2.3,1.8 0 1,0 -4.6,0M368,1155a2.5,2.0 0 1,0 4.9,0a2.5,2.0 0 1,0 -4.9,0M406,1147a2.7,2.2 0 1,0 5.5,0a2.7,2.2 0 1,0 -5.5,0M385,1193a2.8,2.3 0 1,0 5.7,0a2.8,2.3 0 1,0 -5.7,0M340,1171a2.9,2.4 0 1,0 5.9,0a2.9,2.4 0 1,0 -5.9,0M379,1169a3.1,2.5 0 1,0 6.3,0a3.1,2.5 0 1,0 -6.3,0M375,1154a3.1,2.5 0 1,0 6.3,0a3.1,2.5 0 1,0 -6.3,0M335,1199a2.3,1.9 0 1,0 4.7,0a2.3,1.9 0 1,0 -4.7,0M332,1146a2.3,1.9 0 1,0 4.7,0a2.3,1.9 0 1,0 -4.7,0M402,1200a2.4,1.9 0 1,0 4.7,0a2.4,1.9 0 1,0 -4.7,0M354,1202a3.2,2.6 0 1,0 6.5,0a3.2,2.6 0 1,0 -6.5,0M348,1191a3.0,2.4 0 1,0 6.0,0a3.0,2.4 0 1,0 -6.0,0M401,1189a2.4,1.9 0 1,0 4.8,0a2.4,1.9 0 1,0 -4.8,0M376,1193a2.4,2.0 0 1,0 4.9,0a2.4,2.0 0 1,0 -4.9,0M358,1177a3.2,2.6 0 1,0 6.5,0a3.2,2.6 0 1,0 -6.5,0M336,1191a3.1,2.5 0 1,0 6.3,0a3.1,2.5 0 1,0 -6.3,0M412,1176a2.5,2.0 0 1,0 4.9,0a2.5,2.0 0 1,0 -4.9,0M400,1138a2.3,1.9 0 1,0 4.7,0a2.3,1.9 0 1,0 -4.7,0M368,1182a2.2,1.8 0 1,0 4.5,0a2.2,1.8 0 1,0 -4.5,0M352,1177a2.2,1.8 0 1,0 4.5,0a2.2,1.8 0 1,0 -4.5,0M411,1176a2.2,1.8 0 1,0 4.5,0a2.2,1.8 0 1,0 -4.5,0M327,1171a3.0,2.4 0 1,0 6.0,0a3.0,2.4 0 1,0 -6.0,0M347,1177a3.1,2.5 0 1,0 6.2,0a3.1,2.5 0 1,0 -6.2,0M351,1152a2.2,1.8 0 1,0 4.5,0a2.2,1.8 0 1,0 -4.5,0M391,1177a2.4,1.9 0 1,0 4.8,0a2.4,1.9 0 1,0 -4.8,0M359,1189a2.7,2.1 0 1,0 5.3,0a2.7,2.1 0 1,0 -5.3,0M381,1166a3.3,2.7 0 1,0 6.7,0a3.3,2.7 0 1,0 -6.7,0M388,1168a3.0,2.4 0 1,0 5.9,0a3.0,2.4 0 1,0 -5.9,0M371,1199a2.6,2.0 0 1,0 5.1,0a2.6,2.0 0 1,0 -5.1,0M336,1202a3.1,2.5 0 1,0 6.2,0a3.1,2.5 0 1,0 -6.2,0M389,1165a2.9,2.3 0 1,0 5.8,0a2.9,2.3 0 1,0 -5.8,0M276,1343a2.5,2.0 0 1,0 4.9,0a2.5,2.0 0 1,0 -4.9,0M232,1386a2.8,2.2 0 1,0 5.5,0a2.8,2.2 0 1,0 -5.5,0M280,1292a2.4,1.9 0 1,0 4.8,0a2.4,1.9 0 1,0 -4.8,0M240,1341a2.4,1.9 0 1,0 4.8,0a2.4,1.9 0 1,0 -4.8,0M209,1299a2.4,2.0 0 1,0 4.9,0a2.4,2.0 0 1,0 -4.9,0M217,1355a3.2,2.6 0 1,0 6.5,0a3.2,2.6 0 1,0 -6.5,0M209,1327a2.4,1.9 0 1,0 4.8,0a2.4,1.9 0 1,0 -4.8,0M283,1321a3.0,2.4 0 1,0 6.0,0a3.0,2.4 0 1,0 -6.0,0M284,1346a3.2,2.6 0 1,0 6.4,0a3.2,2.6 0 1,0 -6.4,0M239,1352a3.0,2.4 0 1,0 6.0,0a3.0,2.4 0 1,0 -6.0,0M230,1368a2.6,2.1 0 1,0 5.3,0a2.6,2.1 0 1,0 -5.3,0M268,1318a2.4,2.0 0 1,0 4.9,0a2.4,2.0 0 1,0 -4.9,0M281,1359a3.3,2.6 0 1,0 6.5,0a3.3,2.6 0 1,0 -6.5,0M281,1313a3.2,2.6 0 1,0 6.4,0a3.2,2.6 0 1,0 -6.4,0M266,1343a2.9,2.3 0 1,0 5.7,0a2.9,2.3 0 1,0 -5.7,0M272,1291a2.3,1.8 0 1,0 4.5,0a2.3,1.8 0 1,0 -4.5,0M225,1293a3.1,2.4 0 1,0 6.1,0a3.1,2.4 0 1,0 -6.1,0M229,1371a2.7,2.2 0 1,0 5.5,0a2.7,2.2 0 1,0 -5.5,0M287,1322a3.3,2.6 0 1,0 6.5,0a3.3,2.6 0 1,0 -6.5,0M220,1341a3.3,2.6 0 1,0 6.5,0a3.3,2.6 0 1,0 -6.5,0M275,1312a2.7,2.2 0 1,0 5.4,0a2.7,2.2 0 1,0 -5.4,0M286,1295a3.2,2.5 0 1,0 6.3,0a3.2,2.5 0 1,0 -6.3,0M222,1333a2.4,1.9 0 1,0 4.8,0a2.4,1.9 0 1,0 -4.8,0M256,1320a3.2,2.6 0 1,0 6.5,0a3.2,2.6 0 1,0 -6.5,0M259,1363a3.4,2.7 0 1,0 6.7,0a3.4,2.7 0 1,0 -6.7,0M204,1372a3.3,2.7 0 1,0 6.6,0a3.3,2.7 0 1,0 -6.6,0M211,1358a3.0,2.4 0 1,0 5.9,0a3.0,2.4 0 1,0 -5.9,0M222,1335a3.3,2.7 0 1,0 6.6,0a3.3,2.7 0 1,0 -6.6,0M269,1370a2.6,2.1 0 1,0 5.2,0a2.6,2.1 0 1,0 -5.2,0M259,1344a2.9,2.3 0 1,0 5.8,0a2.9,2.3 0 1,0 -5.8,0M229,1322a3.3,2.6 0 1,0 6.5,0a3.3,2.6 0 1,0 -6.5,0M269,1337a2.7,2.1 0 1,0 5.4,0a2.7,2.1 0 1,0 -5.4,0M251,1370a3.3,2.6 0 1,0 6.6,0a3.3,2.6 0 1,0 -6.6,0M249,1373a2.2,1.8 0 1,0 4.5,0a2.2,1.8 0 1,0 -4.5,0M261,1344a3.0,2.4 0 1,0 5.9,0a3.0,2.4 0 1,0 -5.9,0M222,1339a3.4,2.7 0 1,0 6.8,0a3.4,2.7 0 1,0 -6.8,0M282,1375a2.9,2.3 0 1,0 5.7,0a2.9,2.3 0 1,0 -5.7,0M241,1357a2.7,2.2 0 1,0 5.5,0a2.7,2.2 0 1,0 -5.5,0M219,1348a3.1,2.5 0 1,0 6.2,0a3.1,2.5 0 1,0 -6.2,0M276,1377a3.0,2.4 0 1,0 6.0,0a3.0,2.4 0 1,0 -6.0,0M247,1380a2.7,2.2 0 1,0 5.4,0a2.7,2.2 0 1,0 -5.4,0M220,1352a2.8,2.3 0 1,0 5.7,0a2.8,2.3 0 1,0 -5.7,0M248,1320a2.9,2.3 0 1,0 5.8,0a2.9,2.3 0 1,0 -5.8,0M275,1385a3.3,2.6 0 1,0 6.6,0a3.3,2.6 0 1,0 -6.6,0M287,1320a2.5,2.0 0 1,0 4.9,0a2.5,2.0 0 1,0 -4.9,0M243,1348a3.1,2.4 0 1,0 6.1,0a3.1,2.4 0 1,0 -6.1,0M260,1311a2.8,2.2 0 1,0 5.6,0a2.8,2.2 0 1,0 -5.6,0M267,1347a3.0,2.4 0 1,0 6.0,0a3.0,2.4 0 1,0 -6.0,0M286,1377a2.8,2.3 0 1,0 5.7,0a2.8,2.3 0 1,0 -5.7,0M207,1315a2.8,2.2 0 1,0 5.6,0a2.8,2.2 0 1,0 -5.6,0M225,1316a2.7,2.2 0 1,0 5.4,0a2.7,2.2 0 1,0 -5.4,0M287,1322a2.8,2.2 0 1,0 5.5,0a2.8,2.2 0 1,0 -5.5,0" fill="#2c2c90"/>
<ellipse cx="315" cy="1079" rx="2.2" ry="4.5" transform="rotate(0 315 1079)" fill="#5a3010" stroke="#b07040" stroke-width="1.2"/>
<ellipse cx="350" cy="1104" rx="2.2" ry="4.5" transform="rotate(0 350 1104)" fill="#5a3010" stroke="#b07040" stroke-width="1.2"/>
<ellipse cx="298" cy="1258" rx="2.2" ry="4.5" transform="rotate(0 298 1258)" fill="#5a3010" stroke="#b07040" stroke-width="1.2"/>
<ellipse cx="310" cy="1259" rx="2.2" ry="4.5" transform="rotate(0 310 1259)" fill="#5a3010" stroke="#b07040" stroke-width="1.2"/>
<ellipse cx="343" cy="1300" rx="2.2" ry="4.5" transform="rotate(0 343 1300)" fill="#5a3010" stroke="#b07040" stroke-width="1.2"/>
<ellipse cx="362" cy="1300" rx="2.2" ry="4.5" transform="rotate(0 362 1300)" fill="#5a3010" stroke="#b07040" stroke-width="1.2"/>
<ellipse cx="331" cy="1360" rx="2.2" ry="4.5" transform="rotate(0 331 1360)" fill="#5a3010" stroke="#b07040" stroke-width="1.2"/>
</g>
<rect x="206.9" y="1033.5" width="207.1" height="357.9" fill="none" stroke="#000" stroke-width="2.2"/>
<clipPath id="iclip2"><rect x="423.9" y="1033.5" width="204.3" height="357.9"/></clipPath>
<g clip-path="url(#iclip2)">
<rect x="423.9" y="1033.5" width="204.3" height="357.9" fill="#e2e2e6"/>
<path d="M492.0,1034.0 C502.0,1022.2 538.7,1022.2 550.0,1034.0 C561.3,1045.8 557.0,1076.5 560.0,1105.0 C563.0,1133.5 564.3,1171.7 568.0,1205.0 C571.7,1238.3 578.3,1273.8 582.0,1305.0 C585.7,1336.2 602.3,1377.5 590.0,1392.0 C577.7,1406.5 523.8,1402.3 508.0,1392.0 C492.2,1381.7 499.3,1348.7 495.0,1330.0 C490.7,1311.3 485.3,1296.7 482.0,1280.0 C478.7,1263.3 475.0,1246.7 475.0,1230.0 C475.0,1213.3 479.5,1200.8 482.0,1180.0 C484.5,1159.2 488.3,1129.3 490.0,1105.0 C491.7,1080.7 482.0,1045.8 492.0,1034.0Z" fill="#dcd9d6"/>
<path d="M420.0,1030.0 C432.0,969.7 480.3,1017.5 492.0,1030.0 C503.7,1042.5 491.7,1080.0 490.0,1105.0 C488.3,1130.0 484.5,1159.2 482.0,1180.0 C479.5,1200.8 475.0,1213.3 475.0,1230.0 C475.0,1246.7 478.7,1263.3 482.0,1280.0 C485.3,1296.7 490.8,1311.3 495.0,1330.0 C499.2,1348.7 519.5,1381.7 507.0,1392.0 C494.5,1402.3 434.5,1452.3 420.0,1392.0 C405.5,1331.7 408.0,1090.3 420.0,1030.0Z" fill="#d8d4e0" opacity="0.6"/>
<path d="M590.0,1030.0 C598.3,1018.3 623.3,969.7 630.0,1030.0 C636.7,1090.3 636.7,1331.7 630.0,1392.0 C623.3,1452.3 598.0,1406.5 590.0,1392.0 C582.0,1377.5 585.3,1336.2 582.0,1305.0 C578.7,1273.8 572.8,1230.8 570.0,1205.0 C567.2,1179.2 563.3,1167.5 565.0,1150.0 C566.7,1132.5 575.8,1120.0 580.0,1100.0 C584.2,1080.0 581.7,1041.7 590.0,1030.0Z" fill="#d8d4e0" opacity="0.6"/>
<path d="M550.0,1040.0 C550.8,1021.7 560.8,1021.7 565.0,1040.0 C569.2,1058.3 575.8,1131.7 575.0,1150.0 C574.2,1168.3 564.2,1168.3 560.0,1150.0 C555.8,1131.7 549.2,1058.3 550.0,1040.0Z" fill="#d8d4e0" opacity="0.6"/>
<path d="M572.0,1115.0 C573.0,1120.8 576.2,1136.7 578.0,1150.0 C579.8,1163.3 582.2,1187.5 583.0,1195.0" fill="none" stroke="#a0501c" stroke-width="4" stroke-linecap="round" opacity="0.9"/>
<path d="M470.0,1240.0 L476.0,1280.0" fill="none" stroke="#9a5a2c" stroke-width="2" stroke-linecap="round" opacity="0.9"/>
<path d="M498,1373a2.3,1.7 0 1,0 4.6,0a2.3,1.7 0 1,0 -4.6,0M463,1077a2.9,2.6 0 1,0 5.8,0a2.9,2.6 0 1,0 -5.8,0M456,1110a3.0,2.8 0 1,0 6.0,0a3.0,2.8 0 1,0 -6.0,0M465,1363a2.6,2.5 0 1,0 5.3,0a2.6,2.5 0 1,0 -5.3,0M456,1154a2.6,2.0 0 1,0 5.2,0a2.6,2.0 0 1,0 -5.2,0M472,1150a2.8,2.0 0 1,0 5.7,0a2.8,2.0 0 1,0 -5.7,0M447,1139a3.7,3.6 0 1,0 7.3,0a3.7,3.6 0 1,0 -7.3,0M432,1383a2.9,2.1 0 1,0 5.8,0a2.9,2.1 0 1,0 -5.8,0M453,1119a3.1,3.0 0 1,0 6.3,0a3.1,3.0 0 1,0 -6.3,0M427,1329a2.3,2.1 0 1,0 4.7,0a2.3,2.1 0 1,0 -4.7,0M462,1128a2.4,2.1 0 1,0 4.8,0a2.4,2.1 0 1,0 -4.8,0M486,1334a3.2,2.9 0 1,0 6.4,0a3.2,2.9 0 1,0 -6.4,0M448,1350a3.7,2.8 0 1,0 7.4,0a3.7,2.8 0 1,0 -7.4,0M425,1185a2.7,2.6 0 1,0 5.4,0a2.7,2.6 0 1,0 -5.4,0M472,1365a2.7,2.5 0 1,0 5.5,0a2.7,2.5 0 1,0 -5.5,0M472,1255a2.5,2.3 0 1,0 5.1,0a2.5,2.3 0 1,0 -5.1,0M418,1152a2.9,2.3 0 1,0 5.7,0a2.9,2.3 0 1,0 -5.7,0M480,1153a3.5,2.7 0 1,0 7.0,0a3.5,2.7 0 1,0 -7.0,0M452,1378a3.7,2.6 0 1,0 7.3,0a3.7,2.6 0 1,0 -7.3,0M463,1210a2.6,2.1 0 1,0 5.2,0a2.6,2.1 0 1,0 -5.2,0M487,1047a3.4,3.2 0 1,0 6.9,0a3.4,3.2 0 1,0 -6.9,0M434,1321a2.5,1.8 0 1,0 5.0,0a2.5,1.8 0 1,0 -5.0,0M465,1057a2.4,1.7 0 1,0 4.8,0a2.4,1.7 0 1,0 -4.8,0M446,1346a3.0,2.2 0 1,0 6.1,0a3.0,2.2 0 1,0 -6.1,0M430,1141a2.8,2.2 0 1,0 5.6,0a2.8,2.2 0 1,0 -5.6,0M453,1387a2.7,2.6 0 1,0 5.3,0a2.7,2.6 0 1,0 -5.3,0M418,1075a2.9,2.2 0 1,0 5.9,0a2.9,2.2 0 1,0 -5.9,0M443,1255a2.5,2.1 0 1,0 4.9,0a2.5,2.1 0 1,0 -4.9,0M451,1359a2.7,2.5 0 1,0 5.5,0a2.7,2.5 0 1,0 -5.5,0M444,1179a3.6,3.4 0 1,0 7.3,0a3.6,3.4 0 1,0 -7.3,0M428,1266a2.9,2.7 0 1,0 5.9,0a2.9,2.7 0 1,0 -5.9,0M469,1088a3.4,2.8 0 1,0 6.8,0a3.4,2.8 0 1,0 -6.8,0M460,1050a3.2,3.1 0 1,0 6.4,0a3.2,3.1 0 1,0 -6.4,0M454,1203a3.2,2.4 0 1,0 6.3,0a3.2,2.4 0 1,0 -6.3,0M433,1113a2.6,1.8 0 1,0 5.3,0a2.6,1.8 0 1,0 -5.3,0M454,1165a2.7,2.1 0 1,0 5.4,0a2.7,2.1 0 1,0 -5.4,0M417,1219a3.5,3.0 0 1,0 7.0,0a3.5,3.0 0 1,0 -7.0,0M430,1107a3.7,3.5 0 1,0 7.4,0a3.7,3.5 0 1,0 -7.4,0M480,1061a2.5,2.0 0 1,0 5.0,0a2.5,2.0 0 1,0 -5.0,0M481,1111a2.9,2.5 0 1,0 5.8,0a2.9,2.5 0 1,0 -5.8,0M440,1109a3.0,2.6 0 1,0 5.9,0a3.0,2.6 0 1,0 -5.9,0M455,1033a3.5,3.4 0 1,0 6.9,0a3.5,3.4 0 1,0 -6.9,0M453,1127a3.2,3.0 0 1,0 6.4,0a3.2,3.0 0 1,0 -6.4,0M443,1232a3.0,2.3 0 1,0 6.0,0a3.0,2.3 0 1,0 -6.0,0M482,1138a3.1,2.5 0 1,0 6.3,0a3.1,2.5 0 1,0 -6.3,0M436,1152a3.0,3.0 0 1,0 6.1,0a3.0,3.0 0 1,0 -6.1,0M476,1293a2.8,2.1 0 1,0 5.6,0a2.8,2.1 0 1,0 -5.6,0M420,1054a3.6,3.1 0 1,0 7.3,0a3.6,3.1 0 1,0 -7.3,0M420,1068a2.9,2.3 0 1,0 5.8,0a2.9,2.3 0 1,0 -5.8,0M433,1185a3.2,2.3 0 1,0 6.5,0a3.2,2.3 0 1,0 -6.5,0M486,1039a3.6,3.5 0 1,0 7.2,0a3.6,3.5 0 1,0 -7.2,0M476,1270a2.7,2.7 0 1,0 5.5,0a2.7,2.7 0 1,0 -5.5,0M441,1305a2.3,2.3 0 1,0 4.7,0a2.3,2.3 0 1,0 -4.7,0M442,1081a3.7,3.4 0 1,0 7.4,0a3.7,3.4 0 1,0 -7.4,0M459,1279a3.2,3.0 0 1,0 6.5,0a3.2,3.0 0 1,0 -6.5,0M426,1306a2.3,1.7 0 1,0 4.7,0a2.3,1.7 0 1,0 -4.7,0M425,1126a3.0,2.9 0 1,0 6.1,0a3.0,2.9 0 1,0 -6.1,0M439,1052a2.9,2.3 0 1,0 5.7,0a2.9,2.3 0 1,0 -5.7,0M441,1372a2.6,2.3 0 1,0 5.3,0a2.6,2.3 0 1,0 -5.3,0M482,1089a3.1,2.5 0 1,0 6.3,0a3.1,2.5 0 1,0 -6.3,0M459,1241a2.4,1.7 0 1,0 4.8,0a2.4,1.7 0 1,0 -4.8,0M435,1247a2.7,2.6 0 1,0 5.4,0a2.7,2.6 0 1,0 -5.4,0M482,1072a3.3,3.1 0 1,0 6.6,0a3.3,3.1 0 1,0 -6.6,0M478,1350a3.2,2.3 0 1,0 6.3,0a3.2,2.3 0 1,0 -6.3,0M467,1145a3.5,3.0 0 1,0 7.0,0a3.5,3.0 0 1,0 -7.0,0M497,1367a2.9,2.3 0 1,0 5.8,0a2.9,2.3 0 1,0 -5.8,0M466,1297a2.8,2.5 0 1,0 5.7,0a2.8,2.5 0 1,0 -5.7,0M470,1075a3.0,2.2 0 1,0 5.9,0a3.0,2.2 0 1,0 -5.9,0M467,1102a3.6,3.0 0 1,0 7.3,0a3.6,3.0 0 1,0 -7.3,0M462,1313a2.8,2.2 0 1,0 5.6,0a2.8,2.2 0 1,0 -5.6,0M485,1359a3.4,3.1 0 1,0 6.9,0a3.4,3.1 0 1,0 -6.9,0M462,1065a3.1,3.1 0 1,0 6.3,0a3.1,3.1 0 1,0 -6.3,0M430,1030a3.3,2.4 0 1,0 6.5,0a3.3,2.4 0 1,0 -6.5,0M462,1368a3.0,2.9 0 1,0 6.1,0a3.0,2.9 0 1,0 -6.1,0M450,1315a2.6,2.1 0 1,0 5.2,0a2.6,2.1 0 1,0 -5.2,0M470,1323a2.7,2.2 0 1,0 5.5,0a2.7,2.2 0 1,0 -5.5,0M454,1261a2.6,2.5 0 1,0 5.3,0a2.6,2.5 0 1,0 -5.3,0M476,1161a2.7,2.2 0 1,0 5.4,0a2.7,2.2 0 1,0 -5.4,0M466,1049a2.8,2.4 0 1,0 5.7,0a2.8,2.4 0 1,0 -5.7,0M449,1234a2.6,2.2 0 1,0 5.2,0a2.6,2.2 0 1,0 -5.2,0M441,1121a2.6,2.4 0 1,0 5.2,0a2.6,2.4 0 1,0 -5.2,0M440,1177a2.5,2.3 0 1,0 5.0,0a2.5,2.3 0 1,0 -5.0,0M418,1384a2.4,2.0 0 1,0 4.8,0a2.4,2.0 0 1,0 -4.8,0M461,1230a2.7,2.0 0 1,0 5.3,0a2.7,2.0 0 1,0 -5.3,0M619,1212a3.0,2.5 0 1,0 5.9,0a3.0,2.5 0 1,0 -5.9,0M620,1202a2.9,2.4 0 1,0 5.8,0a2.9,2.4 0 1,0 -5.8,0M600,1145a2.8,2.5 0 1,0 5.6,0a2.8,2.5 0 1,0 -5.6,0M621,1236a3.3,3.0 0 1,0 6.6,0a3.3,3.0 0 1,0 -6.6,0M594,1184a2.4,2.3 0 1,0 4.8,0a2.4,2.3 0 1,0 -4.8,0M624,1099a3.6,3.1 0 1,0 7.2,0a3.6,3.1 0 1,0 -7.2,0M604,1244a2.5,2.3 0 1,0 5.0,0a2.5,2.3 0 1,0 -5.0,0M593,1388a2.5,2.4 0 1,0 5.0,0a2.5,2.4 0 1,0 -5.0,0M605,1039a2.4,2.1 0 1,0 4.7,0a2.4,2.1 0 1,0 -4.7,0M575,1193a3.6,2.8 0 1,0 7.1,0a3.6,2.8 0 1,0 -7.1,0M596,1344a3.3,2.7 0 1,0 6.6,0a3.3,2.7 0 1,0 -6.6,0M616,1046a2.8,2.3 0 1,0 5.6,0a2.8,2.3 0 1,0 -5.6,0M585,1205a2.4,1.9 0 1,0 4.7,0a2.4,1.9 0 1,0 -4.7,0M588,1293a2.6,2.3 0 1,0 5.2,0a2.6,2.3 0 1,0 -5.2,0M626,1265a2.8,2.1 0 1,0 5.5,0a2.8,2.1 0 1,0 -5.5,0M600,1032a2.4,2.1 0 1,0 4.8,0a2.4,2.1 0 1,0 -4.8,0M605,1378a2.9,2.6 0 1,0 5.7,0a2.9,2.6 0 1,0 -5.7,0M625,1361a3.7,3.5 0 1,0 7.4,0a3.7,3.5 0 1,0 -7.4,0M584,1240a2.7,2.4 0 1,0 5.4,0a2.7,2.4 0 1,0 -5.4,0M586,1347a3.4,2.5 0 1,0 6.8,0a3.4,2.5 0 1,0 -6.8,0M611,1346a3.5,2.9 0 1,0 7.0,0a3.5,2.9 0 1,0 -7.0,0M625,1180a3.4,2.5 0 1,0 6.9,0a3.4,2.5 0 1,0 -6.9,0M607,1358a3.5,3.3 0 1,0 7.0,0a3.5,3.3 0 1,0 -7.0,0M578,1238a3.5,2.9 0 1,0 7.1,0a3.5,2.9 0 1,0 -7.1,0M620,1172a2.5,1.9 0 1,0 4.9,0a2.5,1.9 0 1,0 -4.9,0M607,1135a3.2,2.3 0 1,0 6.4,0a3.2,2.3 0 1,0 -6.4,0M604,1053a3.4,2.5 0 1,0 6.9,0a3.4,2.5 0 1,0 -6.9,0M591,1356a2.5,2.5 0 1,0 5.0,0a2.5,2.5 0 1,0 -5.0,0M627,1370a3.1,2.2 0 1,0 6.2,0a3.1,2.2 0 1,0 -6.2,0M601,1357a3.2,2.9 0 1,0 6.4,0a3.2,2.9 0 1,0 -6.4,0M600,1059a2.9,2.3 0 1,0 5.9,0a2.9,2.3 0 1,0 -5.9,0M595,1117a3.4,2.4 0 1,0 6.8,0a3.4,2.4 0 1,0 -6.8,0M604,1127a3.0,2.4 0 1,0 6.0,0a3.0,2.4 0 1,0 -6.0,0M583,1074a2.6,2.3 0 1,0 5.2,0a2.6,2.3 0 1,0 -5.2,0M597,1277a3.2,2.9 0 1,0 6.5,0a3.2,2.9 0 1,0 -6.5,0M621,1074a2.8,2.6 0 1,0 5.6,0a2.8,2.6 0 1,0 -5.6,0M595,1039a3.7,2.9 0 1,0 7.3,0a3.7,2.9 0 1,0 -7.3,0M611,1126a3.1,2.5 0 1,0 6.1,0a3.1,2.5 0 1,0 -6.1,0M601,1240a2.9,2.5 0 1,0 5.8,0a2.9,2.5 0 1,0 -5.8,0M601,1391a2.4,1.7 0 1,0 4.8,0a2.4,1.7 0 1,0 -4.8,0M595,1150a3.2,3.0 0 1,0 6.5,0a3.2,3.0 0 1,0 -6.5,0M623,1088a3.5,3.3 0 1,0 7.1,0a3.5,3.3 0 1,0 -7.1,0M621,1223a3.7,3.3 0 1,0 7.4,0a3.7,3.3 0 1,0 -7.4,0M602,1230a3.1,2.3 0 1,0 6.3,0a3.1,2.3 0 1,0 -6.3,0M569,1226a3.5,3.2 0 1,0 6.9,0a3.5,3.2 0 1,0 -6.9,0M586,1053a2.5,2.4 0 1,0 5.0,0a2.5,2.4 0 1,0 -5.0,0M619,1366a3.3,3.2 0 1,0 6.7,0a3.3,3.2 0 1,0 -6.7,0M597,1179a2.9,2.3 0 1,0 5.7,0a2.9,2.3 0 1,0 -5.7,0M618,1294a2.8,2.5 0 1,0 5.6,0a2.8,2.5 0 1,0 -5.6,0M577,1118a3.5,2.6 0 1,0 6.9,0a3.5,2.6 0 1,0 -6.9,0M622,1335a3.4,2.6 0 1,0 6.8,0a3.4,2.6 0 1,0 -6.8,0M618,1256a3.6,3.3 0 1,0 7.2,0a3.6,3.3 0 1,0 -7.2,0M586,1195a2.3,1.6 0 1,0 4.7,0a2.3,1.6 0 1,0 -4.7,0M580,1130a3.6,3.0 0 1,0 7.2,0a3.6,3.0 0 1,0 -7.2,0M614,1272a3.6,2.6 0 1,0 7.2,0a3.6,2.6 0 1,0 -7.2,0M584,1353a2.8,2.1 0 1,0 5.6,0a2.8,2.1 0 1,0 -5.6,0M585,1143a2.5,2.0 0 1,0 5.0,0a2.5,2.0 0 1,0 -5.0,0M626,1173a3.4,3.3 0 1,0 6.8,0a3.4,3.3 0 1,0 -6.8,0M602,1079a3.4,3.3 0 1,0 6.7,0a3.4,3.3 0 1,0 -6.7,0M573,1161a2.4,2.4 0 1,0 4.8,0a2.4,2.4 0 1,0 -4.8,0M582,1320a2.5,2.0 0 1,0 5.0,0a2.5,2.0 0 1,0 -5.0,0M555,1103a2.7,2.6 0 1,0 5.4,0a2.7,2.6 0 1,0 -5.4,0M566,1118a3.1,2.9 0 1,0 6.1,0a3.1,2.9 0 1,0 -6.1,0M566,1088a2.7,2.4 0 1,0 5.4,0a2.7,2.4 0 1,0 -5.4,0M557,1043a3.1,2.5 0 1,0 6.1,0a3.1,2.5 0 1,0 -6.1,0M551,1073a2.4,2.3 0 1,0 4.8,0a2.4,2.3 0 1,0 -4.8,0M558,1148a2.6,2.2 0 1,0 5.1,0a2.6,2.2 0 1,0 -5.1,0" fill="#2c2c96"/>
<path d="M424,1244a3.0,2.2 0 1,0 5.9,0a3.0,2.2 0 1,0 -5.9,0M419,1061a3.2,2.3 0 1,0 6.4,0a3.2,2.3 0 1,0 -6.4,0M468,1268a2.9,2.8 0 1,0 5.9,0a2.9,2.8 0 1,0 -5.9,0M434,1368a3.0,2.4 0 1,0 6.1,0a3.0,2.4 0 1,0 -6.1,0M432,1227a2.5,2.1 0 1,0 5.1,0a2.5,2.1 0 1,0 -5.1,0M473,1116a3.0,2.5 0 1,0 6.0,0a3.0,2.5 0 1,0 -6.0,0M479,1031a3.2,2.4 0 1,0 6.5,0a3.2,2.4 0 1,0 -6.5,0M457,1183a2.4,2.1 0 1,0 4.9,0a2.4,2.1 0 1,0 -4.9,0M465,1220a3.2,2.3 0 1,0 6.4,0a3.2,2.3 0 1,0 -6.4,0M439,1338a3.2,2.2 0 1,0 6.3,0a3.2,2.2 0 1,0 -6.3,0M425,1297a3.1,2.3 0 1,0 6.1,0a3.1,2.3 0 1,0 -6.1,0M484,1327a2.7,2.0 0 1,0 5.4,0a2.7,2.0 0 1,0 -5.4,0M454,1145a3.0,2.4 0 1,0 6.1,0a3.0,2.4 0 1,0 -6.1,0M429,1168a2.7,2.6 0 1,0 5.5,0a2.7,2.6 0 1,0 -5.5,0M476,1129a2.4,2.1 0 1,0 4.8,0a2.4,2.1 0 1,0 -4.8,0M442,1209a2.6,2.0 0 1,0 5.2,0a2.6,2.0 0 1,0 -5.2,0M477,1373a2.7,2.6 0 1,0 5.4,0a2.7,2.6 0 1,0 -5.4,0M481,1295a2.8,2.2 0 1,0 5.6,0a2.8,2.2 0 1,0 -5.6,0M466,1237a3.2,2.9 0 1,0 6.5,0a3.2,2.9 0 1,0 -6.5,0M472,1080a3.1,3.0 0 1,0 6.2,0a3.1,3.0 0 1,0 -6.2,0M463,1245a3.7,3.4 0 1,0 7.4,0a3.7,3.4 0 1,0 -7.4,0M475,1166a3.0,2.8 0 1,0 6.1,0a3.0,2.8 0 1,0 -6.1,0M475,1337a2.8,2.2 0 1,0 5.6,0a2.8,2.2 0 1,0 -5.6,0M427,1251a2.8,2.1 0 1,0 5.6,0a2.8,2.1 0 1,0 -5.6,0M425,1257a3.0,2.7 0 1,0 6.0,0a3.0,2.7 0 1,0 -6.0,0M467,1338a3.7,3.3 0 1,0 7.4,0a3.7,3.3 0 1,0 -7.4,0M472,1046a3.5,2.8 0 1,0 6.9,0a3.5,2.8 0 1,0 -6.9,0M500,1382a3.5,2.8 0 1,0 7.0,0a3.5,2.8 0 1,0 -7.0,0M464,1114a2.5,2.4 0 1,0 4.9,0a2.5,2.4 0 1,0 -4.9,0M444,1280a3.5,2.7 0 1,0 7.0,0a3.5,2.7 0 1,0 -7.0,0M419,1261a3.1,2.3 0 1,0 6.3,0a3.1,2.3 0 1,0 -6.3,0M421,1160a3.2,3.0 0 1,0 6.4,0a3.2,3.0 0 1,0 -6.4,0M446,1391a2.6,2.4 0 1,0 5.2,0a2.6,2.4 0 1,0 -5.2,0M458,1382a3.6,3.2 0 1,0 7.2,0a3.6,3.2 0 1,0 -7.2,0M465,1320a2.6,2.2 0 1,0 5.3,0a2.6,2.2 0 1,0 -5.3,0M463,1070a2.6,2.1 0 1,0 5.2,0a2.6,2.1 0 1,0 -5.2,0M470,1379a2.5,2.4 0 1,0 5.0,0a2.5,2.4 0 1,0 -5.0,0M453,1240a3.0,2.9 0 1,0 5.9,0a3.0,2.9 0 1,0 -5.9,0M435,1201a2.3,1.9 0 1,0 4.6,0a2.3,1.9 0 1,0 -4.6,0M451,1253a3.0,2.6 0 1,0 6.0,0a3.0,2.6 0 1,0 -6.0,0M432,1124a3.6,2.7 0 1,0 7.3,0a3.6,2.7 0 1,0 -7.3,0M480,1285a3.2,2.9 0 1,0 6.3,0a3.2,2.9 0 1,0 -6.3,0M487,1386a3.2,2.4 0 1,0 6.4,0a3.2,2.4 0 1,0 -6.4,0M468,1313a2.8,2.5 0 1,0 5.7,0a2.8,2.5 0 1,0 -5.7,0M421,1038a2.3,1.8 0 1,0 4.6,0a2.3,1.8 0 1,0 -4.6,0M494,1359a2.3,2.2 0 1,0 4.7,0a2.3,2.2 0 1,0 -4.7,0M459,1346a3.3,2.8 0 1,0 6.6,0a3.3,2.8 0 1,0 -6.6,0M457,1248a2.4,2.4 0 1,0 4.9,0a2.4,2.4 0 1,0 -4.9,0M423,1268a3.4,2.5 0 1,0 6.8,0a3.4,2.5 0 1,0 -6.8,0M433,1048a3.5,2.5 0 1,0 7.0,0a3.5,2.5 0 1,0 -7.0,0M464,1288a3.5,3.3 0 1,0 7.0,0a3.5,3.3 0 1,0 -7.0,0M445,1072a2.7,2.2 0 1,0 5.3,0a2.7,2.2 0 1,0 -5.3,0M422,1281a3.0,2.5 0 1,0 6.0,0a3.0,2.5 0 1,0 -6.0,0M459,1354a2.6,2.1 0 1,0 5.2,0a2.6,2.1 0 1,0 -5.2,0M425,1175a2.5,2.0 0 1,0 5.0,0a2.5,2.0 0 1,0 -5.0,0M444,1056a3.7,3.6 0 1,0 7.3,0a3.7,3.6 0 1,0 -7.3,0M431,1179a3.2,2.6 0 1,0 6.5,0a3.2,2.6 0 1,0 -6.5,0M418,1121a2.6,2.5 0 1,0 5.3,0a2.6,2.5 0 1,0 -5.3,0M466,1040a2.6,2.5 0 1,0 5.2,0a2.6,2.5 0 1,0 -5.2,0M466,1262a2.7,2.0 0 1,0 5.4,0a2.7,2.0 0 1,0 -5.4,0M446,1372a2.5,2.1 0 1,0 4.9,0a2.5,2.1 0 1,0 -4.9,0M448,1045a3.5,3.1 0 1,0 7.0,0a3.5,3.1 0 1,0 -7.0,0M418,1359a2.5,2.2 0 1,0 5.0,0a2.5,2.2 0 1,0 -5.0,0M468,1305a2.6,2.4 0 1,0 5.2,0a2.6,2.4 0 1,0 -5.2,0M473,1309a2.6,2.1 0 1,0 5.1,0a2.6,2.1 0 1,0 -5.1,0M439,1326a2.8,2.6 0 1,0 5.6,0a2.8,2.6 0 1,0 -5.6,0M441,1365a2.9,2.8 0 1,0 5.7,0a2.9,2.8 0 1,0 -5.7,0M418,1207a3.0,2.7 0 1,0 6.0,0a3.0,2.7 0 1,0 -6.0,0M439,1271a2.5,2.1 0 1,0 5.1,0a2.5,2.1 0 1,0 -5.1,0M455,1050a2.9,2.5 0 1,0 5.8,0a2.9,2.5 0 1,0 -5.8,0M486,1108a2.9,2.8 0 1,0 5.8,0a2.9,2.8 0 1,0 -5.8,0M444,1266a2.3,2.2 0 1,0 4.6,0a2.3,2.2 0 1,0 -4.6,0M492,1334a3.3,2.7 0 1,0 6.5,0a3.3,2.7 0 1,0 -6.5,0M450,1103a3.2,2.3 0 1,0 6.3,0a3.2,2.3 0 1,0 -6.3,0M433,1089a3.4,3.2 0 1,0 6.8,0a3.4,3.2 0 1,0 -6.8,0M467,1387a2.8,2.2 0 1,0 5.5,0a2.8,2.2 0 1,0 -5.5,0M473,1282a2.9,2.4 0 1,0 5.9,0a2.9,2.4 0 1,0 -5.9,0M445,1337a2.8,2.0 0 1,0 5.7,0a2.8,2.0 0 1,0 -5.7,0M417,1368a2.8,2.3 0 1,0 5.7,0a2.8,2.3 0 1,0 -5.7,0M482,1339a2.9,2.4 0 1,0 5.7,0a2.9,2.4 0 1,0 -5.7,0M437,1232a2.8,2.4 0 1,0 5.5,0a2.8,2.4 0 1,0 -5.5,0M484,1127a3.4,2.6 0 1,0 6.7,0a3.4,2.6 0 1,0 -6.7,0M429,1317a2.6,1.9 0 1,0 5.1,0a2.6,1.9 0 1,0 -5.1,0M427,1346a3.4,2.4 0 1,0 6.9,0a3.4,2.4 0 1,0 -6.9,0M467,1170a3.1,2.8 0 1,0 6.2,0a3.1,2.8 0 1,0 -6.2,0M460,1264a3.1,2.6 0 1,0 6.1,0a3.1,2.6 0 1,0 -6.1,0M472,1371a3.3,2.8 0 1,0 6.6,0a3.3,2.8 0 1,0 -6.6,0M428,1059a2.9,2.1 0 1,0 5.9,0a2.9,2.1 0 1,0 -5.9,0M445,1355a3.2,2.4 0 1,0 6.4,0a3.2,2.4 0 1,0 -6.4,0M484,1034a3.6,3.3 0 1,0 7.3,0a3.6,3.3 0 1,0 -7.3,0M442,1140a3.1,3.1 0 1,0 6.3,0a3.1,3.1 0 1,0 -6.3,0M431,1259a3.3,2.5 0 1,0 6.6,0a3.3,2.5 0 1,0 -6.6,0M444,1187a2.9,2.5 0 1,0 5.9,0a2.9,2.5 0 1,0 -5.9,0M587,1253a2.9,2.3 0 1,0 5.8,0a2.9,2.3 0 1,0 -5.8,0M616,1070a3.4,2.7 0 1,0 6.7,0a3.4,2.7 0 1,0 -6.7,0M564,1159a2.3,2.3 0 1,0 4.7,0a2.3,2.3 0 1,0 -4.7,0M598,1087a2.8,2.7 0 1,0 5.6,0a2.8,2.7 0 1,0 -5.6,0M590,1271a2.8,2.4 0 1,0 5.6,0a2.8,2.4 0 1,0 -5.6,0M619,1141a3.0,2.5 0 1,0 5.9,0a3.0,2.5 0 1,0 -5.9,0M592,1296a3.5,2.8 0 1,0 7.0,0a3.5,2.8 0 1,0 -7.0,0M599,1169a3.7,2.7 0 1,0 7.4,0a3.7,2.7 0 1,0 -7.4,0M613,1244a3.3,3.2 0 1,0 6.6,0a3.3,3.2 0 1,0 -6.6,0M588,1320a3.1,2.2 0 1,0 6.2,0a3.1,2.2 0 1,0 -6.2,0M580,1161a2.7,2.4 0 1,0 5.3,0a2.7,2.4 0 1,0 -5.3,0M609,1252a2.5,2.3 0 1,0 5.1,0a2.5,2.3 0 1,0 -5.1,0M622,1145a3.6,2.8 0 1,0 7.3,0a3.6,2.8 0 1,0 -7.3,0M581,1217a2.7,2.2 0 1,0 5.3,0a2.7,2.2 0 1,0 -5.3,0M590,1154a3.7,3.0 0 1,0 7.3,0a3.7,3.0 0 1,0 -7.3,0M603,1191a2.9,2.6 0 1,0 5.8,0a2.9,2.6 0 1,0 -5.8,0M621,1242a3.3,2.7 0 1,0 6.6,0a3.3,2.7 0 1,0 -6.6,0M598,1233a2.4,1.9 0 1,0 4.8,0a2.4,1.9 0 1,0 -4.8,0M608,1269a3.5,3.3 0 1,0 7.0,0a3.5,3.3 0 1,0 -7.0,0M616,1249a2.4,2.2 0 1,0 4.9,0a2.4,2.2 0 1,0 -4.9,0M623,1042a2.4,2.1 0 1,0 4.8,0a2.4,2.1 0 1,0 -4.8,0M603,1200a3.5,2.7 0 1,0 7.1,0a3.5,2.7 0 1,0 -7.1,0M610,1278a2.4,1.8 0 1,0 4.8,0a2.4,1.8 0 1,0 -4.8,0M608,1210a2.5,2.1 0 1,0 5.0,0a2.5,2.1 0 1,0 -5.0,0M622,1305a3.5,3.1 0 1,0 6.9,0a3.5,3.1 0 1,0 -6.9,0M607,1229a3.7,2.9 0 1,0 7.4,0a3.7,2.9 0 1,0 -7.4,0M620,1189a3.3,2.3 0 1,0 6.5,0a3.3,2.3 0 1,0 -6.5,0M584,1149a2.4,2.3 0 1,0 4.9,0a2.4,2.3 0 1,0 -4.9,0M620,1387a3.4,2.4 0 1,0 6.8,0a3.4,2.4 0 1,0 -6.8,0M614,1333a3.6,3.6 0 1,0 7.3,0a3.6,3.6 0 1,0 -7.3,0M575,1209a3.3,2.6 0 1,0 6.6,0a3.3,2.6 0 1,0 -6.6,0M625,1151a2.7,2.0 0 1,0 5.4,0a2.7,2.0 0 1,0 -5.4,0M619,1348a2.8,2.0 0 1,0 5.6,0a2.8,2.0 0 1,0 -5.6,0M606,1105a3.1,3.1 0 1,0 6.2,0a3.1,3.1 0 1,0 -6.2,0M608,1237a2.7,2.1 0 1,0 5.4,0a2.7,2.1 0 1,0 -5.4,0M607,1072a2.3,2.3 0 1,0 4.6,0a2.3,2.3 0 1,0 -4.6,0M591,1165a2.6,2.0 0 1,0 5.3,0a2.6,2.0 0 1,0 -5.3,0M612,1207a3.4,2.5 0 1,0 6.7,0a3.4,2.5 0 1,0 -6.7,0M607,1032a3.3,3.0 0 1,0 6.6,0a3.3,3.0 0 1,0 -6.6,0M614,1175a3.5,3.2 0 1,0 6.9,0a3.5,3.2 0 1,0 -6.9,0M608,1174a2.7,2.2 0 1,0 5.4,0a2.7,2.2 0 1,0 -5.4,0M575,1257a2.9,2.7 0 1,0 5.8,0a2.9,2.7 0 1,0 -5.8,0M621,1358a2.4,1.7 0 1,0 4.8,0a2.4,1.7 0 1,0 -4.8,0M578,1098a3.3,2.8 0 1,0 6.6,0a3.3,2.8 0 1,0 -6.6,0M566,1170a2.7,2.4 0 1,0 5.5,0a2.7,2.4 0 1,0 -5.5,0M567,1202a3.1,2.8 0 1,0 6.2,0a3.1,2.8 0 1,0 -6.2,0M594,1240a3.1,2.8 0 1,0 6.2,0a3.1,2.8 0 1,0 -6.2,0M608,1352a2.4,1.9 0 1,0 4.9,0a2.4,1.9 0 1,0 -4.9,0M579,1279a2.7,2.5 0 1,0 5.5,0a2.7,2.5 0 1,0 -5.5,0M590,1263a2.8,2.2 0 1,0 5.6,0a2.8,2.2 0 1,0 -5.6,0M601,1132a3.4,2.4 0 1,0 6.7,0a3.4,2.4 0 1,0 -6.7,0M626,1083a3.7,2.8 0 1,0 7.4,0a3.7,2.8 0 1,0 -7.4,0M597,1109a3.7,3.3 0 1,0 7.4,0a3.7,3.3 0 1,0 -7.4,0M589,1341a2.3,1.8 0 1,0 4.6,0a2.3,1.8 0 1,0 -4.6,0M581,1225a3.5,2.6 0 1,0 7.0,0a3.5,2.6 0 1,0 -7.0,0M625,1379a3.0,2.3 0 1,0 5.9,0a3.0,2.3 0 1,0 -5.9,0M586,1042a2.5,1.9 0 1,0 5.0,0a2.5,1.9 0 1,0 -5.0,0M622,1311a3.4,2.6 0 1,0 6.8,0a3.4,2.6 0 1,0 -6.8,0M623,1058a2.6,2.1 0 1,0 5.2,0a2.6,2.1 0 1,0 -5.2,0M603,1250a2.4,2.3 0 1,0 4.8,0a2.4,2.3 0 1,0 -4.8,0M580,1259a3.0,2.1 0 1,0 6.0,0a3.0,2.1 0 1,0 -6.0,0M606,1387a2.8,2.7 0 1,0 5.5,0a2.8,2.7 0 1,0 -5.5,0M626,1247a3.3,2.8 0 1,0 6.6,0a3.3,2.8 0 1,0 -6.6,0M627,1384a3.4,2.5 0 1,0 6.7,0a3.4,2.5 0 1,0 -6.7,0M597,1140a2.9,2.6 0 1,0 5.8,0a2.9,2.6 0 1,0 -5.8,0M616,1075a3.7,3.0 0 1,0 7.4,0a3.7,3.0 0 1,0 -7.4,0M618,1279a3.3,3.1 0 1,0 6.6,0a3.3,3.1 0 1,0 -6.6,0M612,1214a3.4,3.1 0 1,0 6.8,0a3.4,3.1 0 1,0 -6.8,0M626,1271a2.9,2.2 0 1,0 5.9,0a2.9,2.2 0 1,0 -5.9,0M610,1100a3.0,2.3 0 1,0 6.1,0a3.0,2.3 0 1,0 -6.1,0M564,1126a2.8,2.5 0 1,0 5.5,0a2.8,2.5 0 1,0 -5.5,0M564,1133a2.7,2.0 0 1,0 5.4,0a2.7,2.0 0 1,0 -5.4,0M559,1112a2.6,1.9 0 1,0 5.3,0a2.6,1.9 0 1,0 -5.3,0M557,1092a2.8,2.0 0 1,0 5.7,0a2.8,2.0 0 1,0 -5.7,0M549,1064a3.4,2.5 0 1,0 6.9,0a3.4,2.5 0 1,0 -6.9,0" fill="#20207a"/>
<path d="M448,1051a3.3,3.1 0 1,0 6.6,0a3.3,3.1 0 1,0 -6.6,0M425,1202a2.3,2.2 0 1,0 4.6,0a2.3,2.2 0 1,0 -4.6,0M468,1192a3.0,2.7 0 1,0 6.0,0a3.0,2.7 0 1,0 -6.0,0M477,1382a2.4,2.3 0 1,0 4.7,0a2.4,2.3 0 1,0 -4.7,0M439,1183a2.8,2.7 0 1,0 5.6,0a2.8,2.7 0 1,0 -5.6,0M452,1281a3.4,2.5 0 1,0 6.8,0a3.4,2.5 0 1,0 -6.8,0M465,1329a3.0,2.9 0 1,0 6.0,0a3.0,2.9 0 1,0 -6.0,0M435,1277a2.9,2.4 0 1,0 5.8,0a2.9,2.4 0 1,0 -5.8,0M494,1343a2.4,2.4 0 1,0 4.9,0a2.4,2.4 0 1,0 -4.9,0M447,1170a2.4,2.2 0 1,0 4.8,0a2.4,2.2 0 1,0 -4.8,0M465,1122a3.4,3.3 0 1,0 6.8,0a3.4,3.3 0 1,0 -6.8,0M425,1109a2.4,1.7 0 1,0 4.8,0a2.4,1.7 0 1,0 -4.8,0M449,1083a2.9,2.4 0 1,0 5.8,0a2.9,2.4 0 1,0 -5.8,0M427,1363a2.3,1.8 0 1,0 4.7,0a2.3,1.8 0 1,0 -4.7,0M445,1273a3.7,2.8 0 1,0 7.4,0a3.7,2.8 0 1,0 -7.4,0M435,1211a3.1,2.3 0 1,0 6.1,0a3.1,2.3 0 1,0 -6.1,0M478,1068a2.6,2.1 0 1,0 5.2,0a2.6,2.1 0 1,0 -5.2,0M491,1328a2.5,2.2 0 1,0 5.0,0a2.5,2.2 0 1,0 -5.0,0M483,1322a3.2,2.4 0 1,0 6.3,0a3.2,2.4 0 1,0 -6.3,0M454,1316a3.6,3.1 0 1,0 7.1,0a3.6,3.1 0 1,0 -7.1,0M432,1331a3.2,3.0 0 1,0 6.5,0a3.2,3.0 0 1,0 -6.5,0M467,1280a2.5,2.2 0 1,0 5.0,0a2.5,2.2 0 1,0 -5.0,0M447,1196a3.6,3.2 0 1,0 7.3,0a3.6,3.2 0 1,0 -7.3,0M448,1329a3.2,2.4 0 1,0 6.4,0a3.2,2.4 0 1,0 -6.4,0M435,1239a3.1,2.8 0 1,0 6.2,0a3.1,2.8 0 1,0 -6.2,0M418,1138a3.4,2.9 0 1,0 6.9,0a3.4,2.9 0 1,0 -6.9,0M422,1212a2.3,2.0 0 1,0 4.7,0a2.3,2.0 0 1,0 -4.7,0M470,1129a2.6,2.0 0 1,0 5.3,0a2.6,2.0 0 1,0 -5.3,0M433,1313a2.5,2.5 0 1,0 5.0,0a2.5,2.5 0 1,0 -5.0,0M460,1045a3.3,2.7 0 1,0 6.6,0a3.3,2.7 0 1,0 -6.6,0M425,1131a3.1,2.2 0 1,0 6.1,0a3.1,2.2 0 1,0 -6.1,0M452,1158a2.6,2.4 0 1,0 5.2,0a2.6,2.4 0 1,0 -5.2,0M429,1083a2.6,2.1 0 1,0 5.1,0a2.6,2.1 0 1,0 -5.1,0M423,1031a3.7,2.7 0 1,0 7.4,0a3.7,2.7 0 1,0 -7.4,0M469,1094a3.5,3.1 0 1,0 7.0,0a3.5,3.1 0 1,0 -7.0,0M452,1056a3.4,2.4 0 1,0 6.7,0a3.4,2.4 0 1,0 -6.7,0M462,1191a3.4,3.1 0 1,0 6.7,0a3.4,3.1 0 1,0 -6.7,0M446,1096a3.5,2.9 0 1,0 6.9,0a3.5,2.9 0 1,0 -6.9,0M461,1333a3.5,2.9 0 1,0 6.9,0a3.5,2.9 0 1,0 -6.9,0M428,1279a3.3,2.8 0 1,0 6.7,0a3.3,2.8 0 1,0 -6.7,0M423,1385a2.6,2.5 0 1,0 5.3,0a2.6,2.5 0 1,0 -5.3,0M441,1160a2.5,2.2 0 1,0 5.0,0a2.5,2.2 0 1,0 -5.0,0M471,1346a3.0,2.7 0 1,0 6.0,0a3.0,2.7 0 1,0 -6.0,0M444,1201a3.5,3.4 0 1,0 7.1,0a3.5,3.4 0 1,0 -7.1,0M482,1145a3.7,3.0 0 1,0 7.3,0a3.7,3.0 0 1,0 -7.3,0M443,1321a2.9,2.2 0 1,0 5.8,0a2.9,2.2 0 1,0 -5.8,0M429,1194a2.3,2.1 0 1,0 4.7,0a2.3,2.1 0 1,0 -4.7,0M437,1102a3.4,3.3 0 1,0 6.8,0a3.4,3.3 0 1,0 -6.8,0M472,1059a2.5,2.4 0 1,0 4.9,0a2.5,2.4 0 1,0 -4.9,0M423,1228a2.6,2.5 0 1,0 5.1,0a2.6,2.5 0 1,0 -5.1,0M447,1121a2.3,1.9 0 1,0 4.6,0a2.3,1.9 0 1,0 -4.6,0M471,1240a3.3,3.0 0 1,0 6.5,0a3.3,3.0 0 1,0 -6.5,0M431,1303a3.6,3.0 0 1,0 7.1,0a3.6,3.0 0 1,0 -7.1,0M471,1121a2.9,2.2 0 1,0 5.8,0a2.9,2.2 0 1,0 -5.8,0M478,1389a2.9,2.7 0 1,0 5.8,0a2.9,2.7 0 1,0 -5.8,0M418,1311a3.1,2.2 0 1,0 6.2,0a3.1,2.2 0 1,0 -6.2,0M457,1160a3.3,3.2 0 1,0 6.6,0a3.3,3.2 0 1,0 -6.6,0M459,1389a2.7,2.0 0 1,0 5.4,0a2.7,2.0 0 1,0 -5.4,0M431,1206a2.9,2.7 0 1,0 5.9,0a2.9,2.7 0 1,0 -5.9,0M443,1063a2.4,1.9 0 1,0 4.7,0a2.4,1.9 0 1,0 -4.7,0M418,1107a2.5,2.4 0 1,0 5.0,0a2.5,2.4 0 1,0 -5.0,0M454,1192a3.1,2.5 0 1,0 6.2,0a3.1,2.5 0 1,0 -6.2,0M420,1256a3.6,2.9 0 1,0 7.2,0a3.6,2.9 0 1,0 -7.2,0M427,1311a2.7,2.1 0 1,0 5.5,0a2.7,2.1 0 1,0 -5.5,0M440,1344a2.4,2.0 0 1,0 4.9,0a2.4,2.0 0 1,0 -4.9,0M485,1301a2.5,1.8 0 1,0 5.0,0a2.5,1.8 0 1,0 -5.0,0M470,1275a3.0,2.3 0 1,0 6.0,0a3.0,2.3 0 1,0 -6.0,0M427,1118a3.2,2.7 0 1,0 6.4,0a3.2,2.7 0 1,0 -6.4,0M436,1157a3.5,2.6 0 1,0 6.9,0a3.5,2.6 0 1,0 -6.9,0M484,1120a3.1,2.5 0 1,0 6.2,0a3.1,2.5 0 1,0 -6.2,0M464,1098a2.6,2.0 0 1,0 5.1,0a2.6,2.0 0 1,0 -5.1,0M452,1221a3.3,2.7 0 1,0 6.7,0a3.3,2.7 0 1,0 -6.7,0M435,1032a3.4,2.4 0 1,0 6.8,0a3.4,2.4 0 1,0 -6.8,0M423,1359a2.4,1.7 0 1,0 4.8,0a2.4,1.7 0 1,0 -4.8,0M575,1152a2.6,2.6 0 1,0 5.2,0a2.6,2.6 0 1,0 -5.2,0M603,1306a2.6,2.0 0 1,0 5.3,0a2.6,2.0 0 1,0 -5.3,0M594,1217a2.9,2.4 0 1,0 5.7,0a2.9,2.4 0 1,0 -5.7,0M579,1288a3.0,2.8 0 1,0 6.0,0a3.0,2.8 0 1,0 -6.0,0M624,1167a3.7,3.4 0 1,0 7.3,0a3.7,3.4 0 1,0 -7.3,0M603,1141a2.5,1.8 0 1,0 5.0,0a2.5,1.8 0 1,0 -5.0,0M606,1262a2.9,2.8 0 1,0 5.7,0a2.9,2.8 0 1,0 -5.7,0M619,1112a2.9,2.2 0 1,0 5.9,0a2.9,2.2 0 1,0 -5.9,0M593,1108a2.5,1.9 0 1,0 4.9,0a2.5,1.9 0 1,0 -4.9,0M616,1314a3.5,2.6 0 1,0 7.1,0a3.5,2.6 0 1,0 -7.1,0M590,1047a3.4,2.9 0 1,0 6.7,0a3.4,2.9 0 1,0 -6.7,0M576,1180a3.4,2.6 0 1,0 6.7,0a3.4,2.6 0 1,0 -6.7,0M588,1161a2.6,2.5 0 1,0 5.2,0a2.6,2.5 0 1,0 -5.2,0M615,1373a3.2,2.8 0 1,0 6.4,0a3.2,2.8 0 1,0 -6.4,0M608,1310a2.5,1.9 0 1,0 4.9,0a2.5,1.9 0 1,0 -4.9,0M568,1189a2.8,2.4 0 1,0 5.7,0a2.8,2.4 0 1,0 -5.7,0M584,1173a3.0,2.1 0 1,0 5.9,0a3.0,2.1 0 1,0 -5.9,0M624,1138a2.9,2.4 0 1,0 5.8,0a2.9,2.4 0 1,0 -5.8,0M584,1187a2.6,2.4 0 1,0 5.1,0a2.6,2.4 0 1,0 -5.1,0M623,1279a3.2,2.7 0 1,0 6.4,0a3.2,2.7 0 1,0 -6.4,0M606,1166a3.2,3.0 0 1,0 6.4,0a3.2,3.0 0 1,0 -6.4,0M591,1368a2.9,2.1 0 1,0 5.7,0a2.9,2.1 0 1,0 -5.7,0M619,1228a3.4,3.0 0 1,0 6.8,0a3.4,3.0 0 1,0 -6.8,0M571,1136a2.4,2.2 0 1,0 4.8,0a2.4,2.2 0 1,0 -4.8,0M580,1142a2.3,1.9 0 1,0 4.7,0a2.3,1.9 0 1,0 -4.7,0M574,1199a2.3,1.8 0 1,0 4.6,0a2.3,1.8 0 1,0 -4.6,0M592,1196a3.6,2.8 0 1,0 7.1,0a3.6,2.8 0 1,0 -7.1,0M597,1260a2.7,2.2 0 1,0 5.3,0a2.7,2.2 0 1,0 -5.3,0M627,1224a2.5,2.4 0 1,0 5.1,0a2.5,2.4 0 1,0 -5.1,0M603,1178a3.3,2.4 0 1,0 6.6,0a3.3,2.4 0 1,0 -6.6,0M593,1336a2.4,2.0 0 1,0 4.8,0a2.4,2.0 0 1,0 -4.8,0M625,1036a2.5,2.5 0 1,0 4.9,0a2.5,2.5 0 1,0 -4.9,0M590,1071a3.7,2.9 0 1,0 7.4,0a3.7,2.9 0 1,0 -7.4,0M595,1268a2.5,1.9 0 1,0 5.0,0a2.5,1.9 0 1,0 -5.0,0M578,1106a3.5,2.8 0 1,0 6.9,0a3.5,2.8 0 1,0 -6.9,0M597,1363a2.6,2.5 0 1,0 5.2,0a2.6,2.5 0 1,0 -5.2,0M600,1213a2.6,2.6 0 1,0 5.3,0a2.6,2.6 0 1,0 -5.3,0M574,1115a2.3,1.7 0 1,0 4.7,0a2.3,1.7 0 1,0 -4.7,0M600,1383a3.1,2.2 0 1,0 6.1,0a3.1,2.2 0 1,0 -6.1,0M605,1223a2.5,1.9 0 1,0 5.0,0a2.5,1.9 0 1,0 -5.0,0M610,1055a2.6,2.1 0 1,0 5.1,0a2.6,2.1 0 1,0 -5.1,0M593,1329a3.2,2.8 0 1,0 6.5,0a3.2,2.8 0 1,0 -6.5,0M626,1159a3.0,2.3 0 1,0 6.0,0a3.0,2.3 0 1,0 -6.0,0M580,1203a2.5,2.1 0 1,0 4.9,0a2.5,2.1 0 1,0 -4.9,0M608,1247a3.3,2.9 0 1,0 6.5,0a3.3,2.9 0 1,0 -6.5,0M604,1095a3.6,2.8 0 1,0 7.2,0a3.6,2.8 0 1,0 -7.2,0M604,1337a2.9,2.7 0 1,0 5.8,0a2.9,2.7 0 1,0 -5.8,0M594,1290a3.3,2.3 0 1,0 6.6,0a3.3,2.3 0 1,0 -6.6,0M609,1257a2.9,2.1 0 1,0 5.8,0a2.9,2.1 0 1,0 -5.8,0M593,1170a3.2,2.3 0 1,0 6.5,0a3.2,2.3 0 1,0 -6.5,0M589,1238a3.0,2.7 0 1,0 6.0,0a3.0,2.7 0 1,0 -6.0,0M616,1306a2.7,2.4 0 1,0 5.5,0a2.7,2.4 0 1,0 -5.5,0M601,1218a3.3,2.3 0 1,0 6.6,0a3.3,2.3 0 1,0 -6.6,0M583,1264a3.5,3.5 0 1,0 7.0,0a3.5,3.5 0 1,0 -7.0,0M587,1036a2.8,2.2 0 1,0 5.5,0a2.8,2.2 0 1,0 -5.5,0M579,1167a2.4,2.1 0 1,0 4.7,0a2.4,2.1 0 1,0 -4.7,0M598,1174a3.0,2.7 0 1,0 6.0,0a3.0,2.7 0 1,0 -6.0,0M580,1198a3.5,3.3 0 1,0 7.0,0a3.5,3.3 0 1,0 -7.0,0M627,1230a3.1,2.6 0 1,0 6.1,0a3.1,2.6 0 1,0 -6.1,0M615,1199a3.0,3.0 0 1,0 6.1,0a3.0,3.0 0 1,0 -6.1,0M621,1316a2.7,2.2 0 1,0 5.5,0a2.7,2.2 0 1,0 -5.5,0M615,1390a3.0,2.6 0 1,0 6.0,0a3.0,2.6 0 1,0 -6.0,0M606,1185a3.5,2.5 0 1,0 7.0,0a3.5,2.5 0 1,0 -7.0,0M621,1182a2.3,1.7 0 1,0 4.7,0a2.3,1.7 0 1,0 -4.7,0M553,1080a3.2,2.8 0 1,0 6.3,0a3.2,2.8 0 1,0 -6.3,0M565,1096a2.8,2.6 0 1,0 5.6,0a2.8,2.6 0 1,0 -5.6,0M563,1055a3.1,2.5 0 1,0 6.2,0a3.1,2.5 0 1,0 -6.2,0M553,1086a2.4,2.0 0 1,0 4.7,0a2.4,2.0 0 1,0 -4.7,0" fill="#26268a"/>
<path d="M432,1095a3.5,3.2 0 1,0 7.1,0a3.5,3.2 0 1,0 -7.1,0M453,1309a3.0,2.4 0 1,0 6.1,0a3.0,2.4 0 1,0 -6.1,0M466,1226a2.8,2.3 0 1,0 5.6,0a2.8,2.3 0 1,0 -5.6,0M469,1136a3.2,3.1 0 1,0 6.4,0a3.2,3.1 0 1,0 -6.4,0M421,1322a3.0,2.7 0 1,0 6.0,0a3.0,2.7 0 1,0 -6.0,0M433,1037a2.9,2.6 0 1,0 5.9,0a2.9,2.6 0 1,0 -5.9,0M494,1385a2.6,2.4 0 1,0 5.3,0a2.6,2.4 0 1,0 -5.3,0M471,1185a2.9,2.3 0 1,0 5.7,0a2.9,2.3 0 1,0 -5.7,0M473,1142a3.1,2.5 0 1,0 6.2,0a3.1,2.5 0 1,0 -6.2,0M428,1214a3.0,3.0 0 1,0 6.1,0a3.0,3.0 0 1,0 -6.1,0M483,1066a3.6,2.6 0 1,0 7.2,0a3.6,2.6 0 1,0 -7.2,0M431,1233a2.4,2.2 0 1,0 4.7,0a2.4,2.2 0 1,0 -4.7,0M462,1092a3.0,2.2 0 1,0 6.0,0a3.0,2.2 0 1,0 -6.0,0M439,1261a2.3,2.0 0 1,0 4.6,0a2.3,2.0 0 1,0 -4.6,0M417,1164a3.4,2.5 0 1,0 6.9,0a3.4,2.5 0 1,0 -6.9,0M420,1303a3.3,3.2 0 1,0 6.7,0a3.3,3.2 0 1,0 -6.7,0M446,1304a3.1,2.6 0 1,0 6.1,0a3.1,2.6 0 1,0 -6.1,0M434,1221a3.1,2.7 0 1,0 6.3,0a3.1,2.7 0 1,0 -6.3,0M433,1253a2.4,2.2 0 1,0 4.8,0a2.4,2.2 0 1,0 -4.8,0M418,1285a3.6,3.4 0 1,0 7.1,0a3.6,3.4 0 1,0 -7.1,0M418,1129a3.7,2.6 0 1,0 7.3,0a3.7,2.6 0 1,0 -7.3,0M440,1194a3.6,3.5 0 1,0 7.1,0a3.6,3.5 0 1,0 -7.1,0M453,1092a2.4,1.9 0 1,0 4.8,0a2.4,1.9 0 1,0 -4.8,0M473,1173a2.4,1.7 0 1,0 4.8,0a2.4,1.7 0 1,0 -4.8,0M464,1159a3.0,2.9 0 1,0 6.0,0a3.0,2.9 0 1,0 -6.0,0M436,1193a2.8,2.7 0 1,0 5.5,0a2.8,2.7 0 1,0 -5.5,0M468,1214a2.8,2.2 0 1,0 5.7,0a2.8,2.2 0 1,0 -5.7,0M482,1307a2.9,2.7 0 1,0 5.7,0a2.9,2.7 0 1,0 -5.7,0M420,1092a2.7,2.4 0 1,0 5.4,0a2.7,2.4 0 1,0 -5.4,0M459,1225a2.6,2.1 0 1,0 5.2,0a2.6,2.1 0 1,0 -5.2,0M443,1031a2.8,2.0 0 1,0 5.7,0a2.8,2.0 0 1,0 -5.7,0M440,1037a2.6,1.9 0 1,0 5.3,0a2.6,1.9 0 1,0 -5.3,0M460,1145a3.6,3.5 0 1,0 7.1,0a3.6,3.5 0 1,0 -7.1,0M462,1168a2.4,2.1 0 1,0 4.8,0a2.4,2.1 0 1,0 -4.8,0M417,1376a3.1,2.4 0 1,0 6.2,0a3.1,2.4 0 1,0 -6.2,0M433,1135a2.5,2.0 0 1,0 5.0,0a2.5,2.0 0 1,0 -5.0,0M447,1297a2.4,1.9 0 1,0 4.9,0a2.4,1.9 0 1,0 -4.9,0M455,1074a3.6,3.3 0 1,0 7.2,0a3.6,3.3 0 1,0 -7.2,0M462,1036a2.5,2.2 0 1,0 5.0,0a2.5,2.2 0 1,0 -5.0,0M476,1324a2.5,2.3 0 1,0 4.9,0a2.5,2.3 0 1,0 -4.9,0M455,1338a2.5,1.9 0 1,0 5.0,0a2.5,1.9 0 1,0 -5.0,0M436,1391a3.2,2.7 0 1,0 6.5,0a3.2,2.7 0 1,0 -6.5,0M474,1355a2.4,2.1 0 1,0 4.9,0a2.4,2.1 0 1,0 -4.9,0M421,1380a3.0,2.7 0 1,0 6.0,0a3.0,2.7 0 1,0 -6.0,0M455,1285a3.5,3.1 0 1,0 6.9,0a3.5,3.1 0 1,0 -6.9,0M482,1374a3.6,3.5 0 1,0 7.1,0a3.6,3.5 0 1,0 -7.1,0M460,1084a3.5,2.6 0 1,0 7.1,0a3.5,2.6 0 1,0 -7.1,0M431,1129a3.3,2.6 0 1,0 6.6,0a3.3,2.6 0 1,0 -6.6,0M470,1229a3.5,3.4 0 1,0 7.0,0a3.5,3.4 0 1,0 -7.0,0M488,1102a2.3,2.0 0 1,0 4.6,0a2.3,2.0 0 1,0 -4.6,0M468,1065a3.0,2.4 0 1,0 5.9,0a3.0,2.4 0 1,0 -5.9,0M417,1272a3.7,2.7 0 1,0 7.4,0a3.7,2.7 0 1,0 -7.4,0M439,1357a3.3,2.6 0 1,0 6.6,0a3.3,2.6 0 1,0 -6.6,0M419,1334a2.8,2.6 0 1,0 5.7,0a2.8,2.6 0 1,0 -5.7,0M471,1111a2.9,2.5 0 1,0 5.7,0a2.9,2.5 0 1,0 -5.7,0M473,1222a2.5,2.1 0 1,0 5.1,0a2.5,2.1 0 1,0 -5.1,0M445,1289a2.5,2.2 0 1,0 5.0,0a2.5,2.2 0 1,0 -5.0,0M477,1341a2.6,2.5 0 1,0 5.3,0a2.6,2.5 0 1,0 -5.3,0M482,1048a3.3,2.9 0 1,0 6.6,0a3.3,2.9 0 1,0 -6.6,0M448,1259a3.3,2.7 0 1,0 6.7,0a3.3,2.7 0 1,0 -6.7,0M445,1249a2.5,2.0 0 1,0 5.0,0a2.5,2.0 0 1,0 -5.0,0M425,1095a3.0,3.0 0 1,0 6.0,0a3.0,3.0 0 1,0 -6.0,0M433,1077a3.2,2.8 0 1,0 6.4,0a3.2,2.8 0 1,0 -6.4,0M494,1351a3.0,2.9 0 1,0 6.0,0a3.0,2.9 0 1,0 -6.0,0M435,1341a2.7,2.6 0 1,0 5.3,0a2.7,2.6 0 1,0 -5.3,0M445,1036a3.5,3.1 0 1,0 6.9,0a3.5,3.1 0 1,0 -6.9,0M429,1043a3.6,3.2 0 1,0 7.2,0a3.6,3.2 0 1,0 -7.2,0M471,1328a3.4,3.1 0 1,0 6.7,0a3.4,3.1 0 1,0 -6.7,0M424,1289a3.0,2.4 0 1,0 6.0,0a3.0,2.4 0 1,0 -6.0,0M438,1332a3.0,2.2 0 1,0 6.0,0a3.0,2.2 0 1,0 -6.0,0M462,1138a3.1,2.4 0 1,0 6.3,0a3.1,2.4 0 1,0 -6.3,0M437,1205a3.4,3.2 0 1,0 6.9,0a3.4,3.2 0 1,0 -6.9,0M418,1326a2.8,2.5 0 1,0 5.5,0a2.8,2.5 0 1,0 -5.5,0M450,1151a3.4,3.2 0 1,0 6.8,0a3.4,3.2 0 1,0 -6.8,0M622,1120a3.5,2.5 0 1,0 7.0,0a3.5,2.5 0 1,0 -7.0,0M610,1372a2.7,2.3 0 1,0 5.4,0a2.7,2.3 0 1,0 -5.4,0M588,1375a2.8,2.2 0 1,0 5.5,0a2.8,2.2 0 1,0 -5.5,0M612,1385a2.7,2.1 0 1,0 5.5,0a2.7,2.1 0 1,0 -5.5,0M603,1121a3.2,2.4 0 1,0 6.4,0a3.2,2.4 0 1,0 -6.4,0M577,1223a2.6,2.0 0 1,0 5.2,0a2.6,2.0 0 1,0 -5.2,0M599,1318a2.9,2.8 0 1,0 5.7,0a2.9,2.8 0 1,0 -5.7,0M580,1297a2.5,2.4 0 1,0 4.9,0a2.5,2.4 0 1,0 -4.9,0M583,1113a2.7,2.0 0 1,0 5.5,0a2.7,2.0 0 1,0 -5.5,0M615,1340a3.5,2.7 0 1,0 7.0,0a3.5,2.7 0 1,0 -7.0,0M612,1219a3.6,3.2 0 1,0 7.2,0a3.6,3.2 0 1,0 -7.2,0M601,1284a3.1,3.0 0 1,0 6.3,0a3.1,3.0 0 1,0 -6.3,0M584,1326a3.2,2.9 0 1,0 6.4,0a3.2,2.9 0 1,0 -6.4,0M617,1287a2.5,2.2 0 1,0 5.0,0a2.5,2.2 0 1,0 -5.0,0M586,1302a2.5,2.5 0 1,0 4.9,0a2.5,2.5 0 1,0 -4.9,0M590,1126a3.1,2.5 0 1,0 6.1,0a3.1,2.5 0 1,0 -6.1,0M575,1173a3.5,3.5 0 1,0 7.0,0a3.5,3.5 0 1,0 -7.0,0M599,1327a3.2,2.6 0 1,0 6.4,0a3.2,2.6 0 1,0 -6.4,0M613,1092a2.5,1.9 0 1,0 5.1,0a2.5,1.9 0 1,0 -5.1,0M598,1075a2.7,2.0 0 1,0 5.3,0a2.7,2.0 0 1,0 -5.3,0M600,1183a3.7,3.2 0 1,0 7.4,0a3.7,3.2 0 1,0 -7.4,0M617,1320a3.6,3.0 0 1,0 7.1,0a3.6,3.0 0 1,0 -7.1,0M588,1090a2.9,2.5 0 1,0 5.7,0a2.9,2.5 0 1,0 -5.7,0M613,1298a2.7,2.3 0 1,0 5.4,0a2.7,2.3 0 1,0 -5.4,0M613,1224a3.6,2.6 0 1,0 7.2,0a3.6,2.6 0 1,0 -7.2,0M576,1157a3.0,2.6 0 1,0 6.0,0a3.0,2.6 0 1,0 -6.0,0M616,1058a3.5,3.5 0 1,0 7.1,0a3.5,3.5 0 1,0 -7.1,0M601,1160a2.5,2.1 0 1,0 4.9,0a2.5,2.1 0 1,0 -4.9,0M607,1115a2.4,1.7 0 1,0 4.8,0a2.4,1.7 0 1,0 -4.8,0M582,1333a3.6,3.1 0 1,0 7.3,0a3.6,3.1 0 1,0 -7.3,0M611,1287a2.6,1.9 0 1,0 5.2,0a2.6,1.9 0 1,0 -5.2,0M610,1340a3.2,2.7 0 1,0 6.3,0a3.2,2.7 0 1,0 -6.3,0M615,1144a3.1,2.9 0 1,0 6.2,0a3.1,2.9 0 1,0 -6.2,0M597,1370a2.7,2.2 0 1,0 5.5,0a2.7,2.2 0 1,0 -5.5,0M582,1092a3.4,2.5 0 1,0 6.8,0a3.4,2.5 0 1,0 -6.8,0M586,1081a3.0,2.6 0 1,0 6.0,0a3.0,2.6 0 1,0 -6.0,0M607,1083a2.6,2.3 0 1,0 5.2,0a2.6,2.3 0 1,0 -5.2,0M610,1110a3.0,2.8 0 1,0 6.0,0a3.0,2.8 0 1,0 -6.0,0M613,1262a3.4,2.8 0 1,0 6.8,0a3.4,2.8 0 1,0 -6.8,0M588,1229a3.6,2.7 0 1,0 7.3,0a3.6,2.7 0 1,0 -7.3,0M594,1159a2.5,2.0 0 1,0 5.0,0a2.5,2.0 0 1,0 -5.0,0M584,1278a3.2,2.4 0 1,0 6.3,0a3.2,2.4 0 1,0 -6.3,0M579,1150a3.2,2.4 0 1,0 6.4,0a3.2,2.4 0 1,0 -6.4,0M593,1080a2.5,1.8 0 1,0 5.0,0a2.5,1.8 0 1,0 -5.0,0M615,1352a2.9,2.5 0 1,0 5.8,0a2.9,2.5 0 1,0 -5.8,0M608,1145a2.9,2.7 0 1,0 5.9,0a2.9,2.7 0 1,0 -5.9,0M620,1177a3.6,2.8 0 1,0 7.2,0a3.6,2.8 0 1,0 -7.2,0M595,1208a2.3,1.8 0 1,0 4.7,0a2.3,1.8 0 1,0 -4.7,0M578,1136a2.8,2.2 0 1,0 5.6,0a2.8,2.2 0 1,0 -5.6,0M573,1177a2.6,2.1 0 1,0 5.1,0a2.6,2.1 0 1,0 -5.1,0M582,1210a3.0,2.5 0 1,0 6.1,0a3.0,2.5 0 1,0 -6.1,0M570,1209a2.9,2.7 0 1,0 5.8,0a2.9,2.7 0 1,0 -5.8,0M625,1070a2.5,2.2 0 1,0 5.1,0a2.5,2.2 0 1,0 -5.1,0M573,1238a3.3,2.8 0 1,0 6.6,0a3.3,2.8 0 1,0 -6.6,0M575,1214a3.4,3.2 0 1,0 6.8,0a3.4,3.2 0 1,0 -6.8,0M627,1187a3.1,2.6 0 1,0 6.3,0a3.1,2.6 0 1,0 -6.3,0M625,1107a3.5,3.1 0 1,0 7.0,0a3.5,3.1 0 1,0 -7.0,0M604,1324a3.6,2.8 0 1,0 7.1,0a3.6,2.8 0 1,0 -7.1,0M578,1271a2.5,2.2 0 1,0 4.9,0a2.5,2.2 0 1,0 -4.9,0M612,1081a3.3,2.6 0 1,0 6.5,0a3.3,2.6 0 1,0 -6.5,0M585,1100a2.6,2.2 0 1,0 5.1,0a2.6,2.2 0 1,0 -5.1,0M610,1202a2.9,2.7 0 1,0 5.7,0a2.9,2.7 0 1,0 -5.7,0M593,1122a2.6,1.9 0 1,0 5.1,0a2.6,1.9 0 1,0 -5.1,0M594,1320a2.3,1.9 0 1,0 4.7,0a2.3,1.9 0 1,0 -4.7,0M610,1076a3.5,3.5 0 1,0 7.0,0a3.5,3.5 0 1,0 -7.0,0M559,1138a2.5,2.4 0 1,0 5.1,0a2.5,2.4 0 1,0 -5.1,0M551,1043a3.5,3.2 0 1,0 7.0,0a3.5,3.2 0 1,0 -7.0,0M555,1051a3.0,2.2 0 1,0 5.9,0a3.0,2.2 0 1,0 -5.9,0M562,1074a2.5,2.0 0 1,0 5.0,0a2.5,2.0 0 1,0 -5.0,0M565,1066a2.4,2.1 0 1,0 4.9,0a2.4,2.1 0 1,0 -4.9,0M555,1115a2.5,2.1 0 1,0 5.0,0a2.5,2.1 0 1,0 -5.0,0M549,1055a3.6,3.2 0 1,0 7.3,0a3.6,3.2 0 1,0 -7.3,0" fill="#242488"/>
<path d="M427,1066a2.7,2.4 0 1,0 5.5,0a2.7,2.4 0 1,0 -5.5,0M441,1237a2.8,2.0 0 1,0 5.5,0a2.8,2.0 0 1,0 -5.5,0M453,1038a3.7,3.6 0 1,0 7.4,0a3.7,3.6 0 1,0 -7.4,0M466,1200a3.0,3.0 0 1,0 5.9,0a3.0,3.0 0 1,0 -5.9,0M425,1340a2.8,2.7 0 1,0 5.5,0a2.8,2.7 0 1,0 -5.5,0M448,1266a3.7,3.0 0 1,0 7.3,0a3.7,3.0 0 1,0 -7.3,0M452,1292a2.6,2.5 0 1,0 5.2,0a2.6,2.5 0 1,0 -5.2,0M423,1144a2.3,1.9 0 1,0 4.7,0a2.3,1.9 0 1,0 -4.7,0M420,1171a3.0,2.5 0 1,0 5.9,0a3.0,2.5 0 1,0 -5.9,0M470,1053a2.4,2.1 0 1,0 4.9,0a2.4,2.1 0 1,0 -4.9,0M448,1241a2.6,2.3 0 1,0 5.2,0a2.6,2.3 0 1,0 -5.2,0M487,1318a2.5,1.8 0 1,0 5.1,0a2.5,1.8 0 1,0 -5.1,0M457,1295a2.4,1.7 0 1,0 4.7,0a2.4,1.7 0 1,0 -4.7,0M427,1388a2.9,2.8 0 1,0 5.7,0a2.9,2.8 0 1,0 -5.7,0M433,1360a3.4,2.8 0 1,0 6.8,0a3.4,2.8 0 1,0 -6.8,0M458,1258a3.7,3.2 0 1,0 7.3,0a3.7,3.2 0 1,0 -7.3,0M436,1064a3.3,2.7 0 1,0 6.6,0a3.3,2.7 0 1,0 -6.6,0M441,1171a2.4,1.7 0 1,0 4.7,0a2.4,1.7 0 1,0 -4.7,0M478,1084a2.4,2.1 0 1,0 4.7,0a2.4,2.1 0 1,0 -4.7,0M444,1114a3.4,3.4 0 1,0 6.9,0a3.4,3.4 0 1,0 -6.9,0M424,1374a3.0,2.6 0 1,0 5.9,0a3.0,2.6 0 1,0 -5.9,0M450,1189a3.1,2.3 0 1,0 6.2,0a3.1,2.3 0 1,0 -6.2,0M456,1135a3.1,2.4 0 1,0 6.2,0a3.1,2.4 0 1,0 -6.2,0M460,1306a2.5,2.5 0 1,0 5.0,0a2.5,2.5 0 1,0 -5.0,0M465,1150a2.5,1.9 0 1,0 5.0,0a2.5,1.9 0 1,0 -5.0,0M450,1339a3.0,2.8 0 1,0 6.1,0a3.0,2.8 0 1,0 -6.1,0M448,1089a3.0,2.6 0 1,0 5.9,0a3.0,2.6 0 1,0 -5.9,0M450,1364a2.6,2.0 0 1,0 5.2,0a2.6,2.0 0 1,0 -5.2,0M471,1289a2.7,2.1 0 1,0 5.4,0a2.7,2.1 0 1,0 -5.4,0M478,1311a2.6,2.3 0 1,0 5.2,0a2.6,2.3 0 1,0 -5.2,0M448,1129a3.2,3.0 0 1,0 6.3,0a3.2,3.0 0 1,0 -6.3,0M419,1237a2.6,2.5 0 1,0 5.1,0a2.6,2.5 0 1,0 -5.1,0M417,1340a3.1,2.9 0 1,0 6.2,0a3.1,2.9 0 1,0 -6.2,0M443,1134a3.1,2.4 0 1,0 6.2,0a3.1,2.4 0 1,0 -6.2,0M466,1251a2.4,2.0 0 1,0 4.7,0a2.4,2.0 0 1,0 -4.7,0M439,1127a2.8,2.6 0 1,0 5.6,0a2.8,2.6 0 1,0 -5.6,0M490,1364a3.0,2.3 0 1,0 6.0,0a3.0,2.3 0 1,0 -6.0,0M474,1247a2.7,2.3 0 1,0 5.3,0a2.7,2.3 0 1,0 -5.3,0M437,1286a3.7,3.6 0 1,0 7.3,0a3.7,3.6 0 1,0 -7.3,0M468,1371a2.3,1.8 0 1,0 4.7,0a2.3,1.8 0 1,0 -4.7,0M439,1075a2.6,2.2 0 1,0 5.3,0a2.6,2.2 0 1,0 -5.3,0M452,1301a3.4,2.6 0 1,0 6.8,0a3.4,2.6 0 1,0 -6.8,0M459,1271a3.5,2.8 0 1,0 7.1,0a3.5,2.8 0 1,0 -7.1,0M439,1217a3.4,3.4 0 1,0 6.8,0a3.4,3.4 0 1,0 -6.8,0M457,1372a3.3,2.6 0 1,0 6.5,0a3.3,2.6 0 1,0 -6.5,0M429,1159a2.4,2.1 0 1,0 4.8,0a2.4,2.1 0 1,0 -4.8,0M419,1294a3.2,2.3 0 1,0 6.4,0a3.2,2.3 0 1,0 -6.4,0M440,1278a3.0,2.7 0 1,0 5.9,0a3.0,2.7 0 1,0 -5.9,0M454,1233a3.2,2.4 0 1,0 6.5,0a3.2,2.4 0 1,0 -6.5,0M469,1164a3.4,2.8 0 1,0 6.7,0a3.4,2.8 0 1,0 -6.7,0M424,1075a3.0,2.9 0 1,0 5.9,0a3.0,2.9 0 1,0 -5.9,0M439,1294a3.4,2.5 0 1,0 6.8,0a3.4,2.5 0 1,0 -6.8,0M492,1370a2.3,1.8 0 1,0 4.7,0a2.3,1.8 0 1,0 -4.7,0M458,1122a3.6,2.5 0 1,0 7.2,0a3.6,2.5 0 1,0 -7.2,0M439,1351a3.2,2.6 0 1,0 6.5,0a3.2,2.6 0 1,0 -6.5,0M480,1078a2.5,1.9 0 1,0 5.0,0a2.5,1.9 0 1,0 -5.0,0M431,1285a2.3,2.1 0 1,0 4.6,0a2.3,2.1 0 1,0 -4.6,0M454,1324a3.5,3.2 0 1,0 7.0,0a3.5,3.2 0 1,0 -7.0,0M487,1339a3.0,2.9 0 1,0 6.0,0a3.0,2.9 0 1,0 -6.0,0M441,1047a2.8,2.6 0 1,0 5.7,0a2.8,2.6 0 1,0 -5.7,0M477,1106a2.5,2.3 0 1,0 5.0,0a2.5,2.3 0 1,0 -5.0,0M451,1179a3.4,3.0 0 1,0 6.9,0a3.4,3.0 0 1,0 -6.9,0M464,1355a3.0,2.6 0 1,0 6.1,0a3.0,2.6 0 1,0 -6.1,0M486,1311a3.4,2.8 0 1,0 6.8,0a3.4,2.8 0 1,0 -6.8,0M445,1215a2.7,2.5 0 1,0 5.5,0a2.7,2.5 0 1,0 -5.5,0M461,1236a2.8,2.3 0 1,0 5.5,0a2.8,2.3 0 1,0 -5.5,0M425,1138a2.6,2.4 0 1,0 5.2,0a2.6,2.4 0 1,0 -5.2,0M451,1078a3.5,2.5 0 1,0 6.9,0a3.5,2.5 0 1,0 -6.9,0M468,1179a2.8,1.9 0 1,0 5.5,0a2.8,1.9 0 1,0 -5.5,0M426,1354a3.5,2.8 0 1,0 6.9,0a3.5,2.8 0 1,0 -6.9,0M437,1080a2.9,2.7 0 1,0 5.9,0a2.9,2.7 0 1,0 -5.9,0M475,1037a2.8,2.6 0 1,0 5.6,0a2.8,2.6 0 1,0 -5.6,0M440,1226a2.9,2.8 0 1,0 5.8,0a2.9,2.8 0 1,0 -5.8,0M480,1172a2.5,2.1 0 1,0 4.9,0a2.5,2.1 0 1,0 -4.9,0M448,1323a2.4,1.8 0 1,0 4.9,0a2.4,1.8 0 1,0 -4.9,0M446,1107a3.1,3.1 0 1,0 6.3,0a3.1,3.1 0 1,0 -6.3,0M450,1247a3.5,2.9 0 1,0 7.0,0a3.5,2.9 0 1,0 -7.0,0M429,1271a2.9,2.5 0 1,0 5.7,0a2.9,2.5 0 1,0 -5.7,0M420,1350a3.0,2.7 0 1,0 6.0,0a3.0,2.7 0 1,0 -6.0,0M475,1316a3.7,3.1 0 1,0 7.4,0a3.7,3.1 0 1,0 -7.4,0M476,1264a2.9,2.1 0 1,0 5.8,0a2.9,2.1 0 1,0 -5.8,0M498,1389a3.3,3.2 0 1,0 6.7,0a3.3,3.2 0 1,0 -6.7,0M458,1097a3.0,2.6 0 1,0 6.0,0a3.0,2.6 0 1,0 -6.0,0M445,1156a3.5,3.3 0 1,0 7.0,0a3.5,3.3 0 1,0 -7.0,0M434,1296a3.5,3.3 0 1,0 7.0,0a3.5,3.3 0 1,0 -7.0,0M434,1268a2.3,2.0 0 1,0 4.7,0a2.3,2.0 0 1,0 -4.7,0M473,1303a3.6,3.0 0 1,0 7.2,0a3.6,3.0 0 1,0 -7.2,0M454,1349a3.5,2.6 0 1,0 7.0,0a3.5,2.6 0 1,0 -7.0,0M418,1250a3.4,2.9 0 1,0 6.8,0a3.4,2.9 0 1,0 -6.8,0M459,1290a2.6,2.5 0 1,0 5.2,0a2.6,2.5 0 1,0 -5.2,0M440,1299a2.5,1.9 0 1,0 5.1,0a2.5,1.9 0 1,0 -5.1,0M494,1380a3.5,2.8 0 1,0 6.9,0a3.5,2.8 0 1,0 -6.9,0M436,1042a3.3,3.2 0 1,0 6.5,0a3.3,3.2 0 1,0 -6.5,0M612,1379a3.6,3.5 0 1,0 7.2,0a3.6,3.5 0 1,0 -7.2,0M626,1345a2.7,2.2 0 1,0 5.4,0a2.7,2.2 0 1,0 -5.4,0M614,1192a2.5,2.0 0 1,0 5.1,0a2.5,2.0 0 1,0 -5.1,0M592,1302a2.3,2.2 0 1,0 4.7,0a2.3,2.2 0 1,0 -4.7,0M627,1115a2.6,2.2 0 1,0 5.2,0a2.6,2.2 0 1,0 -5.2,0M574,1248a3.7,2.8 0 1,0 7.4,0a3.7,2.8 0 1,0 -7.4,0M584,1137a3.0,2.7 0 1,0 6.0,0a3.0,2.7 0 1,0 -6.0,0M592,1178a3.5,3.3 0 1,0 6.9,0a3.5,3.3 0 1,0 -6.9,0M601,1113a2.6,2.3 0 1,0 5.3,0a2.6,2.3 0 1,0 -5.3,0M588,1075a2.9,2.9 0 1,0 5.8,0a2.9,2.9 0 1,0 -5.8,0M622,1208a3.5,2.5 0 1,0 6.9,0a3.5,2.5 0 1,0 -6.9,0M625,1053a3.5,3.4 0 1,0 7.1,0a3.5,3.4 0 1,0 -7.1,0M565,1147a3.4,2.6 0 1,0 6.9,0a3.4,2.6 0 1,0 -6.9,0M621,1083a2.3,2.3 0 1,0 4.6,0a2.3,2.3 0 1,0 -4.6,0M606,1344a2.7,2.6 0 1,0 5.4,0a2.7,2.6 0 1,0 -5.4,0M568,1195a3.3,3.0 0 1,0 6.6,0a3.3,3.0 0 1,0 -6.6,0M580,1307a3.0,2.5 0 1,0 6.1,0a3.0,2.5 0 1,0 -6.1,0M575,1187a3.4,3.0 0 1,0 6.8,0a3.4,3.0 0 1,0 -6.8,0M627,1255a2.5,2.2 0 1,0 4.9,0a2.5,2.2 0 1,0 -4.9,0M616,1106a2.6,2.1 0 1,0 5.2,0a2.6,2.1 0 1,0 -5.2,0M626,1318a2.9,2.9 0 1,0 5.8,0a2.9,2.9 0 1,0 -5.8,0M609,1190a2.7,2.0 0 1,0 5.4,0a2.7,2.0 0 1,0 -5.4,0M602,1205a2.8,2.7 0 1,0 5.6,0a2.8,2.7 0 1,0 -5.6,0M618,1301a3.6,3.2 0 1,0 7.3,0a3.6,3.2 0 1,0 -7.3,0M574,1146a3.2,3.0 0 1,0 6.3,0a3.2,3.0 0 1,0 -6.3,0M610,1305a3.4,3.2 0 1,0 6.7,0a3.4,3.2 0 1,0 -6.7,0M611,1168a3.2,2.8 0 1,0 6.4,0a3.2,2.8 0 1,0 -6.4,0M612,1038a3.7,3.1 0 1,0 7.3,0a3.7,3.1 0 1,0 -7.3,0M601,1346a3.0,2.9 0 1,0 6.0,0a3.0,2.9 0 1,0 -6.0,0M609,1323a3.4,2.7 0 1,0 6.8,0a3.4,2.7 0 1,0 -6.8,0M600,1272a3.1,2.3 0 1,0 6.1,0a3.1,2.3 0 1,0 -6.1,0M597,1308a3.4,2.4 0 1,0 6.7,0a3.4,2.4 0 1,0 -6.7,0M624,1391a3.3,2.8 0 1,0 6.6,0a3.3,2.8 0 1,0 -6.6,0M593,1054a3.4,2.4 0 1,0 6.7,0a3.4,2.4 0 1,0 -6.7,0M570,1157a2.9,2.2 0 1,0 5.8,0a2.9,2.2 0 1,0 -5.8,0M622,1374a2.7,2.6 0 1,0 5.3,0a2.7,2.6 0 1,0 -5.3,0M621,1196a3.4,3.4 0 1,0 6.9,0a3.4,3.4 0 1,0 -6.9,0M614,1138a2.4,2.3 0 1,0 4.9,0a2.4,2.3 0 1,0 -4.9,0M624,1132a3.3,2.4 0 1,0 6.6,0a3.3,2.4 0 1,0 -6.6,0M591,1222a2.9,2.9 0 1,0 5.9,0a2.9,2.9 0 1,0 -5.9,0M586,1119a2.7,2.1 0 1,0 5.3,0a2.7,2.1 0 1,0 -5.3,0M588,1310a3.2,2.5 0 1,0 6.5,0a3.2,2.5 0 1,0 -6.5,0M608,1297a2.6,1.9 0 1,0 5.2,0a2.6,1.9 0 1,0 -5.2,0M571,1220a2.3,1.9 0 1,0 4.6,0a2.3,1.9 0 1,0 -4.6,0M608,1048a3.1,2.6 0 1,0 6.3,0a3.1,2.6 0 1,0 -6.3,0M622,1341a3.0,2.8 0 1,0 6.0,0a3.0,2.8 0 1,0 -6.0,0M613,1050a3.2,2.4 0 1,0 6.4,0a3.2,2.4 0 1,0 -6.4,0M624,1329a2.5,2.5 0 1,0 5.1,0a2.5,2.5 0 1,0 -5.1,0M598,1124a2.6,2.5 0 1,0 5.2,0a2.6,2.5 0 1,0 -5.2,0M589,1131a2.4,2.0 0 1,0 4.8,0a2.4,2.0 0 1,0 -4.8,0M604,1063a2.5,2.0 0 1,0 5.0,0a2.5,2.0 0 1,0 -5.0,0M620,1096a2.9,2.6 0 1,0 5.8,0a2.9,2.6 0 1,0 -5.8,0M607,1282a2.6,1.9 0 1,0 5.2,0a2.6,1.9 0 1,0 -5.2,0M622,1163a2.6,1.8 0 1,0 5.2,0a2.6,1.8 0 1,0 -5.2,0M601,1265a3.0,2.3 0 1,0 5.9,0a3.0,2.3 0 1,0 -5.9,0M612,1317a2.6,1.9 0 1,0 5.2,0a2.6,1.9 0 1,0 -5.2,0M620,1036a2.8,2.3 0 1,0 5.5,0a2.8,2.3 0 1,0 -5.5,0M568,1130a2.9,2.8 0 1,0 5.7,0a2.9,2.8 0 1,0 -5.7,0M555,1122a3.6,3.5 0 1,0 7.2,0a3.6,3.5 0 1,0 -7.2,0M566,1143a3.3,2.9 0 1,0 6.5,0a3.3,2.9 0 1,0 -6.5,0M554,1060a2.6,2.3 0 1,0 5.1,0a2.6,2.3 0 1,0 -5.1,0M552,1095a3.1,2.5 0 1,0 6.3,0a3.1,2.5 0 1,0 -6.3,0" fill="#3434a4"/>
<path d="M443,1311a3.7,3.4 0 1,0 7.4,0a3.7,3.4 0 1,0 -7.4,0M439,1069a3.0,2.6 0 1,0 6.1,0a3.0,2.6 0 1,0 -6.1,0M479,1330a2.6,2.5 0 1,0 5.2,0a2.6,2.5 0 1,0 -5.2,0M434,1057a3.0,2.9 0 1,0 6.1,0a3.0,2.9 0 1,0 -6.1,0M488,1354a2.5,2.2 0 1,0 4.9,0a2.5,2.2 0 1,0 -4.9,0M476,1136a2.9,2.9 0 1,0 5.8,0a2.9,2.9 0 1,0 -5.8,0M464,1341a2.7,2.1 0 1,0 5.4,0a2.7,2.1 0 1,0 -5.4,0M464,1106a2.9,2.2 0 1,0 5.9,0a2.9,2.2 0 1,0 -5.9,0M475,1191a3.4,2.6 0 1,0 6.8,0a3.4,2.6 0 1,0 -6.8,0M421,1366a3.3,2.7 0 1,0 6.6,0a3.3,2.7 0 1,0 -6.6,0M432,1349a3.3,3.0 0 1,0 6.5,0a3.3,3.0 0 1,0 -6.5,0M443,1222a2.7,2.7 0 1,0 5.3,0a2.7,2.7 0 1,0 -5.3,0M428,1052a2.5,2.4 0 1,0 5.1,0a2.5,2.4 0 1,0 -5.1,0M448,1067a3.3,2.4 0 1,0 6.7,0a3.3,2.4 0 1,0 -6.7,0M474,1099a3.1,3.1 0 1,0 6.3,0a3.1,3.1 0 1,0 -6.3,0M435,1170a2.4,2.0 0 1,0 4.8,0a2.4,2.0 0 1,0 -4.8,0M437,1117a2.8,2.6 0 1,0 5.5,0a2.8,2.6 0 1,0 -5.5,0M425,1235a2.3,2.3 0 1,0 4.7,0a2.3,2.3 0 1,0 -4.7,0M488,1094a2.4,1.8 0 1,0 4.9,0a2.4,1.8 0 1,0 -4.9,0M440,1090a2.8,2.7 0 1,0 5.6,0a2.8,2.7 0 1,0 -5.6,0M480,1039a3.5,3.2 0 1,0 6.9,0a3.5,3.2 0 1,0 -6.9,0M449,1111a3.5,2.8 0 1,0 7.0,0a3.5,2.8 0 1,0 -7.0,0M433,1290a2.3,1.8 0 1,0 4.7,0a2.3,1.8 0 1,0 -4.7,0M481,1344a3.3,2.7 0 1,0 6.5,0a3.3,2.7 0 1,0 -6.5,0M421,1116a3.6,3.0 0 1,0 7.2,0a3.6,3.0 0 1,0 -7.2,0M444,1150a3.4,3.3 0 1,0 6.9,0a3.4,3.3 0 1,0 -6.9,0M458,1196a3.0,2.1 0 1,0 5.9,0a3.0,2.1 0 1,0 -5.9,0M427,1101a3.5,3.2 0 1,0 6.9,0a3.5,3.2 0 1,0 -6.9,0M434,1377a3.2,2.7 0 1,0 6.4,0a3.2,2.7 0 1,0 -6.4,0M422,1315a3.2,2.9 0 1,0 6.4,0a3.2,2.9 0 1,0 -6.4,0M472,1032a2.9,2.5 0 1,0 5.9,0a2.9,2.5 0 1,0 -5.9,0M489,1031a2.8,2.4 0 1,0 5.6,0a2.8,2.4 0 1,0 -5.6,0M442,1041a2.9,2.3 0 1,0 5.8,0a2.9,2.3 0 1,0 -5.8,0M476,1276a3.0,2.3 0 1,0 6.1,0a3.0,2.3 0 1,0 -6.1,0M473,1155a3.3,2.4 0 1,0 6.7,0a3.3,2.4 0 1,0 -6.7,0M487,1379a3.0,2.6 0 1,0 6.1,0a3.0,2.6 0 1,0 -6.1,0M467,1155a3.7,3.6 0 1,0 7.4,0a3.7,3.6 0 1,0 -7.4,0M449,1225a2.6,2.5 0 1,0 5.3,0a2.6,2.5 0 1,0 -5.3,0M457,1364a2.8,2.0 0 1,0 5.6,0a2.8,2.0 0 1,0 -5.6,0M453,1063a3.2,2.3 0 1,0 6.5,0a3.2,2.3 0 1,0 -6.5,0M503,1390a3.7,2.7 0 1,0 7.3,0a3.7,2.7 0 1,0 -7.3,0M487,1056a2.6,2.2 0 1,0 5.2,0a2.6,2.2 0 1,0 -5.2,0M457,1080a3.2,3.0 0 1,0 6.5,0a3.2,3.0 0 1,0 -6.5,0M474,1202a2.4,1.9 0 1,0 4.7,0a2.4,1.9 0 1,0 -4.7,0M469,1206a2.8,2.6 0 1,0 5.7,0a2.8,2.6 0 1,0 -5.7,0M440,1386a2.4,2.1 0 1,0 4.8,0a2.4,2.1 0 1,0 -4.8,0M489,1348a2.7,2.4 0 1,0 5.3,0a2.7,2.4 0 1,0 -5.3,0M482,1054a2.4,1.9 0 1,0 4.9,0a2.4,1.9 0 1,0 -4.9,0M429,1323a2.7,2.6 0 1,0 5.4,0a2.7,2.6 0 1,0 -5.4,0M418,1032a2.4,1.7 0 1,0 4.8,0a2.4,1.7 0 1,0 -4.8,0M476,1298a2.4,2.4 0 1,0 4.9,0a2.4,2.4 0 1,0 -4.9,0M419,1081a2.7,1.9 0 1,0 5.3,0a2.7,1.9 0 1,0 -5.3,0M450,1211a2.4,1.7 0 1,0 4.7,0a2.4,1.7 0 1,0 -4.7,0M428,1335a3.2,2.9 0 1,0 6.4,0a3.2,2.9 0 1,0 -6.4,0M433,1069a3.0,2.3 0 1,0 6.1,0a3.0,2.3 0 1,0 -6.1,0M481,1160a2.6,2.1 0 1,0 5.2,0a2.6,2.1 0 1,0 -5.2,0M450,1031a2.6,2.5 0 1,0 5.2,0a2.6,2.5 0 1,0 -5.2,0M488,1071a2.6,2.2 0 1,0 5.2,0a2.6,2.2 0 1,0 -5.2,0M469,1245a2.6,2.3 0 1,0 5.1,0a2.6,2.3 0 1,0 -5.1,0M463,1380a3.5,3.1 0 1,0 7.0,0a3.5,3.1 0 1,0 -7.0,0M480,1133a2.5,1.8 0 1,0 4.9,0a2.5,1.8 0 1,0 -4.9,0M434,1354a2.8,2.4 0 1,0 5.5,0a2.8,2.4 0 1,0 -5.5,0M427,1369a2.5,2.4 0 1,0 5.1,0a2.5,2.4 0 1,0 -5.1,0M618,1089a2.7,2.6 0 1,0 5.5,0a2.7,2.6 0 1,0 -5.5,0M604,1330a3.2,2.9 0 1,0 6.3,0a3.2,2.9 0 1,0 -6.3,0M577,1230a2.7,2.5 0 1,0 5.5,0a2.7,2.5 0 1,0 -5.5,0M585,1364a2.6,1.9 0 1,0 5.2,0a2.6,1.9 0 1,0 -5.2,0M596,1252a3.4,3.0 0 1,0 6.7,0a3.4,3.0 0 1,0 -6.7,0M615,1182a3.2,2.8 0 1,0 6.3,0a3.2,2.8 0 1,0 -6.3,0M609,1062a3.4,3.2 0 1,0 6.9,0a3.4,3.2 0 1,0 -6.9,0M583,1123a2.6,2.5 0 1,0 5.1,0a2.6,2.5 0 1,0 -5.1,0M602,1154a3.7,3.5 0 1,0 7.4,0a3.7,3.5 0 1,0 -7.4,0M577,1265a3.7,3.5 0 1,0 7.4,0a3.7,3.5 0 1,0 -7.4,0M594,1131a2.6,2.0 0 1,0 5.2,0a2.6,2.0 0 1,0 -5.2,0M614,1231a3.3,2.6 0 1,0 6.6,0a3.3,2.6 0 1,0 -6.6,0M606,1316a3.0,2.5 0 1,0 6.1,0a3.0,2.5 0 1,0 -6.1,0M583,1270a3.7,2.8 0 1,0 7.3,0a3.7,2.8 0 1,0 -7.3,0M566,1141a3.7,3.3 0 1,0 7.4,0a3.7,3.3 0 1,0 -7.4,0M574,1131a3.4,3.3 0 1,0 6.7,0a3.4,3.3 0 1,0 -6.7,0M624,1215a3.3,3.1 0 1,0 6.5,0a3.3,3.1 0 1,0 -6.5,0M618,1126a2.8,2.7 0 1,0 5.6,0a2.8,2.7 0 1,0 -5.6,0M591,1031a3.4,3.3 0 1,0 6.7,0a3.4,3.3 0 1,0 -6.7,0M584,1230a2.7,1.9 0 1,0 5.4,0a2.7,1.9 0 1,0 -5.4,0M617,1155a3.3,2.5 0 1,0 6.6,0a3.3,2.5 0 1,0 -6.6,0M591,1142a3.4,3.3 0 1,0 6.8,0a3.4,3.3 0 1,0 -6.8,0M614,1119a2.7,2.0 0 1,0 5.4,0a2.7,2.0 0 1,0 -5.4,0M580,1085a2.7,2.0 0 1,0 5.3,0a2.7,2.0 0 1,0 -5.3,0M572,1167a3.0,2.4 0 1,0 6.0,0a3.0,2.4 0 1,0 -6.0,0M583,1065a3.0,2.8 0 1,0 5.9,0a3.0,2.8 0 1,0 -5.9,0M610,1197a3.0,2.8 0 1,0 6.0,0a3.0,2.8 0 1,0 -6.0,0M589,1065a3.1,2.7 0 1,0 6.2,0a3.1,2.7 0 1,0 -6.2,0M599,1098a2.5,2.1 0 1,0 5.0,0a2.5,2.1 0 1,0 -5.0,0M606,1274a3.5,3.2 0 1,0 7.1,0a3.5,3.2 0 1,0 -7.1,0M617,1164a2.6,2.6 0 1,0 5.2,0a2.6,2.6 0 1,0 -5.2,0M604,1369a2.8,2.7 0 1,0 5.6,0a2.8,2.7 0 1,0 -5.6,0M618,1268a3.4,3.1 0 1,0 6.7,0a3.4,3.1 0 1,0 -6.7,0M606,1364a3.4,2.8 0 1,0 6.9,0a3.4,2.8 0 1,0 -6.9,0M601,1044a3.1,2.4 0 1,0 6.1,0a3.1,2.4 0 1,0 -6.1,0M599,1299a3.5,3.2 0 1,0 7.0,0a3.5,3.2 0 1,0 -7.0,0M625,1352a2.8,2.8 0 1,0 5.6,0a2.8,2.8 0 1,0 -5.6,0M590,1114a3.2,3.0 0 1,0 6.5,0a3.2,3.0 0 1,0 -6.5,0M623,1297a2.6,2.2 0 1,0 5.2,0a2.6,2.2 0 1,0 -5.2,0M567,1163a3.7,2.9 0 1,0 7.3,0a3.7,2.9 0 1,0 -7.3,0M588,1212a3.2,2.5 0 1,0 6.4,0a3.2,2.5 0 1,0 -6.4,0M626,1127a2.6,2.3 0 1,0 5.1,0a2.6,2.3 0 1,0 -5.1,0M582,1312a3.5,3.1 0 1,0 6.9,0a3.5,3.1 0 1,0 -6.9,0M595,1245a2.5,2.1 0 1,0 4.9,0a2.5,2.1 0 1,0 -4.9,0M615,1099a2.7,2.1 0 1,0 5.4,0a2.7,2.1 0 1,0 -5.4,0M573,1125a2.9,2.6 0 1,0 5.7,0a2.9,2.6 0 1,0 -5.7,0M591,1348a3.1,2.9 0 1,0 6.2,0a3.1,2.9 0 1,0 -6.2,0M614,1367a2.5,2.1 0 1,0 5.1,0a2.5,2.1 0 1,0 -5.1,0M594,1378a3.3,2.7 0 1,0 6.6,0a3.3,2.7 0 1,0 -6.6,0M621,1273a2.7,2.6 0 1,0 5.5,0a2.7,2.6 0 1,0 -5.5,0M591,1189a2.4,1.7 0 1,0 4.8,0a2.4,1.7 0 1,0 -4.8,0M570,1184a2.9,2.2 0 1,0 5.7,0a2.9,2.2 0 1,0 -5.7,0M612,1159a3.2,2.3 0 1,0 6.4,0a3.2,2.3 0 1,0 -6.4,0M585,1284a2.8,2.2 0 1,0 5.5,0a2.8,2.2 0 1,0 -5.5,0M610,1043a3.6,2.9 0 1,0 7.2,0a3.6,2.9 0 1,0 -7.2,0M587,1247a2.5,2.2 0 1,0 4.9,0a2.5,2.2 0 1,0 -4.9,0M600,1051a2.4,1.7 0 1,0 4.8,0a2.4,1.7 0 1,0 -4.8,0M618,1378a3.4,3.4 0 1,0 6.8,0a3.4,3.4 0 1,0 -6.8,0M569,1129a2.7,2.4 0 1,0 5.5,0a2.7,2.4 0 1,0 -5.5,0M626,1236a3.4,2.9 0 1,0 6.9,0a3.4,2.9 0 1,0 -6.9,0M619,1031a2.3,1.7 0 1,0 4.7,0a2.3,1.7 0 1,0 -4.7,0M570,1232a3.5,2.9 0 1,0 7.1,0a3.5,2.9 0 1,0 -7.1,0M565,1106a3.2,2.4 0 1,0 6.4,0a3.2,2.4 0 1,0 -6.4,0M559,1143a3.4,2.9 0 1,0 6.8,0a3.4,2.9 0 1,0 -6.8,0M557,1068a2.5,1.8 0 1,0 5.0,0a2.5,1.8 0 1,0 -5.0,0M561,1117a3.2,2.3 0 1,0 6.4,0a3.2,2.3 0 1,0 -6.4,0M560,1084a3.2,2.4 0 1,0 6.3,0a3.2,2.4 0 1,0 -6.3,0M556,1132a3.3,2.6 0 1,0 6.6,0a3.3,2.6 0 1,0 -6.6,0" fill="#3a3088"/>
<ellipse cx="521" cy="1040" rx="2.2" ry="4.5" transform="rotate(0 521 1040)" fill="#5a3010" stroke="#b07040" stroke-width="1.2"/>
<ellipse cx="518" cy="1127" rx="2.2" ry="4.5" transform="rotate(30 518 1127)" fill="#5a3010" stroke="#b07040" stroke-width="1.2"/>
<ellipse cx="548" cy="1197" rx="2.2" ry="4.5" transform="rotate(0 548 1197)" fill="#5a3010" stroke="#b07040" stroke-width="1.2"/>
<ellipse cx="504" cy="1315" rx="2.2" ry="4.5" transform="rotate(-30 504 1315)" fill="#5a3010" stroke="#b07040" stroke-width="1.2"/>
<ellipse cx="541" cy="1365" rx="2.2" ry="4.5" transform="rotate(-20 541 1365)" fill="#5a3010" stroke="#b07040" stroke-width="1.2"/>
<ellipse cx="610" cy="1265" rx="2.2" ry="4.5" transform="rotate(0 610 1265)" fill="#5a3010" stroke="#b07040" stroke-width="1.2"/>
</g>
<rect x="423.9" y="1033.5" width="204.3" height="357.9" fill="none" stroke="#000" stroke-width="2.2"/>
<clipPath id="iclip3"><rect x="638.8" y="1032.6" width="194.7" height="358.8"/></clipPath>
<g clip-path="url(#iclip3)">
<rect x="638.8" y="1032.6" width="194.7" height="358.8" fill="#e4e6ec"/>
<path d="M680.0,1034.0 C698.3,1026.3 763.0,1022.2 780.0,1034.0 C797.0,1045.8 783.3,1080.7 782.0,1105.0 C780.7,1129.3 773.2,1150.8 772.0,1180.0 C770.8,1209.2 774.0,1253.0 775.0,1280.0 C776.0,1307.0 779.7,1323.3 778.0,1342.0 C776.3,1360.7 774.7,1383.7 765.0,1392.0 C755.3,1400.3 729.7,1402.3 720.0,1392.0 C710.3,1381.7 711.2,1348.7 707.0,1330.0 C702.8,1311.3 697.0,1300.8 695.0,1280.0 C693.0,1259.2 698.3,1230.0 695.0,1205.0 C691.7,1180.0 679.2,1150.8 675.0,1130.0 C670.8,1109.2 669.2,1096.0 670.0,1080.0 C670.8,1064.0 661.7,1041.7 680.0,1034.0Z" fill="#d6d9e2"/>
<path d="M636.0,1030.0 C643.3,969.7 674.3,1021.7 680.0,1030.0 C685.7,1038.3 670.8,1063.3 670.0,1080.0 C669.2,1096.7 670.8,1109.2 675.0,1130.0 C679.2,1150.8 691.7,1180.0 695.0,1205.0 C698.3,1230.0 693.0,1259.2 695.0,1280.0 C697.0,1300.8 702.8,1311.3 707.0,1330.0 C711.2,1348.7 731.8,1381.7 720.0,1392.0 C708.2,1402.3 650.0,1452.3 636.0,1392.0 C622.0,1331.7 628.7,1090.3 636.0,1030.0Z" fill="#d8d4e0" opacity="0.6"/>
<path d="M778.0,1034.0 C778.7,1045.8 783.0,1080.7 782.0,1105.0 C781.0,1129.3 773.2,1150.8 772.0,1180.0 C770.8,1209.2 774.0,1253.0 775.0,1280.0 C776.0,1307.0 777.5,1331.7 778.0,1342.0" fill="none" stroke="#a86030" stroke-width="2.2" stroke-linecap="round" opacity="0.9"/>
<path d="M690.0,1034.0 C688.3,1050.0 678.3,1092.3 680.0,1130.0 C681.7,1167.7 692.5,1216.3 700.0,1260.0 C707.5,1303.7 720.8,1370.0 725.0,1392.0" fill="none" stroke="#c09060" stroke-width="1.2" stroke-linecap="round" opacity="0.9"/>
<path d="M693,1334a2.5,2.4 0 1,0 5.0,0a2.5,2.4 0 1,0 -5.0,0M660,1141a3.0,3.0 0 1,0 6.0,0a3.0,3.0 0 1,0 -6.0,0M673,1331a2.5,2.0 0 1,0 4.9,0a2.5,2.0 0 1,0 -4.9,0M667,1388a3.5,2.8 0 1,0 7.0,0a3.5,2.8 0 1,0 -7.0,0M673,1153a2.8,2.1 0 1,0 5.5,0a2.8,2.1 0 1,0 -5.5,0M660,1116a3.2,2.9 0 1,0 6.3,0a3.2,2.9 0 1,0 -6.3,0M645,1071a3.1,2.5 0 1,0 6.2,0a3.1,2.5 0 1,0 -6.2,0M685,1286a2.8,2.3 0 1,0 5.5,0a2.8,2.3 0 1,0 -5.5,0M684,1353a2.9,2.8 0 1,0 5.8,0a2.9,2.8 0 1,0 -5.8,0M654,1264a2.9,2.2 0 1,0 5.8,0a2.9,2.2 0 1,0 -5.8,0M657,1274a2.6,2.3 0 1,0 5.2,0a2.6,2.3 0 1,0 -5.2,0M636,1254a2.3,2.0 0 1,0 4.6,0a2.3,2.0 0 1,0 -4.6,0M662,1151a3.6,2.7 0 1,0 7.2,0a3.6,2.7 0 1,0 -7.2,0M669,1176a2.3,1.8 0 1,0 4.6,0a2.3,1.8 0 1,0 -4.6,0M686,1184a3.2,2.3 0 1,0 6.5,0a3.2,2.3 0 1,0 -6.5,0M657,1087a3.3,2.9 0 1,0 6.5,0a3.3,2.9 0 1,0 -6.5,0M664,1331a2.4,2.4 0 1,0 4.8,0a2.4,2.4 0 1,0 -4.8,0M658,1349a2.8,2.4 0 1,0 5.6,0a2.8,2.4 0 1,0 -5.6,0M667,1293a3.4,3.1 0 1,0 6.8,0a3.4,3.1 0 1,0 -6.8,0M634,1092a3.0,2.2 0 1,0 5.9,0a3.0,2.2 0 1,0 -5.9,0M669,1369a2.9,2.8 0 1,0 5.8,0a2.9,2.8 0 1,0 -5.8,0M681,1358a2.9,2.4 0 1,0 5.7,0a2.9,2.4 0 1,0 -5.7,0M638,1104a2.8,2.3 0 1,0 5.5,0a2.8,2.3 0 1,0 -5.5,0M651,1332a3.6,3.5 0 1,0 7.1,0a3.6,3.5 0 1,0 -7.1,0M673,1356a3.2,2.5 0 1,0 6.3,0a3.2,2.5 0 1,0 -6.3,0M701,1354a3.2,2.8 0 1,0 6.4,0a3.2,2.8 0 1,0 -6.4,0M654,1067a2.6,2.2 0 1,0 5.2,0a2.6,2.2 0 1,0 -5.2,0M653,1312a3.1,2.5 0 1,0 6.2,0a3.1,2.5 0 1,0 -6.2,0M663,1372a2.9,2.7 0 1,0 5.8,0a2.9,2.7 0 1,0 -5.8,0M646,1194a2.4,1.8 0 1,0 4.8,0a2.4,1.8 0 1,0 -4.8,0M663,1236a3.6,2.6 0 1,0 7.1,0a3.6,2.6 0 1,0 -7.1,0M657,1382a3.5,2.9 0 1,0 7.1,0a3.5,2.9 0 1,0 -7.1,0M636,1303a2.5,2.3 0 1,0 5.0,0a2.5,2.3 0 1,0 -5.0,0M691,1259a2.6,2.2 0 1,0 5.1,0a2.6,2.2 0 1,0 -5.1,0M657,1233a3.0,2.3 0 1,0 5.9,0a3.0,2.3 0 1,0 -5.9,0M647,1065a2.8,2.4 0 1,0 5.6,0a2.8,2.4 0 1,0 -5.6,0M640,1233a3.5,2.8 0 1,0 7.0,0a3.5,2.8 0 1,0 -7.0,0M659,1312a3.6,3.3 0 1,0 7.2,0a3.6,3.3 0 1,0 -7.2,0M634,1162a2.7,2.4 0 1,0 5.5,0a2.7,2.4 0 1,0 -5.5,0M656,1325a2.9,2.3 0 1,0 5.7,0a2.9,2.3 0 1,0 -5.7,0M636,1228a2.9,2.1 0 1,0 5.7,0a2.9,2.1 0 1,0 -5.7,0M673,1042a3.2,2.5 0 1,0 6.3,0a3.2,2.5 0 1,0 -6.3,0M650,1041a3.5,3.2 0 1,0 6.9,0a3.5,3.2 0 1,0 -6.9,0M681,1262a2.9,2.5 0 1,0 5.9,0a2.9,2.5 0 1,0 -5.9,0M651,1257a3.6,3.4 0 1,0 7.3,0a3.6,3.4 0 1,0 -7.3,0M664,1067a2.9,2.3 0 1,0 5.8,0a2.9,2.3 0 1,0 -5.8,0M670,1053a2.9,2.7 0 1,0 5.9,0a2.9,2.7 0 1,0 -5.9,0M683,1171a3.1,2.7 0 1,0 6.3,0a3.1,2.7 0 1,0 -6.3,0M635,1217a3.3,3.1 0 1,0 6.7,0a3.3,3.1 0 1,0 -6.7,0M692,1310a2.8,2.6 0 1,0 5.6,0a2.8,2.6 0 1,0 -5.6,0M688,1295a2.9,2.2 0 1,0 5.8,0a2.9,2.2 0 1,0 -5.8,0M685,1190a3.2,2.3 0 1,0 6.4,0a3.2,2.3 0 1,0 -6.4,0M658,1153a2.9,2.1 0 1,0 5.7,0a2.9,2.1 0 1,0 -5.7,0M666,1130a2.3,1.9 0 1,0 4.6,0a2.3,1.9 0 1,0 -4.6,0M667,1163a3.4,3.0 0 1,0 6.8,0a3.4,3.0 0 1,0 -6.8,0M663,1308a2.9,2.2 0 1,0 5.8,0a2.9,2.2 0 1,0 -5.8,0" fill="#26268a"/>
<path d="M692,1292a3.1,2.5 0 1,0 6.1,0a3.1,2.5 0 1,0 -6.1,0M658,1375a3.1,2.2 0 1,0 6.2,0a3.1,2.2 0 1,0 -6.2,0M645,1204a3.1,2.8 0 1,0 6.2,0a3.1,2.8 0 1,0 -6.2,0M648,1238a3.5,2.7 0 1,0 6.9,0a3.5,2.7 0 1,0 -6.9,0M654,1227a3.6,2.6 0 1,0 7.2,0a3.6,2.6 0 1,0 -7.2,0M660,1291a2.6,2.1 0 1,0 5.3,0a2.6,2.1 0 1,0 -5.3,0M680,1370a2.5,2.4 0 1,0 5.0,0a2.5,2.4 0 1,0 -5.0,0M686,1236a3.4,3.3 0 1,0 6.9,0a3.4,3.3 0 1,0 -6.9,0M673,1032a3.3,2.6 0 1,0 6.5,0a3.3,2.6 0 1,0 -6.5,0M703,1346a2.7,2.1 0 1,0 5.4,0a2.7,2.1 0 1,0 -5.4,0M646,1247a3.0,2.3 0 1,0 6.0,0a3.0,2.3 0 1,0 -6.0,0M649,1388a3.0,2.4 0 1,0 6.0,0a3.0,2.4 0 1,0 -6.0,0M635,1085a3.6,2.7 0 1,0 7.1,0a3.6,2.7 0 1,0 -7.1,0M653,1034a3.3,2.8 0 1,0 6.5,0a3.3,2.8 0 1,0 -6.5,0M667,1157a2.6,2.4 0 1,0 5.2,0a2.6,2.4 0 1,0 -5.2,0M642,1110a3.4,2.5 0 1,0 6.8,0a3.4,2.5 0 1,0 -6.8,0M647,1037a3.0,2.3 0 1,0 6.0,0a3.0,2.3 0 1,0 -6.0,0M666,1073a2.5,2.5 0 1,0 5.0,0a2.5,2.5 0 1,0 -5.0,0M649,1128a3.3,3.2 0 1,0 6.5,0a3.3,3.2 0 1,0 -6.5,0M665,1339a2.4,2.0 0 1,0 4.8,0a2.4,2.0 0 1,0 -4.8,0M640,1046a3.4,2.6 0 1,0 6.7,0a3.4,2.6 0 1,0 -6.7,0M674,1161a3.0,2.2 0 1,0 6.0,0a3.0,2.2 0 1,0 -6.0,0M641,1142a2.5,2.3 0 1,0 4.9,0a2.5,2.3 0 1,0 -4.9,0M687,1388a3.3,2.7 0 1,0 6.5,0a3.3,2.7 0 1,0 -6.5,0M647,1383a2.7,2.1 0 1,0 5.4,0a2.7,2.1 0 1,0 -5.4,0M644,1135a2.6,2.6 0 1,0 5.3,0a2.6,2.6 0 1,0 -5.3,0M637,1184a2.5,1.9 0 1,0 4.9,0a2.5,1.9 0 1,0 -4.9,0M658,1281a2.4,2.4 0 1,0 4.8,0a2.4,2.4 0 1,0 -4.8,0M700,1324a3.3,3.0 0 1,0 6.5,0a3.3,3.0 0 1,0 -6.5,0M649,1273a3.3,3.2 0 1,0 6.7,0a3.3,3.2 0 1,0 -6.7,0M651,1320a3.0,2.9 0 1,0 6.0,0a3.0,2.9 0 1,0 -6.0,0M682,1293a2.5,1.9 0 1,0 5.0,0a2.5,1.9 0 1,0 -5.0,0M692,1346a2.5,1.9 0 1,0 5.0,0a2.5,1.9 0 1,0 -5.0,0M634,1207a3.5,3.4 0 1,0 7.1,0a3.5,3.4 0 1,0 -7.1,0M655,1080a2.4,2.0 0 1,0 4.9,0a2.4,2.0 0 1,0 -4.9,0M658,1334a2.8,2.2 0 1,0 5.6,0a2.8,2.2 0 1,0 -5.6,0M647,1267a3.3,2.3 0 1,0 6.6,0a3.3,2.3 0 1,0 -6.6,0M663,1247a2.9,2.2 0 1,0 5.7,0a2.9,2.2 0 1,0 -5.7,0M662,1207a2.7,2.6 0 1,0 5.4,0a2.7,2.6 0 1,0 -5.4,0M646,1148a2.5,2.0 0 1,0 5.0,0a2.5,2.0 0 1,0 -5.0,0M660,1391a2.8,2.0 0 1,0 5.5,0a2.8,2.0 0 1,0 -5.5,0M664,1084a3.4,2.9 0 1,0 6.7,0a3.4,2.9 0 1,0 -6.7,0M658,1132a3.7,2.6 0 1,0 7.4,0a3.7,2.6 0 1,0 -7.4,0M651,1343a2.7,2.5 0 1,0 5.4,0a2.7,2.5 0 1,0 -5.4,0M650,1351a2.5,2.4 0 1,0 5.0,0a2.5,2.4 0 1,0 -5.0,0M635,1134a2.4,2.1 0 1,0 4.8,0a2.4,2.1 0 1,0 -4.8,0M642,1167a2.8,2.7 0 1,0 5.6,0a2.8,2.7 0 1,0 -5.6,0M648,1187a2.3,1.7 0 1,0 4.7,0a2.3,1.7 0 1,0 -4.7,0M703,1331a3.4,3.3 0 1,0 6.9,0a3.4,3.3 0 1,0 -6.9,0M633,1156a3.7,3.2 0 1,0 7.4,0a3.7,3.2 0 1,0 -7.4,0M640,1062a2.7,2.6 0 1,0 5.5,0a2.7,2.6 0 1,0 -5.5,0M677,1307a3.2,2.4 0 1,0 6.3,0a3.2,2.4 0 1,0 -6.3,0M677,1257a3.0,2.4 0 1,0 5.9,0a3.0,2.4 0 1,0 -5.9,0M664,1345a2.6,2.1 0 1,0 5.2,0a2.6,2.1 0 1,0 -5.2,0M643,1117a2.3,2.2 0 1,0 4.7,0a2.3,2.2 0 1,0 -4.7,0M683,1376a3.0,2.5 0 1,0 6.1,0a3.0,2.5 0 1,0 -6.1,0M692,1234a2.8,2.1 0 1,0 5.6,0a2.8,2.1 0 1,0 -5.6,0M656,1144a3.3,2.4 0 1,0 6.7,0a3.3,2.4 0 1,0 -6.7,0M673,1240a3.1,2.6 0 1,0 6.3,0a3.1,2.6 0 1,0 -6.3,0M647,1101a2.5,1.9 0 1,0 5.0,0a2.5,1.9 0 1,0 -5.0,0M669,1270a2.9,2.3 0 1,0 5.8,0a2.9,2.3 0 1,0 -5.8,0M676,1384a3.5,3.4 0 1,0 7.0,0a3.5,3.4 0 1,0 -7.0,0M705,1376a3.0,2.6 0 1,0 6.0,0a3.0,2.6 0 1,0 -6.0,0M672,1317a3.2,2.6 0 1,0 6.4,0a3.2,2.6 0 1,0 -6.4,0M647,1078a3.6,3.1 0 1,0 7.3,0a3.6,3.1 0 1,0 -7.3,0M667,1137a2.4,2.3 0 1,0 4.7,0a2.4,2.3 0 1,0 -4.7,0M659,1070a3.6,3.1 0 1,0 7.3,0a3.6,3.1 0 1,0 -7.3,0M653,1198a2.5,2.4 0 1,0 5.1,0a2.5,2.4 0 1,0 -5.1,0M681,1275a2.7,2.3 0 1,0 5.4,0a2.7,2.3 0 1,0 -5.4,0M651,1071a2.5,1.9 0 1,0 5.0,0a2.5,1.9 0 1,0 -5.0,0M690,1280a3.7,3.5 0 1,0 7.3,0a3.7,3.5 0 1,0 -7.3,0M688,1251a2.9,2.0 0 1,0 5.7,0a2.9,2.0 0 1,0 -5.7,0M668,1349a2.7,2.1 0 1,0 5.4,0a2.7,2.1 0 1,0 -5.4,0" fill="#3434a4"/>
<path d="M670,1343a3.0,2.9 0 1,0 6.0,0a3.0,2.9 0 1,0 -6.0,0M656,1299a2.8,2.3 0 1,0 5.7,0a2.8,2.3 0 1,0 -5.7,0M642,1096a2.4,2.0 0 1,0 4.9,0a2.4,2.0 0 1,0 -4.9,0M670,1234a3.4,2.9 0 1,0 6.8,0a3.4,2.9 0 1,0 -6.8,0M676,1192a3.5,2.5 0 1,0 7.1,0a3.5,2.5 0 1,0 -7.1,0M641,1261a3.0,2.8 0 1,0 6.1,0a3.0,2.8 0 1,0 -6.1,0M633,1361a3.3,3.0 0 1,0 6.6,0a3.3,3.0 0 1,0 -6.6,0M676,1349a3.6,3.4 0 1,0 7.3,0a3.6,3.4 0 1,0 -7.3,0M707,1382a3.4,2.9 0 1,0 6.9,0a3.4,2.9 0 1,0 -6.9,0M653,1292a2.5,2.0 0 1,0 5.1,0a2.5,2.0 0 1,0 -5.1,0M665,1042a2.4,2.0 0 1,0 4.8,0a2.4,2.0 0 1,0 -4.8,0M634,1339a2.4,2.0 0 1,0 4.8,0a2.4,2.0 0 1,0 -4.8,0M673,1253a3.3,2.6 0 1,0 6.7,0a3.3,2.6 0 1,0 -6.7,0M673,1362a2.5,1.9 0 1,0 4.9,0a2.5,1.9 0 1,0 -4.9,0M696,1384a3.4,2.5 0 1,0 6.7,0a3.4,2.5 0 1,0 -6.7,0M646,1361a2.3,2.0 0 1,0 4.7,0a2.3,2.0 0 1,0 -4.7,0M653,1205a2.8,2.4 0 1,0 5.6,0a2.8,2.4 0 1,0 -5.6,0M670,1264a3.5,3.5 0 1,0 7.0,0a3.5,3.5 0 1,0 -7.0,0M668,1379a2.5,2.0 0 1,0 5.0,0a2.5,2.0 0 1,0 -5.0,0M652,1047a2.7,2.0 0 1,0 5.4,0a2.7,2.0 0 1,0 -5.4,0M658,1252a2.8,2.5 0 1,0 5.5,0a2.8,2.5 0 1,0 -5.5,0M642,1249a2.4,2.3 0 1,0 4.9,0a2.4,2.3 0 1,0 -4.9,0M633,1150a3.6,3.5 0 1,0 7.2,0a3.6,3.5 0 1,0 -7.2,0M677,1267a3.2,2.5 0 1,0 6.4,0a3.2,2.5 0 1,0 -6.4,0M645,1324a2.9,2.6 0 1,0 5.8,0a2.9,2.6 0 1,0 -5.8,0M661,1185a2.7,2.4 0 1,0 5.4,0a2.7,2.4 0 1,0 -5.4,0M671,1203a2.5,2.3 0 1,0 4.9,0a2.5,2.3 0 1,0 -4.9,0M679,1318a2.5,2.1 0 1,0 5.1,0a2.5,2.1 0 1,0 -5.1,0M660,1035a3.5,3.3 0 1,0 7.1,0a3.5,3.3 0 1,0 -7.1,0M640,1345a2.5,2.1 0 1,0 4.9,0a2.5,2.1 0 1,0 -4.9,0M640,1239a3.2,2.4 0 1,0 6.4,0a3.2,2.4 0 1,0 -6.4,0M648,1224a2.7,2.6 0 1,0 5.4,0a2.7,2.6 0 1,0 -5.4,0M672,1289a3.5,3.0 0 1,0 6.9,0a3.5,3.0 0 1,0 -6.9,0M639,1176a3.5,2.6 0 1,0 7.0,0a3.5,2.6 0 1,0 -7.0,0M636,1243a2.4,2.3 0 1,0 4.8,0a2.4,2.3 0 1,0 -4.8,0M680,1239a3.3,2.8 0 1,0 6.6,0a3.3,2.8 0 1,0 -6.6,0M633,1039a2.7,2.3 0 1,0 5.3,0a2.7,2.3 0 1,0 -5.3,0M686,1244a2.4,1.8 0 1,0 4.7,0a2.4,1.8 0 1,0 -4.7,0M666,1304a3.5,3.2 0 1,0 7.0,0a3.5,3.2 0 1,0 -7.0,0M688,1320a3.4,3.0 0 1,0 6.8,0a3.4,3.0 0 1,0 -6.8,0M641,1316a3.4,2.4 0 1,0 6.8,0a3.4,2.4 0 1,0 -6.8,0M715,1383a3.1,2.3 0 1,0 6.2,0a3.1,2.3 0 1,0 -6.2,0M671,1137a2.3,1.8 0 1,0 4.7,0a2.3,1.8 0 1,0 -4.7,0M654,1211a3.6,3.5 0 1,0 7.2,0a3.6,3.5 0 1,0 -7.2,0M688,1314a3.7,3.4 0 1,0 7.3,0a3.7,3.4 0 1,0 -7.3,0M654,1117a2.3,1.9 0 1,0 4.7,0a2.3,1.9 0 1,0 -4.7,0M690,1305a3.3,3.3 0 1,0 6.6,0a3.3,3.3 0 1,0 -6.6,0M695,1327a3.5,3.1 0 1,0 7.0,0a3.5,3.1 0 1,0 -7.0,0M660,1159a3.0,2.4 0 1,0 6.1,0a3.0,2.4 0 1,0 -6.1,0M643,1300a3.0,2.8 0 1,0 6.0,0a3.0,2.8 0 1,0 -6.0,0M640,1290a2.7,1.9 0 1,0 5.4,0a2.7,1.9 0 1,0 -5.4,0M659,1095a2.4,2.2 0 1,0 4.8,0a2.4,2.2 0 1,0 -4.8,0M637,1278a3.3,2.8 0 1,0 6.5,0a3.3,2.8 0 1,0 -6.5,0M694,1341a3.6,3.1 0 1,0 7.1,0a3.6,3.1 0 1,0 -7.1,0M708,1354a2.3,2.1 0 1,0 4.7,0a2.3,2.1 0 1,0 -4.7,0M655,1111a3.7,3.6 0 1,0 7.3,0a3.7,3.6 0 1,0 -7.3,0M635,1167a3.5,2.5 0 1,0 7.0,0a3.5,2.5 0 1,0 -7.0,0M656,1317a3.6,2.7 0 1,0 7.2,0a3.6,2.7 0 1,0 -7.2,0M664,1121a3.4,2.9 0 1,0 6.8,0a3.4,2.9 0 1,0 -6.8,0M674,1216a3.6,2.6 0 1,0 7.2,0a3.6,2.6 0 1,0 -7.2,0M706,1392a3.1,2.8 0 1,0 6.2,0a3.1,2.8 0 1,0 -6.2,0M658,1267a3.5,3.0 0 1,0 7.1,0a3.5,3.0 0 1,0 -7.1,0" fill="#2c2c96"/>
<path d="M664,1354a2.4,2.0 0 1,0 4.7,0a2.4,2.0 0 1,0 -4.7,0M688,1194a3.1,2.4 0 1,0 6.2,0a3.1,2.4 0 1,0 -6.2,0M649,1086a3.5,2.5 0 1,0 6.9,0a3.5,2.5 0 1,0 -6.9,0M647,1337a3.0,2.1 0 1,0 6.0,0a3.0,2.1 0 1,0 -6.0,0M676,1222a2.7,2.0 0 1,0 5.3,0a2.7,2.0 0 1,0 -5.3,0M647,1164a2.9,2.4 0 1,0 5.9,0a2.9,2.4 0 1,0 -5.9,0M670,1212a2.4,1.8 0 1,0 4.8,0a2.4,1.8 0 1,0 -4.8,0M666,1089a3.5,2.5 0 1,0 6.9,0a3.5,2.5 0 1,0 -6.9,0M658,1342a2.8,2.6 0 1,0 5.5,0a2.8,2.6 0 1,0 -5.5,0M695,1375a3.6,2.7 0 1,0 7.2,0a3.6,2.7 0 1,0 -7.2,0M690,1224a3.5,3.4 0 1,0 6.9,0a3.5,3.4 0 1,0 -6.9,0M659,1239a2.5,2.4 0 1,0 5.0,0a2.5,2.4 0 1,0 -5.0,0M654,1124a2.6,2.4 0 1,0 5.3,0a2.6,2.4 0 1,0 -5.3,0M655,1191a2.6,2.1 0 1,0 5.2,0a2.6,2.1 0 1,0 -5.2,0M694,1363a3.4,2.6 0 1,0 6.7,0a3.4,2.6 0 1,0 -6.7,0M634,1292a3.1,3.0 0 1,0 6.2,0a3.1,3.0 0 1,0 -6.2,0M712,1388a2.4,1.7 0 1,0 4.8,0a2.4,1.7 0 1,0 -4.8,0M635,1350a3.6,2.6 0 1,0 7.2,0a3.6,2.6 0 1,0 -7.2,0M707,1367a3.0,2.4 0 1,0 6.1,0a3.0,2.4 0 1,0 -6.1,0M680,1203a3.1,2.8 0 1,0 6.3,0a3.1,2.8 0 1,0 -6.3,0M708,1360a3.0,2.9 0 1,0 5.9,0a3.0,2.9 0 1,0 -5.9,0M667,1169a2.6,2.6 0 1,0 5.2,0a2.6,2.6 0 1,0 -5.2,0M665,1318a2.7,2.4 0 1,0 5.4,0a2.7,2.4 0 1,0 -5.4,0M635,1223a3.0,2.2 0 1,0 6.0,0a3.0,2.2 0 1,0 -6.0,0M637,1378a3.5,3.4 0 1,0 6.9,0a3.5,3.4 0 1,0 -6.9,0M678,1170a3.1,2.4 0 1,0 6.2,0a3.1,2.4 0 1,0 -6.2,0M636,1382a2.3,2.0 0 1,0 4.6,0a2.3,2.0 0 1,0 -4.6,0M688,1300a2.8,2.7 0 1,0 5.7,0a2.8,2.7 0 1,0 -5.7,0M664,1201a2.8,2.7 0 1,0 5.7,0a2.8,2.7 0 1,0 -5.7,0M661,1179a3.3,2.6 0 1,0 6.7,0a3.3,2.6 0 1,0 -6.7,0M669,1101a2.6,2.3 0 1,0 5.3,0a2.6,2.3 0 1,0 -5.3,0M688,1326a2.4,2.1 0 1,0 4.9,0a2.4,2.1 0 1,0 -4.9,0M674,1324a3.2,3.0 0 1,0 6.5,0a3.2,3.0 0 1,0 -6.5,0M645,1355a2.5,1.7 0 1,0 4.9,0a2.5,1.7 0 1,0 -4.9,0M705,1341a2.9,2.7 0 1,0 5.7,0a2.9,2.7 0 1,0 -5.7,0M697,1313a2.8,2.7 0 1,0 5.5,0a2.8,2.7 0 1,0 -5.5,0M652,1252a2.5,2.2 0 1,0 4.9,0a2.5,2.2 0 1,0 -4.9,0M649,1213a2.5,2.2 0 1,0 5.1,0a2.5,2.2 0 1,0 -5.1,0M670,1061a3.4,2.9 0 1,0 6.8,0a3.4,2.9 0 1,0 -6.8,0M702,1363a2.9,2.3 0 1,0 5.8,0a2.9,2.3 0 1,0 -5.8,0M643,1390a2.9,2.3 0 1,0 5.7,0a2.9,2.3 0 1,0 -5.7,0M663,1230a3.5,3.4 0 1,0 6.9,0a3.5,3.4 0 1,0 -6.9,0M677,1337a2.9,2.2 0 1,0 5.8,0a2.9,2.2 0 1,0 -5.8,0M664,1285a3.4,2.7 0 1,0 6.8,0a3.4,2.7 0 1,0 -6.8,0M635,1286a2.8,2.7 0 1,0 5.5,0a2.8,2.7 0 1,0 -5.5,0M688,1363a3.5,2.6 0 1,0 7.0,0a3.5,2.6 0 1,0 -7.0,0M673,1148a2.5,2.3 0 1,0 5.0,0a2.5,2.3 0 1,0 -5.0,0M634,1075a2.9,2.2 0 1,0 5.7,0a2.9,2.2 0 1,0 -5.7,0M657,1127a2.9,2.9 0 1,0 5.9,0a2.9,2.9 0 1,0 -5.9,0M634,1144a2.4,2.1 0 1,0 4.8,0a2.4,2.1 0 1,0 -4.8,0M642,1227a2.7,2.5 0 1,0 5.5,0a2.7,2.5 0 1,0 -5.5,0M634,1139a2.9,2.6 0 1,0 5.9,0a2.9,2.6 0 1,0 -5.9,0M634,1059a3.6,3.5 0 1,0 7.1,0a3.6,3.5 0 1,0 -7.1,0M665,1312a3.2,2.3 0 1,0 6.4,0a3.2,2.3 0 1,0 -6.4,0M636,1098a3.0,3.0 0 1,0 6.0,0a3.0,3.0 0 1,0 -6.0,0M665,1253a2.5,1.8 0 1,0 5.0,0a2.5,1.8 0 1,0 -5.0,0M633,1263a3.5,3.5 0 1,0 7.0,0a3.5,3.5 0 1,0 -7.0,0M672,1304a3.5,3.5 0 1,0 7.0,0a3.5,3.5 0 1,0 -7.0,0" fill="#3a3088"/>
<path d="M641,1271a3.6,3.6 0 1,0 7.2,0a3.6,3.6 0 1,0 -7.2,0M701,1389a3.5,3.5 0 1,0 7.0,0a3.5,3.5 0 1,0 -7.0,0M640,1209a3.4,2.5 0 1,0 6.8,0a3.4,2.5 0 1,0 -6.8,0M687,1265a3.2,2.7 0 1,0 6.3,0a3.2,2.7 0 1,0 -6.3,0M682,1178a2.3,2.0 0 1,0 4.7,0a2.3,2.0 0 1,0 -4.7,0M652,1140a2.8,2.7 0 1,0 5.7,0a2.8,2.7 0 1,0 -5.7,0M668,1259a2.9,2.1 0 1,0 5.8,0a2.9,2.1 0 1,0 -5.8,0M635,1197a2.7,2.3 0 1,0 5.3,0a2.7,2.3 0 1,0 -5.3,0M699,1336a2.9,2.5 0 1,0 5.8,0a2.9,2.5 0 1,0 -5.8,0M674,1377a2.5,1.8 0 1,0 5.0,0a2.5,1.8 0 1,0 -5.0,0M673,1168a2.5,2.2 0 1,0 5.0,0a2.5,2.2 0 1,0 -5.0,0M673,1298a2.4,2.3 0 1,0 4.8,0a2.4,2.3 0 1,0 -4.8,0M649,1112a3.4,3.1 0 1,0 6.8,0a3.4,3.1 0 1,0 -6.8,0M663,1216a2.4,2.0 0 1,0 4.9,0a2.4,2.0 0 1,0 -4.9,0M687,1274a3.4,3.3 0 1,0 6.7,0a3.4,3.3 0 1,0 -6.7,0M671,1117a2.3,1.9 0 1,0 4.6,0a2.3,1.9 0 1,0 -4.6,0M660,1076a3.0,2.8 0 1,0 5.9,0a3.0,2.8 0 1,0 -5.9,0M640,1078a2.6,2.5 0 1,0 5.2,0a2.6,2.5 0 1,0 -5.2,0M646,1054a3.1,2.7 0 1,0 6.2,0a3.1,2.7 0 1,0 -6.2,0M667,1193a3.1,2.8 0 1,0 6.2,0a3.1,2.8 0 1,0 -6.2,0M682,1213a3.5,3.0 0 1,0 7.0,0a3.5,3.0 0 1,0 -7.0,0M655,1158a2.4,2.1 0 1,0 4.7,0a2.4,2.1 0 1,0 -4.7,0M648,1279a2.4,1.7 0 1,0 4.8,0a2.4,1.7 0 1,0 -4.8,0M643,1174a3.4,2.4 0 1,0 6.8,0a3.4,2.4 0 1,0 -6.8,0M646,1309a2.4,1.9 0 1,0 4.9,0a2.4,1.9 0 1,0 -4.9,0M692,1209a2.6,2.6 0 1,0 5.2,0a2.6,2.6 0 1,0 -5.2,0M645,1293a3.6,3.0 0 1,0 7.2,0a3.6,3.0 0 1,0 -7.2,0M635,1053a3.7,2.6 0 1,0 7.4,0a3.7,2.6 0 1,0 -7.4,0M695,1304a2.8,2.7 0 1,0 5.6,0a2.8,2.7 0 1,0 -5.6,0M668,1144a2.8,2.0 0 1,0 5.5,0a2.8,2.0 0 1,0 -5.5,0M678,1228a2.5,2.1 0 1,0 5.1,0a2.5,2.1 0 1,0 -5.1,0M663,1325a2.8,2.6 0 1,0 5.6,0a2.8,2.6 0 1,0 -5.6,0M676,1246a3.3,2.5 0 1,0 6.6,0a3.3,2.5 0 1,0 -6.6,0M677,1198a3.6,2.6 0 1,0 7.3,0a3.6,2.6 0 1,0 -7.3,0M636,1314a2.4,1.7 0 1,0 4.9,0a2.4,1.7 0 1,0 -4.9,0M645,1371a2.8,2.2 0 1,0 5.6,0a2.8,2.2 0 1,0 -5.6,0M684,1227a2.6,1.9 0 1,0 5.3,0a2.6,1.9 0 1,0 -5.3,0M675,1278a3.6,3.5 0 1,0 7.2,0a3.6,3.5 0 1,0 -7.2,0M653,1217a3.5,3.0 0 1,0 7.0,0a3.5,3.0 0 1,0 -7.0,0M659,1304a3.1,2.3 0 1,0 6.2,0a3.1,2.3 0 1,0 -6.2,0M663,1360a3.1,3.1 0 1,0 6.2,0a3.1,3.1 0 1,0 -6.2,0M658,1101a2.6,1.9 0 1,0 5.3,0a2.6,1.9 0 1,0 -5.3,0M661,1224a2.6,2.5 0 1,0 5.2,0a2.6,2.5 0 1,0 -5.2,0M635,1368a2.6,2.4 0 1,0 5.3,0a2.6,2.4 0 1,0 -5.3,0M633,1345a3.4,3.2 0 1,0 6.7,0a3.4,3.2 0 1,0 -6.7,0M654,1182a2.3,2.1 0 1,0 4.6,0a2.3,2.1 0 1,0 -4.6,0M654,1358a2.6,2.3 0 1,0 5.1,0a2.6,2.3 0 1,0 -5.1,0M635,1065a2.5,2.3 0 1,0 5.0,0a2.5,2.3 0 1,0 -5.0,0M640,1150a3.4,3.4 0 1,0 6.8,0a3.4,3.4 0 1,0 -6.8,0M652,1378a3.0,2.3 0 1,0 6.0,0a3.0,2.3 0 1,0 -6.0,0M648,1305a2.8,2.8 0 1,0 5.5,0a2.8,2.8 0 1,0 -5.5,0M669,1224a3.1,2.6 0 1,0 6.2,0a3.1,2.6 0 1,0 -6.2,0M651,1284a3.7,2.8 0 1,0 7.3,0a3.7,2.8 0 1,0 -7.3,0M688,1202a2.7,2.3 0 1,0 5.5,0a2.7,2.3 0 1,0 -5.5,0M684,1347a2.6,2.5 0 1,0 5.3,0a2.6,2.5 0 1,0 -5.3,0M692,1383a2.5,1.8 0 1,0 5.0,0a2.5,1.8 0 1,0 -5.0,0M633,1178a3.4,2.9 0 1,0 6.8,0a3.4,2.9 0 1,0 -6.8,0M668,1095a3.2,2.3 0 1,0 6.3,0a3.2,2.3 0 1,0 -6.3,0M693,1286a3.4,2.5 0 1,0 6.8,0a3.4,2.5 0 1,0 -6.8,0M681,1326a2.3,2.2 0 1,0 4.7,0a2.3,2.2 0 1,0 -4.7,0M658,1121a3.4,2.8 0 1,0 6.8,0a3.4,2.8 0 1,0 -6.8,0M684,1334a3.5,3.4 0 1,0 7.0,0a3.5,3.4 0 1,0 -7.0,0M689,1242a3.7,3.2 0 1,0 7.4,0a3.7,3.2 0 1,0 -7.4,0M642,1255a3.3,2.7 0 1,0 6.5,0a3.3,2.7 0 1,0 -6.5,0M685,1256a3.0,2.6 0 1,0 6.1,0a3.0,2.6 0 1,0 -6.1,0M636,1357a3.5,2.6 0 1,0 6.9,0a3.5,2.6 0 1,0 -6.9,0M639,1201a2.8,2.3 0 1,0 5.6,0a2.8,2.3 0 1,0 -5.6,0M642,1276a3.3,2.3 0 1,0 6.7,0a3.3,2.3 0 1,0 -6.7,0M633,1191a3.1,2.5 0 1,0 6.2,0a3.1,2.5 0 1,0 -6.2,0M649,1145a3.3,2.7 0 1,0 6.6,0a3.3,2.7 0 1,0 -6.6,0M646,1046a3.6,2.7 0 1,0 7.2,0a3.6,2.7 0 1,0 -7.2,0" fill="#242488"/>
<path d="M675,1391a3.1,2.4 0 1,0 6.1,0a3.1,2.4 0 1,0 -6.1,0M664,1051a3.1,2.8 0 1,0 6.3,0a3.1,2.8 0 1,0 -6.3,0M659,1192a2.9,2.2 0 1,0 5.9,0a2.9,2.2 0 1,0 -5.9,0M636,1388a3.4,2.6 0 1,0 6.7,0a3.4,2.6 0 1,0 -6.7,0M656,1168a2.7,2.3 0 1,0 5.3,0a2.7,2.3 0 1,0 -5.3,0M638,1328a2.5,1.8 0 1,0 5.0,0a2.5,1.8 0 1,0 -5.0,0M660,1061a3.5,3.2 0 1,0 7.1,0a3.5,3.2 0 1,0 -7.1,0M664,1101a2.4,2.1 0 1,0 4.8,0a2.4,2.1 0 1,0 -4.8,0M694,1318a2.5,2.2 0 1,0 5.1,0a2.5,2.2 0 1,0 -5.1,0M644,1123a3.7,3.6 0 1,0 7.4,0a3.7,3.6 0 1,0 -7.4,0M681,1363a3.2,2.9 0 1,0 6.4,0a3.2,2.9 0 1,0 -6.4,0M672,1186a2.6,2.1 0 1,0 5.2,0a2.6,2.1 0 1,0 -5.2,0M681,1165a2.4,2.4 0 1,0 4.9,0a2.4,2.4 0 1,0 -4.9,0M683,1385a2.9,2.3 0 1,0 5.8,0a2.9,2.3 0 1,0 -5.8,0M671,1311a2.8,2.1 0 1,0 5.5,0a2.8,2.1 0 1,0 -5.5,0M682,1340a3.0,2.9 0 1,0 6.0,0a3.0,2.9 0 1,0 -6.0,0M661,1367a3.4,3.1 0 1,0 6.8,0a3.4,3.1 0 1,0 -6.8,0M638,1130a3.6,2.7 0 1,0 7.2,0a3.6,2.7 0 1,0 -7.2,0M649,1231a3.7,2.6 0 1,0 7.3,0a3.7,2.6 0 1,0 -7.3,0M669,1245a3.5,3.2 0 1,0 7.0,0a3.5,3.2 0 1,0 -7.0,0M659,1258a2.7,2.3 0 1,0 5.4,0a2.7,2.3 0 1,0 -5.4,0M675,1143a2.9,2.8 0 1,0 5.7,0a2.9,2.8 0 1,0 -5.7,0M638,1038a3.4,2.4 0 1,0 6.7,0a3.4,2.4 0 1,0 -6.7,0M662,1300a2.8,2.3 0 1,0 5.6,0a2.8,2.3 0 1,0 -5.6,0M653,1102a3.0,2.3 0 1,0 5.9,0a3.0,2.3 0 1,0 -5.9,0M652,1153a2.9,2.3 0 1,0 5.7,0a2.9,2.3 0 1,0 -5.7,0M642,1283a3.2,2.7 0 1,0 6.4,0a3.2,2.7 0 1,0 -6.4,0M662,1262a3.4,2.7 0 1,0 6.8,0a3.4,2.7 0 1,0 -6.8,0M711,1374a3.2,2.8 0 1,0 6.4,0a3.2,2.8 0 1,0 -6.4,0M643,1087a2.8,2.1 0 1,0 5.6,0a2.8,2.1 0 1,0 -5.6,0M682,1268a3.4,2.5 0 1,0 6.8,0a3.4,2.5 0 1,0 -6.8,0M666,1109a2.8,2.6 0 1,0 5.7,0a2.8,2.6 0 1,0 -5.7,0M692,1248a3.2,2.6 0 1,0 6.3,0a3.2,2.6 0 1,0 -6.3,0M668,1276a3.6,3.2 0 1,0 7.2,0a3.6,3.2 0 1,0 -7.2,0M658,1107a3.0,2.3 0 1,0 5.9,0a3.0,2.3 0 1,0 -5.9,0M689,1374a2.9,2.5 0 1,0 5.8,0a2.9,2.5 0 1,0 -5.8,0M637,1268a2.7,2.1 0 1,0 5.4,0a2.7,2.1 0 1,0 -5.4,0M635,1322a3.6,3.1 0 1,0 7.2,0a3.6,3.1 0 1,0 -7.2,0M691,1369a3.1,2.9 0 1,0 6.2,0a3.1,2.9 0 1,0 -6.2,0M650,1169a2.7,2.4 0 1,0 5.4,0a2.7,2.4 0 1,0 -5.4,0M695,1354a3.1,3.0 0 1,0 6.2,0a3.1,3.0 0 1,0 -6.2,0M696,1390a2.4,2.4 0 1,0 4.8,0a2.4,2.4 0 1,0 -4.8,0M681,1250a3.6,3.4 0 1,0 7.2,0a3.6,3.4 0 1,0 -7.2,0M642,1160a2.7,2.5 0 1,0 5.5,0a2.7,2.5 0 1,0 -5.5,0M658,1043a3.0,2.9 0 1,0 6.0,0a3.0,2.9 0 1,0 -6.0,0M662,1173a2.6,2.2 0 1,0 5.2,0a2.6,2.2 0 1,0 -5.2,0M677,1186a2.6,2.1 0 1,0 5.3,0a2.6,2.1 0 1,0 -5.3,0M656,1247a3.6,3.3 0 1,0 7.3,0a3.6,3.3 0 1,0 -7.3,0M655,1390a3.0,2.6 0 1,0 5.9,0a3.0,2.6 0 1,0 -5.9,0M652,1059a2.9,2.3 0 1,0 5.8,0a2.9,2.3 0 1,0 -5.8,0M645,1182a2.8,2.5 0 1,0 5.5,0a2.8,2.5 0 1,0 -5.5,0M678,1300a3.7,3.1 0 1,0 7.3,0a3.7,3.1 0 1,0 -7.3,0M681,1281a2.5,2.3 0 1,0 5.1,0a2.5,2.3 0 1,0 -5.1,0M659,1199a2.6,2.5 0 1,0 5.2,0a2.6,2.5 0 1,0 -5.2,0M675,1207a2.9,2.7 0 1,0 5.7,0a2.9,2.7 0 1,0 -5.7,0M685,1369a3.2,3.0 0 1,0 6.5,0a3.2,3.0 0 1,0 -6.5,0M648,1329a2.6,2.0 0 1,0 5.2,0a2.6,2.0 0 1,0 -5.2,0M649,1106a2.7,2.4 0 1,0 5.3,0a2.7,2.4 0 1,0 -5.3,0M645,1130a2.7,2.7 0 1,0 5.5,0a2.7,2.7 0 1,0 -5.5,0M668,1037a2.7,2.0 0 1,0 5.4,0a2.7,2.0 0 1,0 -5.4,0M693,1298a3.4,3.2 0 1,0 6.7,0a3.4,3.2 0 1,0 -6.7,0M668,1322a3.4,2.6 0 1,0 6.9,0a3.4,2.6 0 1,0 -6.9,0M660,1167a3.3,2.6 0 1,0 6.5,0a3.3,2.6 0 1,0 -6.5,0M689,1339a2.5,2.4 0 1,0 5.0,0a2.5,2.4 0 1,0 -5.0,0M653,1372a3.1,2.3 0 1,0 6.2,0a3.1,2.3 0 1,0 -6.2,0M676,1235a3.2,2.9 0 1,0 6.3,0a3.2,2.9 0 1,0 -6.3,0M674,1371a3.5,3.2 0 1,0 7.0,0a3.5,3.2 0 1,0 -7.0,0M634,1333a2.9,2.1 0 1,0 5.8,0a2.9,2.1 0 1,0 -5.8,0" fill="#20207a"/>
<path d="M817,1053a2.5,2.0 0 1,0 5.1,0a2.5,2.0 0 1,0 -5.1,0M832,1047a2.5,2.0 0 1,0 5.0,0a2.5,2.0 0 1,0 -5.0,0M833,1078a2.8,2.2 0 1,0 5.5,0a2.8,2.2 0 1,0 -5.5,0M831,1067a2.9,2.3 0 1,0 5.7,0a2.9,2.3 0 1,0 -5.7,0M795,1082a2.8,2.2 0 1,0 5.5,0a2.8,2.2 0 1,0 -5.5,0M822,1059a2.8,2.3 0 1,0 5.7,0a2.8,2.3 0 1,0 -5.7,0M788,1098a2.6,2.0 0 1,0 5.1,0a2.6,2.0 0 1,0 -5.1,0M803,1081a2.4,1.9 0 1,0 4.8,0a2.4,1.9 0 1,0 -4.8,0M788,1066a2.3,1.9 0 1,0 4.6,0a2.3,1.9 0 1,0 -4.6,0M829,1092a3.2,2.5 0 1,0 6.3,0a3.2,2.5 0 1,0 -6.3,0M785,1057a2.7,2.1 0 1,0 5.3,0a2.7,2.1 0 1,0 -5.3,0M828,1072a3.0,2.4 0 1,0 6.1,0a3.0,2.4 0 1,0 -6.1,0M806,1044a3.4,2.7 0 1,0 6.7,0a3.4,2.7 0 1,0 -6.7,0M807,1104a2.3,1.9 0 1,0 4.7,0a2.3,1.9 0 1,0 -4.7,0M817,1084a2.4,1.9 0 1,0 4.7,0a2.4,1.9 0 1,0 -4.7,0M815,1077a2.8,2.3 0 1,0 5.7,0a2.8,2.3 0 1,0 -5.7,0M797,1037a3.4,2.7 0 1,0 6.8,0a3.4,2.7 0 1,0 -6.8,0M830,1074a2.5,2.0 0 1,0 5.0,0a2.5,2.0 0 1,0 -5.0,0M797,1055a2.7,2.2 0 1,0 5.4,0a2.7,2.2 0 1,0 -5.4,0M809,1094a2.3,1.9 0 1,0 4.6,0a2.3,1.9 0 1,0 -4.6,0M788,1093a2.7,2.2 0 1,0 5.4,0a2.7,2.2 0 1,0 -5.4,0M807,1151a3.1,2.5 0 1,0 6.2,0a3.1,2.5 0 1,0 -6.2,0M821,1191a2.6,2.1 0 1,0 5.2,0a2.6,2.1 0 1,0 -5.2,0M805,1173a3.3,2.6 0 1,0 6.5,0a3.3,2.6 0 1,0 -6.5,0M814,1141a3.4,2.7 0 1,0 6.8,0a3.4,2.7 0 1,0 -6.8,0M830,1183a3.2,2.5 0 1,0 6.3,0a3.2,2.5 0 1,0 -6.3,0M832,1177a3.2,2.6 0 1,0 6.4,0a3.2,2.6 0 1,0 -6.4,0M800,1159a3.3,2.7 0 1,0 6.7,0a3.3,2.7 0 1,0 -6.7,0M815,1194a2.8,2.2 0 1,0 5.5,0a2.8,2.2 0 1,0 -5.5,0M802,1158a3.4,2.7 0 1,0 6.7,0a3.4,2.7 0 1,0 -6.7,0M806,1179a3.2,2.6 0 1,0 6.4,0a3.2,2.6 0 1,0 -6.4,0M832,1158a2.4,1.9 0 1,0 4.8,0a2.4,1.9 0 1,0 -4.8,0M811,1190a3.3,2.7 0 1,0 6.7,0a3.3,2.7 0 1,0 -6.7,0M818,1204a3.4,2.7 0 1,0 6.8,0a3.4,2.7 0 1,0 -6.8,0M833,1169a2.7,2.2 0 1,0 5.4,0a2.7,2.2 0 1,0 -5.4,0M805,1207a3.3,2.7 0 1,0 6.7,0a3.3,2.7 0 1,0 -6.7,0M819,1215a2.4,1.9 0 1,0 4.8,0a2.4,1.9 0 1,0 -4.8,0M816,1212a2.8,2.3 0 1,0 5.7,0a2.8,2.3 0 1,0 -5.7,0M822,1367a2.7,2.2 0 1,0 5.4,0a2.7,2.2 0 1,0 -5.4,0M804,1388a2.9,2.3 0 1,0 5.7,0a2.9,2.3 0 1,0 -5.7,0M828,1345a2.9,2.3 0 1,0 5.8,0a2.9,2.3 0 1,0 -5.8,0M800,1300a3.3,2.7 0 1,0 6.7,0a3.3,2.7 0 1,0 -6.7,0M822,1378a2.6,2.1 0 1,0 5.1,0a2.6,2.1 0 1,0 -5.1,0M822,1330a3.3,2.6 0 1,0 6.6,0a3.3,2.6 0 1,0 -6.6,0M830,1316a3.1,2.5 0 1,0 6.2,0a3.1,2.5 0 1,0 -6.2,0M786,1359a3.0,2.4 0 1,0 5.9,0a3.0,2.4 0 1,0 -5.9,0M812,1371a2.7,2.2 0 1,0 5.4,0a2.7,2.2 0 1,0 -5.4,0M799,1312a2.3,1.8 0 1,0 4.6,0a2.3,1.8 0 1,0 -4.6,0M829,1312a2.6,2.1 0 1,0 5.3,0a2.6,2.1 0 1,0 -5.3,0M777,1331a3.1,2.5 0 1,0 6.3,0a3.1,2.5 0 1,0 -6.3,0M795,1313a2.8,2.2 0 1,0 5.6,0a2.8,2.2 0 1,0 -5.6,0M804,1348a3.3,2.6 0 1,0 6.6,0a3.3,2.6 0 1,0 -6.6,0M802,1340a3.0,2.4 0 1,0 6.0,0a3.0,2.4 0 1,0 -6.0,0M791,1374a2.9,2.3 0 1,0 5.9,0a2.9,2.3 0 1,0 -5.9,0M801,1365a2.5,2.0 0 1,0 5.0,0a2.5,2.0 0 1,0 -5.0,0M814,1326a2.3,1.9 0 1,0 4.7,0a2.3,1.9 0 1,0 -4.7,0M798,1364a3.0,2.4 0 1,0 6.0,0a3.0,2.4 0 1,0 -6.0,0M783,1349a3.3,2.7 0 1,0 6.7,0a3.3,2.7 0 1,0 -6.7,0M831,1307a3.3,2.6 0 1,0 6.6,0a3.3,2.6 0 1,0 -6.6,0M828,1361a3.2,2.6 0 1,0 6.4,0a3.2,2.6 0 1,0 -6.4,0M808,1349a2.7,2.2 0 1,0 5.5,0a2.7,2.2 0 1,0 -5.5,0M800,1305a3.2,2.5 0 1,0 6.4,0a3.2,2.5 0 1,0 -6.4,0M789,1383a2.8,2.3 0 1,0 5.7,0a2.8,2.3 0 1,0 -5.7,0M825,1319a2.7,2.2 0 1,0 5.4,0a2.7,2.2 0 1,0 -5.4,0M781,1311a2.7,2.2 0 1,0 5.5,0a2.7,2.2 0 1,0 -5.5,0M784,1348a3.1,2.5 0 1,0 6.2,0a3.1,2.5 0 1,0 -6.2,0M781,1391a3.1,2.4 0 1,0 6.1,0a3.1,2.4 0 1,0 -6.1,0M823,1376a2.9,2.3 0 1,0 5.8,0a2.9,2.3 0 1,0 -5.8,0M832,1335a3.1,2.5 0 1,0 6.1,0a3.1,2.5 0 1,0 -6.1,0M815,1325a3.0,2.4 0 1,0 6.1,0a3.0,2.4 0 1,0 -6.1,0M782,1334a3.2,2.5 0 1,0 6.3,0a3.2,2.5 0 1,0 -6.3,0" fill="#2c2c90"/>
<ellipse cx="744" cy="1052" rx="2.2" ry="4.5" transform="rotate(0 744 1052)" fill="#5a3010" stroke="#b07040" stroke-width="1.2"/>
<ellipse cx="745" cy="1079" rx="2.2" ry="4.5" transform="rotate(80 745 1079)" fill="#5a3010" stroke="#b07040" stroke-width="1.2"/>
<ellipse cx="756" cy="1150" rx="2.2" ry="4.5" transform="rotate(0 756 1150)" fill="#5a3010" stroke="#b07040" stroke-width="1.2"/>
<ellipse cx="743" cy="1206" rx="2.2" ry="4.5" transform="rotate(0 743 1206)" fill="#5a3010" stroke="#b07040" stroke-width="1.2"/>
<ellipse cx="760" cy="1232" rx="2.2" ry="4.5" transform="rotate(10 760 1232)" fill="#5a3010" stroke="#b07040" stroke-width="1.2"/>
<ellipse cx="734" cy="1312" rx="2.2" ry="4.5" transform="rotate(0 734 1312)" fill="#5a3010" stroke="#b07040" stroke-width="1.2"/>
<ellipse cx="753" cy="1301" rx="2.2" ry="4.5" transform="rotate(0 753 1301)" fill="#5a3010" stroke="#b07040" stroke-width="1.2"/>
<ellipse cx="744" cy="1346" rx="2.2" ry="4.5" transform="rotate(0 744 1346)" fill="#5a3010" stroke="#b07040" stroke-width="1.2"/>
</g>
<rect x="638.8" y="1032.6" width="194.7" height="358.8" fill="none" stroke="#000" stroke-width="2.2"/>
<line x1="769.7" y1="1379.5" x2="820" y2="1379.5" stroke="#fff" stroke-width="3.2"/>
<filter id="speck" x="0" y="0" width="1" height="1" filterUnits="objectBoundingBox" color-interpolation-filters="sRGB"><feTurbulence type="fractalNoise" baseFrequency="0.3" numOctaves="2" seed="7"/><feColorMatrix type="matrix" values="0 0 0 0 0.17  0 0 0 0 0.72  0 0 0 0 0.43  0 0 0 -22 11.3"/><feComposite in2="SourceAlpha" operator="in"/></filter><filter id="speck2" x="0" y="0" width="1" height="1" filterUnits="objectBoundingBox" color-interpolation-filters="sRGB"><feTurbulence type="fractalNoise" baseFrequency="0.3" numOctaves="2" seed="3"/><feColorMatrix type="matrix" values="0 0 0 0 0.85  0 0 0 0 0.93  0 0 0 0 0.88  0 0 0 -22 10.2"/><feComposite in2="SourceAlpha" operator="in"/></filter><filter id="speck3" x="0" y="0" width="1" height="1" filterUnits="objectBoundingBox" color-interpolation-filters="sRGB"><feTurbulence type="fractalNoise" baseFrequency="0.5" numOctaves="1" seed="5"/><feColorMatrix type="matrix" values="0 0 0 0 0.25  0 0 0 0 0.22  0 0 0 0 0.25  0 0 0 -30 13.0"/><feComposite in2="SourceAlpha" operator="in"/></filter>
<clipPath id="tclip0"><rect x="28.5" y="1672.2" width="396.7" height="284.8"/></clipPath>
<g clip-path="url(#tclip0)">
<rect x="28.5" y="1672.2" width="396.7" height="284.8" fill="#d6ddc8"/>
<path d="M26.0,1670.1 C93.4,1665.3 363.3,1647.1 430.8,1670.1 C498.3,1693.0 436.9,1790.8 430.8,1807.6 C424.8,1824.5 405.7,1783.4 394.5,1771.3 C383.2,1759.2 373.7,1744.9 363.3,1735.0 C353.0,1725.0 349.5,1717.2 332.2,1711.6 C314.9,1706.0 288.9,1703.8 259.5,1701.2 C230.1,1698.6 194.6,1696.5 155.7,1696.0 C116.8,1695.6 47.6,1702.9 26.0,1698.6 C4.3,1694.3 -41.5,1674.8 26.0,1670.1Z" fill="#78c8b4" opacity="0.8"/>
<path d="M26.0,1670.1 C93.4,1665.3 363.3,1647.1 430.8,1670.1 C498.3,1693.0 436.9,1790.8 430.8,1807.6 C424.8,1824.5 405.7,1783.4 394.5,1771.3 C383.2,1759.2 373.7,1744.9 363.3,1735.0 C353.0,1725.0 349.5,1717.2 332.2,1711.6 C314.9,1706.0 288.9,1703.8 259.5,1701.2 C230.1,1698.6 194.6,1696.5 155.7,1696.0 C116.8,1695.6 47.6,1702.9 26.0,1698.6 C4.3,1694.3 -41.5,1674.8 26.0,1670.1Z" fill="#000" filter="url(#speck2)" opacity="0.5"/>
<path d="M26.0,1670.1 C73.5,1667.9 267.3,1667.5 311.4,1670.1 C355.5,1672.7 316.6,1683.0 290.7,1685.6 C264.7,1688.2 199.8,1686.1 155.7,1685.6 C111.6,1685.2 47.6,1685.6 26.0,1683.0 C4.3,1680.5 -21.6,1672.2 26.0,1670.1Z" fill="#50b8a0" opacity="0.6"/>
<path d="M26.0,1670.1 C73.5,1667.9 267.3,1667.5 311.4,1670.1 C355.5,1672.7 316.6,1683.0 290.7,1685.6 C264.7,1688.2 199.8,1686.1 155.7,1685.6 C111.6,1685.2 47.6,1685.6 26.0,1683.0 C4.3,1680.5 -21.6,1672.2 26.0,1670.1Z" fill="#000" filter="url(#speck2)" opacity="0.5"/>
<path d="M97.0,1760.5 C104.6,1751.3 131.6,1773.2 142.3,1770.0 C153.0,1766.8 147.8,1748.2 161.3,1741.4 C174.8,1734.7 207.8,1726.3 223.2,1729.5 C238.7,1732.7 247.0,1749.8 254.2,1760.5 C261.3,1771.2 259.3,1795.4 266.1,1793.8 C272.8,1792.2 286.7,1756.5 294.7,1751.0 C302.6,1745.4 308.6,1748.2 313.7,1760.5 C318.9,1772.8 321.7,1809.7 325.6,1824.8 C329.6,1839.8 330.8,1845.0 337.5,1851.0 C344.3,1856.9 360.5,1842.2 366.1,1860.5 C371.7,1878.7 410.5,1943.8 370.9,1960.5 C331.2,1977.1 171.3,1973.2 128.0,1960.5 C84.7,1947.8 116.5,1906.9 111.3,1884.3 C106.2,1861.7 99.4,1845.4 97.0,1824.8 C94.7,1804.1 89.5,1769.6 97.0,1760.5Z" fill="#c6e6cc"/>
<path d="M97.0,1760.5 C104.6,1751.3 131.6,1773.2 142.3,1770.0 C153.0,1766.8 147.8,1748.2 161.3,1741.4 C174.8,1734.7 207.8,1726.3 223.2,1729.5 C238.7,1732.7 247.0,1749.8 254.2,1760.5 C261.3,1771.2 259.3,1795.4 266.1,1793.8 C272.8,1792.2 286.7,1756.5 294.7,1751.0 C302.6,1745.4 308.6,1748.2 313.7,1760.5 C318.9,1772.8 321.7,1809.7 325.6,1824.8 C329.6,1839.8 330.8,1845.0 337.5,1851.0 C344.3,1856.9 360.5,1842.2 366.1,1860.5 C371.7,1878.7 410.5,1943.8 370.9,1960.5 C331.2,1977.1 171.3,1973.2 128.0,1960.5 C84.7,1947.8 116.5,1906.9 111.3,1884.3 C106.2,1861.7 99.4,1845.4 97.0,1824.8 C94.7,1804.1 89.5,1769.6 97.0,1760.5Z" fill="#000" filter="url(#speck)"/>
<ellipse cx="227" cy="1759" rx="5" ry="9" transform="rotate(28 227 1759)" fill="#d6ddc8" opacity="0.9"/>
<ellipse cx="333" cy="1845" rx="8" ry="7" transform="rotate(-20 333 1845)" fill="#d6ddc8" opacity="0.9"/>
<ellipse cx="148" cy="1795" rx="4" ry="9" transform="rotate(24 148 1795)" fill="#d6ddc8" opacity="0.9"/>
<ellipse cx="160" cy="1812" rx="6" ry="6" transform="rotate(-5 160 1812)" fill="#d6ddc8" opacity="0.9"/>
<ellipse cx="296" cy="1899" rx="6" ry="5" transform="rotate(-6 296 1899)" fill="#d6ddc8" opacity="0.9"/>
<ellipse cx="214" cy="1754" rx="3" ry="13" transform="rotate(-33 214 1754)" fill="#d6ddc8" opacity="0.9"/>
<ellipse cx="163" cy="1774" rx="4" ry="7" transform="rotate(-15 163 1774)" fill="#d6ddc8" opacity="0.9"/>
<ellipse cx="323" cy="1886" rx="4" ry="10" transform="rotate(-14 323 1886)" fill="#d6ddc8" opacity="0.9"/>
<ellipse cx="208" cy="1846" rx="6" ry="14" transform="rotate(-2 208 1846)" fill="#d6ddc8" opacity="0.9"/>
<ellipse cx="133" cy="1892" rx="7" ry="10" transform="rotate(14 133 1892)" fill="#d6ddc8" opacity="0.9"/>
<ellipse cx="160" cy="1778" rx="8" ry="9" transform="rotate(-6 160 1778)" fill="#d6ddc8" opacity="0.9"/>
<ellipse cx="227" cy="1767" rx="5" ry="6" transform="rotate(1 227 1767)" fill="#d6ddc8" opacity="0.9"/>
<ellipse cx="316" cy="1800" rx="3" ry="10" transform="rotate(-28 316 1800)" fill="#d6ddc8" opacity="0.9"/>
<ellipse cx="216" cy="1745" rx="5" ry="11" transform="rotate(-17 216 1745)" fill="#d6ddc8" opacity="0.9"/>
<ellipse cx="196" cy="1857" rx="7" ry="12" transform="rotate(-32 196 1857)" fill="#d6ddc8" opacity="0.9"/>
<path d="M32.8,1772.4 C35.1,1759.3 38.7,1741.4 47.0,1734.3 C55.4,1727.1 76.0,1723.6 82.8,1729.5 C89.5,1735.5 88.7,1746.2 87.5,1770.0 C86.3,1793.8 79.6,1856.1 75.6,1872.4 C71.7,1888.7 70.9,1877.5 63.7,1867.6 C56.6,1857.7 37.9,1828.7 32.8,1812.9 C27.6,1797.0 30.4,1785.5 32.8,1772.4Z" fill="#c6e6cc"/>
<path d="M32.8,1772.4 C35.1,1759.3 38.7,1741.4 47.0,1734.3 C55.4,1727.1 76.0,1723.6 82.8,1729.5 C89.5,1735.5 88.7,1746.2 87.5,1770.0 C86.3,1793.8 79.6,1856.1 75.6,1872.4 C71.7,1888.7 70.9,1877.5 63.7,1867.6 C56.6,1857.7 37.9,1828.7 32.8,1812.9 C27.6,1797.0 30.4,1785.5 32.8,1772.4Z" fill="#000" filter="url(#speck)"/>
<ellipse cx="63" cy="1734" rx="8" ry="8" transform="rotate(11 63 1734)" fill="#d6ddc8" opacity="0.9"/>
<path d="M168.5,1803.3 C169.7,1789.8 178.4,1790.6 182.8,1803.3 C187.1,1816.0 195.9,1866.0 194.7,1879.5 C193.5,1893.0 180.0,1897.0 175.6,1884.3 C171.3,1871.6 167.3,1816.8 168.5,1803.3Z" fill="#d6ddc8"/><path d="M309.0,1872.4 C313.7,1857.7 330.4,1857.7 335.1,1872.4 C339.9,1887.1 342.3,1945.8 337.5,1960.5 C332.8,1975.2 311.3,1975.2 306.6,1960.5 C301.8,1945.8 304.2,1887.1 309.0,1872.4Z" fill="#d6ddc8"/><path d="M130.4,1879.5 C132.4,1873.2 141.9,1873.2 144.7,1879.5 C147.4,1885.9 149.0,1911.3 147.0,1917.6 C145.1,1924.0 135.5,1924.0 132.8,1917.6 C130.0,1911.3 128.4,1885.9 130.4,1879.5Z" fill="#d6ddc8"/><path d="M218.5,1836.7 C220.9,1831.9 233.6,1832.7 237.5,1836.7 C241.5,1840.6 244.7,1855.7 242.3,1860.5 C239.9,1865.2 227.2,1869.2 223.2,1865.2 C219.3,1861.3 216.1,1841.4 218.5,1836.7Z" fill="#d6ddc8"/><rect x="157" y="1695" width="1.8" height="4.5" fill="#5a3a60" opacity="0.75" transform="rotate(-15 157 1695)"/><rect x="150" y="1711" width="2.3" height="8.6" fill="#7a4a78" opacity="0.75" transform="rotate(-18 150 1711)"/><rect x="256" y="1708" width="2.7" height="7.7" fill="#7a4a78" opacity="0.75" transform="rotate(22 256 1708)"/><rect x="97" y="1704" width="1.8" height="6.4" fill="#5a3a60" opacity="0.75" transform="rotate(27 97 1704)"/><rect x="196" y="1714" width="2.2" height="5.4" fill="#7a4a78" opacity="0.75" transform="rotate(3 196 1714)"/><rect x="164" y="1700" width="2.9" height="3.5" fill="#303030" opacity="0.75" transform="rotate(24 164 1700)"/><rect x="220" y="1721" width="2.0" height="4.3" fill="#303030" opacity="0.75" transform="rotate(-20 220 1721)"/><rect x="278" y="1708" width="3.0" height="8.7" fill="#303030" opacity="0.75" transform="rotate(-19 278 1708)"/><rect x="65" y="1694" width="2.5" height="5.5" fill="#7a4a78" opacity="0.75" transform="rotate(8 65 1694)"/><rect x="76" y="1709" width="2.1" height="3.8" fill="#7a4a78" opacity="0.75" transform="rotate(-18 76 1709)"/><rect x="276" y="1690" width="1.8" height="4.5" fill="#7a4a78" opacity="0.75" transform="rotate(20 276 1690)"/><rect x="70" y="1720" width="2.2" height="3.3" fill="#303030" opacity="0.75" transform="rotate(22 70 1720)"/><rect x="218" y="1713" width="2.4" height="5.4" fill="#5a3a60" opacity="0.75" transform="rotate(-23 218 1713)"/><rect x="123" y="1722" width="2.1" height="8.5" fill="#303030" opacity="0.75" transform="rotate(-11 123 1722)"/><rect x="187" y="1696" width="1.9" height="8.1" fill="#7a4a78" opacity="0.75" transform="rotate(-19 187 1696)"/><rect x="54" y="1698" width="2.4" height="3.3" fill="#5a3a60" opacity="0.75" transform="rotate(-7 54 1698)"/><rect x="136" y="1716" width="2.1" height="7.9" fill="#303030" opacity="0.75" transform="rotate(-24 136 1716)"/><rect x="305" y="1719" width="2.6" height="5.4" fill="#7a4a78" opacity="0.75" transform="rotate(-16 305 1719)"/><rect x="297" y="1696" width="2.6" height="3.6" fill="#303030" opacity="0.75" transform="rotate(13 297 1696)"/><rect x="99" y="1716" width="2.5" height="4.5" fill="#7a4a78" opacity="0.75" transform="rotate(-4 99 1716)"/><rect x="330" y="1718" width="2.1" height="8.4" fill="#5a3a60" opacity="0.75" transform="rotate(0 330 1718)"/><rect x="314" y="1718" width="2.7" height="6.2" fill="#7a4a78" opacity="0.75" transform="rotate(-4 314 1718)"/><rect x="122" y="1721" width="2.7" height="4.0" fill="#7a4a78" opacity="0.75" transform="rotate(11 122 1721)"/><rect x="219" y="1722" width="2.5" height="5.6" fill="#7a4a78" opacity="0.75" transform="rotate(-10 219 1722)"/><rect x="93" y="1688" width="2.0" height="4.8" fill="#5a3a60" opacity="0.75" transform="rotate(23 93 1688)"/><rect x="239" y="1715" width="1.9" height="5.5" fill="#303030" opacity="0.75" transform="rotate(-16 239 1715)"/><rect x="299" y="1700" width="2.1" height="3.7" fill="#303030" opacity="0.75" transform="rotate(-18 299 1700)"/><rect x="194" y="1720" width="3.0" height="8.9" fill="#303030" opacity="0.75" transform="rotate(17 194 1720)"/><rect x="169" y="1695" width="2.6" height="7.4" fill="#7a4a78" opacity="0.75" transform="rotate(4 169 1695)"/><rect x="226" y="1714" width="2.7" height="6.6" fill="#7a4a78" opacity="0.75" transform="rotate(-18 226 1714)"/><rect x="38" y="1692" width="2.0" height="6.5" fill="#5a3a60" opacity="0.75" transform="rotate(-5 38 1692)"/><rect x="146" y="1707" width="2.9" height="6.5" fill="#7a4a78" opacity="0.75" transform="rotate(-18 146 1707)"/><rect x="62" y="1717" width="2.1" height="7.7" fill="#7a4a78" opacity="0.75" transform="rotate(-2 62 1717)"/><rect x="71" y="1693" width="2.2" height="8.1" fill="#303030" opacity="0.75" transform="rotate(-7 71 1693)"/><rect x="206" y="1712" width="2.0" height="4.2" fill="#7a4a78" opacity="0.75" transform="rotate(4 206 1712)"/><rect x="308" y="1701" width="2.7" height="8.6" fill="#7a4a78" opacity="0.75" transform="rotate(4 308 1701)"/><rect x="226" y="1719" width="2.5" height="8.9" fill="#303030" opacity="0.75" transform="rotate(-16 226 1719)"/><rect x="174" y="1689" width="2.0" height="6.0" fill="#7a4a78" opacity="0.75" transform="rotate(9 174 1689)"/><rect x="32" y="1711" width="1.9" height="3.1" fill="#7a4a78" opacity="0.75" transform="rotate(-5 32 1711)"/><rect x="83" y="1708" width="1.6" height="3.2" fill="#7a4a78" opacity="0.75" transform="rotate(1 83 1708)"/><rect x="204" y="1698" width="2.8" height="3.3" fill="#7a4a78" opacity="0.75" transform="rotate(-16 204 1698)"/><rect x="90" y="1705" width="1.9" height="6.9" fill="#5a3a60" opacity="0.75" transform="rotate(4 90 1705)"/><rect x="93" y="1707" width="2.6" height="6.9" fill="#303030" opacity="0.75" transform="rotate(-25 93 1707)"/><rect x="242" y="1713" width="2.7" height="3.9" fill="#5a3a60" opacity="0.75" transform="rotate(-28 242 1713)"/><rect x="191" y="1701" width="2.0" height="7.7" fill="#5a3a60" opacity="0.75" transform="rotate(7 191 1701)"/><rect x="268" y="1709" width="2.0" height="3.3" fill="#7a4a78" opacity="0.75" transform="rotate(19 268 1709)"/><rect x="167" y="1699" width="2.6" height="3.9" fill="#303030" opacity="0.75" transform="rotate(28 167 1699)"/><rect x="259" y="1689" width="2.1" height="7.1" fill="#5a3a60" opacity="0.75" transform="rotate(17 259 1689)"/><rect x="339" y="1707" width="2.6" height="6.6" fill="#5a3a60" opacity="0.75" transform="rotate(23 339 1707)"/><rect x="81" y="1718" width="1.7" height="5.7" fill="#7a4a78" opacity="0.75" transform="rotate(-11 81 1718)"/><rect x="45" y="1702" width="2.0" height="4.0" fill="#5a3a60" opacity="0.75" transform="rotate(23 45 1702)"/><rect x="283" y="1698" width="1.7" height="5.6" fill="#5a3a60" opacity="0.75" transform="rotate(-28 283 1698)"/><rect x="82" y="1711" width="2.8" height="7.0" fill="#5a3a60" opacity="0.75" transform="rotate(-7 82 1711)"/><rect x="115" y="1696" width="1.7" height="7.0" fill="#7a4a78" opacity="0.75" transform="rotate(14 115 1696)"/><rect x="162" y="1712" width="2.7" height="4.0" fill="#7a4a78" opacity="0.75" transform="rotate(29 162 1712)"/><rect x="97" y="1710" width="1.7" height="6.4" fill="#7a4a78" opacity="0.75" transform="rotate(-30 97 1710)"/><rect x="325" y="1716" width="1.7" height="8.7" fill="#303030" opacity="0.75" transform="rotate(-12 325 1716)"/><rect x="339" y="1697" width="2.4" height="5.6" fill="#5a3a60" opacity="0.75" transform="rotate(26 339 1697)"/><rect x="42" y="1702" width="3.0" height="5.7" fill="#5a3a60" opacity="0.75" transform="rotate(5 42 1702)"/><rect x="137" y="1693" width="2.9" height="3.5" fill="#303030" opacity="0.75" transform="rotate(-20 137 1693)"/><rect x="260" y="1705" width="2.6" height="3.6" fill="#303030" opacity="0.75" transform="rotate(-18 260 1705)"/><rect x="280" y="1693" width="2.6" height="4.5" fill="#303030" opacity="0.75" transform="rotate(-15 280 1693)"/><rect x="234" y="1711" width="2.3" height="8.2" fill="#303030" opacity="0.75" transform="rotate(-25 234 1711)"/><rect x="106" y="1696" width="2.6" height="5.4" fill="#303030" opacity="0.75" transform="rotate(-26 106 1696)"/><rect x="109" y="1714" width="2.0" height="4.1" fill="#303030" opacity="0.75" transform="rotate(-28 109 1714)"/><rect x="43" y="1690" width="1.8" height="3.3" fill="#7a4a78" opacity="0.75" transform="rotate(-19 43 1690)"/><rect x="312" y="1711" width="1.5" height="6.2" fill="#5a3a60" opacity="0.75" transform="rotate(14 312 1711)"/><rect x="67" y="1700" width="1.7" height="4.8" fill="#7a4a78" opacity="0.75" transform="rotate(-18 67 1700)"/><rect x="49" y="1721" width="2.0" height="3.8" fill="#5a3a60" opacity="0.75" transform="rotate(20 49 1721)"/><rect x="149" y="1700" width="2.0" height="5.3" fill="#303030" opacity="0.75" transform="rotate(-21 149 1700)"/><rect x="327" y="1713" width="2" height="4.1" fill="#6a4070" opacity="0.7"/><rect x="345" y="1739" width="2" height="7.7" fill="#6a4070" opacity="0.7"/><rect x="365" y="1767" width="2" height="6.3" fill="#6a4070" opacity="0.7"/><rect x="327" y="1726" width="2" height="6.6" fill="#6a4070" opacity="0.7"/><rect x="355" y="1756" width="2" height="4.9" fill="#6a4070" opacity="0.7"/><rect x="360" y="1763" width="2" height="4.6" fill="#6a4070" opacity="0.7"/><rect x="345" y="1737" width="2" height="5.7" fill="#6a4070" opacity="0.7"/><rect x="326" y="1712" width="2" height="4.3" fill="#6a4070" opacity="0.7"/><rect x="364" y="1762" width="2" height="4.5" fill="#6a4070" opacity="0.7"/><rect x="364" y="1762" width="2" height="6.3" fill="#6a4070" opacity="0.7"/><rect x="357" y="1759" width="2" height="4.3" fill="#6a4070" opacity="0.7"/><rect x="374" y="1773" width="2" height="3.1" fill="#6a4070" opacity="0.7"/><rect x="355" y="1762" width="2" height="7.0" fill="#6a4070" opacity="0.7"/><rect x="352" y="1755" width="2" height="6.8" fill="#6a4070" opacity="0.7"/><rect x="356" y="1752" width="2" height="6.5" fill="#6a4070" opacity="0.7"/><rect x="384" y="1797" width="2" height="7.6" fill="#6a4070" opacity="0.7"/><rect x="349" y="1743" width="2" height="6.0" fill="#6a4070" opacity="0.7"/><rect x="341" y="1741" width="2" height="4.7" fill="#6a4070" opacity="0.7"/><rect x="362" y="1767" width="2" height="3.2" fill="#6a4070" opacity="0.7"/><rect x="327" y="1715" width="2" height="5.1" fill="#6a4070" opacity="0.7"/><rect x="350" y="1752" width="2" height="5.9" fill="#6a4070" opacity="0.7"/><rect x="323" y="1710" width="2" height="4.6" fill="#6a4070" opacity="0.7"/><rect x="336" y="1733" width="2" height="3.5" fill="#6a4070" opacity="0.7"/><rect x="389" y="1802" width="2" height="7.4" fill="#6a4070" opacity="0.7"/><rect x="334" y="1724" width="2" height="6.9" fill="#6a4070" opacity="0.7"/><rect x="341" y="1733" width="2" height="5.1" fill="#6a4070" opacity="0.7"/><rect x="343" y="1735" width="2" height="5.1" fill="#6a4070" opacity="0.7"/><rect x="364" y="1760" width="2" height="7.7" fill="#6a4070" opacity="0.7"/><rect x="342" y="1745" width="2" height="6.6" fill="#6a4070" opacity="0.7"/><rect x="373" y="1780" width="2" height="3.2" fill="#6a4070" opacity="0.7"/>
</g>
<clipPath id="tclip1"><rect x="428" y="1672.5" width="396.3" height="284.6"/></clipPath>
<g clip-path="url(#tclip1)">
<rect x="428" y="1672.5" width="396.3" height="284.6" fill="#d6ddc8"/>
<path d="M426.0,1670.0 C492.7,1662.9 759.3,1654.9 826.0,1670.0 C892.7,1685.1 835.1,1748.6 826.0,1760.5 C816.9,1772.4 786.3,1748.6 771.2,1741.4 C756.2,1734.3 749.4,1723.6 735.5,1717.6 C721.6,1711.7 707.7,1708.9 687.9,1705.7 C668.1,1702.5 640.3,1700.2 616.5,1698.6 C592.7,1697.0 568.9,1695.0 545.0,1696.2 C521.2,1697.4 493.5,1702.9 473.6,1705.7 C453.8,1708.5 433.9,1718.8 426.0,1712.9 C418.1,1706.9 359.3,1677.1 426.0,1670.0Z" fill="#58bcaa" opacity="0.85"/>
<path d="M426.0,1670.0 C492.7,1662.9 759.3,1654.9 826.0,1670.0 C892.7,1685.1 835.1,1748.6 826.0,1760.5 C816.9,1772.4 786.3,1748.6 771.2,1741.4 C756.2,1734.3 749.4,1723.6 735.5,1717.6 C721.6,1711.7 707.7,1708.9 687.9,1705.7 C668.1,1702.5 640.3,1700.2 616.5,1698.6 C592.7,1697.0 568.9,1695.0 545.0,1696.2 C521.2,1697.4 493.5,1702.9 473.6,1705.7 C453.8,1708.5 433.9,1718.8 426.0,1712.9 C418.1,1706.9 359.3,1677.1 426.0,1670.0Z" fill="#000" filter="url(#speck2)" opacity="0.5"/>
<path d="M664.1,1670.0 C685.1,1665.6 799.0,1656.9 826.0,1670.0 C853.0,1683.1 837.1,1739.8 826.0,1748.6 C814.9,1757.3 780.4,1731.1 759.3,1722.4 C738.3,1713.7 715.7,1704.9 699.8,1696.2 C683.9,1687.5 643.1,1674.4 664.1,1670.0Z" fill="#30a898" opacity="0.85"/>
<path d="M664.1,1670.0 C685.1,1665.6 799.0,1656.9 826.0,1670.0 C853.0,1683.1 837.1,1739.8 826.0,1748.6 C814.9,1757.3 780.4,1731.1 759.3,1722.4 C738.3,1713.7 715.7,1704.9 699.8,1696.2 C683.9,1687.5 643.1,1674.4 664.1,1670.0Z" fill="#000" filter="url(#speck2)" opacity="0.5"/>
<path d="M426.0,1717.6 C435.1,1707.7 465.7,1699.8 480.8,1717.6 C495.8,1735.5 501.8,1791.0 516.5,1824.8 C531.2,1858.5 558.5,1897.8 568.9,1920.0 C579.2,1942.2 591.1,1951.7 578.4,1958.1 C565.7,1964.4 513.3,1976.3 492.7,1958.1 C472.0,1939.8 465.7,1878.7 454.6,1848.6 C443.5,1818.4 430.8,1799.0 426.0,1777.1 C421.2,1755.3 416.9,1727.5 426.0,1717.6Z" fill="#c6e6cc"/>
<path d="M426.0,1717.6 C435.1,1707.7 465.7,1699.8 480.8,1717.6 C495.8,1735.5 501.8,1791.0 516.5,1824.8 C531.2,1858.5 558.5,1897.8 568.9,1920.0 C579.2,1942.2 591.1,1951.7 578.4,1958.1 C565.7,1964.4 513.3,1976.3 492.7,1958.1 C472.0,1939.8 465.7,1878.7 454.6,1848.6 C443.5,1818.4 430.8,1799.0 426.0,1777.1 C421.2,1755.3 416.9,1727.5 426.0,1717.6Z" fill="#000" filter="url(#speck)"/>
<ellipse cx="498" cy="1821" rx="6" ry="8" transform="rotate(7 498 1821)" fill="#d6ddc8" opacity="0.9"/>
<ellipse cx="442" cy="1767" rx="8" ry="5" transform="rotate(-19 442 1767)" fill="#d6ddc8" opacity="0.9"/>
<ellipse cx="441" cy="1719" rx="5" ry="10" transform="rotate(7 441 1719)" fill="#d6ddc8" opacity="0.9"/>
<ellipse cx="518" cy="1952" rx="9" ry="7" transform="rotate(32 518 1952)" fill="#d6ddc8" opacity="0.9"/>
<path d="M516.5,1753.3 C521.2,1746.6 532.3,1760.9 545.0,1772.4 C557.7,1783.9 572.8,1801.7 592.7,1822.4 C612.5,1843.0 647.4,1873.6 664.1,1896.2 C680.8,1918.8 704.6,1947.8 692.7,1958.1 C680.8,1968.4 617.3,1970.4 592.7,1958.1 C568.1,1945.8 557.7,1908.5 545.0,1884.3 C532.3,1860.1 521.2,1834.7 516.5,1812.9 C511.7,1791.0 511.7,1760.1 516.5,1753.3Z" fill="#c6e6cc"/>
<path d="M516.5,1753.3 C521.2,1746.6 532.3,1760.9 545.0,1772.4 C557.7,1783.9 572.8,1801.7 592.7,1822.4 C612.5,1843.0 647.4,1873.6 664.1,1896.2 C680.8,1918.8 704.6,1947.8 692.7,1958.1 C680.8,1968.4 617.3,1970.4 592.7,1958.1 C568.1,1945.8 557.7,1908.5 545.0,1884.3 C532.3,1860.1 521.2,1834.7 516.5,1812.9 C511.7,1791.0 511.7,1760.1 516.5,1753.3Z" fill="#000" filter="url(#speck)"/>
<ellipse cx="640" cy="1914" rx="8" ry="4" transform="rotate(1 640 1914)" fill="#d6ddc8" opacity="0.9"/>
<ellipse cx="563" cy="1804" rx="6" ry="5" transform="rotate(-16 563 1804)" fill="#d6ddc8" opacity="0.9"/>
<ellipse cx="603" cy="1851" rx="3" ry="13" transform="rotate(-21 603 1851)" fill="#d6ddc8" opacity="0.9"/>
<path d="M540.3,1696.2 C546.6,1687.9 571.6,1689.8 578.4,1698.6 C585.1,1707.3 587.1,1740.2 580.8,1748.6 C574.4,1756.9 547.0,1757.3 540.3,1748.6 C533.5,1739.8 533.9,1704.5 540.3,1696.2Z" fill="#c6e6cc"/>
<path d="M540.3,1696.2 C546.6,1687.9 571.6,1689.8 578.4,1698.6 C585.1,1707.3 587.1,1740.2 580.8,1748.6 C574.4,1756.9 547.0,1757.3 540.3,1748.6 C533.5,1739.8 533.9,1704.5 540.3,1696.2Z" fill="#000" filter="url(#speck)"/>
<path d="M592.7,1696.2 C599.8,1683.1 628.4,1691.0 640.3,1698.6 C652.2,1706.1 654.2,1729.5 664.1,1741.4 C674.0,1753.3 689.9,1759.7 699.8,1770.0 C709.7,1780.3 718.5,1788.3 723.6,1803.3 C728.8,1818.4 732.7,1843.0 730.8,1860.5 C728.8,1877.9 720.8,1903.3 711.7,1908.1 C702.6,1912.9 685.9,1902.9 676.0,1889.0 C666.1,1875.2 660.1,1839.4 652.2,1824.8 C644.3,1810.1 637.5,1808.9 628.4,1801.0 C619.3,1793.0 603.4,1794.6 597.4,1777.1 C591.5,1759.7 585.5,1709.3 592.7,1696.2Z" fill="#c6e6cc"/>
<path d="M592.7,1696.2 C599.8,1683.1 628.4,1691.0 640.3,1698.6 C652.2,1706.1 654.2,1729.5 664.1,1741.4 C674.0,1753.3 689.9,1759.7 699.8,1770.0 C709.7,1780.3 718.5,1788.3 723.6,1803.3 C728.8,1818.4 732.7,1843.0 730.8,1860.5 C728.8,1877.9 720.8,1903.3 711.7,1908.1 C702.6,1912.9 685.9,1902.9 676.0,1889.0 C666.1,1875.2 660.1,1839.4 652.2,1824.8 C644.3,1810.1 637.5,1808.9 628.4,1801.0 C619.3,1793.0 603.4,1794.6 597.4,1777.1 C591.5,1759.7 585.5,1709.3 592.7,1696.2Z" fill="#000" filter="url(#speck)"/>
<ellipse cx="720" cy="1815" rx="4" ry="10" transform="rotate(39 720 1815)" fill="#d6ddc8" opacity="0.9"/>
<ellipse cx="700" cy="1810" rx="3" ry="4" transform="rotate(-23 700 1810)" fill="#d6ddc8" opacity="0.9"/>
<path d="M711.7,1705.7 C718.1,1701.0 746.6,1722.8 754.6,1736.7 C762.5,1750.6 762.5,1776.3 759.3,1789.0 C756.2,1801.7 742.7,1816.8 735.5,1812.9 C728.4,1808.9 720.4,1783.1 716.5,1765.2 C712.5,1747.4 705.4,1710.5 711.7,1705.7Z" fill="#c6e6cc"/>
<path d="M711.7,1705.7 C718.1,1701.0 746.6,1722.8 754.6,1736.7 C762.5,1750.6 762.5,1776.3 759.3,1789.0 C756.2,1801.7 742.7,1816.8 735.5,1812.9 C728.4,1808.9 720.4,1783.1 716.5,1765.2 C712.5,1747.4 705.4,1710.5 711.7,1705.7Z" fill="#000" filter="url(#speck)"/>
<ellipse cx="734" cy="1774" rx="3" ry="11" transform="rotate(9 734 1774)" fill="#d6ddc8" opacity="0.9"/>
<path d="M766.5,1760.5 C772.4,1753.7 795.4,1759.7 802.2,1772.4 C808.9,1785.1 810.9,1824.0 807.0,1836.7 C803.0,1849.4 785.1,1852.5 778.4,1848.6 C771.6,1844.6 768.5,1827.5 766.5,1812.9 C764.5,1798.2 760.5,1767.2 766.5,1760.5Z" fill="#c6e6cc"/>
<path d="M766.5,1760.5 C772.4,1753.7 795.4,1759.7 802.2,1772.4 C808.9,1785.1 810.9,1824.0 807.0,1836.7 C803.0,1849.4 785.1,1852.5 778.4,1848.6 C771.6,1844.6 768.5,1827.5 766.5,1812.9 C764.5,1798.2 760.5,1767.2 766.5,1760.5Z" fill="#000" filter="url(#speck)"/>
<ellipse cx="773" cy="1817" rx="4" ry="5" transform="rotate(29 773 1817)" fill="#d6ddc8" opacity="0.9"/>
<path d="M735.5,1848.6 C740.3,1842.6 758.9,1838.7 764.1,1848.6 C769.3,1858.5 767.3,1889.8 766.5,1908.1 C765.7,1926.3 765.3,1949.8 759.3,1958.1 C753.4,1966.4 734.7,1970.4 730.8,1958.1 C726.8,1945.8 734.7,1902.5 735.5,1884.3 C736.3,1866.0 730.8,1854.5 735.5,1848.6Z" fill="#c6e6cc"/>
<path d="M735.5,1848.6 C740.3,1842.6 758.9,1838.7 764.1,1848.6 C769.3,1858.5 767.3,1889.8 766.5,1908.1 C765.7,1926.3 765.3,1949.8 759.3,1958.1 C753.4,1966.4 734.7,1970.4 730.8,1958.1 C726.8,1945.8 734.7,1902.5 735.5,1884.3 C736.3,1866.0 730.8,1854.5 735.5,1848.6Z" fill="#000" filter="url(#speck)"/>
<ellipse cx="760" cy="1899" rx="8" ry="4" transform="rotate(27 760 1899)" fill="#d6ddc8" opacity="0.9"/>

</g>
<clipPath id="tclip2"><rect x="28.5" y="1960.2" width="396.7" height="283.7"/></clipPath>
<g clip-path="url(#tclip2)">
<rect x="28.5" y="1960.2" width="396.7" height="283.7" fill="#e2e4cc"/>
<path d="M30.4,2077.0 C34.7,2054.4 47.0,2047.3 56.6,2036.6 C66.1,2025.9 68.5,2017.9 87.5,2012.8 C106.6,2007.6 141.1,2005.6 170.9,2005.6 C200.6,2005.6 238.3,2009.2 266.1,2012.8 C293.9,2016.3 312.1,2019.1 337.5,2027.0 C362.9,2035.0 404.2,2038.2 418.5,2060.4 C432.8,2082.6 430.8,2141.7 423.2,2160.4 C415.7,2179.0 387.5,2177.4 373.2,2172.3 C359.0,2167.1 351.4,2130.2 337.5,2129.4 C323.6,2128.6 301.8,2160.4 289.9,2167.5 C278.0,2174.7 284.3,2168.3 266.1,2172.3 C247.8,2176.3 197.8,2187.0 180.4,2191.3 C162.9,2195.7 174.8,2195.3 161.3,2198.5 C147.8,2201.7 117.7,2208.8 99.4,2210.4 C81.2,2212.0 63.3,2214.3 51.8,2208.0 C40.3,2201.7 34.0,2194.1 30.4,2172.3 C26.8,2150.5 26.0,2099.7 30.4,2077.0Z" fill="#c6e6cc"/>
<path d="M30.4,2077.0 C34.7,2054.4 47.0,2047.3 56.6,2036.6 C66.1,2025.9 68.5,2017.9 87.5,2012.8 C106.6,2007.6 141.1,2005.6 170.9,2005.6 C200.6,2005.6 238.3,2009.2 266.1,2012.8 C293.9,2016.3 312.1,2019.1 337.5,2027.0 C362.9,2035.0 404.2,2038.2 418.5,2060.4 C432.8,2082.6 430.8,2141.7 423.2,2160.4 C415.7,2179.0 387.5,2177.4 373.2,2172.3 C359.0,2167.1 351.4,2130.2 337.5,2129.4 C323.6,2128.6 301.8,2160.4 289.9,2167.5 C278.0,2174.7 284.3,2168.3 266.1,2172.3 C247.8,2176.3 197.8,2187.0 180.4,2191.3 C162.9,2195.7 174.8,2195.3 161.3,2198.5 C147.8,2201.7 117.7,2208.8 99.4,2210.4 C81.2,2212.0 63.3,2214.3 51.8,2208.0 C40.3,2201.7 34.0,2194.1 30.4,2172.3 C26.8,2150.5 26.0,2099.7 30.4,2077.0Z" fill="#000" filter="url(#speck)" opacity="0.7"/>
<ellipse cx="366" cy="2088" rx="5" ry="14" transform="rotate(8 366 2088)" fill="#e2e4cc" opacity="0.9"/>
<ellipse cx="121" cy="2011" rx="6" ry="9" transform="rotate(27 121 2011)" fill="#e2e4cc" opacity="0.9"/>
<ellipse cx="116" cy="2028" rx="5" ry="9" transform="rotate(7 116 2028)" fill="#e2e4cc" opacity="0.9"/>
<ellipse cx="125" cy="2059" rx="9" ry="10" transform="rotate(-9 125 2059)" fill="#e2e4cc" opacity="0.9"/>
<ellipse cx="69" cy="2100" rx="8" ry="6" transform="rotate(-25 69 2100)" fill="#e2e4cc" opacity="0.9"/>
<ellipse cx="277" cy="2035" rx="6" ry="13" transform="rotate(-23 277 2035)" fill="#e2e4cc" opacity="0.9"/>
<ellipse cx="103" cy="2161" rx="9" ry="8" transform="rotate(-19 103 2161)" fill="#e2e4cc" opacity="0.9"/>
<ellipse cx="56" cy="2114" rx="7" ry="8" transform="rotate(30 56 2114)" fill="#e2e4cc" opacity="0.9"/>
<ellipse cx="374" cy="2044" rx="5" ry="7" transform="rotate(3 374 2044)" fill="#e2e4cc" opacity="0.9"/>
<ellipse cx="256" cy="2138" rx="5" ry="4" transform="rotate(28 256 2138)" fill="#e2e4cc" opacity="0.9"/>
<ellipse cx="85" cy="2176" rx="6" ry="7" transform="rotate(-8 85 2176)" fill="#e2e4cc" opacity="0.9"/>
<ellipse cx="219" cy="2084" rx="6" ry="12" transform="rotate(32 219 2084)" fill="#e2e4cc" opacity="0.9"/>
<ellipse cx="104" cy="2104" rx="4" ry="5" transform="rotate(13 104 2104)" fill="#e2e4cc" opacity="0.9"/>
<ellipse cx="91" cy="2181" rx="5" ry="12" transform="rotate(-4 91 2181)" fill="#e2e4cc" opacity="0.9"/>
<ellipse cx="182" cy="2009" rx="9" ry="4" transform="rotate(39 182 2009)" fill="#e2e4cc" opacity="0.9"/>
<ellipse cx="258" cy="2016" rx="5" ry="7" transform="rotate(-14 258 2016)" fill="#e2e4cc" opacity="0.9"/>
<ellipse cx="181" cy="2116" rx="4" ry="12" transform="rotate(-6 181 2116)" fill="#e2e4cc" opacity="0.9"/>
<ellipse cx="114" cy="2033" rx="3" ry="9" transform="rotate(30 114 2033)" fill="#e2e4cc" opacity="0.9"/>
<ellipse cx="185" cy="2012" rx="6" ry="7" transform="rotate(15 185 2012)" fill="#e2e4cc" opacity="0.9"/>
<ellipse cx="119" cy="2078" rx="6" ry="7" transform="rotate(7 119 2078)" fill="#e2e4cc" opacity="0.9"/>
<path d="M132.8,2036.6 C134.3,2027.8 148.6,2020.3 161.3,2029.4 C174.0,2038.6 202.6,2073.1 209.0,2091.3 C215.3,2109.6 205.0,2132.6 199.4,2139.0 C193.9,2145.3 183.6,2139.0 175.6,2129.4 C167.7,2119.9 159.0,2097.3 151.8,2081.8 C144.7,2066.3 131.2,2045.3 132.8,2036.6Z" fill="#e2e4cc"/><path d="M285.1,2110.4 C292.7,2096.9 334.3,2088.2 347.0,2086.6 C359.7,2085.0 362.9,2089.0 361.3,2100.9 C359.7,2112.8 347.4,2146.9 337.5,2158.0 C327.6,2169.1 310.5,2175.5 301.8,2167.5 C293.1,2159.6 277.6,2123.9 285.1,2110.4Z" fill="#e2e4cc"/><path d="M170.9,2139.0 C174.8,2129.4 192.3,2129.4 194.7,2139.0 C197.0,2148.5 189.1,2186.6 185.1,2196.1 C181.2,2205.6 173.2,2205.6 170.9,2196.1 C168.5,2186.6 166.9,2148.5 170.9,2139.0Z" fill="#e2e4cc"/><rect x="345" y="1976" width="1.5" height="3.9" fill="#504848" opacity="0.55"/><rect x="301" y="1985" width="1.5" height="4.5" fill="#504848" opacity="0.55"/><rect x="388" y="1983" width="1.5" height="2.4" fill="#504848" opacity="0.55"/><rect x="262" y="1990" width="1.5" height="2.4" fill="#504848" opacity="0.55"/><rect x="382" y="1993" width="1.5" height="3.7" fill="#504848" opacity="0.55"/><rect x="192" y="1995" width="1.5" height="4.0" fill="#504848" opacity="0.55"/><rect x="394" y="1975" width="1.5" height="3.5" fill="#504848" opacity="0.55"/><rect x="229" y="1968" width="1.5" height="4.1" fill="#504848" opacity="0.55"/><rect x="312" y="1974" width="1.5" height="3.8" fill="#504848" opacity="0.55"/><rect x="229" y="1985" width="1.5" height="4.3" fill="#504848" opacity="0.55"/><rect x="74" y="1974" width="1.5" height="2.5" fill="#504848" opacity="0.55"/><rect x="297" y="1999" width="1.5" height="4.5" fill="#504848" opacity="0.55"/><rect x="119" y="1996" width="1.5" height="2.9" fill="#504848" opacity="0.55"/><rect x="175" y="1978" width="1.5" height="2.5" fill="#504848" opacity="0.55"/><rect x="155" y="1993" width="1.5" height="2.0" fill="#504848" opacity="0.55"/><rect x="253" y="1982" width="1.5" height="4.2" fill="#504848" opacity="0.55"/><rect x="230" y="1977" width="1.5" height="3.9" fill="#504848" opacity="0.55"/><rect x="177" y="1970" width="1.5" height="3.9" fill="#504848" opacity="0.55"/><rect x="237" y="1985" width="1.5" height="3.8" fill="#504848" opacity="0.55"/><rect x="338" y="1982" width="1.5" height="3.5" fill="#504848" opacity="0.55"/><rect x="338" y="1979" width="1.5" height="3.0" fill="#504848" opacity="0.55"/><rect x="210" y="1976" width="1.5" height="4.9" fill="#504848" opacity="0.55"/><rect x="307" y="1968" width="1.5" height="4.9" fill="#504848" opacity="0.55"/><rect x="326" y="1994" width="1.5" height="3.2" fill="#504848" opacity="0.55"/><rect x="399" y="1991" width="1.5" height="4.9" fill="#504848" opacity="0.55"/><rect x="143" y="1968" width="1.5" height="2.2" fill="#504848" opacity="0.55"/><rect x="83" y="1988" width="1.5" height="3.1" fill="#504848" opacity="0.55"/><rect x="315" y="1974" width="1.5" height="3.0" fill="#504848" opacity="0.55"/><rect x="66" y="1972" width="1.5" height="3.7" fill="#504848" opacity="0.55"/><rect x="284" y="1986" width="1.5" height="3.9" fill="#504848" opacity="0.55"/><rect x="174" y="1991" width="1.5" height="2.5" fill="#504848" opacity="0.55"/><rect x="383" y="1982" width="1.5" height="3.1" fill="#504848" opacity="0.55"/><rect x="354" y="1999" width="1.5" height="5.0" fill="#504848" opacity="0.55"/><rect x="224" y="1981" width="1.5" height="3.6" fill="#504848" opacity="0.55"/><rect x="270" y="1976" width="1.5" height="3.3" fill="#504848" opacity="0.55"/><rect x="224" y="1969" width="1.5" height="2.1" fill="#504848" opacity="0.55"/><rect x="381" y="1989" width="1.5" height="2.6" fill="#504848" opacity="0.55"/><rect x="183" y="1966" width="1.5" height="3.3" fill="#504848" opacity="0.55"/><rect x="391" y="1995" width="1.5" height="4.2" fill="#504848" opacity="0.55"/><rect x="107" y="1993" width="1.5" height="4.8" fill="#504848" opacity="0.55"/><rect x="253" y="1999" width="1.5" height="4.8" fill="#504848" opacity="0.55"/><rect x="406" y="1965" width="1.5" height="2.4" fill="#504848" opacity="0.55"/><rect x="321" y="1970" width="1.5" height="2.7" fill="#504848" opacity="0.55"/><rect x="329" y="1966" width="1.5" height="4.1" fill="#504848" opacity="0.55"/><rect x="84" y="1967" width="1.5" height="2.6" fill="#504848" opacity="0.55"/><rect x="130" y="1999" width="1.5" height="5.0" fill="#504848" opacity="0.55"/><rect x="137" y="1992" width="1.5" height="2.6" fill="#504848" opacity="0.55"/><rect x="155" y="1978" width="1.5" height="3.1" fill="#504848" opacity="0.55"/><rect x="379" y="1977" width="1.5" height="2.9" fill="#504848" opacity="0.55"/><rect x="287" y="1969" width="1.5" height="3.7" fill="#504848" opacity="0.55"/><rect x="78" y="1996" width="1.5" height="4.6" fill="#504848" opacity="0.55"/><rect x="339" y="1979" width="1.5" height="4.4" fill="#504848" opacity="0.55"/><rect x="330" y="1995" width="1.5" height="3.0" fill="#504848" opacity="0.55"/><rect x="308" y="1982" width="1.5" height="4.0" fill="#504848" opacity="0.55"/><rect x="335" y="1982" width="1.5" height="3.5" fill="#504848" opacity="0.55"/><rect x="226" y="1974" width="1.5" height="3.8" fill="#504848" opacity="0.55"/><rect x="178" y="2000" width="1.5" height="2.1" fill="#504848" opacity="0.55"/><rect x="210" y="1998" width="1.5" height="3.1" fill="#504848" opacity="0.55"/><rect x="379" y="1990" width="1.5" height="2.5" fill="#504848" opacity="0.55"/><rect x="188" y="1986" width="1.5" height="4.0" fill="#504848" opacity="0.55"/><rect x="395" y="1998" width="1.5" height="4.7" fill="#504848" opacity="0.55"/><rect x="387" y="1975" width="1.5" height="2.5" fill="#504848" opacity="0.55"/><rect x="350" y="1989" width="1.5" height="4.5" fill="#504848" opacity="0.55"/><rect x="396" y="1968" width="1.5" height="4.0" fill="#504848" opacity="0.55"/><rect x="89" y="1968" width="1.5" height="2.6" fill="#504848" opacity="0.55"/><rect x="182" y="1996" width="1.5" height="4.9" fill="#504848" opacity="0.55"/><rect x="360" y="1967" width="1.5" height="2.4" fill="#504848" opacity="0.55"/><rect x="150" y="1985" width="1.5" height="2.5" fill="#504848" opacity="0.55"/><rect x="288" y="1996" width="1.5" height="2.9" fill="#504848" opacity="0.55"/><rect x="194" y="1983" width="1.5" height="4.4" fill="#504848" opacity="0.55"/><rect x="122" y="1991" width="1.5" height="4.4" fill="#504848" opacity="0.55"/><rect x="295" y="1989" width="1.5" height="2.5" fill="#504848" opacity="0.55"/><rect x="169" y="1978" width="1.5" height="2.4" fill="#504848" opacity="0.55"/><rect x="111" y="1988" width="1.5" height="3.7" fill="#504848" opacity="0.55"/><rect x="149" y="1998" width="1.5" height="2.2" fill="#504848" opacity="0.55"/><rect x="151" y="1998" width="1.5" height="4.5" fill="#504848" opacity="0.55"/><rect x="93" y="1985" width="1.5" height="2.0" fill="#504848" opacity="0.55"/><rect x="268" y="1972" width="1.5" height="3.5" fill="#504848" opacity="0.55"/><rect x="188" y="2001" width="1.5" height="4.5" fill="#504848" opacity="0.55"/><rect x="366" y="1973" width="1.5" height="4.8" fill="#504848" opacity="0.55"/><rect x="345" y="1981" width="1.5" height="3.2" fill="#504848" opacity="0.55"/><rect x="362" y="1972" width="1.5" height="4.8" fill="#504848" opacity="0.55"/><rect x="371" y="1975" width="1.5" height="2.1" fill="#504848" opacity="0.55"/><rect x="139" y="1977" width="1.5" height="3.4" fill="#504848" opacity="0.55"/><rect x="318" y="1969" width="1.5" height="4.1" fill="#504848" opacity="0.55"/><rect x="77" y="1966" width="1.5" height="2.6" fill="#504848" opacity="0.55"/><rect x="361" y="1981" width="1.5" height="2.2" fill="#504848" opacity="0.55"/><rect x="122" y="1974" width="1.5" height="2.4" fill="#504848" opacity="0.55"/><rect x="87" y="1966" width="1.5" height="4.6" fill="#504848" opacity="0.55"/><rect x="157" y="1996" width="1.5" height="3.1" fill="#504848" opacity="0.55"/><rect x="193" y="1981" width="1.5" height="3.8" fill="#504848" opacity="0.55"/><rect x="212" y="1982" width="1.5" height="3.5" fill="#504848" opacity="0.55"/><rect x="174" y="1968" width="1.5" height="2.5" fill="#504848" opacity="0.55"/><rect x="171" y="1994" width="1.5" height="3.8" fill="#504848" opacity="0.55"/><rect x="284" y="1989" width="1.5" height="2.1" fill="#504848" opacity="0.55"/><rect x="254" y="1992" width="1.5" height="2.7" fill="#504848" opacity="0.55"/><rect x="225" y="1975" width="1.5" height="3.7" fill="#504848" opacity="0.55"/><rect x="321" y="1970" width="1.5" height="2.5" fill="#504848" opacity="0.55"/><rect x="341" y="1993" width="1.5" height="2.5" fill="#504848" opacity="0.55"/><rect x="109" y="1988" width="1.5" height="4.5" fill="#504848" opacity="0.55"/><rect x="267" y="1999" width="1.5" height="2.8" fill="#504848" opacity="0.55"/><rect x="334" y="1973" width="1.5" height="3.6" fill="#504848" opacity="0.55"/><rect x="384" y="1966" width="1.5" height="3.9" fill="#504848" opacity="0.55"/><rect x="298" y="1981" width="1.5" height="2.8" fill="#504848" opacity="0.55"/><rect x="263" y="1974" width="1.5" height="3.3" fill="#504848" opacity="0.55"/><rect x="257" y="1992" width="1.5" height="3.4" fill="#504848" opacity="0.55"/><rect x="183" y="2000" width="1.5" height="3.4" fill="#504848" opacity="0.55"/><rect x="148" y="1983" width="1.5" height="4.6" fill="#504848" opacity="0.55"/><rect x="367" y="1968" width="1.5" height="4.7" fill="#504848" opacity="0.55"/><rect x="88" y="1987" width="1.5" height="4.7" fill="#504848" opacity="0.55"/><rect x="246" y="1984" width="1.5" height="3.3" fill="#504848" opacity="0.55"/><rect x="291" y="1994" width="1.5" height="2.8" fill="#504848" opacity="0.55"/><rect x="128" y="1978" width="1.5" height="4.7" fill="#504848" opacity="0.55"/><rect x="82" y="1987" width="1.5" height="4.3" fill="#504848" opacity="0.55"/><rect x="322" y="1978" width="1.5" height="4.8" fill="#504848" opacity="0.55"/><rect x="281" y="1982" width="1.5" height="3.7" fill="#504848" opacity="0.55"/><rect x="224" y="1971" width="1.5" height="3.1" fill="#504848" opacity="0.55"/><rect x="147" y="1989" width="1.5" height="2.8" fill="#504848" opacity="0.55"/><rect x="275" y="1986" width="1.5" height="4.2" fill="#504848" opacity="0.55"/><rect x="230" y="1986" width="1.5" height="3.4" fill="#504848" opacity="0.55"/><rect x="287" y="1982" width="1.5" height="4.6" fill="#504848" opacity="0.55"/><rect x="123" y="1998" width="1.5" height="2.9" fill="#504848" opacity="0.55"/><rect x="74" y="1982" width="1.5" height="2.1" fill="#504848" opacity="0.55"/><rect x="190" y="1993" width="1.5" height="3.1" fill="#504848" opacity="0.55"/><rect x="108" y="1984" width="1.5" height="3.7" fill="#504848" opacity="0.55"/><rect x="112" y="1992" width="1.5" height="4.5" fill="#504848" opacity="0.55"/><rect x="273" y="1984" width="1.5" height="2.6" fill="#504848" opacity="0.55"/><rect x="349" y="1994" width="1.5" height="2.3" fill="#504848" opacity="0.55"/><rect x="100" y="1997" width="1.5" height="2.9" fill="#504848" opacity="0.55"/><rect x="238" y="1998" width="1.5" height="4.3" fill="#504848" opacity="0.55"/><rect x="367" y="1992" width="1.5" height="5.0" fill="#504848" opacity="0.55"/><rect x="275" y="1981" width="1.5" height="4.6" fill="#504848" opacity="0.55"/><rect x="270" y="1974" width="1.5" height="3.0" fill="#504848" opacity="0.55"/><rect x="302" y="1966" width="1.5" height="4.9" fill="#504848" opacity="0.55"/><rect x="337" y="1992" width="1.5" height="4.1" fill="#504848" opacity="0.55"/><rect x="373" y="1973" width="1.5" height="2.7" fill="#504848" opacity="0.55"/><rect x="228" y="1967" width="1.5" height="2.7" fill="#504848" opacity="0.55"/><rect x="346" y="1982" width="1.5" height="2.8" fill="#504848" opacity="0.55"/><rect x="358" y="1967" width="1.5" height="2.6" fill="#504848" opacity="0.55"/><rect x="94" y="1979" width="1.5" height="3.6" fill="#504848" opacity="0.55"/><rect x="302" y="1970" width="1.5" height="3.7" fill="#504848" opacity="0.55"/><rect x="372" y="1994" width="1.5" height="2.3" fill="#504848" opacity="0.55"/><rect x="87" y="1977" width="1.5" height="3.5" fill="#504848" opacity="0.55"/><rect x="144" y="1983" width="1.5" height="2.2" fill="#504848" opacity="0.55"/><rect x="202" y="1983" width="1.5" height="3.4" fill="#504848" opacity="0.55"/><rect x="362" y="1993" width="1.5" height="3.0" fill="#504848" opacity="0.55"/><rect x="213" y="1986" width="1.5" height="3.0" fill="#504848" opacity="0.55"/><rect x="123" y="1970" width="1.5" height="2.7" fill="#504848" opacity="0.55"/><rect x="205" y="1982" width="1.5" height="4.6" fill="#504848" opacity="0.55"/><rect x="303" y="1978" width="1.5" height="3.9" fill="#504848" opacity="0.55"/><ellipse cx="41" cy="2073" rx="2" ry="3" fill="#7a3a6a" opacity="0.7"/><ellipse cx="184" cy="2006" rx="2" ry="3" fill="#7a3a6a" opacity="0.7"/><ellipse cx="279" cy="2017" rx="2" ry="3" fill="#7a3a6a" opacity="0.7"/><ellipse cx="168" cy="2006" rx="4" ry="4" fill="#7a3a6a" opacity="0.7"/><ellipse cx="329" cy="2025" rx="5" ry="3" fill="#7a3a6a" opacity="0.7"/><ellipse cx="35" cy="2077" rx="6" ry="4" fill="#7a3a6a" opacity="0.7"/><ellipse cx="70" cy="2042" rx="3" ry="3" fill="#7a3a6a" opacity="0.7"/><ellipse cx="108" cy="2014" rx="5" ry="4" fill="#7a3a6a" opacity="0.7"/><ellipse cx="300" cy="2028" rx="2" ry="4" fill="#7a3a6a" opacity="0.7"/><ellipse cx="254" cy="2021" rx="5" ry="3" fill="#7a3a6a" opacity="0.7"/><ellipse cx="127" cy="2015" rx="2" ry="2" fill="#7a3a6a" opacity="0.7"/><ellipse cx="375" cy="2042" rx="2" ry="3" fill="#7a3a6a" opacity="0.7"/><ellipse cx="253" cy="2017" rx="4" ry="2" fill="#7a3a6a" opacity="0.7"/><ellipse cx="375" cy="2041" rx="3" ry="4" fill="#7a3a6a" opacity="0.7"/><ellipse cx="147" cy="2006" rx="6" ry="3" fill="#7a3a6a" opacity="0.7"/><ellipse cx="328" cy="2025" rx="5" ry="2" fill="#7a3a6a" opacity="0.7"/><ellipse cx="99" cy="2021" rx="5" ry="3" fill="#7a3a6a" opacity="0.7"/><ellipse cx="32" cy="2079" rx="3" ry="3" fill="#7a3a6a" opacity="0.7"/><ellipse cx="369" cy="2043" rx="6" ry="4" fill="#7a3a6a" opacity="0.7"/><ellipse cx="354" cy="2033" rx="5" ry="3" fill="#7a3a6a" opacity="0.7"/><ellipse cx="30" cy="2086" rx="2" ry="3" fill="#7a3a6a" opacity="0.7"/><ellipse cx="346" cy="2032" rx="6" ry="3" fill="#7a3a6a" opacity="0.7"/><ellipse cx="103" cy="2016" rx="5" ry="3" fill="#7a3a6a" opacity="0.7"/><ellipse cx="66" cy="2035" rx="3" ry="2" fill="#7a3a6a" opacity="0.7"/><ellipse cx="306" cy="2022" rx="5" ry="2" fill="#7a3a6a" opacity="0.7"/><ellipse cx="40" cy="2065" rx="5" ry="3" fill="#7a3a6a" opacity="0.7"/><ellipse cx="132" cy="2014" rx="3" ry="3" fill="#7a3a6a" opacity="0.7"/><ellipse cx="355" cy="2033" rx="6" ry="3" fill="#7a3a6a" opacity="0.7"/><ellipse cx="361" cy="2044" rx="6" ry="4" fill="#7a3a6a" opacity="0.7"/><ellipse cx="309" cy="2026" rx="4" ry="4" fill="#7a3a6a" opacity="0.7"/><ellipse cx="342" cy="2028" rx="2" ry="3" fill="#7a3a6a" opacity="0.7"/><ellipse cx="45" cy="2064" rx="4" ry="4" fill="#7a3a6a" opacity="0.7"/><ellipse cx="286" cy="2022" rx="3" ry="3" fill="#7a3a6a" opacity="0.7"/><ellipse cx="153" cy="2009" rx="2" ry="4" fill="#7a3a6a" opacity="0.7"/><ellipse cx="41" cy="2075" rx="3" ry="3" fill="#7a3a6a" opacity="0.7"/><ellipse cx="386" cy="2045" rx="5" ry="3" fill="#7a3a6a" opacity="0.7"/><ellipse cx="253" cy="2013" rx="4" ry="2" fill="#7a3a6a" opacity="0.7"/><ellipse cx="38" cy="2074" rx="3" ry="4" fill="#7a3a6a" opacity="0.7"/><ellipse cx="198" cy="2006" rx="3" ry="3" fill="#7a3a6a" opacity="0.7"/><ellipse cx="329" cy="2033" rx="3" ry="4" fill="#7a3a6a" opacity="0.7"/><rect x="176" y="2008" width="3" height="3" fill="#101010" opacity="0.8"/><rect x="323" y="2010" width="3" height="3" fill="#101010" opacity="0.8"/><rect x="302" y="2007" width="3" height="3" fill="#101010" opacity="0.8"/><rect x="361" y="2050" width="3" height="3" fill="#101010" opacity="0.8"/><rect x="134" y="2071" width="3" height="3" fill="#101010" opacity="0.8"/><rect x="84" y="2075" width="3" height="3" fill="#101010" opacity="0.8"/><rect x="381" y="2044" width="3" height="3" fill="#101010" opacity="0.8"/><rect x="379" y="2051" width="3" height="3" fill="#101010" opacity="0.8"/><rect x="146" y="2026" width="3" height="3" fill="#101010" opacity="0.8"/><rect x="166" y="2057" width="3" height="3" fill="#101010" opacity="0.8"/><ellipse cx="368" cy="2213" rx="2.5" ry="2" fill="#e0c040"/><ellipse cx="370" cy="2234" rx="2.5" ry="2" fill="#e0c040"/><ellipse cx="361" cy="2207" rx="2.5" ry="2" fill="#e0c040"/><ellipse cx="356" cy="2227" rx="2.5" ry="2" fill="#e0c040"/><ellipse cx="343" cy="2206" rx="2.5" ry="2" fill="#e0c040"/><ellipse cx="365" cy="2223" rx="2.5" ry="2" fill="#e0c040"/><ellipse cx="371" cy="2242" rx="2.5" ry="2" fill="#e0c040"/><ellipse cx="354" cy="2210" rx="2.5" ry="2" fill="#e0c040"/><ellipse cx="370" cy="2213" rx="2.5" ry="2" fill="#e0c040"/><ellipse cx="347" cy="2210" rx="2.5" ry="2" fill="#e0c040"/><ellipse cx="349" cy="2210" rx="2.5" ry="2" fill="#e0c040"/><ellipse cx="354" cy="2224" rx="2.5" ry="2" fill="#e0c040"/>
<path d="M28.0,2081.8 C32.8,2076.3 46.7,2059.6 56.6,2048.5 C66.5,2037.4 74.4,2022.3 87.5,2015.1 C100.6,2008.0 120.5,2007.6 135.1,2005.6 C149.8,2003.6 161.7,2003.2 175.6,2003.2 C189.5,2003.2 203.4,2004.0 218.5,2005.6 C233.6,2007.2 250.2,2010.4 266.1,2012.8 C282.0,2015.1 299.8,2017.1 313.7,2019.9 C327.6,2022.7 337.5,2025.5 349.4,2029.4 C361.3,2033.4 372.8,2038.6 385.1,2043.7 C397.4,2048.9 416.9,2057.6 423.2,2060.4" fill="none" stroke="#8a4a7c" stroke-width="9" stroke-linecap="round" opacity="0.75"/>
<path d="M166.1,2005.6 C168.5,2011.6 175.6,2029.4 180.4,2041.3 C185.1,2053.2 194.3,2066.3 194.7,2077.0 C195.1,2087.8 184.7,2100.9 182.8,2105.6" fill="none" stroke="#8a5a84" stroke-width="7" stroke-linecap="round" opacity="0.75"/>
<path d="M237.5,2010.4 C239.1,2014.3 244.3,2027.0 247.0,2034.2 C249.8,2041.3 253.0,2050.1 254.2,2053.2" fill="none" stroke="#8a5a84" stroke-width="6" stroke-linecap="round" opacity="0.75"/>
<path d="M325.6,2024.7 C327.6,2027.8 333.6,2039.0 337.5,2043.7 C341.5,2048.5 347.4,2051.7 349.4,2053.2" fill="none" stroke="#8a5a84" stroke-width="6" stroke-linecap="round" opacity="0.75"/>
<path d="M301.8,2167.5 C309.7,2173.9 329.6,2204.8 349.4,2205.6 C369.3,2206.4 409.0,2177.8 420.9,2172.3" fill="none" stroke="#6a4a60" stroke-width="2" stroke-linecap="round" opacity="0.75"/>
</g>
<clipPath id="tclip3"><rect x="428" y="1959.9" width="396.3" height="283.8"/></clipPath>
<g clip-path="url(#tclip3)">
<rect x="428" y="1959.9" width="396.3" height="283.8" fill="#d6ddc8"/>
<path d="M425.3,1959.3 C492.3,1945.8 760.1,1949.0 827.1,1959.3 C894.1,1969.6 837.4,2012.3 827.1,2021.2 C816.8,2030.0 789.6,2017.4 765.3,2012.7 C740.9,2008.0 709.1,1994.0 681.0,1993.1 C652.9,1992.1 624.8,2002.4 596.7,2007.1 C568.6,2011.8 541.0,2015.5 512.4,2021.2 C483.8,2026.8 439.8,2051.1 425.3,2040.8 C410.8,2030.5 358.3,1972.9 425.3,1959.3Z" fill="#50b8a8" opacity="0.9"/>
<path d="M425.3,1959.3 C492.3,1945.8 760.1,1949.0 827.1,1959.3 C894.1,1969.6 837.4,2012.3 827.1,2021.2 C816.8,2030.0 789.6,2017.4 765.3,2012.7 C740.9,2008.0 709.1,1994.0 681.0,1993.1 C652.9,1992.1 624.8,2002.4 596.7,2007.1 C568.6,2011.8 541.0,2015.5 512.4,2021.2 C483.8,2026.8 439.8,2051.1 425.3,2040.8 C410.8,2030.5 358.3,1972.9 425.3,1959.3Z" fill="#000" filter="url(#speck2)" opacity="0.5"/>
<path d="M498.3,1962.1 C519.4,1958.4 606.1,1959.8 624.8,1962.1 C643.5,1964.5 624.8,1973.2 610.7,1976.2 C596.7,1979.2 559.2,1979.0 540.5,1980.4 C521.8,1981.8 505.4,1987.7 498.3,1984.6 C491.3,1981.6 477.3,1965.9 498.3,1962.1Z" fill="#2a98a0" opacity="0.55"/>
<path d="M498.3,1962.1 C519.4,1958.4 606.1,1959.8 624.8,1962.1 C643.5,1964.5 624.8,1973.2 610.7,1976.2 C596.7,1979.2 559.2,1979.0 540.5,1980.4 C521.8,1981.8 505.4,1987.7 498.3,1984.6 C491.3,1981.6 477.3,1965.9 498.3,1962.1Z" fill="#000" filter="url(#speck2)" opacity="0.5"/>
<path d="M425.3,2032.4 C444.5,1993.5 497.9,2018.3 540.5,2012.7 C583.1,2007.1 645.9,1998.7 681.0,1998.7 C716.1,1998.7 738.1,1995.4 751.2,2012.7 C764.3,2030.0 762.0,2075.9 759.7,2102.6 C757.3,2129.3 750.3,2149.0 737.2,2172.9 C724.1,2196.8 733.0,2233.8 681.0,2245.9 C629.0,2258.1 467.9,2281.5 425.3,2245.9 C382.7,2210.3 406.1,2071.3 425.3,2032.4Z" fill="#c6e6cc"/>
<path d="M425.3,2032.4 C444.5,1993.5 497.9,2018.3 540.5,2012.7 C583.1,2007.1 645.9,1998.7 681.0,1998.7 C716.1,1998.7 738.1,1995.4 751.2,2012.7 C764.3,2030.0 762.0,2075.9 759.7,2102.6 C757.3,2129.3 750.3,2149.0 737.2,2172.9 C724.1,2196.8 733.0,2233.8 681.0,2245.9 C629.0,2258.1 467.9,2281.5 425.3,2245.9 C382.7,2210.3 406.1,2071.3 425.3,2032.4Z" fill="#000" filter="url(#speck)"/>
<ellipse cx="699" cy="2119" rx="4" ry="11" transform="rotate(27 699 2119)" fill="#d6ddc8" opacity="0.9"/>
<ellipse cx="488" cy="2134" rx="3" ry="9" transform="rotate(39 488 2134)" fill="#d6ddc8" opacity="0.9"/>
<ellipse cx="587" cy="2242" rx="7" ry="9" transform="rotate(34 587 2242)" fill="#d6ddc8" opacity="0.9"/>
<ellipse cx="642" cy="2157" rx="6" ry="7" transform="rotate(-24 642 2157)" fill="#d6ddc8" opacity="0.9"/>
<ellipse cx="679" cy="2047" rx="5" ry="13" transform="rotate(19 679 2047)" fill="#d6ddc8" opacity="0.9"/>
<ellipse cx="463" cy="2126" rx="5" ry="7" transform="rotate(29 463 2126)" fill="#d6ddc8" opacity="0.9"/>
<ellipse cx="669" cy="2091" rx="6" ry="12" transform="rotate(12 669 2091)" fill="#d6ddc8" opacity="0.9"/>
<ellipse cx="624" cy="2219" rx="4" ry="5" transform="rotate(-24 624 2219)" fill="#d6ddc8" opacity="0.9"/>
<ellipse cx="651" cy="2084" rx="6" ry="10" transform="rotate(4 651 2084)" fill="#d6ddc8" opacity="0.9"/>
<ellipse cx="641" cy="2097" rx="8" ry="7" transform="rotate(24 641 2097)" fill="#d6ddc8" opacity="0.9"/>
<ellipse cx="521" cy="2208" rx="6" ry="8" transform="rotate(-13 521 2208)" fill="#d6ddc8" opacity="0.9"/>
<ellipse cx="710" cy="2145" rx="8" ry="6" transform="rotate(24 710 2145)" fill="#d6ddc8" opacity="0.9"/>
<ellipse cx="672" cy="2011" rx="5" ry="12" transform="rotate(-5 672 2011)" fill="#d6ddc8" opacity="0.9"/>
<ellipse cx="680" cy="2115" rx="5" ry="6" transform="rotate(-1 680 2115)" fill="#d6ddc8" opacity="0.9"/>
<ellipse cx="713" cy="2089" rx="5" ry="8" transform="rotate(38 713 2089)" fill="#d6ddc8" opacity="0.9"/>
<ellipse cx="511" cy="2230" rx="5" ry="5" transform="rotate(30 511 2230)" fill="#d6ddc8" opacity="0.9"/>
<ellipse cx="710" cy="2093" rx="6" ry="9" transform="rotate(-28 710 2093)" fill="#d6ddc8" opacity="0.9"/>
<ellipse cx="716" cy="2198" rx="6" ry="7" transform="rotate(8 716 2198)" fill="#d6ddc8" opacity="0.9"/>
<ellipse cx="563" cy="2236" rx="9" ry="10" transform="rotate(20 563 2236)" fill="#d6ddc8" opacity="0.9"/>
<ellipse cx="662" cy="2128" rx="7" ry="9" transform="rotate(35 662 2128)" fill="#d6ddc8" opacity="0.9"/>
<ellipse cx="610" cy="2034" rx="9" ry="13" transform="rotate(-21 610 2034)" fill="#d6ddc8" opacity="0.9"/>
<ellipse cx="665" cy="2101" rx="9" ry="13" transform="rotate(35 665 2101)" fill="#d6ddc8" opacity="0.9"/>
<ellipse cx="573" cy="2140" rx="6" ry="10" transform="rotate(-34 573 2140)" fill="#d6ddc8" opacity="0.9"/>
<ellipse cx="687" cy="2214" rx="5" ry="5" transform="rotate(-6 687 2214)" fill="#d6ddc8" opacity="0.9"/>
<path d="M770.9,2012.7 C780.7,1996.3 815.4,1999.1 824.3,2012.7 C833.2,2026.3 834.1,2077.8 824.3,2094.2 C814.4,2110.6 774.2,2124.6 765.3,2111.1 C756.4,2097.5 761.1,2029.1 770.9,2012.7Z" fill="#c6e6cc"/>
<path d="M770.9,2012.7 C780.7,1996.3 815.4,1999.1 824.3,2012.7 C833.2,2026.3 834.1,2077.8 824.3,2094.2 C814.4,2110.6 774.2,2124.6 765.3,2111.1 C756.4,2097.5 761.1,2029.1 770.9,2012.7Z" fill="#000" filter="url(#speck)"/>
<ellipse cx="779" cy="2039" rx="4" ry="7" transform="rotate(2 779 2039)" fill="#d6ddc8" opacity="0.9"/>
<ellipse cx="800" cy="2030" rx="4" ry="12" transform="rotate(4 800 2030)" fill="#d6ddc8" opacity="0.9"/>
<path d="M512.4,2111.1 C515.7,2105.4 533.0,2098.0 537.7,2099.8 C542.4,2101.7 543.8,2116.7 540.5,2122.3 C537.2,2127.9 522.7,2135.4 518.0,2133.5 C513.3,2131.7 509.1,2116.7 512.4,2111.1Z" fill="#d6ddc8"/><path d="M557.3,2066.1 C558.3,2057.7 567.7,2058.6 571.4,2066.1 C575.1,2073.6 580.8,2102.6 579.8,2111.1 C578.9,2119.5 569.5,2124.2 565.8,2116.7 C562.0,2109.2 556.4,2074.5 557.3,2066.1Z" fill="#d6ddc8"/><path d="M622.0,2060.5 C621.5,2046.4 632.7,2047.4 638.8,2060.5 C644.9,2073.6 658.0,2125.1 658.5,2139.2 C659.0,2153.2 647.7,2157.9 641.6,2144.8 C635.6,2131.7 622.4,2074.5 622.0,2060.5Z" fill="#d6ddc8"/><path d="M681.0,2004.3 C682.9,1986.5 698.3,1993.5 703.5,2009.9 C708.6,2026.3 713.8,2084.8 711.9,2102.6 C710.0,2120.4 697.4,2133.1 692.2,2116.7 C687.1,2100.3 679.1,2022.1 681.0,2004.3Z" fill="#d6ddc8"/><path d="M450.6,2158.8 C457.1,2143.8 477.3,2135.9 484.3,2133.5 C491.3,2131.2 496.5,2129.8 492.7,2144.8 C489.0,2159.8 469.8,2210.3 461.8,2223.5 C453.9,2236.6 446.8,2234.2 445.0,2223.5 C443.1,2212.7 444.0,2173.8 450.6,2158.8Z" fill="#d6ddc8"/><path d="M512.4,2144.8 C512.4,2133.5 523.6,2129.8 529.2,2139.2 C534.9,2148.5 546.1,2189.7 546.1,2201.0 C546.1,2212.2 534.9,2216.0 529.2,2206.6 C523.6,2197.2 512.4,2156.0 512.4,2144.8Z" fill="#d6ddc8"/><path d="M630.4,2167.3 C632.3,2153.7 647.7,2149.0 652.9,2161.6 C658.0,2174.3 663.2,2229.5 661.3,2243.1 C659.4,2256.7 646.8,2255.8 641.6,2243.1 C636.5,2230.5 628.5,2180.8 630.4,2167.3Z" fill="#d6ddc8"/><ellipse cx="803.9" cy="2213.0" rx="2.6" ry="2" transform="rotate(-50 803 2187)" fill="#d4b028"/><ellipse cx="823.0" cy="2153.5" rx="3.8" ry="2" transform="rotate(-50 803 2187)" fill="#d4b028"/><ellipse cx="811.2" cy="2139.9" rx="3.4" ry="2" transform="rotate(-50 803 2187)" fill="#d4b028"/><ellipse cx="810.7" cy="2158.0" rx="2.7" ry="2" transform="rotate(-50 803 2187)" fill="#d4b028"/><ellipse cx="784.4" cy="2167.2" rx="2.8" ry="2" transform="rotate(-50 803 2187)" fill="#d4b028"/><ellipse cx="785.4" cy="2219.8" rx="4.1" ry="2" transform="rotate(-50 803 2187)" fill="#d4b028"/><ellipse cx="801.5" cy="2158.9" rx="4.0" ry="2" transform="rotate(-50 803 2187)" fill="#d4b028"/><ellipse cx="818.0" cy="2142.0" rx="3.1" ry="2" transform="rotate(-50 803 2187)" fill="#d4b028"/><ellipse cx="806.2" cy="2179.6" rx="2.6" ry="2" transform="rotate(-50 803 2187)" fill="#d4b028"/><ellipse cx="821.8" cy="2202.2" rx="4.1" ry="2" transform="rotate(-50 803 2187)" fill="#d4b028"/><ellipse cx="811.5" cy="2226.8" rx="3.7" ry="2" transform="rotate(-50 803 2187)" fill="#d4b028"/><ellipse cx="808.9" cy="2200.7" rx="4.4" ry="2" transform="rotate(-50 803 2187)" fill="#d4b028"/><ellipse cx="788.6" cy="2170.5" rx="2.8" ry="2" transform="rotate(-50 803 2187)" fill="#d4b028"/><ellipse cx="797.9" cy="2149.7" rx="3.9" ry="2" transform="rotate(-50 803 2187)" fill="#d4b028"/><ellipse cx="797.9" cy="2167.6" rx="2.9" ry="2" transform="rotate(-50 803 2187)" fill="#d4b028"/><ellipse cx="805.3" cy="2234.9" rx="3.5" ry="2" transform="rotate(-50 803 2187)" fill="#d4b028"/><ellipse cx="812.6" cy="2237.1" rx="2.8" ry="2" transform="rotate(-50 803 2187)" fill="#d4b028"/><ellipse cx="788.6" cy="2170.7" rx="3.1" ry="2" transform="rotate(-50 803 2187)" fill="#d4b028"/><ellipse cx="798.7" cy="2209.6" rx="2.8" ry="2" transform="rotate(-50 803 2187)" fill="#d4b028"/><ellipse cx="798.0" cy="2179.6" rx="2.7" ry="2" transform="rotate(-50 803 2187)" fill="#d4b028"/><ellipse cx="794.5" cy="2194.0" rx="3.5" ry="2" transform="rotate(-50 803 2187)" fill="#d4b028"/><ellipse cx="811.1" cy="2164.5" rx="3.3" ry="2" transform="rotate(-50 803 2187)" fill="#d4b028"/><ellipse cx="782.4" cy="2169.3" rx="4.0" ry="2" transform="rotate(-50 803 2187)" fill="#d4b028"/><ellipse cx="810.6" cy="2201.6" rx="3.7" ry="2" transform="rotate(-50 803 2187)" fill="#d4b028"/><ellipse cx="802.3" cy="2191.9" rx="4.4" ry="2" transform="rotate(-50 803 2187)" fill="#d4b028"/><ellipse cx="782.9" cy="2222.2" rx="4.1" ry="2" transform="rotate(-50 803 2187)" fill="#d4b028"/><ellipse cx="790.9" cy="2225.9" rx="2.7" ry="2" transform="rotate(-50 803 2187)" fill="#d4b028"/><ellipse cx="789.8" cy="2191.9" rx="2.5" ry="2" transform="rotate(-50 803 2187)" fill="#d4b028"/><ellipse cx="820.4" cy="2215.0" rx="3.0" ry="2" transform="rotate(-50 803 2187)" fill="#d4b028"/><ellipse cx="790.1" cy="2161.6" rx="4.0" ry="2" transform="rotate(-50 803 2187)" fill="#d4b028"/><ellipse cx="813.4" cy="2183.8" rx="4.4" ry="2" transform="rotate(-50 803 2187)" fill="#d4b028"/><ellipse cx="812.1" cy="2158.7" rx="3.2" ry="2" transform="rotate(-50 803 2187)" fill="#d4b028"/><ellipse cx="809.2" cy="2177.1" rx="3.3" ry="2" transform="rotate(-50 803 2187)" fill="#d4b028"/><ellipse cx="816.9" cy="2210.8" rx="4.3" ry="2" transform="rotate(-50 803 2187)" fill="#d4b028"/><ellipse cx="817.4" cy="2153.1" rx="2.5" ry="2" transform="rotate(-50 803 2187)" fill="#d4b028"/><ellipse cx="794.1" cy="2209.3" rx="4.0" ry="2" transform="rotate(-50 803 2187)" fill="#d4b028"/><ellipse cx="819.5" cy="2165.8" rx="3.7" ry="2" transform="rotate(-50 803 2187)" fill="#d4b028"/><ellipse cx="810.2" cy="2235.8" rx="4.0" ry="2" transform="rotate(-50 803 2187)" fill="#d4b028"/><ellipse cx="805.3" cy="2214.7" rx="4.1" ry="2" transform="rotate(-50 803 2187)" fill="#d4b028"/><ellipse cx="798.9" cy="2216.2" rx="2.7" ry="2" transform="rotate(-50 803 2187)" fill="#d4b028"/><ellipse cx="817.9" cy="2194.4" rx="2.8" ry="2" transform="rotate(-50 803 2187)" fill="#d4b028"/><ellipse cx="791.8" cy="2217.0" rx="4.1" ry="2" transform="rotate(-50 803 2187)" fill="#d4b028"/><ellipse cx="821.8" cy="2146.5" rx="3.3" ry="2" transform="rotate(-50 803 2187)" fill="#d4b028"/><ellipse cx="805.9" cy="2176.2" rx="2.7" ry="2" transform="rotate(-50 803 2187)" fill="#d4b028"/><ellipse cx="818.3" cy="2173.3" rx="2.5" ry="2" transform="rotate(-50 803 2187)" fill="#d4b028"/><ellipse cx="801.0" cy="2174.7" rx="4.0" ry="2" transform="rotate(-50 803 2187)" fill="#d4b028"/><ellipse cx="799.7" cy="2165.1" rx="3.3" ry="2" transform="rotate(-50 803 2187)" fill="#d4b028"/><ellipse cx="786.8" cy="2226.7" rx="2.6" ry="2" transform="rotate(-50 803 2187)" fill="#d4b028"/><ellipse cx="785.2" cy="2215.5" rx="3.7" ry="2" transform="rotate(-50 803 2187)" fill="#d4b028"/><ellipse cx="795.8" cy="2172.3" rx="4.4" ry="2" transform="rotate(-50 803 2187)" fill="#d4b028"/><ellipse cx="809.3" cy="2228.9" rx="4.3" ry="2" transform="rotate(-50 803 2187)" fill="#d4b028"/><ellipse cx="796.6" cy="2155.2" rx="3.0" ry="2" transform="rotate(-50 803 2187)" fill="#d4b028"/><ellipse cx="782.6" cy="2167.1" rx="3.7" ry="2" transform="rotate(-50 803 2187)" fill="#d4b028"/><ellipse cx="810.1" cy="2156.3" rx="3.8" ry="2" transform="rotate(-50 803 2187)" fill="#d4b028"/><ellipse cx="802.0" cy="2198.5" rx="3.1" ry="2" transform="rotate(-50 803 2187)" fill="#d4b028"/><ellipse cx="809.3" cy="2206.3" rx="4.0" ry="2" transform="rotate(-50 803 2187)" fill="#d4b028"/><ellipse cx="784.4" cy="2149.5" rx="4.0" ry="2" transform="rotate(-50 803 2187)" fill="#d4b028"/><ellipse cx="815.9" cy="2229.5" rx="4.3" ry="2" transform="rotate(-50 803 2187)" fill="#d4b028"/><ellipse cx="816.4" cy="2200.1" rx="4.3" ry="2" transform="rotate(-50 803 2187)" fill="#d4b028"/><ellipse cx="795.4" cy="2205.8" rx="3.9" ry="2" transform="rotate(-50 803 2187)" fill="#d4b028"/><ellipse cx="817.0" cy="2141.8" rx="4.2" ry="2" transform="rotate(-50 803 2187)" fill="#d4b028"/><ellipse cx="822.1" cy="2212.6" rx="4.0" ry="2" transform="rotate(-50 803 2187)" fill="#d4b028"/><ellipse cx="801.5" cy="2166.7" rx="3.2" ry="2" transform="rotate(-50 803 2187)" fill="#d4b028"/><ellipse cx="790.0" cy="2171.4" rx="3.2" ry="2" transform="rotate(-50 803 2187)" fill="#d4b028"/><ellipse cx="820.2" cy="2179.9" rx="4.2" ry="2" transform="rotate(-50 803 2187)" fill="#d4b028"/><ellipse cx="799.6" cy="2189.2" rx="3.1" ry="2" transform="rotate(-50 803 2187)" fill="#d4b028"/><ellipse cx="811.1" cy="2234.2" rx="3.4" ry="2" transform="rotate(-50 803 2187)" fill="#d4b028"/><ellipse cx="789.3" cy="2237.1" rx="3.2" ry="2" transform="rotate(-50 803 2187)" fill="#d4b028"/><ellipse cx="790.0" cy="2142.9" rx="2.6" ry="2" transform="rotate(-50 803 2187)" fill="#d4b028"/><ellipse cx="810.0" cy="2198.1" rx="4.2" ry="2" transform="rotate(-50 803 2187)" fill="#d4b028"/><ellipse cx="816.8" cy="2181.1" rx="4.1" ry="2" transform="rotate(-50 803 2187)" fill="#d4b028"/><ellipse cx="785.2" cy="2166.6" rx="2.6" ry="2" transform="rotate(-50 803 2187)" fill="#d4b028"/><ellipse cx="793.2" cy="2154.2" rx="4.2" ry="2" transform="rotate(-50 803 2187)" fill="#d4b028"/><ellipse cx="823.3" cy="2166.3" rx="2.7" ry="2" transform="rotate(-50 803 2187)" fill="#d4b028"/><ellipse cx="806.6" cy="2226.6" rx="3.1" ry="2" transform="rotate(-50 803 2187)" fill="#d4b028"/><ellipse cx="798.8" cy="2140.2" rx="2.8" ry="2" transform="rotate(-50 803 2187)" fill="#d4b028"/><ellipse cx="813.4" cy="2208.0" rx="4.2" ry="2" transform="rotate(-50 803 2187)" fill="#d4b028"/><ellipse cx="802.8" cy="2150.6" rx="2.6" ry="2" transform="rotate(-50 803 2187)" fill="#d4b028"/><ellipse cx="782.5" cy="2158.2" rx="3.9" ry="2" transform="rotate(-50 803 2187)" fill="#d4b028"/><ellipse cx="794.0" cy="2218.7" rx="2.7" ry="2" transform="rotate(-50 803 2187)" fill="#d4b028"/><ellipse cx="786.2" cy="2171.8" rx="4.2" ry="2" transform="rotate(-50 803 2187)" fill="#d4b028"/><ellipse cx="823.9" cy="2231.7" rx="4.2" ry="2" transform="rotate(-50 803 2187)" fill="#d4b028"/><ellipse cx="794.6" cy="2157.1" rx="4.0" ry="2" transform="rotate(-50 803 2187)" fill="#d4b028"/><ellipse cx="786.2" cy="2186.0" rx="3.7" ry="2" transform="rotate(-50 803 2187)" fill="#d4b028"/><ellipse cx="812.8" cy="2159.5" rx="3.5" ry="2" transform="rotate(-50 803 2187)" fill="#d4b028"/><ellipse cx="784.3" cy="2227.9" rx="4.4" ry="2" transform="rotate(-50 803 2187)" fill="#d4b028"/><ellipse cx="785.6" cy="2225.3" rx="2.6" ry="2" transform="rotate(-50 803 2187)" fill="#d4b028"/><ellipse cx="792.4" cy="2182.9" rx="3.6" ry="2" transform="rotate(-50 803 2187)" fill="#d4b028"/><ellipse cx="796.6" cy="2179.4" rx="3.5" ry="2" transform="rotate(-50 803 2187)" fill="#d4b028"/><ellipse cx="794.8" cy="2224.8" rx="3.4" ry="2" transform="rotate(-50 803 2187)" fill="#d4b028"/>
</g>
<line x1="759.6" y1="2231.3" x2="812.5" y2="2231.3" stroke="#000" stroke-width="3.4"/>
<text x="3.0" y="31.0" font-size="33" text-anchor="start" textLength="24.4" lengthAdjust="spacingAndGlyphs">A</text>
<text x="182.9" y="20.6" font-size="24" text-anchor="start" textLength="47.4" lengthAdjust="spacingAndGlyphs">Cre-</text>
<line x1="43.0" y1="40.3" x2="374.5" y2="40.3" stroke="#000" stroke-width="3"/>
<text x="68.0" y="78.0" font-size="24" text-anchor="start" textLength="92.0" lengthAdjust="spacingAndGlyphs">Olive oil</text>
<text x="295.9" y="79.0" font-size="25" text-anchor="start" textLength="38.6" lengthAdjust="spacingAndGlyphs">CCl</text>
<text x="336.6" y="86.3" font-size="13" text-anchor="start">4</text>
<text x="593.0" y="22.0" font-size="24" text-anchor="start" textLength="48.6" lengthAdjust="spacingAndGlyphs">cKO</text>
<line x1="452.8" y1="40.3" x2="770.0" y2="40.3" stroke="#000" stroke-width="3"/>
<text x="478.7" y="79.0" font-size="24" text-anchor="start" textLength="91.8" lengthAdjust="spacingAndGlyphs">Olive oil</text>
<text x="706.0" y="79.0" font-size="25" text-anchor="start" textLength="38.6" lengthAdjust="spacingAndGlyphs">CCl</text>
<text x="746.7" y="86.3" font-size="13" text-anchor="start">4</text>
<text x="397.0" y="781.0" font-size="24" text-anchor="start" textLength="44.6" lengthAdjust="spacingAndGlyphs">μCT</text>
<text x="3.0" y="955.0" font-size="33" text-anchor="start" textLength="24.7" lengthAdjust="spacingAndGlyphs">D</text>
<text x="180.0" y="970.6" font-size="24" text-anchor="start" textLength="47.6" lengthAdjust="spacingAndGlyphs">Cre-</text>
<line x1="29.0" y1="984.9" x2="374.5" y2="984.9" stroke="#000" stroke-width="3"/>
<text x="59.0" y="1010.3" font-size="24" text-anchor="start" textLength="92.3" lengthAdjust="spacingAndGlyphs">Olive oil</text>
<text x="286.8" y="1011.0" font-size="25" text-anchor="start" textLength="38.6" lengthAdjust="spacingAndGlyphs">CCl</text>
<text x="327.5" y="1018.3" font-size="13" text-anchor="start">4</text>
<text x="612.0" y="967.4" font-size="24" text-anchor="start" textLength="48.0" lengthAdjust="spacingAndGlyphs">cKO</text>
<line x1="452.8" y1="983.5" x2="806.6" y2="983.5" stroke="#000" stroke-width="3"/>
<text x="475.9" y="1011.0" font-size="24" text-anchor="start" textLength="91.8" lengthAdjust="spacingAndGlyphs">Olive oil</text>
<text x="710.5" y="1011.0" font-size="25" text-anchor="start" textLength="38.6" lengthAdjust="spacingAndGlyphs">CCl</text>
<text x="751.0" y="1018.3" font-size="13" text-anchor="start">4</text>
<text x="330.9" y="1431.0" font-size="24" text-anchor="start" textLength="183.0" lengthAdjust="spacingAndGlyphs">Osteocalcin IHC</text>
<text x="3.0" y="1649.3" font-size="33" text-anchor="start" textLength="25.9" lengthAdjust="spacingAndGlyphs">G</text>
<text x="172.6" y="1649.3" font-size="24" text-anchor="start" textLength="91.6" lengthAdjust="spacingAndGlyphs">Olive oil</text>
<text x="626.2" y="1649.0" font-size="25" text-anchor="start" textLength="38.6" lengthAdjust="spacingAndGlyphs">CCl</text>
<text x="666.6" y="1656.0" font-size="13" text-anchor="start">4</text>
<text x="354.3" y="2271.7" font-size="24" text-anchor="start" textLength="163.1" lengthAdjust="spacingAndGlyphs">TRAP staining</text>
<text transform="translate(25.4,1806.3) rotate(-90)" font-size="24" text-anchor="middle" textLength="46.7" lengthAdjust="spacingAndGlyphs">Cre-</text>
<text transform="translate(22,2093) rotate(-90)" font-size="24" text-anchor="middle" textLength="48" lengthAdjust="spacingAndGlyphs">cKO</text>
<text x="922.0" y="30.7" font-size="34" text-anchor="start">B</text>
<rect x="1050.3" y="333.1" width="37.0" height="258.5" fill="#22a078" stroke="#000" stroke-width="2.6"/>
<rect x="1098.1" y="418.3" width="37.3" height="173.3" fill="#7570b6" stroke="#000" stroke-width="2.6"/>
<rect x="1161.3" y="328.5" width="37.4" height="263.1" fill="#22a078" stroke="#000" stroke-width="2.6"/>
<rect x="1209.7" y="340.8" width="37.0" height="250.8" fill="#7570b6" stroke="#000" stroke-width="2.6"/>
<line x1="1026.4" y1="221.1" x2="1026.4" y2="592.8" stroke="#000" stroke-width="2.5"/>
<line x1="1011.0" y1="222.3" x2="1026.4" y2="222.3" stroke="#000" stroke-width="2.5"/>
<text x="1006.0" y="230.5" font-size="23" text-anchor="end">25</text>
<line x1="1011.0" y1="296.7" x2="1026.4" y2="296.7" stroke="#000" stroke-width="2.5"/>
<text x="1006.0" y="304.9" font-size="23" text-anchor="end">20</text>
<line x1="1011.0" y1="370.7" x2="1026.4" y2="370.7" stroke="#000" stroke-width="2.5"/>
<text x="1006.0" y="378.9" font-size="23" text-anchor="end">15</text>
<line x1="1011.0" y1="444.4" x2="1026.4" y2="444.4" stroke="#000" stroke-width="2.5"/>
<text x="1006.0" y="452.6" font-size="23" text-anchor="end">10</text>
<line x1="1011.0" y1="518.7" x2="1026.4" y2="518.7" stroke="#000" stroke-width="2.5"/>
<text x="1006.0" y="526.9" font-size="23" text-anchor="end">5</text>
<line x1="1011.0" y1="591.6" x2="1026.4" y2="591.6" stroke="#000" stroke-width="2.5"/>
<text x="1006.0" y="599.8" font-size="23" text-anchor="end">0</text>
<line x1="1011.0" y1="591.6" x2="1274.2" y2="591.6" stroke="#000" stroke-width="2.5"/>
<line x1="1093.0" y1="591.6" x2="1093.0" y2="603.0" stroke="#000" stroke-width="2.5"/>
<line x1="1205.0" y1="591.6" x2="1205.0" y2="603.0" stroke="#000" stroke-width="2.5"/>
<text x="1064.8" y="632.0" font-size="23" text-anchor="start" textLength="46.8" lengthAdjust="spacingAndGlyphs">Cre-</text>
<text x="1179.5" y="632.0" font-size="23" text-anchor="start" textLength="48.5" lengthAdjust="spacingAndGlyphs">cKO</text>
<line x1="1068.8" y1="282.7" x2="1068.8" y2="378.4" stroke="#000" stroke-width="2.0"/>
<line x1="1058.3" y1="282.7" x2="1079.3" y2="282.7" stroke="#000" stroke-width="2.3"/>
<line x1="1058.3" y1="378.4" x2="1079.3" y2="378.4" stroke="#000" stroke-width="2.3"/>
<line x1="1116.7" y1="354.3" x2="1116.7" y2="477.7" stroke="#000" stroke-width="2.0"/>
<line x1="1106.2" y1="354.3" x2="1127.2" y2="354.3" stroke="#000" stroke-width="2.3"/>
<line x1="1106.2" y1="477.7" x2="1127.2" y2="477.7" stroke="#000" stroke-width="2.3"/>
<line x1="1180.0" y1="282.4" x2="1180.0" y2="369.4" stroke="#000" stroke-width="2.0"/>
<line x1="1169.5" y1="282.4" x2="1190.5" y2="282.4" stroke="#000" stroke-width="2.3"/>
<line x1="1169.5" y1="369.4" x2="1190.5" y2="369.4" stroke="#000" stroke-width="2.3"/>
<line x1="1228.0" y1="291.4" x2="1228.0" y2="383.8" stroke="#000" stroke-width="2.0"/>
<line x1="1217.5" y1="291.4" x2="1238.5" y2="291.4" stroke="#000" stroke-width="2.3"/>
<line x1="1217.5" y1="383.8" x2="1238.5" y2="383.8" stroke="#000" stroke-width="2.3"/>
<circle cx="1058.4" cy="279.3" r="9.9" fill="#fff" stroke="#000" stroke-width="2.3"/>
<circle cx="1068.6" cy="272.9" r="9.9" fill="#fff" stroke="#000" stroke-width="2.3"/>
<circle cx="1068.6" cy="294.2" r="9.9" fill="#fff" stroke="#000" stroke-width="2.3"/>
<circle cx="1057.9" cy="346.7" r="9.9" fill="#fff" stroke="#000" stroke-width="2.3"/>
<circle cx="1080.9" cy="361.8" r="9.9" fill="#fff" stroke="#000" stroke-width="2.3"/>
<circle cx="1068.6" cy="365.1" r="9.9" fill="#fff" stroke="#000" stroke-width="2.3"/>
<circle cx="1068.6" cy="395.8" r="9.9" fill="#fff" stroke="#000" stroke-width="2.3"/>
<circle cx="1105.2" cy="336.9" r="9.9" fill="#fff" stroke="#000" stroke-width="2.3"/>
<circle cx="1116.0" cy="340.3" r="9.9" fill="#fff" stroke="#000" stroke-width="2.3"/>
<circle cx="1105.7" cy="358.2" r="9.9" fill="#fff" stroke="#000" stroke-width="2.3"/>
<circle cx="1127.8" cy="372.0" r="9.9" fill="#fff" stroke="#000" stroke-width="2.3"/>
<circle cx="1116.0" cy="383.8" r="9.9" fill="#fff" stroke="#000" stroke-width="2.3"/>
<circle cx="1127.8" cy="429.1" r="9.9" fill="#fff" stroke="#000" stroke-width="2.3"/>
<circle cx="1116.8" cy="436.8" r="9.9" fill="#fff" stroke="#000" stroke-width="2.3"/>
<circle cx="1105.7" cy="447.8" r="9.9" fill="#fff" stroke="#000" stroke-width="2.3"/>
<circle cx="1127.8" cy="454.7" r="9.9" fill="#fff" stroke="#000" stroke-width="2.3"/>
<circle cx="1116.8" cy="494.3" r="9.9" fill="#fff" stroke="#000" stroke-width="2.3"/>
<circle cx="1116.8" cy="518.7" r="9.9" fill="#fff" stroke="#000" stroke-width="2.3"/>
<circle cx="1180.2" cy="265.3" r="9.9" fill="#fff" stroke="#000" stroke-width="2.3"/>
<circle cx="1169.2" cy="296.7" r="9.9" fill="#fff" stroke="#000" stroke-width="2.3"/>
<circle cx="1169.2" cy="319.0" r="9.9" fill="#fff" stroke="#000" stroke-width="2.3"/>
<circle cx="1180.2" cy="314.4" r="9.9" fill="#fff" stroke="#000" stroke-width="2.3"/>
<circle cx="1191.7" cy="332.6" r="9.9" fill="#fff" stroke="#000" stroke-width="2.3"/>
<circle cx="1180.2" cy="344.1" r="9.9" fill="#fff" stroke="#000" stroke-width="2.3"/>
<circle cx="1180.2" cy="407.3" r="9.9" fill="#fff" stroke="#000" stroke-width="2.3"/>
<circle cx="1222.5" cy="273.5" r="9.9" fill="#fff" stroke="#000" stroke-width="2.3"/>
<circle cx="1233.2" cy="267.3" r="9.9" fill="#fff" stroke="#000" stroke-width="2.3"/>
<circle cx="1217.3" cy="313.4" r="9.9" fill="#fff" stroke="#000" stroke-width="2.3"/>
<circle cx="1228.1" cy="304.2" r="9.9" fill="#fff" stroke="#000" stroke-width="2.3"/>
<circle cx="1239.6" cy="320.3" r="9.9" fill="#fff" stroke="#000" stroke-width="2.3"/>
<circle cx="1227.6" cy="345.9" r="9.9" fill="#fff" stroke="#000" stroke-width="2.3"/>
<circle cx="1217.3" cy="356.1" r="9.9" fill="#fff" stroke="#000" stroke-width="2.3"/>
<circle cx="1239.6" cy="362.5" r="9.9" fill="#fff" stroke="#000" stroke-width="2.3"/>
<circle cx="1227.6" cy="371.0" r="9.9" fill="#fff" stroke="#000" stroke-width="2.3"/>
<circle cx="1222.5" cy="403.5" r="9.9" fill="#fff" stroke="#000" stroke-width="2.3"/>
<circle cx="1233.2" cy="397.1" r="9.9" fill="#fff" stroke="#000" stroke-width="2.3"/>
<line x1="1063.8" y1="247.5" x2="1111.6" y2="247.5" stroke="#000" stroke-width="3.0"/>
<text x="1093.7" y="251.0" font-size="27" text-anchor="middle" textLength="20.6" lengthAdjust="spacingAndGlyphs">**</text>
<line x1="1115.0" y1="247.5" x2="1235.0" y2="247.5" stroke="#000" stroke-width="3.0"/>
<text x="1181.0" y="251.0" font-size="27" text-anchor="middle" textLength="20.6" lengthAdjust="spacingAndGlyphs">**</text>
<rect x="1006.7" y="180.0" width="26.9" height="13.8" fill="#22a078"/>
<rect x="1153.0" y="180.0" width="27.0" height="13.8" fill="#7570b6"/>
<text x="1043.0" y="195.8" font-size="24" text-anchor="start" textLength="92.4" lengthAdjust="spacingAndGlyphs">Olive oil</text>
<text x="1189.0" y="195.8" font-size="24" text-anchor="start" textLength="38.6" lengthAdjust="spacingAndGlyphs">CCl</text>
<text x="1229.5" y="203.8" font-size="13" text-anchor="start">4</text>
<text transform="translate(943.6,400.0) rotate(-90)" x="0" y="0" font-size="24" text-anchor="middle" textLength="360.0" lengthAdjust="spacingAndGlyphs">Bone volume per tissue volume</text>
<text transform="translate(975.6,400.3) rotate(-90)" x="0" y="0" font-size="24" text-anchor="middle" textLength="34.6" lengthAdjust="spacingAndGlyphs">(%)</text>
<text x="1382.0" y="31.0" font-size="34" text-anchor="start">C</text>
<rect x="1516.0" y="378.3" width="37.5" height="218.4" fill="#22a078" stroke="#000" stroke-width="2.6"/>
<rect x="1563.9" y="456.9" width="37.0" height="139.8" fill="#7570b6" stroke="#000" stroke-width="2.6"/>
<rect x="1627.3" y="372.7" width="37.4" height="224.0" fill="#22a078" stroke="#000" stroke-width="2.6"/>
<rect x="1675.8" y="387.2" width="37.3" height="209.5" fill="#7570b6" stroke="#000" stroke-width="2.6"/>
<line x1="1492.0" y1="224.8" x2="1492.0" y2="597.9" stroke="#000" stroke-width="2.5"/>
<line x1="1477.0" y1="226.0" x2="1492.0" y2="226.0" stroke="#000" stroke-width="2.5"/>
<text x="1476.4" y="234.2" font-size="23" text-anchor="end">150</text>
<line x1="1477.0" y1="350.3" x2="1492.0" y2="350.3" stroke="#000" stroke-width="2.5"/>
<text x="1476.4" y="358.5" font-size="23" text-anchor="end">100</text>
<line x1="1477.0" y1="473.4" x2="1492.0" y2="473.4" stroke="#000" stroke-width="2.5"/>
<text x="1476.4" y="481.6" font-size="23" text-anchor="end">50</text>
<line x1="1477.0" y1="596.7" x2="1492.0" y2="596.7" stroke="#000" stroke-width="2.5"/>
<text x="1476.4" y="604.9" font-size="23" text-anchor="end">0</text>
<line x1="1476.4" y1="596.7" x2="1740.7" y2="596.7" stroke="#000" stroke-width="2.5"/>
<line x1="1559.2" y1="596.7" x2="1559.2" y2="607.4" stroke="#000" stroke-width="2.5"/>
<line x1="1671.6" y1="596.7" x2="1671.6" y2="607.4" stroke="#000" stroke-width="2.5"/>
<text x="1538.5" y="637.4" font-size="23" text-anchor="start" textLength="47.0" lengthAdjust="spacingAndGlyphs">Cre-</text>
<text x="1653.0" y="637.4" font-size="23" text-anchor="start" textLength="47.6" lengthAdjust="spacingAndGlyphs">cKO</text>
<line x1="1534.7" y1="309.5" x2="1534.7" y2="441.5" stroke="#000" stroke-width="2.0"/>
<line x1="1524.2" y1="309.5" x2="1545.2" y2="309.5" stroke="#000" stroke-width="2.3"/>
<line x1="1524.2" y1="441.5" x2="1545.2" y2="441.5" stroke="#000" stroke-width="2.3"/>
<line x1="1582.2" y1="387.0" x2="1582.2" y2="521.7" stroke="#000" stroke-width="2.0"/>
<line x1="1571.7" y1="387.0" x2="1592.7" y2="387.0" stroke="#000" stroke-width="2.3"/>
<line x1="1571.7" y1="521.7" x2="1592.7" y2="521.7" stroke="#000" stroke-width="2.3"/>
<line x1="1646.7" y1="309.0" x2="1646.7" y2="430.0" stroke="#000" stroke-width="2.0"/>
<line x1="1636.2" y1="309.0" x2="1657.2" y2="309.0" stroke="#000" stroke-width="2.3"/>
<line x1="1636.2" y1="430.0" x2="1657.2" y2="430.0" stroke="#000" stroke-width="2.3"/>
<line x1="1695.0" y1="320.2" x2="1695.0" y2="447.6" stroke="#000" stroke-width="2.0"/>
<line x1="1684.5" y1="320.2" x2="1705.5" y2="320.2" stroke="#000" stroke-width="2.3"/>
<line x1="1684.5" y1="447.6" x2="1705.5" y2="447.6" stroke="#000" stroke-width="2.3"/>
<circle cx="1523.6" cy="299.1" r="9.9" fill="#fff" stroke="#000" stroke-width="2.3"/>
<circle cx="1545.9" cy="303.5" r="9.9" fill="#fff" stroke="#000" stroke-width="2.3"/>
<circle cx="1534.7" cy="323.6" r="9.9" fill="#fff" stroke="#000" stroke-width="2.3"/>
<circle cx="1534.7" cy="397.0" r="9.9" fill="#fff" stroke="#000" stroke-width="2.3"/>
<circle cx="1523.6" cy="419.3" r="9.9" fill="#fff" stroke="#000" stroke-width="2.3"/>
<circle cx="1545.9" cy="422.6" r="9.9" fill="#fff" stroke="#000" stroke-width="2.3"/>
<circle cx="1534.7" cy="463.4" r="9.9" fill="#fff" stroke="#000" stroke-width="2.3"/>
<circle cx="1571.5" cy="384.3" r="9.9" fill="#fff" stroke="#000" stroke-width="2.3"/>
<circle cx="1594.2" cy="365.9" r="9.9" fill="#fff" stroke="#000" stroke-width="2.3"/>
<circle cx="1594.2" cy="387.7" r="9.9" fill="#fff" stroke="#000" stroke-width="2.3"/>
<circle cx="1571.5" cy="414.8" r="9.9" fill="#fff" stroke="#000" stroke-width="2.3"/>
<circle cx="1594.2" cy="432.6" r="9.9" fill="#fff" stroke="#000" stroke-width="2.3"/>
<circle cx="1571.5" cy="447.1" r="9.9" fill="#fff" stroke="#000" stroke-width="2.3"/>
<circle cx="1594.2" cy="507.7" r="9.9" fill="#fff" stroke="#000" stroke-width="2.3"/>
<circle cx="1571.5" cy="521.7" r="9.9" fill="#fff" stroke="#000" stroke-width="2.3"/>
<circle cx="1594.2" cy="533.9" r="9.9" fill="#fff" stroke="#000" stroke-width="2.3"/>
<circle cx="1571.5" cy="544.6" r="9.9" fill="#fff" stroke="#000" stroke-width="2.3"/>
<circle cx="1646.0" cy="289.0" r="9.9" fill="#fff" stroke="#000" stroke-width="2.3"/>
<circle cx="1646.0" cy="328.7" r="9.9" fill="#fff" stroke="#000" stroke-width="2.3"/>
<circle cx="1635.6" cy="355.2" r="9.9" fill="#fff" stroke="#000" stroke-width="2.3"/>
<circle cx="1657.8" cy="361.0" r="9.9" fill="#fff" stroke="#000" stroke-width="2.3"/>
<circle cx="1635.6" cy="377.4" r="9.9" fill="#fff" stroke="#000" stroke-width="2.3"/>
<circle cx="1657.8" cy="393.0" r="9.9" fill="#fff" stroke="#000" stroke-width="2.3"/>
<circle cx="1646.0" cy="483.2" r="9.9" fill="#fff" stroke="#000" stroke-width="2.3"/>
<circle cx="1688.8" cy="286.2" r="9.9" fill="#fff" stroke="#000" stroke-width="2.3"/>
<circle cx="1699.9" cy="293.1" r="9.9" fill="#fff" stroke="#000" stroke-width="2.3"/>
<circle cx="1705.5" cy="340.2" r="9.9" fill="#fff" stroke="#000" stroke-width="2.3"/>
<circle cx="1683.2" cy="350.3" r="9.9" fill="#fff" stroke="#000" stroke-width="2.3"/>
<circle cx="1694.4" cy="360.3" r="9.9" fill="#fff" stroke="#000" stroke-width="2.3"/>
<circle cx="1683.2" cy="395.2" r="9.9" fill="#fff" stroke="#000" stroke-width="2.3"/>
<circle cx="1694.4" cy="409.9" r="9.9" fill="#fff" stroke="#000" stroke-width="2.3"/>
<circle cx="1683.2" cy="419.7" r="9.9" fill="#fff" stroke="#000" stroke-width="2.3"/>
<circle cx="1705.5" cy="430.0" r="9.9" fill="#fff" stroke="#000" stroke-width="2.3"/>
<circle cx="1699.9" cy="463.4" r="9.9" fill="#fff" stroke="#000" stroke-width="2.3"/>
<circle cx="1688.8" cy="477.2" r="9.9" fill="#fff" stroke="#000" stroke-width="2.3"/>
<line x1="1527.6" y1="265.4" x2="1575.3" y2="265.4" stroke="#000" stroke-width="3.0"/>
<text x="1556.6" y="269.5" font-size="27" text-anchor="middle" textLength="10.3" lengthAdjust="spacingAndGlyphs">*</text>
<line x1="1578.8" y1="265.4" x2="1699.0" y2="265.4" stroke="#000" stroke-width="3.0"/>
<text x="1646.0" y="269.5" font-size="27" text-anchor="middle" textLength="10.3" lengthAdjust="spacingAndGlyphs">*</text>
<rect x="1472.8" y="184.8" width="26.2" height="13.2" fill="#22a078"/>
<rect x="1619.3" y="184.8" width="26.7" height="13.2" fill="#7570b6"/>
<text x="1506.0" y="200.0" font-size="24" text-anchor="start" textLength="92.8" lengthAdjust="spacingAndGlyphs">Olive oil</text>
<text x="1664.3" y="200.0" font-size="24" text-anchor="start" textLength="38.9" lengthAdjust="spacingAndGlyphs">CCl</text>
<text x="1705.1" y="208.0" font-size="13" text-anchor="start">4</text>
<text transform="translate(1404.2,416.0) rotate(-90)" x="0" y="0" font-size="24" text-anchor="middle" textLength="383.0" lengthAdjust="spacingAndGlyphs">Trabecular bone mineral density</text>
<text transform="translate(1431.9,415.3) rotate(-90)" font-size="24" text-anchor="middle">(mg/cm<tspan font-size="14" dy="-9">3</tspan><tspan dy="9">)</tspan></text>
<text x="923.0" y="955.0" font-size="34" text-anchor="start">E</text>
<rect x="1045.6" y="1121.6" width="37.1" height="262.3" fill="#22a078" stroke="#000" stroke-width="2.6"/>
<rect x="1093.7" y="1206.1" width="36.3" height="177.8" fill="#7570b6" stroke="#000" stroke-width="2.6"/>
<rect x="1157.0" y="1131.3" width="37.0" height="252.6" fill="#22a078" stroke="#000" stroke-width="2.6"/>
<rect x="1205.1" y="1144.1" width="37.0" height="239.8" fill="#7570b6" stroke="#000" stroke-width="2.6"/>
<line x1="1021.3" y1="1012.9" x2="1021.3" y2="1385.1" stroke="#000" stroke-width="2.5"/>
<line x1="1006.7" y1="1014.1" x2="1021.3" y2="1014.1" stroke="#000" stroke-width="2.5"/>
<text x="1003.4" y="1022.3" font-size="23" text-anchor="end">10</text>
<line x1="1006.7" y1="1088.3" x2="1021.3" y2="1088.3" stroke="#000" stroke-width="2.5"/>
<text x="1003.4" y="1096.5" font-size="23" text-anchor="end">8</text>
<line x1="1006.7" y1="1162.5" x2="1021.3" y2="1162.5" stroke="#000" stroke-width="2.5"/>
<text x="1003.4" y="1170.7" font-size="23" text-anchor="end">6</text>
<line x1="1006.7" y1="1236.2" x2="1021.3" y2="1236.2" stroke="#000" stroke-width="2.5"/>
<text x="1003.4" y="1244.4" font-size="23" text-anchor="end">4</text>
<line x1="1006.7" y1="1310.2" x2="1021.3" y2="1310.2" stroke="#000" stroke-width="2.5"/>
<text x="1003.4" y="1318.4" font-size="23" text-anchor="end">2</text>
<line x1="1006.7" y1="1383.9" x2="1021.3" y2="1383.9" stroke="#000" stroke-width="2.5"/>
<text x="1003.4" y="1392.1" font-size="23" text-anchor="end">0</text>
<line x1="1006.7" y1="1383.9" x2="1269.6" y2="1383.9" stroke="#000" stroke-width="2.5"/>
<line x1="1087.8" y1="1383.9" x2="1087.8" y2="1395.5" stroke="#000" stroke-width="2.5"/>
<line x1="1200.4" y1="1383.9" x2="1200.4" y2="1395.5" stroke="#000" stroke-width="2.5"/>
<text x="1066.3" y="1421.0" font-size="23" text-anchor="start" textLength="47.1" lengthAdjust="spacingAndGlyphs">Cre-</text>
<text x="1176.4" y="1421.0" font-size="23" text-anchor="start" textLength="47.1" lengthAdjust="spacingAndGlyphs">cKO</text>
<line x1="1064.0" y1="1103.5" x2="1064.0" y2="1133.0" stroke="#000" stroke-width="2.0"/>
<line x1="1053.5" y1="1103.5" x2="1074.5" y2="1103.5" stroke="#000" stroke-width="2.3"/>
<line x1="1053.5" y1="1133.0" x2="1074.5" y2="1133.0" stroke="#000" stroke-width="2.3"/>
<line x1="1111.6" y1="1151.8" x2="1111.6" y2="1255.0" stroke="#000" stroke-width="2.0"/>
<line x1="1101.1" y1="1151.8" x2="1122.1" y2="1151.8" stroke="#000" stroke-width="2.3"/>
<line x1="1101.1" y1="1255.0" x2="1122.1" y2="1255.0" stroke="#000" stroke-width="2.3"/>
<line x1="1175.6" y1="1061.4" x2="1175.6" y2="1197.0" stroke="#000" stroke-width="2.0"/>
<line x1="1165.1" y1="1061.4" x2="1186.1" y2="1061.4" stroke="#000" stroke-width="2.3"/>
<line x1="1165.1" y1="1197.0" x2="1186.1" y2="1197.0" stroke="#000" stroke-width="2.3"/>
<line x1="1223.0" y1="1090.9" x2="1223.0" y2="1192.0" stroke="#000" stroke-width="2.0"/>
<line x1="1212.5" y1="1090.9" x2="1233.5" y2="1090.9" stroke="#000" stroke-width="2.3"/>
<line x1="1212.5" y1="1192.0" x2="1233.5" y2="1192.0" stroke="#000" stroke-width="2.3"/>
<circle cx="1052.8" cy="1111.9" r="9.9" fill="#fff" stroke="#000" stroke-width="2.3"/>
<circle cx="1074.5" cy="1099.8" r="9.9" fill="#fff" stroke="#000" stroke-width="2.3"/>
<circle cx="1074.5" cy="1124.6" r="9.9" fill="#fff" stroke="#000" stroke-width="2.3"/>
<circle cx="1052.8" cy="1136.9" r="9.9" fill="#fff" stroke="#000" stroke-width="2.3"/>
<circle cx="1101.4" cy="1133.6" r="9.9" fill="#fff" stroke="#000" stroke-width="2.3"/>
<circle cx="1110.4" cy="1131.8" r="9.9" fill="#fff" stroke="#000" stroke-width="2.3"/>
<circle cx="1118.0" cy="1141.3" r="9.9" fill="#fff" stroke="#000" stroke-width="2.3"/>
<circle cx="1111.6" cy="1179.2" r="9.9" fill="#fff" stroke="#000" stroke-width="2.3"/>
<circle cx="1115.5" cy="1211.2" r="9.9" fill="#fff" stroke="#000" stroke-width="2.3"/>
<circle cx="1107.8" cy="1224.5" r="9.9" fill="#fff" stroke="#000" stroke-width="2.3"/>
<circle cx="1100.1" cy="1253.4" r="9.9" fill="#fff" stroke="#000" stroke-width="2.3"/>
<circle cx="1111.6" cy="1252.1" r="9.9" fill="#fff" stroke="#000" stroke-width="2.3"/>
<circle cx="1123.2" cy="1253.4" r="9.9" fill="#fff" stroke="#000" stroke-width="2.3"/>
<circle cx="1175.6" cy="1037.1" r="9.9" fill="#fff" stroke="#000" stroke-width="2.3"/>
<circle cx="1185.9" cy="1032.8" r="9.9" fill="#fff" stroke="#000" stroke-width="2.3"/>
<circle cx="1164.9" cy="1070.4" r="9.9" fill="#fff" stroke="#000" stroke-width="2.3"/>
<circle cx="1175.6" cy="1088.3" r="9.9" fill="#fff" stroke="#000" stroke-width="2.3"/>
<circle cx="1164.9" cy="1104.2" r="9.9" fill="#fff" stroke="#000" stroke-width="2.3"/>
<circle cx="1175.6" cy="1111.3" r="9.9" fill="#fff" stroke="#000" stroke-width="2.3"/>
<circle cx="1175.6" cy="1179.2" r="9.9" fill="#fff" stroke="#000" stroke-width="2.3"/>
<circle cx="1164.9" cy="1187.6" r="9.9" fill="#fff" stroke="#000" stroke-width="2.3"/>
<circle cx="1175.6" cy="1197.1" r="9.9" fill="#fff" stroke="#000" stroke-width="2.3"/>
<circle cx="1186.6" cy="1190.7" r="9.9" fill="#fff" stroke="#000" stroke-width="2.3"/>
<circle cx="1175.6" cy="1220.1" r="9.9" fill="#fff" stroke="#000" stroke-width="2.3"/>
<circle cx="1220.4" cy="1062.2" r="9.9" fill="#fff" stroke="#000" stroke-width="2.3"/>
<circle cx="1226.8" cy="1064.8" r="9.9" fill="#fff" stroke="#000" stroke-width="2.3"/>
<circle cx="1219.9" cy="1099.3" r="9.9" fill="#fff" stroke="#000" stroke-width="2.3"/>
<circle cx="1212.7" cy="1111.9" r="9.9" fill="#fff" stroke="#000" stroke-width="2.3"/>
<circle cx="1219.9" cy="1124.9" r="9.9" fill="#fff" stroke="#000" stroke-width="2.3"/>
<circle cx="1227.6" cy="1133.6" r="9.9" fill="#fff" stroke="#000" stroke-width="2.3"/>
<circle cx="1212.7" cy="1140.8" r="9.9" fill="#fff" stroke="#000" stroke-width="2.3"/>
<circle cx="1233.2" cy="1151.0" r="9.9" fill="#fff" stroke="#000" stroke-width="2.3"/>
<circle cx="1212.7" cy="1162.5" r="9.9" fill="#fff" stroke="#000" stroke-width="2.3"/>
<circle cx="1226.8" cy="1160.0" r="9.9" fill="#fff" stroke="#000" stroke-width="2.3"/>
<circle cx="1219.9" cy="1174.0" r="9.9" fill="#fff" stroke="#000" stroke-width="2.3"/>
<circle cx="1222.5" cy="1206.0" r="9.9" fill="#fff" stroke="#000" stroke-width="2.3"/>
<circle cx="1222.5" cy="1249.6" r="9.9" fill="#fff" stroke="#000" stroke-width="2.3"/>
<line x1="1056.6" y1="1049.7" x2="1104.5" y2="1049.7" stroke="#000" stroke-width="3.0"/>
<text x="1082.2" y="1049.0" font-size="27" text-anchor="middle" textLength="30.9" lengthAdjust="spacingAndGlyphs">***</text>
<line x1="1112.0" y1="1017.0" x2="1232.7" y2="1017.0" stroke="#000" stroke-width="3.0"/>
<text x="1181.0" y="1019.0" font-size="27" text-anchor="middle" textLength="20.6" lengthAdjust="spacingAndGlyphs">**</text>
<rect x="1002.0" y="973.0" width="26.0" height="12.7" fill="#22a078"/>
<rect x="1148.2" y="973.0" width="26.1" height="12.7" fill="#7570b6"/>
<text x="1036.0" y="985.7" font-size="24" text-anchor="start" textLength="92.3" lengthAdjust="spacingAndGlyphs">Olive oil</text>
<text x="1185.0" y="985.7" font-size="24" text-anchor="start" textLength="38.1" lengthAdjust="spacingAndGlyphs">CCl</text>
<text x="1225.0" y="993.7" font-size="13" text-anchor="start">4</text>
<text transform="translate(951.3,1200.2) rotate(-90)" x="0" y="0" font-size="24" text-anchor="middle" textLength="344.4" lengthAdjust="spacingAndGlyphs">Ocn-posisive cell number per</text>
<text transform="translate(975.5,1197.0) rotate(-90)" font-size="24" text-anchor="middle">bone surface(mm<tspan font-size="14" dy="-9">-1</tspan><tspan dy="9">)</tspan></text>
<text x="1383.8" y="954.5" font-size="34" text-anchor="start">F</text>
<rect x="1485.9" y="1302.3" width="38.6" height="80.2" fill="#22a078" stroke="#000" stroke-width="2.6"/>
<rect x="1533.8" y="1348.1" width="38.6" height="34.4" fill="#7570b6" stroke="#000" stroke-width="2.6"/>
<rect x="1598.3" y="1305.2" width="38.2" height="77.3" fill="#22a078" stroke="#000" stroke-width="2.6"/>
<rect x="1646.3" y="1294.0" width="37.9" height="88.5" fill="#7570b6" stroke="#000" stroke-width="2.6"/>
<line x1="1463.0" y1="1009.9" x2="1463.0" y2="1383.7" stroke="#000" stroke-width="2.5"/>
<line x1="1449.0" y1="1011.1" x2="1463.0" y2="1011.1" stroke="#000" stroke-width="2.5"/>
<text x="1448.4" y="1019.3" font-size="23" text-anchor="end">80</text>
<line x1="1449.0" y1="1104.2" x2="1463.0" y2="1104.2" stroke="#000" stroke-width="2.5"/>
<text x="1448.4" y="1112.4" font-size="23" text-anchor="end">60</text>
<line x1="1449.0" y1="1197.0" x2="1463.0" y2="1197.0" stroke="#000" stroke-width="2.5"/>
<text x="1448.4" y="1205.2" font-size="23" text-anchor="end">40</text>
<line x1="1449.0" y1="1289.9" x2="1463.0" y2="1289.9" stroke="#000" stroke-width="2.5"/>
<text x="1448.4" y="1298.1" font-size="23" text-anchor="end">20</text>
<line x1="1449.0" y1="1382.5" x2="1463.0" y2="1382.5" stroke="#000" stroke-width="2.5"/>
<text x="1448.4" y="1390.7" font-size="23" text-anchor="end">0</text>
<line x1="1450.0" y1="1382.5" x2="1711.7" y2="1382.5" stroke="#000" stroke-width="2.5"/>
<line x1="1529.8" y1="1382.5" x2="1529.8" y2="1393.0" stroke="#000" stroke-width="2.5"/>
<line x1="1642.0" y1="1382.5" x2="1642.0" y2="1393.0" stroke="#000" stroke-width="2.5"/>
<text x="1509.0" y="1419.6" font-size="23" text-anchor="start" textLength="47.6" lengthAdjust="spacingAndGlyphs">Cre-</text>
<text x="1622.0" y="1419.6" font-size="23" text-anchor="start" textLength="47.4" lengthAdjust="spacingAndGlyphs">cKO</text>
<line x1="1505.4" y1="1256.0" x2="1505.4" y2="1344.0" stroke="#000" stroke-width="2.0"/>
<line x1="1494.9" y1="1256.0" x2="1515.9" y2="1256.0" stroke="#000" stroke-width="2.3"/>
<line x1="1494.9" y1="1344.0" x2="1515.9" y2="1344.0" stroke="#000" stroke-width="2.3"/>
<line x1="1553.0" y1="1330.0" x2="1553.0" y2="1370.0" stroke="#000" stroke-width="2.0"/>
<line x1="1542.5" y1="1330.0" x2="1563.5" y2="1330.0" stroke="#000" stroke-width="2.3"/>
<line x1="1542.5" y1="1370.0" x2="1563.5" y2="1370.0" stroke="#000" stroke-width="2.3"/>
<line x1="1617.0" y1="1290.0" x2="1617.0" y2="1318.0" stroke="#000" stroke-width="2.0"/>
<line x1="1606.5" y1="1290.0" x2="1627.5" y2="1290.0" stroke="#000" stroke-width="2.3"/>
<line x1="1606.5" y1="1318.0" x2="1627.5" y2="1318.0" stroke="#000" stroke-width="2.3"/>
<line x1="1665.6" y1="1203.7" x2="1665.6" y2="1379.6" stroke="#000" stroke-width="2.0"/>
<line x1="1655.1" y1="1203.7" x2="1676.1" y2="1203.7" stroke="#000" stroke-width="2.3"/>
<line x1="1655.1" y1="1379.6" x2="1676.1" y2="1379.6" stroke="#000" stroke-width="2.3"/>
<circle cx="1505.4" cy="1233.1" r="9.9" fill="#fff" stroke="#000" stroke-width="2.3"/>
<circle cx="1505.4" cy="1255.6" r="9.9" fill="#fff" stroke="#000" stroke-width="2.3"/>
<circle cx="1494.7" cy="1318.8" r="9.9" fill="#fff" stroke="#000" stroke-width="2.3"/>
<circle cx="1504.7" cy="1320.6" r="9.9" fill="#fff" stroke="#000" stroke-width="2.3"/>
<circle cx="1516.9" cy="1329.9" r="9.9" fill="#fff" stroke="#000" stroke-width="2.3"/>
<circle cx="1494.7" cy="1343.9" r="9.9" fill="#fff" stroke="#000" stroke-width="2.3"/>
<circle cx="1553.0" cy="1288.3" r="9.9" fill="#fff" stroke="#000" stroke-width="2.3"/>
<circle cx="1553.0" cy="1296.1" r="9.9" fill="#fff" stroke="#000" stroke-width="2.3"/>
<circle cx="1554.3" cy="1315.0" r="9.9" fill="#fff" stroke="#000" stroke-width="2.3"/>
<circle cx="1552.1" cy="1331.7" r="9.9" fill="#fff" stroke="#000" stroke-width="2.3"/>
<circle cx="1551.4" cy="1346.8" r="9.9" fill="#fff" stroke="#000" stroke-width="2.3"/>
<circle cx="1545.9" cy="1360.6" r="9.9" fill="#fff" stroke="#000" stroke-width="2.3"/>
<circle cx="1559.2" cy="1361.8" r="9.9" fill="#fff" stroke="#000" stroke-width="2.3"/>
<circle cx="1542.5" cy="1372.2" r="9.9" fill="#fff" stroke="#000" stroke-width="2.3"/>
<circle cx="1564.3" cy="1372.9" r="9.9" fill="#fff" stroke="#000" stroke-width="2.3"/>
<circle cx="1607.8" cy="1282.7" r="9.9" fill="#fff" stroke="#000" stroke-width="2.3"/>
<circle cx="1617.8" cy="1280.9" r="9.9" fill="#fff" stroke="#000" stroke-width="2.3"/>
<circle cx="1628.2" cy="1284.5" r="9.9" fill="#fff" stroke="#000" stroke-width="2.3"/>
<circle cx="1617.8" cy="1309.4" r="9.9" fill="#fff" stroke="#000" stroke-width="2.3"/>
<circle cx="1628.9" cy="1325.0" r="9.9" fill="#fff" stroke="#000" stroke-width="2.3"/>
<circle cx="1606.6" cy="1335.0" r="9.9" fill="#fff" stroke="#000" stroke-width="2.3"/>
<circle cx="1665.0" cy="1110.6" r="9.9" fill="#fff" stroke="#000" stroke-width="2.3"/>
<circle cx="1665.0" cy="1170.3" r="9.9" fill="#fff" stroke="#000" stroke-width="2.3"/>
<circle cx="1665.0" cy="1192.6" r="9.9" fill="#fff" stroke="#000" stroke-width="2.3"/>
<circle cx="1665.0" cy="1225.3" r="9.9" fill="#fff" stroke="#000" stroke-width="2.3"/>
<circle cx="1665.0" cy="1270.5" r="9.9" fill="#fff" stroke="#000" stroke-width="2.3"/>
<circle cx="1658.3" cy="1336.6" r="9.9" fill="#fff" stroke="#000" stroke-width="2.3"/>
<circle cx="1667.2" cy="1333.9" r="9.9" fill="#fff" stroke="#000" stroke-width="2.3"/>
<circle cx="1658.3" cy="1351.7" r="9.9" fill="#fff" stroke="#000" stroke-width="2.3"/>
<circle cx="1678.3" cy="1355.1" r="9.9" fill="#fff" stroke="#000" stroke-width="2.3"/>
<circle cx="1667.2" cy="1354.0" r="9.9" fill="#fff" stroke="#000" stroke-width="2.3"/>
<circle cx="1653.8" cy="1362.9" r="9.9" fill="#fff" stroke="#000" stroke-width="2.3"/>
<circle cx="1671.6" cy="1365.8" r="9.9" fill="#fff" stroke="#000" stroke-width="2.3"/>
<line x1="1502.9" y1="1203.3" x2="1550.8" y2="1203.3" stroke="#000" stroke-width="3.0"/>
<text x="1528.0" y="1205.0" font-size="27" text-anchor="middle" textLength="10.3" lengthAdjust="spacingAndGlyphs">*</text>
<line x1="1552.0" y1="1084.6" x2="1671.6" y2="1084.6" stroke="#000" stroke-width="3.0"/>
<text x="1617.0" y="1086.0" font-size="27" text-anchor="middle" textLength="10.3" lengthAdjust="spacingAndGlyphs">*</text>
<rect x="1444.0" y="970.0" width="26.6" height="13.5" fill="#22a078"/>
<rect x="1590.0" y="970.0" width="26.7" height="13.5" fill="#7570b6"/>
<text x="1482.4" y="985.7" font-size="24" text-anchor="start" textLength="92.0" lengthAdjust="spacingAndGlyphs">Olive oil</text>
<text x="1624.2" y="985.7" font-size="24" text-anchor="start" textLength="38.7" lengthAdjust="spacingAndGlyphs">CCl</text>
<text x="1664.9" y="993.7" font-size="13" text-anchor="start">4</text>
<text transform="translate(1404.9,1188.1) rotate(-90)" x="0" y="0" font-size="24" text-anchor="middle" textLength="222.6" lengthAdjust="spacingAndGlyphs">Serum P1NP(ng/ml)</text>
<text x="922.2" y="1648.1" font-size="34" text-anchor="start">H</text>
<rect x="1041.3" y="2034.3" width="37.0" height="106.3" fill="#22a078" stroke="#000" stroke-width="2.6"/>
<rect x="1089.9" y="1933.3" width="36.6" height="207.3" fill="#7570b6" stroke="#000" stroke-width="2.6"/>
<rect x="1153.1" y="2071.8" width="37.3" height="68.8" fill="#22a078" stroke="#000" stroke-width="2.6"/>
<rect x="1201.3" y="2067.2" width="37.0" height="73.4" fill="#7570b6" stroke="#000" stroke-width="2.6"/>
<line x1="1017.7" y1="1769.0" x2="1017.7" y2="2141.8" stroke="#000" stroke-width="2.5"/>
<line x1="1002.9" y1="1770.2" x2="1017.7" y2="1770.2" stroke="#000" stroke-width="2.5"/>
<text x="1000.3" y="1778.4" font-size="23" text-anchor="end">8</text>
<line x1="1002.9" y1="1863.7" x2="1017.7" y2="1863.7" stroke="#000" stroke-width="2.5"/>
<text x="1000.3" y="1871.9" font-size="23" text-anchor="end">6</text>
<line x1="1002.9" y1="1955.8" x2="1017.7" y2="1955.8" stroke="#000" stroke-width="2.5"/>
<text x="1000.3" y="1964.0" font-size="23" text-anchor="end">4</text>
<line x1="1002.9" y1="2048.0" x2="1017.7" y2="2048.0" stroke="#000" stroke-width="2.5"/>
<text x="1000.3" y="2056.2" font-size="23" text-anchor="end">2</text>
<line x1="1002.9" y1="2140.6" x2="1017.7" y2="2140.6" stroke="#000" stroke-width="2.5"/>
<text x="1000.3" y="2148.8" font-size="23" text-anchor="end">0</text>
<line x1="1002.9" y1="2140.6" x2="1265.7" y2="2140.6" stroke="#000" stroke-width="2.5"/>
<line x1="1084.2" y1="2140.6" x2="1084.2" y2="2150.3" stroke="#000" stroke-width="2.5"/>
<line x1="1196.0" y1="2140.6" x2="1196.0" y2="2150.3" stroke="#000" stroke-width="2.5"/>
<text x="1063.0" y="2172.0" font-size="23" text-anchor="start" textLength="46.8" lengthAdjust="spacingAndGlyphs">Cre-</text>
<text x="1172.6" y="2172.0" font-size="23" text-anchor="start" textLength="47.4" lengthAdjust="spacingAndGlyphs">cKO</text>
<line x1="1059.8" y1="2020.0" x2="1059.8" y2="2045.0" stroke="#000" stroke-width="2.0"/>
<line x1="1049.3" y1="2020.0" x2="1070.3" y2="2020.0" stroke="#000" stroke-width="2.3"/>
<line x1="1049.3" y1="2045.0" x2="1070.3" y2="2045.0" stroke="#000" stroke-width="2.3"/>
<line x1="1107.3" y1="1851.6" x2="1107.3" y2="2008.8" stroke="#000" stroke-width="2.0"/>
<line x1="1096.8" y1="1851.6" x2="1117.8" y2="1851.6" stroke="#000" stroke-width="2.3"/>
<line x1="1096.8" y1="2008.8" x2="1117.8" y2="2008.8" stroke="#000" stroke-width="2.3"/>
<line x1="1171.8" y1="2031.8" x2="1171.8" y2="2105.0" stroke="#000" stroke-width="2.0"/>
<line x1="1161.3" y1="2031.8" x2="1182.3" y2="2031.8" stroke="#000" stroke-width="2.3"/>
<line x1="1161.3" y1="2105.0" x2="1182.3" y2="2105.0" stroke="#000" stroke-width="2.3"/>
<line x1="1220.0" y1="2022.9" x2="1220.0" y2="2100.0" stroke="#000" stroke-width="2.0"/>
<line x1="1209.5" y1="2022.9" x2="1230.5" y2="2022.9" stroke="#000" stroke-width="2.3"/>
<line x1="1209.5" y1="2100.0" x2="1230.5" y2="2100.0" stroke="#000" stroke-width="2.3"/>
<circle cx="1046.4" cy="2035.9" r="9.9" fill="#fff" stroke="#000" stroke-width="2.3"/>
<circle cx="1056.6" cy="2024.9" r="9.9" fill="#fff" stroke="#000" stroke-width="2.3"/>
<circle cx="1072.0" cy="2027.5" r="9.9" fill="#fff" stroke="#000" stroke-width="2.3"/>
<circle cx="1063.8" cy="2033.4" r="9.9" fill="#fff" stroke="#000" stroke-width="2.3"/>
<circle cx="1107.3" cy="1820.1" r="9.9" fill="#fff" stroke="#000" stroke-width="2.3"/>
<circle cx="1107.3" cy="1931.0" r="9.9" fill="#fff" stroke="#000" stroke-width="2.3"/>
<circle cx="1119.3" cy="1978.3" r="9.9" fill="#fff" stroke="#000" stroke-width="2.3"/>
<circle cx="1096.3" cy="1992.9" r="9.9" fill="#fff" stroke="#000" stroke-width="2.3"/>
<circle cx="1171.8" cy="2014.7" r="9.9" fill="#fff" stroke="#000" stroke-width="2.3"/>
<circle cx="1171.8" cy="2051.8" r="9.9" fill="#fff" stroke="#000" stroke-width="2.3"/>
<circle cx="1160.3" cy="2082.0" r="9.9" fill="#fff" stroke="#000" stroke-width="2.3"/>
<circle cx="1183.3" cy="2084.5" r="9.9" fill="#fff" stroke="#000" stroke-width="2.3"/>
<circle cx="1171.8" cy="2108.1" r="9.9" fill="#fff" stroke="#000" stroke-width="2.3"/>
<circle cx="1219.9" cy="2012.1" r="9.9" fill="#fff" stroke="#000" stroke-width="2.3"/>
<circle cx="1208.9" cy="2059.0" r="9.9" fill="#fff" stroke="#000" stroke-width="2.3"/>
<circle cx="1231.2" cy="2060.0" r="9.9" fill="#fff" stroke="#000" stroke-width="2.3"/>
<circle cx="1219.9" cy="2095.8" r="9.9" fill="#fff" stroke="#000" stroke-width="2.3"/>
<line x1="1058.7" y1="1800.4" x2="1107.3" y2="1800.4" stroke="#000" stroke-width="3.0"/>
<text x="1089.9" y="1798.0" font-size="27" text-anchor="middle" textLength="10.3" lengthAdjust="spacingAndGlyphs">*</text>
<line x1="1112.4" y1="1801.4" x2="1233.2" y2="1801.4" stroke="#000" stroke-width="3.0"/>
<text x="1175.6" y="1798.0" font-size="27" text-anchor="middle" textLength="10.3" lengthAdjust="spacingAndGlyphs">*</text>
<rect x="998.2" y="1728.0" width="26.9" height="14.0" fill="#22a078"/>
<rect x="1144.4" y="1728.0" width="26.9" height="14.0" fill="#7570b6"/>
<text x="1041.2" y="1745.4" font-size="24" text-anchor="start" textLength="91.7" lengthAdjust="spacingAndGlyphs">Olive oil</text>
<text x="1184.0" y="1745.4" font-size="24" text-anchor="start" textLength="38.9" lengthAdjust="spacingAndGlyphs">CCl</text>
<text x="1224.8" y="1753.4" font-size="13" text-anchor="start">4</text>
<text transform="translate(954.6,1957.7) rotate(-90)" x="0" y="0" font-size="24" text-anchor="middle" textLength="413.0" lengthAdjust="spacingAndGlyphs">Osteoclast surface per bone surface</text>
<text transform="translate(980.6,1957.7) rotate(-90)" x="0" y="0" font-size="24" text-anchor="middle" textLength="34.6" lengthAdjust="spacingAndGlyphs">(%)</text>
<text x="1382.9" y="1661.2" font-size="34" text-anchor="start">I</text>
<rect x="1497.7" y="1985.0" width="36.8" height="153.0" fill="#22a078" stroke="#000" stroke-width="2.6"/>
<rect x="1545.6" y="1933.2" width="37.3" height="204.8" fill="#7570b6" stroke="#000" stroke-width="2.6"/>
<rect x="1609.1" y="1984.6" width="37.9" height="153.4" fill="#22a078" stroke="#000" stroke-width="2.6"/>
<rect x="1657.3" y="2006.2" width="36.9" height="131.8" fill="#7570b6" stroke="#000" stroke-width="2.6"/>
<line x1="1473.5" y1="1765.9" x2="1473.5" y2="2139.2" stroke="#000" stroke-width="2.5"/>
<line x1="1459.0" y1="1767.1" x2="1473.5" y2="1767.1" stroke="#000" stroke-width="2.5"/>
<text x="1457.3" y="1775.3" font-size="23" text-anchor="end">50</text>
<line x1="1459.0" y1="1841.9" x2="1473.5" y2="1841.9" stroke="#000" stroke-width="2.5"/>
<text x="1457.3" y="1850.1" font-size="23" text-anchor="end">40</text>
<line x1="1459.0" y1="1915.8" x2="1473.5" y2="1915.8" stroke="#000" stroke-width="2.5"/>
<text x="1457.3" y="1924.0" font-size="23" text-anchor="end">30</text>
<line x1="1459.0" y1="1990.4" x2="1473.5" y2="1990.4" stroke="#000" stroke-width="2.5"/>
<text x="1457.3" y="1998.6" font-size="23" text-anchor="end">20</text>
<line x1="1459.0" y1="2064.3" x2="1473.5" y2="2064.3" stroke="#000" stroke-width="2.5"/>
<text x="1457.3" y="2072.5" font-size="23" text-anchor="end">10</text>
<line x1="1459.0" y1="2138.0" x2="1473.5" y2="2138.0" stroke="#000" stroke-width="2.5"/>
<text x="1457.3" y="2146.2" font-size="23" text-anchor="end">0</text>
<line x1="1459.0" y1="2138.0" x2="1722.9" y2="2138.0" stroke="#000" stroke-width="2.5"/>
<line x1="1541.0" y1="2138.0" x2="1541.0" y2="2147.4" stroke="#000" stroke-width="2.5"/>
<line x1="1653.2" y1="2138.0" x2="1653.2" y2="2147.4" stroke="#000" stroke-width="2.5"/>
<text x="1519.6" y="2169.6" font-size="23" text-anchor="start" textLength="47.4" lengthAdjust="spacingAndGlyphs">Cre-</text>
<text x="1629.4" y="2169.6" font-size="23" text-anchor="start" textLength="47.8" lengthAdjust="spacingAndGlyphs">cKO</text>
<line x1="1516.3" y1="1939.2" x2="1516.3" y2="2017.1" stroke="#000" stroke-width="2.0"/>
<line x1="1505.8" y1="1939.2" x2="1526.8" y2="1939.2" stroke="#000" stroke-width="2.3"/>
<line x1="1505.8" y1="2017.1" x2="1526.8" y2="2017.1" stroke="#000" stroke-width="2.3"/>
<line x1="1563.7" y1="1879.5" x2="1563.7" y2="1988.0" stroke="#000" stroke-width="2.0"/>
<line x1="1553.2" y1="1879.5" x2="1574.2" y2="1879.5" stroke="#000" stroke-width="2.3"/>
<line x1="1553.2" y1="1988.0" x2="1574.2" y2="1988.0" stroke="#000" stroke-width="2.3"/>
<line x1="1628.2" y1="1945.9" x2="1628.2" y2="2017.0" stroke="#000" stroke-width="2.0"/>
<line x1="1617.7" y1="1945.9" x2="1638.7" y2="1945.9" stroke="#000" stroke-width="2.3"/>
<line x1="1617.7" y1="2017.0" x2="1638.7" y2="2017.0" stroke="#000" stroke-width="2.3"/>
<line x1="1676.8" y1="1959.7" x2="1676.8" y2="2040.0" stroke="#000" stroke-width="2.0"/>
<line x1="1666.3" y1="1959.7" x2="1687.3" y2="1959.7" stroke="#000" stroke-width="2.3"/>
<line x1="1666.3" y1="2040.0" x2="1687.3" y2="2040.0" stroke="#000" stroke-width="2.3"/>
<circle cx="1516.3" cy="1915.8" r="9.9" fill="#fff" stroke="#000" stroke-width="2.3"/>
<circle cx="1504.7" cy="1978.2" r="9.9" fill="#fff" stroke="#000" stroke-width="2.3"/>
<circle cx="1527.6" cy="1978.2" r="9.9" fill="#fff" stroke="#000" stroke-width="2.3"/>
<circle cx="1516.3" cy="1992.6" r="9.9" fill="#fff" stroke="#000" stroke-width="2.3"/>
<circle cx="1516.3" cy="2022.7" r="9.9" fill="#fff" stroke="#000" stroke-width="2.3"/>
<circle cx="1563.7" cy="1851.3" r="9.9" fill="#fff" stroke="#000" stroke-width="2.3"/>
<circle cx="1575.3" cy="1885.3" r="9.9" fill="#fff" stroke="#000" stroke-width="2.3"/>
<circle cx="1563.7" cy="1890.2" r="9.9" fill="#fff" stroke="#000" stroke-width="2.3"/>
<circle cx="1563.7" cy="1919.2" r="9.9" fill="#fff" stroke="#000" stroke-width="2.3"/>
<circle cx="1563.7" cy="1951.5" r="9.9" fill="#fff" stroke="#000" stroke-width="2.3"/>
<circle cx="1560.3" cy="1975.9" r="9.9" fill="#fff" stroke="#000" stroke-width="2.3"/>
<circle cx="1575.3" cy="1978.2" r="9.9" fill="#fff" stroke="#000" stroke-width="2.3"/>
<circle cx="1553.0" cy="1988.2" r="9.9" fill="#fff" stroke="#000" stroke-width="2.3"/>
<circle cx="1628.2" cy="1924.7" r="9.9" fill="#fff" stroke="#000" stroke-width="2.3"/>
<circle cx="1628.2" cy="1970.4" r="9.9" fill="#fff" stroke="#000" stroke-width="2.3"/>
<circle cx="1628.2" cy="1991.5" r="9.9" fill="#fff" stroke="#000" stroke-width="2.3"/>
<circle cx="1617.1" cy="2009.8" r="9.9" fill="#fff" stroke="#000" stroke-width="2.3"/>
<circle cx="1639.4" cy="2009.8" r="9.9" fill="#fff" stroke="#000" stroke-width="2.3"/>
<circle cx="1678.3" cy="1919.2" r="9.9" fill="#fff" stroke="#000" stroke-width="2.3"/>
<circle cx="1672.8" cy="1931.4" r="9.9" fill="#fff" stroke="#000" stroke-width="2.3"/>
<circle cx="1686.1" cy="1982.6" r="9.9" fill="#fff" stroke="#000" stroke-width="2.3"/>
<circle cx="1677.2" cy="1991.5" r="9.9" fill="#fff" stroke="#000" stroke-width="2.3"/>
<circle cx="1665.0" cy="1988.2" r="9.9" fill="#fff" stroke="#000" stroke-width="2.3"/>
<circle cx="1669.4" cy="1988.2" r="9.9" fill="#fff" stroke="#000" stroke-width="2.3"/>
<circle cx="1672.8" cy="2027.1" r="9.9" fill="#fff" stroke="#000" stroke-width="2.3"/>
<circle cx="1681.7" cy="2046.1" r="9.9" fill="#fff" stroke="#000" stroke-width="2.3"/>
<circle cx="1672.8" cy="2041.6" r="9.9" fill="#fff" stroke="#000" stroke-width="2.3"/>
<circle cx="1668.3" cy="2059.4" r="9.9" fill="#fff" stroke="#000" stroke-width="2.3"/>
<line x1="1516.9" y1="1818.8" x2="1564.8" y2="1818.8" stroke="#000" stroke-width="3.0"/>
<text x="1544.3" y="1820.5" font-size="27" text-anchor="middle" textLength="10.3" lengthAdjust="spacingAndGlyphs">*</text>
<line x1="1570.8" y1="1819.3" x2="1691.2" y2="1819.3" stroke="#000" stroke-width="3.0"/>
<text x="1629.8" y="1820.5" font-size="27" text-anchor="middle" textLength="10.3" lengthAdjust="spacingAndGlyphs">*</text>
<rect x="1454.6" y="1725.8" width="26.3" height="13.3" fill="#22a078"/>
<rect x="1600.4" y="1725.8" width="27.4" height="13.3" fill="#7570b6"/>
<text x="1491.3" y="1742.0" font-size="24" text-anchor="start" textLength="92.0" lengthAdjust="spacingAndGlyphs">Olive oil</text>
<text x="1639.8" y="1742.0" font-size="24" text-anchor="start" textLength="38.3" lengthAdjust="spacingAndGlyphs">CCl</text>
<text x="1680.1" y="1750.0" font-size="13" text-anchor="start">4</text>
<text transform="translate(1416.4,1954.3) rotate(-90)" x="0" y="0" font-size="24" text-anchor="middle" textLength="237.1" lengthAdjust="spacingAndGlyphs">Serum CTX-1 (ng/ml)</text>
</svg></body></html>
